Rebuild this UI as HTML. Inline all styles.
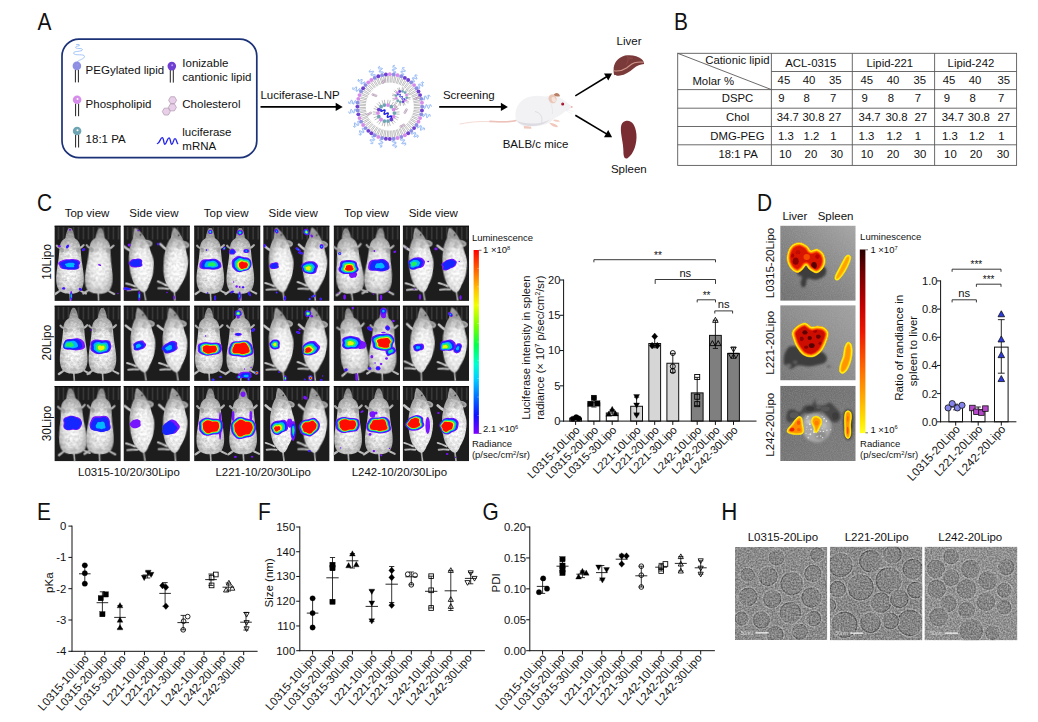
<!DOCTYPE html>
<html><head><meta charset="utf-8"><title>Figure</title>
<style>
html,body{margin:0;padding:0;background:#fff;}
body{width:1038px;height:722px;overflow:hidden;font-family:"Liberation Sans",sans-serif;}
svg{display:block;font-family:"Liberation Sans",sans-serif;}
</style></head><body>
<svg width="1038" height="722" viewBox="0 0 1038 722">
<defs>
<filter id="mblur" x="-10%" y="-10%" width="120%" height="120%"><feGaussianBlur stdDeviation="0.7"/></filter>
<radialGradient id="mg" cx="50%" cy="55%" r="60%"><stop offset="0" stop-color="#f6f6f6"/><stop offset="0.55" stop-color="#dedede"/><stop offset="1" stop-color="#9c9c9c"/></radialGradient><radialGradient id="mg2" cx="55%" cy="55%" r="60%"><stop offset="0" stop-color="#fafafa"/><stop offset="0.6" stop-color="#e6e6e6"/><stop offset="1" stop-color="#a2a2a2"/></radialGradient><filter id="pb" x="-20%" y="-10%" width="140%" height="120%" color-interpolation-filters="sRGB"><feGaussianBlur in="SourceGraphic" stdDeviation="0.55" result="b"/><feTurbulence type="fractalNoise" baseFrequency="0.4" numOctaves="2" seed="5" result="n"/><feColorMatrix in="n" type="matrix" values="1.5 0 0 0 -0.25  1.5 0 0 0 -0.25  1.5 0 0 0 -0.25  0 0 0 0 1" result="g"/><feComposite in="b" in2="g" operator="arithmetic" k1="0.22" k2="0.89" k3="0" k4="0"/></filter><filter id="bb" x="-20%" y="-20%" width="140%" height="140%"><feGaussianBlur stdDeviation="0.32"/></filter><g id="cbg"><rect x="0" y="0" width="66.4" height="75.4" fill="#1d1d1d" stroke="none" stroke-width="1" rx="0" /><rect x="3.2" y="1.5" width="1.7" height="12.5" fill="#3c3c3c" stroke="none" stroke-width="1" rx="0" opacity="0.85"/><rect x="8.2" y="1.5" width="1.7" height="12.5" fill="#3c3c3c" stroke="none" stroke-width="1" rx="0" opacity="0.85"/><rect x="13.2" y="1.5" width="1.7" height="12.5" fill="#3c3c3c" stroke="none" stroke-width="1" rx="0" opacity="0.85"/><rect x="18.2" y="1.5" width="1.7" height="12.5" fill="#3c3c3c" stroke="none" stroke-width="1" rx="0" opacity="0.85"/><rect x="23.2" y="1.5" width="1.7" height="12.5" fill="#3c3c3c" stroke="none" stroke-width="1" rx="0" opacity="0.85"/><rect x="28.2" y="1.5" width="1.7" height="12.5" fill="#3c3c3c" stroke="none" stroke-width="1" rx="0" opacity="0.85"/><rect x="33.2" y="1.5" width="1.7" height="12.5" fill="#3c3c3c" stroke="none" stroke-width="1" rx="0" opacity="0.85"/><rect x="38.2" y="1.5" width="1.7" height="12.5" fill="#3c3c3c" stroke="none" stroke-width="1" rx="0" opacity="0.85"/><rect x="43.2" y="1.5" width="1.7" height="12.5" fill="#3c3c3c" stroke="none" stroke-width="1" rx="0" opacity="0.85"/><rect x="48.2" y="1.5" width="1.7" height="12.5" fill="#3c3c3c" stroke="none" stroke-width="1" rx="0" opacity="0.85"/><rect x="53.2" y="1.5" width="1.7" height="12.5" fill="#3c3c3c" stroke="none" stroke-width="1" rx="0" opacity="0.85"/><rect x="58.2" y="1.5" width="1.7" height="12.5" fill="#3c3c3c" stroke="none" stroke-width="1" rx="0" opacity="0.85"/><rect x="63.2" y="1.5" width="1.7" height="12.5" fill="#3c3c3c" stroke="none" stroke-width="1" rx="0" opacity="0.85"/><rect x="0" y="0" width="66.4" height="1.2" fill="#101010" stroke="none" stroke-width="1" rx="0" /></g><g id="mtop" filter="url(#pb)"><path d="M0 66 L0.6 75.4" fill="none" stroke="#a9a9a9" stroke-width="1.6" /><path d="M-8 64 Q -11 66.5 -14 68.5" fill="none" stroke="#bdbdbd" stroke-width="2.2" stroke-linecap="round"/><path d="M8 64 Q 11 66 15 68" fill="none" stroke="#bdbdbd" stroke-width="2" stroke-linecap="round"/><path d="M-8.5 23 Q -11 22.5 -12.4 20.2" fill="none" stroke="#a8a8a8" stroke-width="2.2" stroke-linecap="round"/><path d="M8.5 23 Q 11 22 12.8 19.6" fill="none" stroke="#a8a8a8" stroke-width="2.2" stroke-linecap="round"/><path d="M-4.6 13.5 Q -3.6 6 -1.2 2.6 L 1.2 2.6 Q 3.6 6 4.6 13.5 Z" fill="#8a8a8a" stroke="none" stroke-width="1" /><path d="M-3 9 Q 0 5 3 9 L 3.8 13.5 L -3.8 13.5 Z" fill="#a2a2a2" stroke="none" stroke-width="1" /><path d="M-4 12.4 C -6.8 13.8, -8.8 16, -9.4 19.5 C -10 23, -10.1 26, -10.5 30 C -11 36, -12.2 42, -12.8 48 C -13.4 54, -13.2 60, -10.8 64 C -8.2 67.6, -3.5 68.4, 0 68.4 C 3.5 68.4, 8.2 67.6, 10.8 64 C 13.2 60, 13.4 54, 12.8 48 C 12.2 42, 11 36, 10.5 30 C 10.1 26, 10 23, 9.4 19.5 C 8.8 16, 6.8 13.8, 4 12.4 Z" fill="url(#mg)" stroke="none" stroke-width="1" /><ellipse cx="-7.5" cy="24.5" rx="2" ry="2.6" fill="#8c8c8c" stroke="none" stroke-width="1" opacity="0.55"/><ellipse cx="7.5" cy="24.5" rx="2" ry="2.6" fill="#8c8c8c" stroke="none" stroke-width="1" opacity="0.55"/><ellipse cx="-3" cy="24" rx="2.2" ry="1.4" fill="#b4b4b4" stroke="none" stroke-width="1" opacity="0.7"/><ellipse cx="3.5" cy="23.5" rx="2" ry="1.3" fill="#b9b9b9" stroke="none" stroke-width="1" opacity="0.6"/><ellipse cx="0" cy="64" rx="3.5" ry="1.8" fill="#b0b0b0" stroke="none" stroke-width="1" opacity="0.7"/><ellipse cx="-4" cy="55" rx="1.2" ry="0.9" fill="#b8b8b8" stroke="none" stroke-width="1" opacity="0.7"/><ellipse cx="4.5" cy="57" rx="1" ry="0.8" fill="#b8b8b8" stroke="none" stroke-width="1" opacity="0.7"/></g><g id="mside" filter="url(#pb)"><path d="M2.2 66 L3.4 75.4" fill="none" stroke="#a9a9a9" stroke-width="1.7" /><path d="M-6 60.5 Q -10 58.5 -15 57" fill="none" stroke="#c4c4c4" stroke-width="2" stroke-linecap="round"/><path d="M-4 63.8 Q -9 63.2 -14 63.8" fill="none" stroke="#bdbdbd" stroke-width="1.9" stroke-linecap="round"/><path d="M-7.5 25 Q -11.5 23 -15 19.6" fill="none" stroke="#c9c9c9" stroke-width="2.6" stroke-linecap="round"/><ellipse cx="9.8" cy="18.2" rx="4.4" ry="3" fill="#a4a4a4" stroke="none" stroke-width="1" transform="rotate(25 9.8 18.2)" /><ellipse cx="9.4" cy="18.2" rx="2.6" ry="1.7" fill="#8a8a8a" stroke="none" stroke-width="1" transform="rotate(25 9.4 18.2)" /><path d="M-5.2 13.4 Q -4.6 6.5 -3.2 2.4 L -1.6 2.2 Q 3.4 5.6 8 15.2 Z" fill="#9c9c9c" stroke="none" stroke-width="1" /><ellipse cx="2.6" cy="9.4" rx="0.9" ry="0.9" fill="#3a3a3a" stroke="none" stroke-width="1" /><path d="M-4.9 12.4 C -7 15, -9 20, -9.5 24.9 C -10.2 28, -10.8 31, -10.6 34 C -10.6 39, -10.6 43, -10 47.6 C -9 53, -7.5 58, -4.9 61.2 C -2.5 64.5, 0 67.2, 2.4 66.9 C 5 66.5, 6.5 63, 7.6 60.1 C 10 56, 12 52, 12.7 47.6 C 13.6 43, 14.2 39, 13.8 35 C 13.4 31, 12.2 28.5, 11.5 26 C 10.8 22, 9.5 18, 7.4 14.6 Z" fill="url(#mg2)" stroke="none" stroke-width="1" /><ellipse cx="3.4" cy="19.5" rx="2.6" ry="3.4" fill="#b4b4b4" stroke="none" stroke-width="1" transform="rotate(20 3.4 19.5)" opacity="0.75"/></g><linearGradient id="rb" x1="0" y1="0" x2="0" y2="1"><stop offset="0" stop-color="#ff0000"/><stop offset="0.10" stop-color="#ff5a00"/><stop offset="0.22" stop-color="#ffc800"/><stop offset="0.30" stop-color="#f0ff00"/><stop offset="0.42" stop-color="#70ff00"/><stop offset="0.52" stop-color="#00ff50"/><stop offset="0.62" stop-color="#00ffd0"/><stop offset="0.70" stop-color="#00d0ff"/><stop offset="0.80" stop-color="#0070ff"/><stop offset="0.90" stop-color="#1010ff"/><stop offset="1" stop-color="#8000ff"/></linearGradient><linearGradient id="hot" x1="0" y1="0" x2="0" y2="1"><stop offset="0" stop-color="#2a0000"/><stop offset="0.12" stop-color="#700000"/><stop offset="0.3" stop-color="#c00000"/><stop offset="0.45" stop-color="#ee1800"/><stop offset="0.65" stop-color="#ff6a00"/><stop offset="0.82" stop-color="#ffb000"/><stop offset="0.94" stop-color="#ffe800"/><stop offset="1" stop-color="#ffff20"/></linearGradient><linearGradient id="dbg1" x1="0" y1="1" x2="1" y2="0"><stop offset="0" stop-color="#6e6e6e"/><stop offset="0.5" stop-color="#868686"/><stop offset="1" stop-color="#a6a6a6"/></linearGradient><linearGradient id="dbg2" x1="0" y1="1" x2="1" y2="0"><stop offset="0" stop-color="#747474"/><stop offset="0.5" stop-color="#8c8c8c"/><stop offset="1" stop-color="#a2a2a2"/></linearGradient><linearGradient id="dbg3" x1="0" y1="0" x2="1" y2="1"><stop offset="0" stop-color="#6a6a6a"/><stop offset="1" stop-color="#7c7c7c"/></linearGradient><filter id="db" x="-20%" y="-20%" width="140%" height="140%"><feGaussianBlur stdDeviation="0.8"/></filter><filter id="db2" x="-20%" y="-20%" width="140%" height="140%"><feGaussianBlur stdDeviation="0.45"/></filter><filter id="dn" x="0" y="0" width="100%" height="100%"><feTurbulence type="fractalNoise" baseFrequency="0.9" numOctaves="2" seed="4"/><feColorMatrix type="matrix" values="0 0 0 0 0.5  0 0 0 0 0.5  0 0 0 0 0.5  0.9 0 0 0 -0.28"/></filter><filter id="tn0" x="0" y="0" width="100%" height="100%" color-interpolation-filters="sRGB"><feTurbulence type="fractalNoise" baseFrequency="0.62" numOctaves="2" seed="11" result="n"/><feColorMatrix in="n" type="matrix" values="1.6 0 0 0 -0.3  1.6 0 0 0 -0.3  1.6 0 0 0 -0.3  0 0 0 0 1" result="g"/><feGaussianBlur in="SourceGraphic" stdDeviation="0.45" result="b"/><feComposite in="b" in2="g" operator="arithmetic" k1="0" k2="1" k3="0.28" k4="-0.14"/></filter><filter id="tn1" x="0" y="0" width="100%" height="100%" color-interpolation-filters="sRGB"><feTurbulence type="fractalNoise" baseFrequency="0.62" numOctaves="2" seed="23" result="n"/><feColorMatrix in="n" type="matrix" values="1.6 0 0 0 -0.3  1.6 0 0 0 -0.3  1.6 0 0 0 -0.3  0 0 0 0 1" result="g"/><feGaussianBlur in="SourceGraphic" stdDeviation="0.45" result="b"/><feComposite in="b" in2="g" operator="arithmetic" k1="0" k2="1" k3="0.28" k4="-0.14"/></filter><filter id="tn2" x="0" y="0" width="100%" height="100%" color-interpolation-filters="sRGB"><feTurbulence type="fractalNoise" baseFrequency="0.62" numOctaves="2" seed="37" result="n"/><feColorMatrix in="n" type="matrix" values="1.6 0 0 0 -0.3  1.6 0 0 0 -0.3  1.6 0 0 0 -0.3  0 0 0 0 1" result="g"/><feGaussianBlur in="SourceGraphic" stdDeviation="0.45" result="b"/><feComposite in="b" in2="g" operator="arithmetic" k1="0" k2="1" k3="0.28" k4="-0.14"/></filter>
</defs>
<rect width="1038" height="722" fill="#fff"/>
<g id="panel_a"><text x="0" y="0" font-size="24" text-anchor="start" fill="#111" transform="translate(37.6 29.7) scale(0.87 1)" >A</text><rect x="62" y="39.1" width="194.8" height="118.6" fill="none" stroke="#1b3278" stroke-width="1.7" rx="17" /><path d="M77.0 62.0 C 79.5 59.5, 84.5 59.0, 84.5 56.4 C 84.5 53.4, 74.0 56.2, 73.6 53.2 C 73.3 50.6, 82.6 52.0, 82.4 49.6 C 82.2 47.6, 75.4 49.4, 75.6 47.2 C 75.8 45.6, 80.0 46.4, 79.6 45.0 C 79.2 44.0, 77.0 44.6, 76.0 44.6" fill="none" stroke="#8fb8f6" stroke-width="0.8" /><line x1="75.4" y1="69.7" x2="75.4" y2="82.4" stroke="#222" stroke-width="1" /><line x1="78.4" y1="69.7" x2="78.4" y2="82.4" stroke="#222" stroke-width="1" /><circle cx="76.9" cy="65.9" r="4.3" fill="#8d90e2" stroke="none" stroke-width="1" /><circle cx="77.3" cy="65.1" r="1" fill="#9f8ff0" stroke="none" stroke-width="1" /><text x="85.6" y="74.1" font-size="11.5" text-anchor="start" fill="#111" >PEGylated lipid</text><line x1="170.3" y1="69.9" x2="170.3" y2="82.6" stroke="#222" stroke-width="1" /><line x1="173.3" y1="69.9" x2="173.3" y2="82.6" stroke="#222" stroke-width="1" /><circle cx="171.8" cy="66.1" r="4.3" fill="#6f3fd2" stroke="none" stroke-width="1" /><circle cx="172.2" cy="65.3" r="1" fill="#b79cf0" stroke="none" stroke-width="1" /><text x="182.3" y="67.1" font-size="11.5" text-anchor="start" fill="#111" >Ionizable</text><text x="182.3" y="80.7" font-size="11.5" text-anchor="start" fill="#111" >cantionic lipid</text><line x1="75.6" y1="103.5" x2="75.6" y2="116.2" stroke="#222" stroke-width="1" /><line x1="78.6" y1="103.5" x2="78.6" y2="116.2" stroke="#222" stroke-width="1" /><circle cx="77.1" cy="99.7" r="4.3" fill="#d58cea" stroke="none" stroke-width="1" /><circle cx="77.5" cy="98.9" r="1" fill="#ffffff" stroke="none" stroke-width="1" /><text x="85.6" y="108.2" font-size="11.5" text-anchor="start" fill="#111" >Phospholipid</text><polygon points="176.6,100.2 174.6,103.66 170.6,103.66 168.6,100.2 170.6,96.74 174.6,96.74" fill="#e8d0e8" stroke="#b095b0" stroke-width="0.7" /><polygon points="176.4,107.4 174.4,110.86 170.4,110.86 168.4,107.4 170.4,103.94 174.4,103.94" fill="#e8d0e8" stroke="#b095b0" stroke-width="0.7" /><polygon points="170.3,111.6 168.3,115.06 164.3,115.06 162.3,111.6 164.3,108.14 168.3,108.14" fill="#e8d0e8" stroke="#b095b0" stroke-width="0.7" /><text x="182.3" y="108.2" font-size="11.5" text-anchor="start" fill="#111" >Cholesterol</text><line x1="75.6" y1="134.8" x2="75.6" y2="147.5" stroke="#222" stroke-width="1" /><line x1="78.6" y1="134.8" x2="78.6" y2="147.5" stroke="#222" stroke-width="1" /><circle cx="77.1" cy="131" r="4.3" fill="#6fa5b3" stroke="none" stroke-width="1" /><circle cx="77.5" cy="130.2" r="1" fill="#ffffff" stroke="none" stroke-width="1" /><text x="85.6" y="143.3" font-size="11.5" text-anchor="start" fill="#111" >18:1 PA</text><path d="M157.4 143.6 C 159.6 143.6, 160.4 137.6, 162.2 137.6 C 164 137.6, 163.4 144.2, 164.9 144.2 C 166.6 144.2, 167.2 137.8, 169.0 137.8 C 170.8 137.8, 170.2 144.2, 171.8 144.2 C 173.4 144.2, 173.4 138.6, 175.0 138.6 C 176.6 138.6, 176.6 143.0, 177.7 143.6" fill="none" stroke="#2222ea" stroke-width="1.35" stroke-linecap="round" stroke-linejoin="round"/><text x="182.3" y="135.8" font-size="11.5" text-anchor="start" fill="#111" >luciferase</text><text x="182.3" y="149.6" font-size="11.5" text-anchor="start" fill="#111" >mRNA</text><text x="260.4" y="99.4" font-size="11.5" text-anchor="start" fill="#111" >Luciferase-LNP</text><line x1="260.5" y1="106.9" x2="336.7" y2="106.9" stroke="#000" stroke-width="1.6" /><polygon points="342.7,106.9 335.7,111 335.7,102.8" fill="#000" stroke="none" stroke-width="1" /><line x1="420.68" y1="105.52" x2="413.79" y2="105.76" stroke="#a2a2a2" stroke-width="0.7" /><line x1="420.68" y1="107.68" x2="413.79" y2="107.44" stroke="#a2a2a2" stroke-width="0.7" /><line x1="420.59" y1="109.25" x2="413.71" y2="108.66" stroke="#a2a2a2" stroke-width="0.7" /><line x1="420.33" y1="111.4" x2="413.51" y2="110.32" stroke="#a2a2a2" stroke-width="0.7" /><line x1="420.04" y1="112.94" x2="413.29" y2="111.52" stroke="#a2a2a2" stroke-width="0.7" /><line x1="419.52" y1="115.04" x2="412.89" y2="113.16" stroke="#a2a2a2" stroke-width="0.7" /><line x1="419.06" y1="116.54" x2="412.52" y2="114.32" stroke="#a2a2a2" stroke-width="0.7" /><line x1="418.29" y1="118.56" x2="411.93" y2="115.89" stroke="#a2a2a2" stroke-width="0.7" /><line x1="417.65" y1="119.99" x2="411.43" y2="117" stroke="#a2a2a2" stroke-width="0.7" /><line x1="416.64" y1="121.91" x2="410.65" y2="118.49" stroke="#a2a2a2" stroke-width="0.7" /><line x1="415.83" y1="123.25" x2="410.02" y2="119.53" stroke="#a2a2a2" stroke-width="0.7" /><line x1="414.6" y1="125.03" x2="409.06" y2="120.92" stroke="#a2a2a2" stroke-width="0.7" /><line x1="413.63" y1="126.27" x2="408.31" y2="121.88" stroke="#a2a2a2" stroke-width="0.7" /><line x1="412.2" y1="127.89" x2="407.2" y2="123.13" stroke="#a2a2a2" stroke-width="0.7" /><line x1="411.09" y1="129" x2="406.33" y2="124" stroke="#a2a2a2" stroke-width="0.7" /><line x1="409.47" y1="130.43" x2="405.08" y2="125.11" stroke="#a2a2a2" stroke-width="0.7" /><line x1="408.23" y1="131.4" x2="404.12" y2="125.86" stroke="#a2a2a2" stroke-width="0.7" /><line x1="406.45" y1="132.63" x2="402.73" y2="126.82" stroke="#a2a2a2" stroke-width="0.7" /><line x1="405.11" y1="133.44" x2="401.69" y2="127.45" stroke="#a2a2a2" stroke-width="0.7" /><line x1="403.19" y1="134.45" x2="400.2" y2="128.23" stroke="#a2a2a2" stroke-width="0.7" /><line x1="401.76" y1="135.09" x2="399.09" y2="128.73" stroke="#a2a2a2" stroke-width="0.7" /><line x1="399.74" y1="135.86" x2="397.52" y2="129.32" stroke="#a2a2a2" stroke-width="0.7" /><line x1="398.24" y1="136.32" x2="396.36" y2="129.69" stroke="#a2a2a2" stroke-width="0.7" /><line x1="396.14" y1="136.84" x2="394.72" y2="130.09" stroke="#a2a2a2" stroke-width="0.7" /><line x1="394.6" y1="137.13" x2="393.52" y2="130.31" stroke="#a2a2a2" stroke-width="0.7" /><line x1="392.45" y1="137.39" x2="391.86" y2="130.51" stroke="#a2a2a2" stroke-width="0.7" /><line x1="390.88" y1="137.48" x2="390.64" y2="130.59" stroke="#a2a2a2" stroke-width="0.7" /><line x1="388.72" y1="137.48" x2="388.96" y2="130.59" stroke="#a2a2a2" stroke-width="0.7" /><line x1="387.15" y1="137.39" x2="387.74" y2="130.51" stroke="#a2a2a2" stroke-width="0.7" /><line x1="385" y1="137.13" x2="386.08" y2="130.31" stroke="#a2a2a2" stroke-width="0.7" /><line x1="383.46" y1="136.84" x2="384.88" y2="130.09" stroke="#a2a2a2" stroke-width="0.7" /><line x1="381.36" y1="136.32" x2="383.24" y2="129.69" stroke="#a2a2a2" stroke-width="0.7" /><line x1="379.86" y1="135.86" x2="382.08" y2="129.32" stroke="#a2a2a2" stroke-width="0.7" /><line x1="377.84" y1="135.09" x2="380.51" y2="128.73" stroke="#a2a2a2" stroke-width="0.7" /><line x1="376.41" y1="134.45" x2="379.4" y2="128.23" stroke="#a2a2a2" stroke-width="0.7" /><line x1="374.49" y1="133.44" x2="377.91" y2="127.45" stroke="#a2a2a2" stroke-width="0.7" /><line x1="373.15" y1="132.63" x2="376.87" y2="126.82" stroke="#a2a2a2" stroke-width="0.7" /><line x1="371.37" y1="131.4" x2="375.48" y2="125.86" stroke="#a2a2a2" stroke-width="0.7" /><line x1="370.13" y1="130.43" x2="374.52" y2="125.11" stroke="#a2a2a2" stroke-width="0.7" /><line x1="368.51" y1="129" x2="373.27" y2="124" stroke="#a2a2a2" stroke-width="0.7" /><line x1="367.4" y1="127.89" x2="372.4" y2="123.13" stroke="#a2a2a2" stroke-width="0.7" /><line x1="365.97" y1="126.27" x2="371.29" y2="121.88" stroke="#a2a2a2" stroke-width="0.7" /><line x1="365" y1="125.03" x2="370.54" y2="120.92" stroke="#a2a2a2" stroke-width="0.7" /><line x1="363.77" y1="123.25" x2="369.58" y2="119.53" stroke="#a2a2a2" stroke-width="0.7" /><line x1="362.96" y1="121.91" x2="368.95" y2="118.49" stroke="#a2a2a2" stroke-width="0.7" /><line x1="361.95" y1="119.99" x2="368.17" y2="117" stroke="#a2a2a2" stroke-width="0.7" /><line x1="361.31" y1="118.56" x2="367.67" y2="115.89" stroke="#a2a2a2" stroke-width="0.7" /><line x1="360.54" y1="116.54" x2="367.08" y2="114.32" stroke="#a2a2a2" stroke-width="0.7" /><line x1="360.08" y1="115.04" x2="366.71" y2="113.16" stroke="#a2a2a2" stroke-width="0.7" /><line x1="359.56" y1="112.94" x2="366.31" y2="111.52" stroke="#a2a2a2" stroke-width="0.7" /><line x1="359.27" y1="111.4" x2="366.09" y2="110.32" stroke="#a2a2a2" stroke-width="0.7" /><line x1="359.01" y1="109.25" x2="365.89" y2="108.66" stroke="#a2a2a2" stroke-width="0.7" /><line x1="358.92" y1="107.68" x2="365.81" y2="107.44" stroke="#a2a2a2" stroke-width="0.7" /><line x1="358.92" y1="105.52" x2="365.81" y2="105.76" stroke="#a2a2a2" stroke-width="0.7" /><line x1="359.01" y1="103.95" x2="365.89" y2="104.54" stroke="#a2a2a2" stroke-width="0.7" /><line x1="359.27" y1="101.8" x2="366.09" y2="102.88" stroke="#a2a2a2" stroke-width="0.7" /><line x1="359.56" y1="100.26" x2="366.31" y2="101.68" stroke="#a2a2a2" stroke-width="0.7" /><line x1="360.08" y1="98.16" x2="366.71" y2="100.04" stroke="#a2a2a2" stroke-width="0.7" /><line x1="360.54" y1="96.66" x2="367.08" y2="98.88" stroke="#a2a2a2" stroke-width="0.7" /><line x1="361.31" y1="94.64" x2="367.67" y2="97.31" stroke="#a2a2a2" stroke-width="0.7" /><line x1="361.95" y1="93.21" x2="368.17" y2="96.2" stroke="#a2a2a2" stroke-width="0.7" /><line x1="362.96" y1="91.29" x2="368.95" y2="94.71" stroke="#a2a2a2" stroke-width="0.7" /><line x1="363.77" y1="89.95" x2="369.58" y2="93.67" stroke="#a2a2a2" stroke-width="0.7" /><line x1="365" y1="88.17" x2="370.54" y2="92.28" stroke="#a2a2a2" stroke-width="0.7" /><line x1="365.97" y1="86.93" x2="371.29" y2="91.32" stroke="#a2a2a2" stroke-width="0.7" /><line x1="367.4" y1="85.31" x2="372.4" y2="90.07" stroke="#a2a2a2" stroke-width="0.7" /><line x1="368.51" y1="84.2" x2="373.27" y2="89.2" stroke="#a2a2a2" stroke-width="0.7" /><line x1="370.13" y1="82.77" x2="374.52" y2="88.09" stroke="#a2a2a2" stroke-width="0.7" /><line x1="371.37" y1="81.8" x2="375.48" y2="87.34" stroke="#a2a2a2" stroke-width="0.7" /><line x1="373.15" y1="80.57" x2="376.87" y2="86.38" stroke="#a2a2a2" stroke-width="0.7" /><line x1="374.49" y1="79.76" x2="377.91" y2="85.75" stroke="#a2a2a2" stroke-width="0.7" /><line x1="376.41" y1="78.75" x2="379.4" y2="84.97" stroke="#a2a2a2" stroke-width="0.7" /><line x1="377.84" y1="78.11" x2="380.51" y2="84.47" stroke="#a2a2a2" stroke-width="0.7" /><line x1="379.86" y1="77.34" x2="382.08" y2="83.88" stroke="#a2a2a2" stroke-width="0.7" /><line x1="381.36" y1="76.88" x2="383.24" y2="83.51" stroke="#a2a2a2" stroke-width="0.7" /><line x1="383.46" y1="76.36" x2="384.88" y2="83.11" stroke="#a2a2a2" stroke-width="0.7" /><line x1="385" y1="76.07" x2="386.08" y2="82.89" stroke="#a2a2a2" stroke-width="0.7" /><line x1="387.15" y1="75.81" x2="387.74" y2="82.69" stroke="#a2a2a2" stroke-width="0.7" /><line x1="388.72" y1="75.72" x2="388.96" y2="82.61" stroke="#a2a2a2" stroke-width="0.7" /><line x1="390.88" y1="75.72" x2="390.64" y2="82.61" stroke="#a2a2a2" stroke-width="0.7" /><line x1="392.45" y1="75.81" x2="391.86" y2="82.69" stroke="#a2a2a2" stroke-width="0.7" /><line x1="394.6" y1="76.07" x2="393.52" y2="82.89" stroke="#a2a2a2" stroke-width="0.7" /><line x1="396.14" y1="76.36" x2="394.72" y2="83.11" stroke="#a2a2a2" stroke-width="0.7" /><line x1="398.24" y1="76.88" x2="396.36" y2="83.51" stroke="#a2a2a2" stroke-width="0.7" /><line x1="399.74" y1="77.34" x2="397.52" y2="83.88" stroke="#a2a2a2" stroke-width="0.7" /><line x1="401.76" y1="78.11" x2="399.09" y2="84.47" stroke="#a2a2a2" stroke-width="0.7" /><line x1="403.19" y1="78.75" x2="400.2" y2="84.97" stroke="#a2a2a2" stroke-width="0.7" /><line x1="405.11" y1="79.76" x2="401.69" y2="85.75" stroke="#a2a2a2" stroke-width="0.7" /><line x1="406.45" y1="80.57" x2="402.73" y2="86.38" stroke="#a2a2a2" stroke-width="0.7" /><line x1="408.23" y1="81.8" x2="404.12" y2="87.34" stroke="#a2a2a2" stroke-width="0.7" /><line x1="409.47" y1="82.77" x2="405.08" y2="88.09" stroke="#a2a2a2" stroke-width="0.7" /><line x1="411.09" y1="84.2" x2="406.33" y2="89.2" stroke="#a2a2a2" stroke-width="0.7" /><line x1="412.2" y1="85.31" x2="407.2" y2="90.07" stroke="#a2a2a2" stroke-width="0.7" /><line x1="413.63" y1="86.93" x2="408.31" y2="91.32" stroke="#a2a2a2" stroke-width="0.7" /><line x1="414.6" y1="88.17" x2="409.06" y2="92.28" stroke="#a2a2a2" stroke-width="0.7" /><line x1="415.83" y1="89.95" x2="410.02" y2="93.67" stroke="#a2a2a2" stroke-width="0.7" /><line x1="416.64" y1="91.29" x2="410.65" y2="94.71" stroke="#a2a2a2" stroke-width="0.7" /><line x1="417.65" y1="93.21" x2="411.43" y2="96.2" stroke="#a2a2a2" stroke-width="0.7" /><line x1="418.29" y1="94.64" x2="411.93" y2="97.31" stroke="#a2a2a2" stroke-width="0.7" /><line x1="419.06" y1="96.66" x2="412.52" y2="98.88" stroke="#a2a2a2" stroke-width="0.7" /><line x1="419.52" y1="98.16" x2="412.89" y2="100.04" stroke="#a2a2a2" stroke-width="0.7" /><line x1="420.04" y1="100.26" x2="413.29" y2="101.68" stroke="#a2a2a2" stroke-width="0.7" /><line x1="420.33" y1="101.8" x2="413.51" y2="102.88" stroke="#a2a2a2" stroke-width="0.7" /><line x1="420.59" y1="103.95" x2="413.71" y2="104.54" stroke="#a2a2a2" stroke-width="0.7" /><path d="M423.7 106.6 L424.02 107.6 L424.34 108.33 L424.66 108.6 L424.98 108.33 L425.3 107.6 L425.62 106.6 L425.95 105.6 L426.27 104.87 L426.59 104.6 L426.91 104.87 L427.23 105.6 L427.55 106.6 L427.87 107.6 L428.19 108.33 L428.51 108.6 L428.83 108.33 L429.15 107.6 L429.47 106.6 L429.8 105.6 L430.12 104.87 L430.44 104.6 L430.76 104.87 L431.08 105.6 L431.4 106.6" fill="none" stroke="#86aef2" stroke-width="0.95" /><path d="M423.7 105.7 L423.96 106.3 L424.22 106.74 L424.47 106.9 L424.73 106.74 L424.99 106.3 L425.25 105.7 L425.51 105.1 L425.77 104.66 L426.02 104.5 L426.28 104.66 L426.54 105.1 L426.8 105.7 L427.06 106.3 L427.32 106.74 L427.57 106.9 L427.83 106.74 L428.09 106.3 L428.35 105.7 L428.61 105.1 L428.87 104.66 L429.12 104.5 L429.38 104.66 L429.64 105.1 L429.9 105.7" fill="none" stroke="#a9c8f7" stroke-width="0.6" /><circle cx="422.2" cy="106.6" r="1.95" fill="#8d90e2" stroke="none" stroke-width="1" /><circle cx="421.96" cy="110.51" r="1.95" fill="#6f3fd2" stroke="none" stroke-width="1" /><path d="M422.71 114.71 L422.79 115.76 L422.92 116.55 L423.17 116.89 L423.55 116.7 L424.03 116.07 L424.58 115.17 L425.13 114.28 L425.62 113.65 L426 113.46 L426.24 113.8 L426.38 114.59 L426.45 115.63 L426.53 116.68 L426.66 117.47 L426.91 117.81 L427.28 117.62 L427.77 116.99 L428.32 116.09 L428.87 115.2 L429.36 114.57 L429.74 114.38 L429.98 114.72 L430.12 115.51 L430.19 116.56" fill="none" stroke="#86aef2" stroke-width="0.95" /><path d="M422.93 113.84 L423.04 114.48 L423.18 114.97 L423.4 115.19 L423.68 115.1 L424.04 114.73 L424.44 114.21 L424.83 113.69 L425.19 113.32 L425.47 113.23 L425.69 113.45 L425.83 113.94 L425.94 114.58 L426.05 115.23 L426.19 115.71 L426.41 115.93 L426.69 115.84 L427.05 115.47 L427.45 114.95 L427.84 114.43 L428.2 114.07 L428.48 113.97 L428.7 114.19 L428.84 114.68 L428.95 115.32" fill="none" stroke="#a9c8f7" stroke-width="0.6" /><circle cx="421.26" cy="114.35" r="1.95" fill="#8d90e2" stroke="none" stroke-width="1" /><circle cx="420.09" cy="118.09" r="1.95" fill="#d58cea" stroke="none" stroke-width="1" /><circle cx="418.49" cy="121.66" r="1.95" fill="#d58cea" stroke="none" stroke-width="1" /><path d="M417.7 125.86 L417.4 126.86 L417.24 127.65 L417.36 128.05 L417.77 128.01 L418.45 127.59 L419.28 126.95 L420.12 126.31 L420.8 125.89 L421.21 125.85 L421.32 126.25 L421.17 127.04 L420.87 128.04 L420.56 129.05 L420.41 129.83 L420.52 130.24 L420.94 130.2 L421.62 129.78 L422.45 129.14 L423.28 128.5 L423.96 128.08 L424.38 128.04 L424.49 128.44 L424.34 129.23 L424.04 130.23" fill="none" stroke="#86aef2" stroke-width="0.95" /><path d="M418.21 125.12 L418.08 125.76 L418.05 126.27 L418.17 126.54 L418.47 126.56 L418.93 126.34 L419.49 126 L420.04 125.65 L420.5 125.44 L420.81 125.45 L420.93 125.73 L420.89 126.24 L420.76 126.88 L420.63 127.52 L420.6 128.03 L420.72 128.31 L421.02 128.32 L421.48 128.11 L422.04 127.76 L422.59 127.41 L423.05 127.2 L423.36 127.21 L423.48 127.49 L423.44 128 L423.31 128.64" fill="none" stroke="#a9c8f7" stroke-width="0.6" /><circle cx="416.46" cy="125.01" r="1.95" fill="#8d90e2" stroke="none" stroke-width="1" /><circle cx="414.05" cy="128.09" r="1.95" fill="#6f3fd2" stroke="none" stroke-width="1" /><path d="M412.28 131.97 L411.74 132.88 L411.41 133.6 L411.42 134.02 L411.83 134.08 L412.6 133.84 L413.56 133.42 L414.52 132.99 L415.28 132.75 L415.69 132.81 L415.7 133.23 L415.37 133.95 L414.83 134.86 L414.3 135.76 L413.96 136.49 L413.97 136.9 L414.39 136.97 L415.15 136.72 L416.11 136.3 L417.07 135.87 L417.83 135.63 L418.24 135.69 L418.26 136.11 L417.92 136.83 L417.39 137.74" fill="none" stroke="#86aef2" stroke-width="0.95" /><path d="M412.95 131.38 L412.68 131.97 L412.52 132.45 L412.57 132.75 L412.86 132.84 L413.36 132.74 L413.98 132.54 L414.6 132.33 L415.1 132.24 L415.39 132.32 L415.44 132.62 L415.29 133.11 L415.01 133.7 L414.73 134.29 L414.57 134.77 L414.62 135.07 L414.92 135.16 L415.42 135.06 L416.04 134.86 L416.66 134.65 L417.16 134.56 L417.45 134.64 L417.5 134.94 L417.34 135.43 L417.06 136.02" fill="none" stroke="#a9c8f7" stroke-width="0.6" /><circle cx="411.29" cy="130.85" r="1.95" fill="#8d90e2" stroke="none" stroke-width="1" /><circle cx="408.21" cy="133.26" r="1.95" fill="#6f3fd2" stroke="none" stroke-width="1" /><circle cx="404.86" cy="135.29" r="1.95" fill="#d58cea" stroke="none" stroke-width="1" /><path d="M401.82 138.3 L401 138.95 L400.43 139.51 L400.29 139.91 L400.66 140.11 L401.45 140.15 L402.5 140.1 L403.55 140.04 L404.35 140.08 L404.72 140.29 L404.58 140.68 L404.01 141.24 L403.19 141.9 L402.37 142.55 L401.79 143.11 L401.66 143.51 L402.02 143.71 L402.82 143.75 L403.87 143.7 L404.92 143.64 L405.72 143.68 L406.08 143.89 L405.94 144.28 L405.37 144.84 L404.55 145.5" fill="none" stroke="#86aef2" stroke-width="0.95" /><path d="M402.66 137.98 L402.19 138.43 L401.87 138.83 L401.82 139.13 L402.06 139.31 L402.56 139.4 L403.21 139.43 L403.86 139.46 L404.37 139.54 L404.61 139.73 L404.55 140.02 L404.23 140.42 L403.76 140.88 L403.29 141.33 L402.97 141.73 L402.91 142.03 L403.16 142.21 L403.66 142.3 L404.31 142.33 L404.96 142.35 L405.47 142.44 L405.71 142.62 L405.65 142.92 L405.33 143.32 L404.86 143.78" fill="none" stroke="#a9c8f7" stroke-width="0.6" /><circle cx="401.29" cy="136.89" r="1.95" fill="#8d90e2" stroke="none" stroke-width="1" /><circle cx="397.55" cy="138.06" r="1.95" fill="#d58cea" stroke="none" stroke-width="1" /><path d="M393.89 140.25 L392.93 140.69 L392.24 141.1 L392.02 141.45 L392.32 141.74 L393.09 141.97 L394.12 142.16 L395.15 142.36 L395.91 142.59 L396.22 142.88 L395.99 143.23 L395.3 143.64 L394.35 144.07 L393.4 144.51 L392.71 144.92 L392.48 145.27 L392.79 145.56 L393.55 145.79 L394.58 145.99 L395.61 146.18 L396.38 146.41 L396.68 146.7 L396.46 147.05 L395.77 147.46 L394.81 147.9" fill="none" stroke="#86aef2" stroke-width="0.95" /><path d="M394.78 140.14 L394.22 140.47 L393.81 140.78 L393.68 141.06 L393.87 141.3 L394.34 141.5 L394.97 141.68 L395.59 141.87 L396.06 142.07 L396.25 142.31 L396.12 142.58 L395.72 142.89 L395.15 143.22 L394.59 143.55 L394.18 143.86 L394.06 144.14 L394.25 144.37 L394.71 144.58 L395.34 144.76 L395.97 144.94 L396.43 145.15 L396.62 145.39 L396.5 145.66 L396.09 145.97 L395.53 146.3" fill="none" stroke="#a9c8f7" stroke-width="0.6" /><circle cx="393.71" cy="138.76" r="1.95" fill="#8d90e2" stroke="none" stroke-width="1" /><circle cx="389.8" cy="139" r="1.95" fill="#6f3fd2" stroke="none" stroke-width="1" /><circle cx="385.89" cy="138.76" r="1.95" fill="#6f3fd2" stroke="none" stroke-width="1" /><path d="M381.69 139.51 L380.64 139.59 L379.85 139.72 L379.51 139.97 L379.7 140.35 L380.33 140.83 L381.23 141.38 L382.12 141.93 L382.75 142.42 L382.94 142.8 L382.6 143.04 L381.81 143.18 L380.77 143.25 L379.72 143.33 L378.93 143.46 L378.59 143.71 L378.78 144.08 L379.41 144.57 L380.31 145.12 L381.2 145.67 L381.83 146.16 L382.02 146.54 L381.68 146.78 L380.89 146.92 L379.84 146.99" fill="none" stroke="#86aef2" stroke-width="0.95" /><path d="M382.56 139.73 L381.92 139.84 L381.43 139.98 L381.21 140.2 L381.3 140.48 L381.67 140.84 L382.19 141.24 L382.71 141.63 L383.08 141.99 L383.17 142.27 L382.95 142.49 L382.46 142.63 L381.82 142.74 L381.17 142.85 L380.69 142.99 L380.47 143.21 L380.56 143.49 L380.93 143.85 L381.45 144.25 L381.97 144.64 L382.33 145 L382.43 145.28 L382.21 145.5 L381.72 145.64 L381.08 145.75" fill="none" stroke="#a9c8f7" stroke-width="0.6" /><circle cx="382.05" cy="138.06" r="1.95" fill="#8d90e2" stroke="none" stroke-width="1" /><circle cx="378.31" cy="136.89" r="1.95" fill="#d58cea" stroke="none" stroke-width="1" /><path d="M374.05 136.62 L373.01 136.44 L372.21 136.38 L371.83 136.54 L371.92 136.95 L372.41 137.57 L373.15 138.32 L373.89 139.07 L374.39 139.69 L374.47 140.1 L374.09 140.26 L373.29 140.21 L372.26 140.03 L371.22 139.85 L370.42 139.79 L370.04 139.95 L370.13 140.36 L370.63 140.98 L371.36 141.73 L372.1 142.48 L372.6 143.1 L372.69 143.51 L372.3 143.67 L371.5 143.62 L370.47 143.43" fill="none" stroke="#86aef2" stroke-width="0.95" /><path d="M374.84 137.04 L374.19 136.99 L373.68 137.01 L373.42 137.16 L373.44 137.47 L373.71 137.9 L374.12 138.41 L374.53 138.92 L374.8 139.35 L374.82 139.65 L374.56 139.81 L374.05 139.83 L373.4 139.78 L372.75 139.73 L372.24 139.75 L371.98 139.91 L372 140.21 L372.27 140.65 L372.68 141.15 L373.09 141.66 L373.36 142.09 L373.38 142.4 L373.12 142.55 L372.61 142.58 L371.96 142.53" fill="none" stroke="#a9c8f7" stroke-width="0.6" /><circle cx="374.74" cy="135.29" r="1.95" fill="#8d90e2" stroke="none" stroke-width="1" /><circle cx="371.39" cy="133.26" r="1.95" fill="#6f3fd2" stroke="none" stroke-width="1" /><circle cx="368.31" cy="130.85" r="1.95" fill="#6f3fd2" stroke="none" stroke-width="1" /><path d="M364.43 129.08 L363.52 128.54 L362.8 128.21 L362.38 128.22 L362.32 128.63 L362.56 129.4 L362.98 130.36 L363.41 131.32 L363.65 132.08 L363.59 132.49 L363.17 132.5 L362.45 132.17 L361.54 131.63 L360.64 131.1 L359.91 130.76 L359.5 130.77 L359.43 131.19 L359.68 131.95 L360.1 132.91 L360.53 133.87 L360.77 134.63 L360.71 135.04 L360.29 135.06 L359.57 134.72 L358.66 134.19" fill="none" stroke="#86aef2" stroke-width="0.95" /><path d="M365.02 129.75 L364.43 129.48 L363.95 129.32 L363.65 129.37 L363.56 129.66 L363.66 130.16 L363.86 130.78 L364.07 131.4 L364.16 131.9 L364.08 132.19 L363.78 132.24 L363.29 132.09 L362.7 131.81 L362.11 131.53 L361.63 131.37 L361.33 131.42 L361.24 131.72 L361.34 132.22 L361.54 132.84 L361.75 133.46 L361.84 133.96 L361.76 134.25 L361.46 134.3 L360.97 134.14 L360.38 133.86" fill="none" stroke="#a9c8f7" stroke-width="0.6" /><circle cx="365.55" cy="128.09" r="1.95" fill="#8d90e2" stroke="none" stroke-width="1" /><circle cx="363.14" cy="125.01" r="1.95" fill="#d58cea" stroke="none" stroke-width="1" /><path d="M359.78 122.35 L359.03 121.62 L358.41 121.12 L358 121.03 L357.84 121.42 L357.9 122.21 L358.08 123.25 L358.26 124.28 L358.32 125.08 L358.16 125.47 L357.75 125.38 L357.12 124.88 L356.37 124.14 L355.63 123.41 L355 122.91 L354.59 122.82 L354.43 123.21 L354.49 124 L354.67 125.04 L354.85 126.07 L354.91 126.87 L354.75 127.26 L354.34 127.17 L353.71 126.67 L352.97 125.93" fill="none" stroke="#86aef2" stroke-width="0.95" /><path d="M360.2 123.15 L359.69 122.74 L359.26 122.47 L358.96 122.45 L358.8 122.71 L358.78 123.22 L358.83 123.87 L358.88 124.52 L358.85 125.03 L358.7 125.29 L358.4 125.27 L357.96 125 L357.46 124.59 L356.95 124.18 L356.52 123.91 L356.21 123.89 L356.06 124.15 L356.03 124.66 L356.08 125.31 L356.13 125.96 L356.11 126.47 L355.96 126.73 L355.65 126.71 L355.22 126.44 L354.71 126.03" fill="none" stroke="#a9c8f7" stroke-width="0.6" /><circle cx="361.11" cy="121.66" r="1.95" fill="#8d90e2" stroke="none" stroke-width="1" /><circle cx="359.51" cy="118.09" r="1.95" fill="#d58cea" stroke="none" stroke-width="1" /><circle cx="358.34" cy="114.35" r="1.95" fill="#6f3fd2" stroke="none" stroke-width="1" /><path d="M356.15 110.69 L355.71 109.73 L355.3 109.04 L354.95 108.82 L354.66 109.12 L354.43 109.89 L354.24 110.92 L354.04 111.95 L353.81 112.71 L353.52 113.02 L353.17 112.79 L352.76 112.1 L352.33 111.15 L351.89 110.2 L351.48 109.51 L351.13 109.28 L350.84 109.59 L350.61 110.35 L350.41 111.38 L350.22 112.41 L349.99 113.18 L349.7 113.48 L349.35 113.26 L348.94 112.57 L348.5 111.61" fill="none" stroke="#86aef2" stroke-width="0.95" /><path d="M356.26 111.58 L355.93 111.02 L355.62 110.61 L355.34 110.48 L355.1 110.67 L354.9 111.14 L354.72 111.77 L354.53 112.39 L354.33 112.86 L354.09 113.05 L353.82 112.92 L353.51 112.52 L353.18 111.95 L352.85 111.39 L352.54 110.98 L352.26 110.86 L352.03 111.05 L351.82 111.51 L351.64 112.14 L351.46 112.77 L351.25 113.23 L351.01 113.42 L350.74 113.3 L350.43 112.89 L350.1 112.33" fill="none" stroke="#a9c8f7" stroke-width="0.6" /><circle cx="357.64" cy="110.51" r="1.95" fill="#8d90e2" stroke="none" stroke-width="1" /><circle cx="357.4" cy="106.6" r="1.95" fill="#6f3fd2" stroke="none" stroke-width="1" /><path d="M356.15 102.51 L355.95 101.48 L355.72 100.72 L355.43 100.41 L355.08 100.64 L354.68 101.33 L354.24 102.28 L353.8 103.24 L353.39 103.92 L353.04 104.15 L352.75 103.85 L352.52 103.08 L352.33 102.05 L352.13 101.02 L351.9 100.25 L351.61 99.95 L351.26 100.18 L350.85 100.86 L350.41 101.82 L349.98 102.77 L349.57 103.46 L349.22 103.69 L348.93 103.38 L348.7 102.62 L348.5 101.59" fill="none" stroke="#86aef2" stroke-width="0.95" /><path d="M356.04 103.41 L355.85 102.78 L355.65 102.31 L355.41 102.12 L355.14 102.25 L354.83 102.66 L354.5 103.22 L354.17 103.78 L353.86 104.19 L353.59 104.32 L353.35 104.13 L353.15 103.66 L352.96 103.03 L352.78 102.41 L352.57 101.94 L352.34 101.75 L352.06 101.88 L351.75 102.28 L351.42 102.85 L351.09 103.41 L350.78 103.82 L350.51 103.94 L350.27 103.75 L350.07 103.29 L349.88 102.66" fill="none" stroke="#a9c8f7" stroke-width="0.6" /><circle cx="357.64" cy="102.69" r="1.95" fill="#8d90e2" stroke="none" stroke-width="1" /><circle cx="358.34" cy="98.85" r="1.95" fill="#d58cea" stroke="none" stroke-width="1" /><circle cx="359.51" cy="95.11" r="1.95" fill="#d58cea" stroke="none" stroke-width="1" /><path d="M359.78 90.85 L359.96 89.81 L360.02 89.01 L359.86 88.63 L359.45 88.72 L358.83 89.21 L358.08 89.95 L357.33 90.69 L356.71 91.19 L356.3 91.27 L356.14 90.89 L356.19 90.09 L356.37 89.06 L356.55 88.02 L356.61 87.22 L356.45 86.84 L356.04 86.93 L355.42 87.43 L354.67 88.16 L353.92 88.9 L353.3 89.4 L352.89 89.49 L352.73 89.1 L352.78 88.3 L352.97 87.27" fill="none" stroke="#86aef2" stroke-width="0.95" /><path d="M359.36 91.64 L359.41 90.99 L359.39 90.48 L359.24 90.22 L358.93 90.24 L358.5 90.51 L357.99 90.92 L357.48 91.33 L357.05 91.6 L356.75 91.62 L356.59 91.36 L356.57 90.85 L356.62 90.2 L356.67 89.55 L356.65 89.04 L356.49 88.78 L356.19 88.8 L355.75 89.07 L355.25 89.48 L354.74 89.89 L354.31 90.16 L354 90.18 L353.85 89.92 L353.82 89.41 L353.87 88.76" fill="none" stroke="#a9c8f7" stroke-width="0.6" /><circle cx="361.11" cy="91.54" r="1.95" fill="#8d90e2" stroke="none" stroke-width="1" /><circle cx="363.14" cy="88.19" r="1.95" fill="#6f3fd2" stroke="none" stroke-width="1" /><path d="M364.43 84.12 L364.85 83.16 L365.09 82.4 L365.03 81.98 L364.61 81.97 L363.89 82.31 L362.98 82.84 L362.08 83.38 L361.36 83.71 L360.94 83.7 L360.88 83.29 L361.12 82.53 L361.54 81.57 L361.97 80.61 L362.21 79.85 L362.15 79.43 L361.73 79.42 L361.01 79.75 L360.1 80.29 L359.2 80.83 L358.47 81.16 L358.06 81.15 L357.99 80.74 L358.24 79.98 L358.66 79.01" fill="none" stroke="#86aef2" stroke-width="0.95" /><path d="M363.83 84.79 L364.03 84.17 L364.13 83.67 L364.04 83.38 L363.74 83.33 L363.26 83.49 L362.67 83.77 L362.08 84.04 L361.59 84.2 L361.29 84.15 L361.21 83.86 L361.3 83.36 L361.51 82.74 L361.71 82.12 L361.81 81.62 L361.72 81.33 L361.42 81.28 L360.94 81.43 L360.35 81.71 L359.76 81.99 L359.27 82.15 L358.97 82.09 L358.89 81.8 L358.98 81.3 L359.19 80.68" fill="none" stroke="#a9c8f7" stroke-width="0.6" /><circle cx="365.55" cy="85.11" r="1.95" fill="#8d90e2" stroke="none" stroke-width="1" /><circle cx="368.31" cy="82.35" r="1.95" fill="#d58cea" stroke="none" stroke-width="1" /><circle cx="371.39" cy="79.94" r="1.95" fill="#d58cea" stroke="none" stroke-width="1" /><path d="M374.05 76.58 L374.78 75.83 L375.28 75.21 L375.37 74.8 L374.98 74.64 L374.19 74.7 L373.15 74.88 L372.12 75.06 L371.32 75.12 L370.93 74.96 L371.02 74.55 L371.52 73.92 L372.26 73.17 L372.99 72.43 L373.49 71.8 L373.58 71.39 L373.19 71.23 L372.4 71.29 L371.36 71.47 L370.33 71.65 L369.53 71.71 L369.14 71.55 L369.23 71.14 L369.73 70.51 L370.47 69.77" fill="none" stroke="#86aef2" stroke-width="0.95" /><path d="M373.25 77 L373.66 76.49 L373.93 76.06 L373.95 75.76 L373.69 75.6 L373.18 75.58 L372.53 75.63 L371.88 75.68 L371.37 75.65 L371.11 75.5 L371.13 75.2 L371.4 74.76 L371.81 74.26 L372.22 73.75 L372.49 73.32 L372.51 73.01 L372.25 72.86 L371.74 72.83 L371.09 72.88 L370.44 72.93 L369.93 72.91 L369.67 72.76 L369.69 72.45 L369.96 72.02 L370.37 71.51" fill="none" stroke="#a9c8f7" stroke-width="0.6" /><circle cx="374.74" cy="77.91" r="1.95" fill="#8d90e2" stroke="none" stroke-width="1" /><circle cx="378.31" cy="76.31" r="1.95" fill="#6f3fd2" stroke="none" stroke-width="1" /><path d="M381.69 73.69 L382.58 73.13 L383.22 72.65 L383.4 72.27 L383.06 72.02 L382.27 71.89 L381.23 71.82 L380.18 71.74 L379.39 71.61 L379.05 71.36 L379.24 70.98 L379.87 70.5 L380.77 69.95 L381.66 69.4 L382.29 68.91 L382.48 68.53 L382.14 68.29 L381.35 68.15 L380.31 68.08 L379.26 68.01 L378.47 67.87 L378.13 67.62 L378.32 67.25 L378.95 66.76 L379.84 66.21" fill="none" stroke="#86aef2" stroke-width="0.95" /><path d="M380.81 73.9 L381.33 73.51 L381.7 73.15 L381.79 72.86 L381.58 72.65 L381.09 72.5 L380.44 72.4 L379.8 72.29 L379.31 72.14 L379.09 71.93 L379.19 71.64 L379.55 71.28 L380.07 70.89 L380.59 70.5 L380.96 70.14 L381.05 69.85 L380.83 69.64 L380.34 69.49 L379.7 69.39 L379.06 69.28 L378.57 69.13 L378.35 68.92 L378.44 68.63 L378.81 68.28 L379.33 67.88" fill="none" stroke="#a9c8f7" stroke-width="0.6" /><circle cx="382.05" cy="75.14" r="1.95" fill="#8d90e2" stroke="none" stroke-width="1" /><circle cx="385.89" cy="74.44" r="1.95" fill="#6f3fd2" stroke="none" stroke-width="1" /><circle cx="389.8" cy="74.2" r="1.95" fill="#d58cea" stroke="none" stroke-width="1" /><path d="M393.89 72.95 L394.92 72.75 L395.68 72.52 L395.99 72.23 L395.76 71.88 L395.07 71.48 L394.12 71.04 L393.16 70.6 L392.48 70.19 L392.25 69.84 L392.55 69.55 L393.32 69.32 L394.35 69.13 L395.38 68.93 L396.15 68.7 L396.45 68.41 L396.22 68.06 L395.54 67.65 L394.58 67.21 L393.63 66.78 L392.94 66.37 L392.71 66.02 L393.02 65.73 L393.78 65.5 L394.81 65.3" fill="none" stroke="#86aef2" stroke-width="0.95" /><path d="M392.99 72.84 L393.62 72.65 L394.09 72.45 L394.28 72.21 L394.15 71.94 L393.74 71.63 L393.18 71.3 L392.62 70.97 L392.21 70.66 L392.08 70.39 L392.27 70.15 L392.74 69.95 L393.37 69.76 L393.99 69.58 L394.46 69.37 L394.65 69.14 L394.52 68.86 L394.12 68.55 L393.55 68.22 L392.99 67.89 L392.58 67.58 L392.46 67.31 L392.65 67.07 L393.11 66.87 L393.74 66.68" fill="none" stroke="#a9c8f7" stroke-width="0.6" /><circle cx="393.71" cy="74.44" r="1.95" fill="#8d90e2" stroke="none" stroke-width="1" /><circle cx="397.55" cy="75.14" r="1.95" fill="#d58cea" stroke="none" stroke-width="1" /><path d="M401.82 74.9 L402.87 74.96 L403.67 74.92 L404.03 74.71 L403.9 74.32 L403.32 73.76 L402.5 73.1 L401.68 72.45 L401.11 71.89 L400.97 71.49 L401.34 71.29 L402.14 71.25 L403.19 71.3 L404.24 71.36 L405.03 71.32 L405.4 71.11 L405.26 70.72 L404.69 70.16 L403.87 69.5 L403.05 68.85 L402.48 68.29 L402.34 67.89 L402.7 67.69 L403.5 67.65 L404.55 67.7" fill="none" stroke="#86aef2" stroke-width="0.95" /><path d="M400.98 74.58 L401.63 74.56 L402.13 74.47 L402.38 74.28 L402.32 73.99 L402 73.59 L401.53 73.13 L401.06 72.68 L400.74 72.28 L400.68 71.98 L400.92 71.8 L401.43 71.71 L402.08 71.69 L402.73 71.66 L403.23 71.57 L403.48 71.39 L403.42 71.09 L403.1 70.69 L402.63 70.24 L402.16 69.78 L401.84 69.38 L401.78 69.09 L402.02 68.9 L402.53 68.82 L403.18 68.79" fill="none" stroke="#a9c8f7" stroke-width="0.6" /><circle cx="401.29" cy="76.31" r="1.95" fill="#8d90e2" stroke="none" stroke-width="1" /><circle cx="404.86" cy="77.91" r="1.95" fill="#6f3fd2" stroke="none" stroke-width="1" /><circle cx="408.21" cy="79.94" r="1.95" fill="#6f3fd2" stroke="none" stroke-width="1" /><path d="M412.28 81.23 L413.24 81.65 L414 81.89 L414.42 81.83 L414.43 81.41 L414.09 80.69 L413.56 79.78 L413.02 78.88 L412.69 78.16 L412.7 77.74 L413.11 77.68 L413.87 77.92 L414.83 78.34 L415.79 78.77 L416.55 79.01 L416.97 78.95 L416.98 78.53 L416.65 77.81 L416.11 76.9 L415.57 76 L415.24 75.27 L415.25 74.86 L415.66 74.79 L416.42 75.04 L417.39 75.46" fill="none" stroke="#86aef2" stroke-width="0.95" /><path d="M411.61 80.63 L412.23 80.83 L412.73 80.93 L413.02 80.84 L413.07 80.54 L412.91 80.06 L412.63 79.47 L412.36 78.88 L412.2 78.39 L412.25 78.09 L412.54 78.01 L413.04 78.1 L413.66 78.31 L414.28 78.51 L414.78 78.61 L415.07 78.52 L415.12 78.22 L414.97 77.74 L414.69 77.15 L414.41 76.56 L414.25 76.07 L414.31 75.77 L414.6 75.69 L415.1 75.78 L415.72 75.99" fill="none" stroke="#a9c8f7" stroke-width="0.6" /><circle cx="411.29" cy="82.35" r="1.95" fill="#8d90e2" stroke="none" stroke-width="1" /><circle cx="414.05" cy="85.11" r="1.95" fill="#d58cea" stroke="none" stroke-width="1" /><path d="M417.7 87.34 L418.53 87.98 L419.21 88.4 L419.63 88.44 L419.74 88.04 L419.59 87.25 L419.28 86.25 L418.98 85.24 L418.83 84.46 L418.94 84.06 L419.36 84.09 L420.04 84.51 L420.87 85.16 L421.7 85.8 L422.38 86.22 L422.8 86.25 L422.91 85.85 L422.76 85.07 L422.45 84.06 L422.15 83.06 L422 82.27 L422.11 81.87 L422.52 81.91 L423.2 82.33 L424.04 82.97" fill="none" stroke="#86aef2" stroke-width="0.95" /><path d="M417.19 86.6 L417.74 86.95 L418.2 87.16 L418.51 87.15 L418.63 86.87 L418.59 86.36 L418.46 85.72 L418.34 85.08 L418.3 84.57 L418.42 84.29 L418.72 84.28 L419.19 84.49 L419.74 84.84 L420.29 85.19 L420.75 85.4 L421.06 85.39 L421.18 85.11 L421.14 84.6 L421.01 83.96 L420.89 83.32 L420.85 82.81 L420.97 82.53 L421.27 82.52 L421.74 82.73 L422.29 83.08" fill="none" stroke="#a9c8f7" stroke-width="0.6" /><circle cx="416.46" cy="88.19" r="1.95" fill="#8d90e2" stroke="none" stroke-width="1" /><circle cx="418.49" cy="91.54" r="1.95" fill="#6f3fd2" stroke="none" stroke-width="1" /><circle cx="420.09" cy="95.11" r="1.95" fill="#6f3fd2" stroke="none" stroke-width="1" /><path d="M422.71 98.49 L423.27 99.38 L423.75 100.02 L424.13 100.2 L424.38 99.86 L424.51 99.07 L424.58 98.03 L424.66 96.98 L424.79 96.19 L425.04 95.85 L425.42 96.04 L425.9 96.67 L426.45 97.57 L427 98.46 L427.49 99.09 L427.87 99.28 L428.11 98.94 L428.25 98.15 L428.32 97.11 L428.39 96.06 L428.53 95.27 L428.78 94.93 L429.15 95.12 L429.64 95.75 L430.19 96.64" fill="none" stroke="#86aef2" stroke-width="0.95" /><path d="M422.5 97.61 L422.89 98.13 L423.25 98.5 L423.54 98.59 L423.75 98.38 L423.9 97.89 L424 97.24 L424.11 96.6 L424.26 96.11 L424.47 95.89 L424.76 95.99 L425.12 96.35 L425.51 96.87 L425.9 97.39 L426.26 97.76 L426.55 97.85 L426.76 97.63 L426.91 97.14 L427.01 96.5 L427.12 95.86 L427.27 95.37 L427.48 95.15 L427.77 95.24 L428.12 95.61 L428.52 96.13" fill="none" stroke="#a9c8f7" stroke-width="0.6" /><circle cx="421.26" cy="98.85" r="1.95" fill="#8d90e2" stroke="none" stroke-width="1" /><circle cx="421.96" cy="102.69" r="1.95" fill="#d58cea" stroke="none" stroke-width="1" /><line x1="395.36" y1="112.27" x2="399.55" y2="111.9" stroke="#a0a0a0" stroke-width="0.7" /><line x1="395.36" y1="113.93" x2="399.55" y2="114.3" stroke="#a0a0a0" stroke-width="0.7" /><line x1="394.81" y1="116.33" x2="398.75" y2="117.81" stroke="#a0a0a0" stroke-width="0.7" /><line x1="394.1" y1="117.82" x2="397.7" y2="119.98" stroke="#a0a0a0" stroke-width="0.7" /><line x1="392.56" y1="119.75" x2="395.46" y2="122.78" stroke="#a0a0a0" stroke-width="0.7" /><line x1="391.27" y1="120.78" x2="393.58" y2="124.29" stroke="#a0a0a0" stroke-width="0.7" /><line x1="389.05" y1="121.85" x2="390.34" y2="125.84" stroke="#a0a0a0" stroke-width="0.7" /><line x1="387.43" y1="122.22" x2="388" y2="126.38" stroke="#a0a0a0" stroke-width="0.7" /><line x1="384.97" y1="122.22" x2="384.4" y2="126.38" stroke="#a0a0a0" stroke-width="0.7" /><line x1="383.35" y1="121.85" x2="382.06" y2="125.84" stroke="#a0a0a0" stroke-width="0.7" /><line x1="381.13" y1="120.78" x2="378.82" y2="124.29" stroke="#a0a0a0" stroke-width="0.7" /><line x1="379.84" y1="119.75" x2="376.94" y2="122.78" stroke="#a0a0a0" stroke-width="0.7" /><line x1="378.3" y1="117.82" x2="374.7" y2="119.98" stroke="#a0a0a0" stroke-width="0.7" /><line x1="377.59" y1="116.33" x2="373.65" y2="117.81" stroke="#a0a0a0" stroke-width="0.7" /><line x1="377.04" y1="113.93" x2="372.85" y2="114.3" stroke="#a0a0a0" stroke-width="0.7" /><line x1="377.04" y1="112.27" x2="372.85" y2="111.9" stroke="#a0a0a0" stroke-width="0.7" /><line x1="377.59" y1="109.87" x2="373.65" y2="108.39" stroke="#a0a0a0" stroke-width="0.7" /><line x1="378.3" y1="108.38" x2="374.7" y2="106.22" stroke="#a0a0a0" stroke-width="0.7" /><line x1="379.84" y1="106.45" x2="376.94" y2="103.42" stroke="#a0a0a0" stroke-width="0.7" /><line x1="381.13" y1="105.42" x2="378.82" y2="101.91" stroke="#a0a0a0" stroke-width="0.7" /><line x1="383.35" y1="104.35" x2="382.06" y2="100.36" stroke="#a0a0a0" stroke-width="0.7" /><line x1="384.97" y1="103.98" x2="384.4" y2="99.82" stroke="#a0a0a0" stroke-width="0.7" /><line x1="387.43" y1="103.98" x2="388" y2="99.82" stroke="#a0a0a0" stroke-width="0.7" /><line x1="389.05" y1="104.35" x2="390.34" y2="100.36" stroke="#a0a0a0" stroke-width="0.7" /><line x1="391.27" y1="105.42" x2="393.58" y2="101.91" stroke="#a0a0a0" stroke-width="0.7" /><line x1="392.56" y1="106.45" x2="395.46" y2="103.42" stroke="#a0a0a0" stroke-width="0.7" /><line x1="394.1" y1="108.38" x2="397.7" y2="106.22" stroke="#a0a0a0" stroke-width="0.7" /><line x1="394.81" y1="109.87" x2="398.75" y2="108.39" stroke="#a0a0a0" stroke-width="0.7" /><circle cx="394.4" cy="113.1" r="1.9" fill="#6fa5b3" stroke="none" stroke-width="1" /><circle cx="393.59" cy="116.66" r="1.9" fill="#d58cea" stroke="none" stroke-width="1" /><circle cx="391.31" cy="119.51" r="1.9" fill="#6f3fd2" stroke="none" stroke-width="1" /><circle cx="388.02" cy="121.09" r="1.9" fill="#6fa5b3" stroke="none" stroke-width="1" /><circle cx="384.38" cy="121.09" r="1.9" fill="#6fa5b3" stroke="none" stroke-width="1" /><circle cx="381.09" cy="119.51" r="1.9" fill="#d58cea" stroke="none" stroke-width="1" /><circle cx="378.81" cy="116.66" r="1.9" fill="#6fa5b3" stroke="none" stroke-width="1" /><circle cx="378" cy="113.1" r="1.9" fill="#d58cea" stroke="none" stroke-width="1" /><circle cx="378.81" cy="109.54" r="1.9" fill="#6f3fd2" stroke="none" stroke-width="1" /><circle cx="381.09" cy="106.69" r="1.9" fill="#6fa5b3" stroke="none" stroke-width="1" /><circle cx="384.38" cy="105.11" r="1.9" fill="#6fa5b3" stroke="none" stroke-width="1" /><circle cx="388.02" cy="105.11" r="1.9" fill="#d58cea" stroke="none" stroke-width="1" /><circle cx="391.31" cy="106.69" r="1.9" fill="#6fa5b3" stroke="none" stroke-width="1" /><circle cx="393.59" cy="109.54" r="1.9" fill="#d58cea" stroke="none" stroke-width="1" /><path d="M381.3 109.1 L380.99 109.97 L380.84 110.68 L380.95 111.1 L381.38 111.18 L382.07 110.97 L382.92 110.6 L383.76 110.23 L384.46 110.02 L384.88 110.1 L385 110.52 L384.84 111.23 L384.53 112.1 L384.22 112.97 L384.07 113.68 L384.19 114.1 L384.61 114.18 L385.3 113.97 L386.15 113.6 L387 113.23 L387.69 113.02 L388.11 113.1 L388.23 113.52 L388.08 114.23 L387.77 115.1 L387.46 115.97 L387.3 116.68 L387.42 117.1 L387.84 117.18 L388.54 116.97 L389.38 116.6 L390.23 116.23 L390.92 116.02 L391.35 116.1 L391.46 116.52 L391.31 117.23 L391 118.1" fill="none" stroke="#2020e0" stroke-width="1.4" /><line x1="407.76" y1="97.3" x2="410.74" y2="97.63" stroke="#a0a0a0" stroke-width="0.7" /><line x1="407.53" y1="98.43" x2="410.41" y2="99.29" stroke="#a0a0a0" stroke-width="0.7" /><line x1="406.56" y1="100.39" x2="408.98" y2="102.17" stroke="#a0a0a0" stroke-width="0.7" /><line x1="405.8" y1="101.25" x2="407.86" y2="103.43" stroke="#a0a0a0" stroke-width="0.7" /><line x1="403.97" y1="102.46" x2="405.18" y2="105.21" stroke="#a0a0a0" stroke-width="0.7" /><line x1="402.88" y1="102.83" x2="403.58" y2="105.74" stroke="#a0a0a0" stroke-width="0.7" /><line x1="400.7" y1="102.96" x2="400.37" y2="105.94" stroke="#a0a0a0" stroke-width="0.7" /><line x1="399.57" y1="102.73" x2="398.71" y2="105.61" stroke="#a0a0a0" stroke-width="0.7" /><line x1="397.61" y1="101.76" x2="395.83" y2="104.18" stroke="#a0a0a0" stroke-width="0.7" /><line x1="396.75" y1="101" x2="394.57" y2="103.06" stroke="#a0a0a0" stroke-width="0.7" /><line x1="395.54" y1="99.17" x2="392.79" y2="100.38" stroke="#a0a0a0" stroke-width="0.7" /><line x1="395.17" y1="98.08" x2="392.26" y2="98.78" stroke="#a0a0a0" stroke-width="0.7" /><line x1="395.04" y1="95.9" x2="392.06" y2="95.57" stroke="#a0a0a0" stroke-width="0.7" /><line x1="395.27" y1="94.77" x2="392.39" y2="93.91" stroke="#a0a0a0" stroke-width="0.7" /><line x1="396.24" y1="92.81" x2="393.82" y2="91.03" stroke="#a0a0a0" stroke-width="0.7" /><line x1="397" y1="91.95" x2="394.94" y2="89.77" stroke="#a0a0a0" stroke-width="0.7" /><line x1="398.83" y1="90.74" x2="397.62" y2="87.99" stroke="#a0a0a0" stroke-width="0.7" /><line x1="399.92" y1="90.37" x2="399.22" y2="87.46" stroke="#a0a0a0" stroke-width="0.7" /><line x1="402.1" y1="90.24" x2="402.43" y2="87.26" stroke="#a0a0a0" stroke-width="0.7" /><line x1="403.23" y1="90.47" x2="404.09" y2="87.59" stroke="#a0a0a0" stroke-width="0.7" /><line x1="405.19" y1="91.44" x2="406.97" y2="89.02" stroke="#a0a0a0" stroke-width="0.7" /><line x1="406.05" y1="92.2" x2="408.23" y2="90.14" stroke="#a0a0a0" stroke-width="0.7" /><line x1="407.26" y1="94.03" x2="410.01" y2="92.82" stroke="#a0a0a0" stroke-width="0.7" /><line x1="407.63" y1="95.12" x2="410.54" y2="94.42" stroke="#a0a0a0" stroke-width="0.7" /><circle cx="406.69" cy="97.67" r="1.4" fill="#6fa5b3" stroke="none" stroke-width="1" /><circle cx="405.45" cy="100.18" r="1.4" fill="#d58cea" stroke="none" stroke-width="1" /><circle cx="403.12" cy="101.72" r="1.4" fill="#6f3fd2" stroke="none" stroke-width="1" /><circle cx="400.33" cy="101.89" r="1.4" fill="#6fa5b3" stroke="none" stroke-width="1" /><circle cx="397.82" cy="100.65" r="1.4" fill="#6fa5b3" stroke="none" stroke-width="1" /><circle cx="396.28" cy="98.32" r="1.4" fill="#d58cea" stroke="none" stroke-width="1" /><circle cx="396.11" cy="95.53" r="1.4" fill="#6fa5b3" stroke="none" stroke-width="1" /><circle cx="397.35" cy="93.02" r="1.4" fill="#d58cea" stroke="none" stroke-width="1" /><circle cx="399.68" cy="91.48" r="1.4" fill="#6f3fd2" stroke="none" stroke-width="1" /><circle cx="402.47" cy="91.31" r="1.4" fill="#6fa5b3" stroke="none" stroke-width="1" /><circle cx="404.98" cy="92.55" r="1.4" fill="#6fa5b3" stroke="none" stroke-width="1" /><circle cx="406.52" cy="94.88" r="1.4" fill="#d58cea" stroke="none" stroke-width="1" /><path d="M398 93.4 L397.74 94 L397.59 94.48 L397.65 94.78 L397.94 94.86 L398.44 94.74 L399.05 94.52 L399.66 94.29 L400.16 94.18 L400.45 94.25 L400.51 94.55 L400.36 95.04 L400.1 95.63 L399.84 96.23 L399.69 96.72 L399.75 97.01 L400.04 97.09 L400.54 96.97 L401.15 96.75 L401.76 96.53 L402.26 96.41 L402.55 96.49 L402.61 96.78 L402.46 97.27 L402.2 97.87 L401.94 98.46 L401.79 98.95 L401.85 99.25 L402.14 99.32 L402.64 99.21 L403.25 98.98 L403.86 98.76 L404.36 98.64 L404.65 98.72 L404.71 99.02 L404.56 99.5 L404.3 100.1" fill="none" stroke="#2020e0" stroke-width="1" /><circle cx="382.8" cy="82.6" r="1" fill="#eedcee" stroke="#9a7f9a" stroke-width="0.45" /><circle cx="383.89" cy="81.3" r="1" fill="#eedcee" stroke="#9a7f9a" stroke-width="0.45" /><circle cx="384.99" cy="80" r="1" fill="#eedcee" stroke="#9a7f9a" stroke-width="0.45" /><circle cx="372.8" cy="94.6" r="1" fill="#eedcee" stroke="#9a7f9a" stroke-width="0.45" /><circle cx="374.4" cy="95.18" r="1" fill="#eedcee" stroke="#9a7f9a" stroke-width="0.45" /><circle cx="375.99" cy="95.76" r="1" fill="#eedcee" stroke="#9a7f9a" stroke-width="0.45" /><circle cx="367.8" cy="114.6" r="1" fill="#eedcee" stroke="#9a7f9a" stroke-width="0.45" /><circle cx="369.27" cy="113.75" r="1" fill="#eedcee" stroke="#9a7f9a" stroke-width="0.45" /><circle cx="370.74" cy="112.9" r="1" fill="#eedcee" stroke="#9a7f9a" stroke-width="0.45" /><circle cx="415.8" cy="98.6" r="1" fill="#eedcee" stroke="#9a7f9a" stroke-width="0.45" /><circle cx="417.4" cy="98.02" r="1" fill="#eedcee" stroke="#9a7f9a" stroke-width="0.45" /><circle cx="418.99" cy="97.44" r="1" fill="#eedcee" stroke="#9a7f9a" stroke-width="0.45" /><circle cx="404.8" cy="112.6" r="1" fill="#eedcee" stroke="#9a7f9a" stroke-width="0.45" /><circle cx="405.65" cy="111.13" r="1" fill="#eedcee" stroke="#9a7f9a" stroke-width="0.45" /><circle cx="406.5" cy="109.66" r="1" fill="#eedcee" stroke="#9a7f9a" stroke-width="0.45" /><circle cx="400.8" cy="126.6" r="1" fill="#eedcee" stroke="#9a7f9a" stroke-width="0.45" /><circle cx="402.27" cy="125.75" r="1" fill="#eedcee" stroke="#9a7f9a" stroke-width="0.45" /><circle cx="403.74" cy="124.9" r="1" fill="#eedcee" stroke="#9a7f9a" stroke-width="0.45" /><circle cx="394.8" cy="105.6" r="1" fill="#eedcee" stroke="#9a7f9a" stroke-width="0.45" /><circle cx="395.65" cy="107.07" r="1" fill="#eedcee" stroke="#9a7f9a" stroke-width="0.45" /><circle cx="396.5" cy="108.54" r="1" fill="#eedcee" stroke="#9a7f9a" stroke-width="0.45" /><text x="442.9" y="99.4" font-size="11.5" text-anchor="start" fill="#111" >Screening</text><line x1="439.2" y1="106.9" x2="501.9" y2="106.9" stroke="#000" stroke-width="1.6" /><polygon points="507.9,106.9 500.9,111 500.9,102.8" fill="#000" stroke="none" stroke-width="1" /><path d="M516 120.6 C 506 123.2, 494 121.2, 480 121.6 C 472 121.9, 466 122.8, 460 124" fill="none" stroke="#f3d6d0" stroke-width="0.9" stroke-linecap="round"/><path d="M516 120.4 C 509 122.6, 500 121.8, 490 121.4" fill="none" stroke="#ecc2ba" stroke-width="1.6" stroke-linecap="round"/><path d="M523.5 125.5 L 524.2 128.6 L 531.5 128.8 L 531 126.6 Z" fill="#f1c8bc" stroke="none" stroke-width="1" /><path d="M549 122.5 C 551 125, 553 127.4, 557.5 127.2 C 558.5 126.2, 556 124.6, 553.5 123.6 Z" fill="#f1c8bc" stroke="none" stroke-width="1" /><path d="M553 120.5 C 555 121.6, 558.5 122.4, 560 121.4 C 559.5 120, 556.5 119.6, 554.5 119.4 Z" fill="#f3cdc2" stroke="none" stroke-width="1" /><g filter="url(#mblur)"><path d="M515.6 117.5 C 514.6 110, 518 102, 525 98.4 C 530 95.8, 538 95.0, 545 96.6 C 550 95.6, 556 95.8, 560 97.8 C 565 100.6, 569.5 104.4, 572.2 106.8 C 571.4 108.6, 568 110.4, 565 111.4 C 562 114, 558 116.4, 555.2 117.8 C 552 121.4, 547.6 124.4, 542 125.2 C 536 126.6, 529 126.8, 524 126.0 C 519.6 125.0, 516.4 122, 515.6 117.5 Z" fill="#f2f2f4" stroke="none" stroke-width="1" /><path d="M517 121 C 520 125, 528 126.6, 536 125.8 C 542 125, 547 122.6, 550 119.4 C 546 121.6, 540 123.4, 534 123.4 C 527 123.6, 520.6 122.8, 517 121 Z" fill="#dcdce2" stroke="none" stroke-width="1" /><path d="M535 111.5 C 540 112.5, 543 116.5, 541.6 122.5" fill="none" stroke="#dedee4" stroke-width="1" /><path d="M548 98 C 551 103, 553 108, 552.4 114" fill="none" stroke="#e6e6ea" stroke-width="0.9" /></g><path d="M553.2 95.6 C 554.6 92.0, 559.0 92.0, 560.0 96.2 C 558 96.6, 555.6 96.8, 553.2 95.6 Z" fill="#b98068" stroke="none" stroke-width="1" /><ellipse cx="552.6" cy="98.8" rx="3.9" ry="4.6" fill="#e9c6b6" stroke="none" stroke-width="1" transform="rotate(-25 552.6 98.8)" /><ellipse cx="553.8" cy="99.6" rx="2" ry="2.8" fill="#f6e4dc" stroke="none" stroke-width="1" transform="rotate(-25 553.8 99.6)" /><circle cx="562.7" cy="103.9" r="1.5" fill="#a01428" stroke="none" stroke-width="1" /><circle cx="562.3" cy="103.5" r="0.45" fill="#d04a5a" stroke="none" stroke-width="1" /><ellipse cx="571.7" cy="106.9" rx="1" ry="0.9" fill="#eeb0aa" stroke="none" stroke-width="1" /><line x1="566.5" y1="109.5" x2="573.5" y2="111.5" stroke="#e4e4e4" stroke-width="0.4" /><line x1="566" y1="110.5" x2="572" y2="114" stroke="#e4e4e4" stroke-width="0.4" /><text x="502.7" y="147.9" font-size="11.5" text-anchor="start" fill="#111" >BALB/c mice</text><line x1="575.3" y1="95.9" x2="606.98" y2="76.53" stroke="#000" stroke-width="1.6" /><polygon points="612.1,73.4 608.27,80.55 603.99,73.55" fill="#000" stroke="none" stroke-width="1" /><line x1="575.3" y1="115.2" x2="606.95" y2="134.12" stroke="#000" stroke-width="1.6" /><polygon points="612.1,137.2 603.99,137.13 608.2,130.09" fill="#000" stroke="none" stroke-width="1" /><text x="616.6" y="45.1" font-size="11.5" text-anchor="start" fill="#111" >Liver</text><path d="M613.6 70 C 613.4 63.5, 617.5 57.5, 625 55.6 C 631 54.4, 638 55.8, 641.5 59 C 643.4 60.8, 644.4 62.6, 644 64 C 640.5 64.4, 637 65.6, 633.5 68.4 C 629.5 71.8, 625 74.8, 620 75.6 C 617 76, 614.6 75.8, 614 74.6 C 613.6 73.2, 613.6 71.5, 613.6 70 Z" fill="#7b3a3a" stroke="none" stroke-width="1" /><path d="M613.8 70.8 C 618 71.4, 623 70.4, 626.5 68 C 629.5 65.8, 631 63.8, 634.5 62.8 C 637.5 62.0, 641 61.8, 643.6 62.2" fill="none" stroke="#cf978a" stroke-width="1.15" /><path d="M627.5 56.2 C 628.6 59, 628 62, 626.2 64.6" fill="none" stroke="#8f4c48" stroke-width="0.8" /><ellipse cx="630.5" cy="58.2" rx="2.6" ry="1.2" fill="#8a4643" stroke="none" stroke-width="1" opacity="0.8"/><path d="M625.5 121.0 C 631.5 119.6, 635.5 125, 636.4 134 C 637.2 143, 634 154, 627.5 158.2 C 624.2 159.6, 623.4 156, 623.4 151 C 623.4 143, 620.4 134, 620.9 127.5 C 621.1 123.8, 623 121.6, 625.5 121.0 Z" fill="#7a2c33" stroke="none" stroke-width="1" /><text x="610.9" y="172.8" font-size="11.5" text-anchor="start" fill="#111" >Spleen</text></g>
<g id="panel_b"><text x="0" y="0" font-size="24" text-anchor="start" fill="#111" transform="translate(674.1 29.6) scale(0.87 1)" >B</text><rect x="677.7" y="53.3" width="338.9" height="112.1" fill="none" stroke="#5a5a5a" stroke-width="0.9" rx="0" /><line x1="771.4" y1="53.3" x2="771.4" y2="165.4" stroke="#5a5a5a" stroke-width="0.9" /><line x1="852.3" y1="53.3" x2="852.3" y2="165.4" stroke="#5a5a5a" stroke-width="0.9" /><line x1="934.6" y1="53.3" x2="934.6" y2="165.4" stroke="#5a5a5a" stroke-width="0.9" /><line x1="771.4" y1="71.5" x2="1016.6" y2="71.5" stroke="#5a5a5a" stroke-width="0.9" /><line x1="677.7" y1="89.6" x2="1016.6" y2="89.6" stroke="#5a5a5a" stroke-width="0.9" /><line x1="677.7" y1="108.2" x2="1016.6" y2="108.2" stroke="#5a5a5a" stroke-width="0.9" /><line x1="677.7" y1="126.5" x2="1016.6" y2="126.5" stroke="#5a5a5a" stroke-width="0.9" /><line x1="677.7" y1="144.8" x2="1016.6" y2="144.8" stroke="#5a5a5a" stroke-width="0.9" /><line x1="677.7" y1="53.3" x2="771.4" y2="89.6" stroke="#5a5a5a" stroke-width="0.9" /><text x="705.2" y="64.2" font-size="11.35" text-anchor="start" fill="#111" >Cationic lipid</text><text x="692.4" y="85.3" font-size="11.35" text-anchor="start" fill="#111" >Molar %</text><text x="721.8" y="101.8" font-size="11.35" text-anchor="start" fill="#111" >DSPC</text><text x="726" y="121" font-size="11.35" text-anchor="start" fill="#111" >Chol</text><text x="710.3" y="140.2" font-size="11.35" text-anchor="start" fill="#111" >DMG-PEG</text><text x="718.4" y="157.7" font-size="11.35" text-anchor="start" fill="#111" >18:1 PA</text><text x="785.3" y="67" font-size="11.35" text-anchor="start" fill="#111" >ACL-0315</text><text x="866.5" y="67" font-size="11.35" text-anchor="start" fill="#111" >Lipid-221</text><text x="947.6" y="67" font-size="11.35" text-anchor="start" fill="#111" >Lipid-242</text><text x="777.6" y="83.5" font-size="11.35" text-anchor="start" fill="#111" >45</text><text x="802.8" y="83.5" font-size="11.35" text-anchor="start" fill="#111" >40</text><text x="829" y="83.5" font-size="11.35" text-anchor="start" fill="#111" >35</text><text x="778.2" y="102.1" font-size="11.35" text-anchor="start" fill="#111" >9</text><text x="803.4" y="102.1" font-size="11.35" text-anchor="start" fill="#111" >8</text><text x="830" y="102.1" font-size="11.35" text-anchor="start" fill="#111" >7</text><text x="776.8" y="121" font-size="11.35" text-anchor="start" fill="#111" >34.7</text><text x="802.4" y="121" font-size="11.35" text-anchor="start" fill="#111" >30.8</text><text x="828.6" y="121" font-size="11.35" text-anchor="start" fill="#111" >27</text><text x="778" y="140.2" font-size="11.35" text-anchor="start" fill="#111" >1.3</text><text x="803.6" y="140.2" font-size="11.35" text-anchor="start" fill="#111" >1.2</text><text x="830.2" y="140.2" font-size="11.35" text-anchor="start" fill="#111" >1</text><text x="778.9" y="157.7" font-size="11.35" text-anchor="start" fill="#111" >10</text><text x="804.6" y="157.7" font-size="11.35" text-anchor="start" fill="#111" >20</text><text x="830.4" y="157.7" font-size="11.35" text-anchor="start" fill="#111" >30</text><text x="860.4" y="83.5" font-size="11.35" text-anchor="start" fill="#111" >45</text><text x="886.8" y="83.5" font-size="11.35" text-anchor="start" fill="#111" >40</text><text x="913.5" y="83.5" font-size="11.35" text-anchor="start" fill="#111" >35</text><text x="861.4" y="102.1" font-size="11.35" text-anchor="start" fill="#111" >9</text><text x="887.8" y="102.1" font-size="11.35" text-anchor="start" fill="#111" >8</text><text x="914.8" y="102.1" font-size="11.35" text-anchor="start" fill="#111" >7</text><text x="858.6" y="121" font-size="11.35" text-anchor="start" fill="#111" >34.7</text><text x="885.5" y="121" font-size="11.35" text-anchor="start" fill="#111" >30.8</text><text x="914.4" y="121" font-size="11.35" text-anchor="start" fill="#111" >27</text><text x="858.6" y="140.2" font-size="11.35" text-anchor="start" fill="#111" >1.3</text><text x="886.4" y="140.2" font-size="11.35" text-anchor="start" fill="#111" >1.2</text><text x="914.8" y="140.2" font-size="11.35" text-anchor="start" fill="#111" >1</text><text x="860.8" y="157.7" font-size="11.35" text-anchor="start" fill="#111" >10</text><text x="886.8" y="157.7" font-size="11.35" text-anchor="start" fill="#111" >20</text><text x="913.8" y="157.7" font-size="11.35" text-anchor="start" fill="#111" >30</text><text x="942.8" y="83.5" font-size="11.35" text-anchor="start" fill="#111" >45</text><text x="968.8" y="83.5" font-size="11.35" text-anchor="start" fill="#111" >40</text><text x="997.5" y="83.5" font-size="11.35" text-anchor="start" fill="#111" >35</text><text x="943.8" y="102.1" font-size="11.35" text-anchor="start" fill="#111" >9</text><text x="969.4" y="102.1" font-size="11.35" text-anchor="start" fill="#111" >8</text><text x="998.1" y="102.1" font-size="11.35" text-anchor="start" fill="#111" >7</text><text x="941.7" y="121" font-size="11.35" text-anchor="start" fill="#111" >34.7</text><text x="967.8" y="121" font-size="11.35" text-anchor="start" fill="#111" >30.8</text><text x="997.5" y="121" font-size="11.35" text-anchor="start" fill="#111" >27</text><text x="942" y="140.2" font-size="11.35" text-anchor="start" fill="#111" >1.3</text><text x="968.9" y="140.2" font-size="11.35" text-anchor="start" fill="#111" >1.2</text><text x="998.3" y="140.2" font-size="11.35" text-anchor="start" fill="#111" >1</text><text x="944.1" y="157.7" font-size="11.35" text-anchor="start" fill="#111" >10</text><text x="969.7" y="157.7" font-size="11.35" text-anchor="start" fill="#111" >20</text><text x="996.8" y="157.7" font-size="11.35" text-anchor="start" fill="#111" >30</text></g>
<g id="panel_c"><text x="0" y="0" font-size="24" text-anchor="start" fill="#111" transform="translate(37.1 211.2) scale(0.87 1)" >C</text><g transform="translate(54.4 225.5)"><svg x="0" y="0" width="66.4" height="75.4" overflow="hidden"><use href="#cbg"/><use href="#mtop" transform="translate(15.6 0) scale(1.06 1)"/><use href="#mtop" transform="translate(44.8 0) rotate(2 0 40) scale(1.06 1)"/><g filter="url(#bb)"><path d="M25.17 38.9 L24.78 39.67 L24.77 40.47 L25 41.42 L24.91 42.46 L24.03 43.36 L22.4 43.9 L20.47 44.13 L18.62 44.21 L16.88 44.26 L15.2 44.27 L13.54 44.2 L11.89 44.04 L10.22 43.83 L8.53 43.53 L7.02 43.03 L5.97 42.28 L5.44 41.41 L5.12 40.55 L4.7 39.74 L4.17 38.9 L3.81 37.99 L4.01 37.06 L4.85 36.24 L6.06 35.55 L7.37 34.95 L8.71 34.39 L10.21 33.96 L11.87 33.72 L13.56 33.67 L15.2 33.67 L16.86 33.61 L18.64 33.56 L20.49 33.66 L22.23 34.02 L23.69 34.62 L24.82 35.37 L25.59 36.23 L25.89 37.15 L25.68 38.06Z" fill="#7812ff" stroke="none" stroke-width="1" /><path d="M23.82 39.2 L23.36 39.83 L23.39 40.5 L23.76 41.34 L23.89 42.29 L23.21 43.11 L21.76 43.58 L20.03 43.73 L18.4 43.78 L16.9 43.82 L15.45 43.83 L14.02 43.75 L12.63 43.58 L11.23 43.38 L9.79 43.13 L8.48 42.72 L7.59 42.08 L7.18 41.33 L6.9 40.6 L6.44 39.92 L5.79 39.2 L5.36 38.39 L5.56 37.58 L6.47 36.89 L7.71 36.36 L8.9 35.89 L10 35.41 L11.21 35 L12.6 34.78 L14.05 34.73 L15.45 34.73 L16.87 34.66 L18.42 34.58 L20.04 34.65 L21.55 34.97 L22.79 35.49 L23.77 36.15 L24.47 36.88 L24.73 37.68 L24.44 38.48Z" fill="#1626ff" stroke="none" stroke-width="1" /><path d="M19.79 39.5 L19.5 39.8 L19.53 40.13 L19.81 40.56 L19.97 41.06 L19.66 41.5 L18.91 41.73 L18.01 41.79 L17.18 41.8 L16.43 41.82 L15.7 41.83 L14.99 41.78 L14.3 41.67 L13.62 41.57 L12.9 41.44 L12.24 41.25 L11.81 40.93 L11.62 40.55 L11.48 40.19 L11.19 39.86 L10.78 39.5 L10.5 39.08 L10.62 38.67 L11.16 38.33 L11.88 38.1 L12.51 37.89 L13.04 37.65 L13.61 37.43 L14.28 37.3 L15 37.28 L15.7 37.28 L16.41 37.23 L17.2 37.18 L18.02 37.2 L18.78 37.36 L19.4 37.63 L19.9 37.96 L20.27 38.33 L20.39 38.73 L20.19 39.14Z" fill="#00b8ff" stroke="none" stroke-width="1" /><ellipse cx="15.6" cy="4.3" rx="1" ry="1" fill="#7812ff" stroke="none" stroke-width="1" /><ellipse cx="13.1" cy="21" rx="1.3" ry="2.2" fill="#7812ff" stroke="none" stroke-width="1" transform="rotate(35 13.1 21)" /><ellipse cx="13.1" cy="21" rx="0.91" ry="1.54" fill="#1626ff" stroke="none" stroke-width="1" transform="rotate(35 13.1 21)" /><ellipse cx="5.1" cy="20.8" rx="1.2" ry="1.2" fill="#7812ff" stroke="none" stroke-width="1" /><ellipse cx="29.1" cy="24.1" rx="1.8" ry="1.4" fill="#7812ff" stroke="none" stroke-width="1" transform="rotate(-30 29.1 24.1)" /><ellipse cx="29.1" cy="24.1" rx="1.26" ry="0.98" fill="#1626ff" stroke="none" stroke-width="1" transform="rotate(-30 29.1 24.1)" /><ellipse cx="9.3" cy="62.9" rx="1.6" ry="1.2" fill="#7812ff" stroke="none" stroke-width="1" /><ellipse cx="9.3" cy="62.9" rx="1.12" ry="0.84" fill="#1626ff" stroke="none" stroke-width="1" /><ellipse cx="26" cy="63.9" rx="1.9" ry="1.3" fill="#7812ff" stroke="none" stroke-width="1" transform="rotate(30 26 63.9)" /><ellipse cx="26" cy="63.9" rx="1.33" ry="0.91" fill="#1626ff" stroke="none" stroke-width="1" transform="rotate(30 26 63.9)" /><ellipse cx="16.8" cy="70.5" rx="1.1" ry="5" fill="#7812ff" stroke="none" stroke-width="1" /><ellipse cx="16.8" cy="70.5" rx="0.77" ry="3.5" fill="#1626ff" stroke="none" stroke-width="1" /><ellipse cx="16.8" cy="70.5" rx="0.55" ry="2.48" fill="#00b8ff" stroke="none" stroke-width="1" /><ellipse cx="16.8" cy="70.5" rx="0.32" ry="1.47" fill="#22f05a" stroke="none" stroke-width="1" /><ellipse cx="45.2" cy="39.5" rx="1.6" ry="0.9" fill="#7812ff" stroke="none" stroke-width="1" transform="rotate(15 45.2 39.5)" /><ellipse cx="63.5" cy="68" rx="0.8" ry="0.8" fill="#7812ff" stroke="none" stroke-width="1" /></g></svg></g><g transform="translate(123.5 225.5)"><svg x="0" y="0" width="66.4" height="75.4" overflow="hidden"><use href="#cbg"/><use href="#mside" transform="translate(16.5 0) rotate(-4 0 40)"/><use href="#mside" transform="translate(50.5 0) rotate(4 0 40)"/><g filter="url(#bb)"><path d="M18.5 37.07 L18.48 37.69 L18.71 38.37 L18.97 39.16 L18.91 40.01 L18.28 40.74 L17.19 41.2 L16 41.45 L14.88 41.64 L13.83 41.82 L12.78 41.95 L11.73 41.99 L10.69 41.93 L9.65 41.83 L8.6 41.66 L7.62 41.35 L6.87 40.83 L6.39 40.2 L6.03 39.54 L5.67 38.89 L5.35 38.22 L5.23 37.49 L5.46 36.75 L5.99 36.08 L6.62 35.46 L7.24 34.85 L7.95 34.26 L8.85 33.79 L9.91 33.54 L11 33.45 L12.03 33.38 L13.06 33.25 L14.18 33.09 L15.36 33.04 L16.5 33.22 L17.46 33.63 L18.18 34.22 L18.64 34.91 L18.79 35.65 L18.68 36.39Z" fill="#7812ff" stroke="none" stroke-width="1" /><path d="M17.12 37.19 L17.07 37.67 L17.4 38.21 L17.88 38.9 L18.02 39.68 L17.49 40.32 L16.47 40.65 L15.38 40.79 L14.44 40.93 L13.59 41.11 L12.72 41.24 L11.85 41.23 L11.01 41.12 L10.2 40.98 L9.36 40.85 L8.55 40.62 L7.92 40.22 L7.51 39.71 L7.14 39.2 L6.7 38.7 L6.27 38.14 L6.13 37.5 L6.47 36.88 L7.16 36.36 L7.87 35.92 L8.38 35.46 L8.84 34.93 L9.48 34.47 L10.34 34.24 L11.25 34.2 L12.1 34.16 L12.95 34.02 L13.89 33.82 L14.92 33.73 L15.88 33.88 L16.67 34.25 L17.26 34.76 L17.62 35.34 L17.68 35.99 L17.44 36.63Z" fill="#1626ff" stroke="none" stroke-width="1" /><ellipse cx="14.7" cy="4.9" rx="0.9" ry="0.9" fill="#7812ff" stroke="none" stroke-width="1" /><ellipse cx="5.6" cy="19.6" rx="1.5" ry="1.5" fill="#7812ff" stroke="none" stroke-width="1" /><ellipse cx="34.5" cy="18.5" rx="1" ry="1.6" fill="#7812ff" stroke="none" stroke-width="1" /><ellipse cx="34.5" cy="18.5" rx="0.7" ry="1.12" fill="#1626ff" stroke="none" stroke-width="1" /><ellipse cx="3.5" cy="63.3" rx="4.5" ry="1.4" fill="#7812ff" stroke="none" stroke-width="1" transform="rotate(5 3.5 63.3)" /><ellipse cx="3.5" cy="63.3" rx="3.15" ry="0.98" fill="#1626ff" stroke="none" stroke-width="1" transform="rotate(5 3.5 63.3)" /><ellipse cx="15.8" cy="70.5" rx="1.2" ry="5" fill="#7812ff" stroke="none" stroke-width="1" /><ellipse cx="15.8" cy="70.5" rx="0.84" ry="3.5" fill="#1626ff" stroke="none" stroke-width="1" /><ellipse cx="15.8" cy="70.5" rx="0.6" ry="2.48" fill="#00b8ff" stroke="none" stroke-width="1" /><ellipse cx="15.8" cy="70.5" rx="0.35" ry="1.47" fill="#22f05a" stroke="none" stroke-width="1" /><ellipse cx="50.5" cy="72" rx="0.9" ry="2" fill="#7812ff" stroke="none" stroke-width="1" /><ellipse cx="43.5" cy="67" rx="0.8" ry="0.8" fill="#7812ff" stroke="none" stroke-width="1" /></g></svg></g><g transform="translate(194.1 225.5)"><svg x="0" y="0" width="66.4" height="75.4" overflow="hidden"><use href="#cbg"/><use href="#mtop" transform="translate(16.2 0) scale(1.06 1)"/><use href="#mtop" transform="translate(46.2 0) scale(1.06 1)"/><g filter="url(#bb)"><path d="M26.98 38.9 L27.16 39.75 L27.27 40.67 L27.02 41.61 L26.18 42.46 L24.82 43.13 L23.2 43.63 L21.51 44.01 L19.74 44.25 L17.93 44.27 L16.2 44.08 L14.61 43.84 L13.01 43.72 L11.17 43.74 L9.09 43.7 L7.15 43.34 L5.87 42.58 L5.33 41.62 L5.23 40.65 L5.27 39.75 L5.38 38.9 L5.59 38.08 L5.92 37.26 L6.3 36.42 L6.8 35.55 L7.68 34.72 L9.12 34.12 L10.95 33.84 L12.8 33.77 L14.52 33.68 L16.2 33.48 L18.02 33.25 L19.95 33.24 L21.73 33.57 L23.17 34.19 L24.3 34.93 L25.25 35.67 L26.05 36.44 L26.58 37.24 L26.84 38.07Z" fill="#7812ff" stroke="none" stroke-width="1" /><path d="M25.95 38.9 L26.15 39.63 L26.3 40.43 L26.1 41.25 L25.34 41.98 L24.11 42.54 L22.7 42.95 L21.26 43.29 L19.76 43.52 L18.19 43.52 L16.7 43.32 L15.36 43.06 L14.02 42.94 L12.44 43 L10.58 43.03 L8.83 42.76 L7.68 42.12 L7.25 41.26 L7.21 40.41 L7.28 39.63 L7.4 38.9 L7.63 38.2 L7.96 37.51 L8.31 36.8 L8.7 36.05 L9.39 35.32 L10.61 34.79 L12.2 34.56 L13.8 34.52 L15.26 34.44 L16.7 34.22 L18.29 33.97 L19.98 33.94 L21.51 34.27 L22.67 34.87 L23.54 35.54 L24.32 36.18 L25.04 36.81 L25.55 37.49 L25.8 38.19Z" fill="#1626ff" stroke="none" stroke-width="1" /><path d="M23.76 38.9 L23.94 39.42 L24.08 40 L23.95 40.59 L23.38 41.1 L22.47 41.49 L21.46 41.77 L20.44 42.02 L19.38 42.2 L18.26 42.19 L17.2 42.01 L16.27 41.8 L15.35 41.7 L14.22 41.77 L12.84 41.84 L11.53 41.68 L10.69 41.22 L10.41 40.6 L10.42 39.98 L10.49 39.42 L10.6 38.9 L10.79 38.4 L11.06 37.92 L11.32 37.43 L11.56 36.89 L12.02 36.36 L12.87 35.98 L14.01 35.83 L15.15 35.81 L16.18 35.74 L17.2 35.55 L18.35 35.34 L19.58 35.31 L20.65 35.57 L21.43 36.04 L21.98 36.55 L22.51 37.01 L23.04 37.44 L23.43 37.91 L23.64 38.4Z" fill="#00b8ff" stroke="none" stroke-width="1" /><path d="M21.58 38.9 L21.7 39.21 L21.81 39.55 L21.74 39.91 L21.38 40.21 L20.82 40.43 L20.21 40.6 L19.62 40.75 L19 40.86 L18.33 40.86 L17.7 40.73 L17.16 40.58 L16.63 40.52 L15.96 40.58 L15.12 40.64 L14.3 40.57 L13.79 40.29 L13.63 39.92 L13.66 39.54 L13.72 39.21 L13.79 38.9 L13.92 38.61 L14.11 38.33 L14.26 38.04 L14.39 37.72 L14.64 37.4 L15.14 37.17 L15.81 37.08 L16.5 37.08 L17.1 37.04 L17.7 36.91 L18.39 36.76 L19.13 36.74 L19.77 36.91 L20.19 37.21 L20.48 37.53 L20.78 37.8 L21.1 38.05 L21.36 38.32 L21.49 38.61Z" fill="#22f05a" stroke="none" stroke-width="1" /><ellipse cx="16.2" cy="6.4" rx="2.2" ry="2.2" fill="#7812ff" stroke="none" stroke-width="1" /><ellipse cx="16.2" cy="6.4" rx="1.54" ry="1.54" fill="#1626ff" stroke="none" stroke-width="1" /><ellipse cx="16.2" cy="6.4" rx="1.09" ry="1.09" fill="#00b8ff" stroke="none" stroke-width="1" /><ellipse cx="16.2" cy="6.4" rx="0.65" ry="0.65" fill="#22f05a" stroke="none" stroke-width="1" /><ellipse cx="30.1" cy="22.9" rx="1.3" ry="2" fill="#7812ff" stroke="none" stroke-width="1" transform="rotate(30 30.1 22.9)" /><ellipse cx="30.1" cy="22.9" rx="0.91" ry="1.4" fill="#1626ff" stroke="none" stroke-width="1" transform="rotate(30 30.1 22.9)" /><ellipse cx="30.1" cy="22.9" rx="0.65" ry="0.99" fill="#00b8ff" stroke="none" stroke-width="1" transform="rotate(30 30.1 22.9)" /><ellipse cx="30.1" cy="22.9" rx="0.38" ry="0.59" fill="#22f05a" stroke="none" stroke-width="1" transform="rotate(30 30.1 22.9)" /><ellipse cx="12.4" cy="24.5" rx="0.8" ry="0.8" fill="#7812ff" stroke="none" stroke-width="1" /><ellipse cx="12.4" cy="24.5" rx="0.56" ry="0.56" fill="#1626ff" stroke="none" stroke-width="1" /><ellipse cx="21" cy="72.5" rx="1.1" ry="2.8" fill="#7812ff" stroke="none" stroke-width="1" /><ellipse cx="21" cy="72.5" rx="0.77" ry="1.96" fill="#1626ff" stroke="none" stroke-width="1" /><ellipse cx="13.5" cy="67.5" rx="0.8" ry="0.8" fill="#7812ff" stroke="none" stroke-width="1" /><ellipse cx="13.5" cy="67.5" rx="0.56" ry="0.56" fill="#1626ff" stroke="none" stroke-width="1" /><path d="M49.01 7.1 L48.94 7.52 L48.77 7.91 L48.56 8.27 L48.32 8.62 L48.03 8.94 L47.67 9.21 L47.26 9.42 L46.84 9.6 L46.39 9.78 L45.9 9.89 L45.39 9.89 L44.91 9.73 L44.51 9.46 L44.15 9.19 L43.78 8.94 L43.41 8.67 L43.14 8.32 L43.01 7.91 L43.01 7.5 L43.01 7.1 L42.98 6.7 L42.96 6.27 L43.04 5.84 L43.26 5.44 L43.59 5.1 L43.99 4.82 L44.45 4.64 L44.95 4.57 L45.44 4.61 L45.9 4.69 L46.33 4.72 L46.8 4.69 L47.32 4.68 L47.82 4.8 L48.22 5.09 L48.47 5.48 L48.66 5.88 L48.83 6.28 L48.97 6.68Z" fill="#7812ff" stroke="none" stroke-width="1" /><path d="M48.14 7.1 L48.07 7.4 L47.93 7.67 L47.77 7.93 L47.6 8.17 L47.4 8.4 L47.15 8.59 L46.86 8.74 L46.57 8.88 L46.25 9.02 L45.9 9.13 L45.53 9.13 L45.19 8.99 L44.91 8.78 L44.67 8.57 L44.41 8.39 L44.14 8.21 L43.93 7.97 L43.85 7.68 L43.86 7.38 L43.87 7.1 L43.83 6.82 L43.8 6.51 L43.84 6.19 L44 5.9 L44.24 5.66 L44.53 5.46 L44.86 5.33 L45.22 5.29 L45.58 5.35 L45.9 5.43 L46.2 5.45 L46.54 5.41 L46.92 5.37 L47.29 5.45 L47.57 5.66 L47.74 5.94 L47.86 6.23 L47.99 6.51 L48.1 6.8Z" fill="#1626ff" stroke="none" stroke-width="1" /><path d="M47.5 7.1 L47.45 7.31 L47.34 7.51 L47.21 7.68 L47.09 7.85 L46.95 8.01 L46.77 8.14 L46.58 8.25 L46.37 8.36 L46.15 8.48 L45.9 8.56 L45.63 8.57 L45.39 8.46 L45.2 8.29 L45.04 8.13 L44.85 8.01 L44.65 7.88 L44.5 7.72 L44.45 7.51 L44.46 7.3 L44.47 7.1 L44.44 6.9 L44.4 6.68 L44.43 6.45 L44.54 6.24 L44.71 6.07 L44.92 5.93 L45.16 5.84 L45.42 5.82 L45.67 5.87 L45.9 5.94 L46.11 5.96 L46.35 5.91 L46.62 5.87 L46.9 5.91 L47.1 6.06 L47.21 6.28 L47.29 6.49 L47.39 6.68 L47.47 6.88Z" fill="#00b8ff" stroke="none" stroke-width="1" /><path d="M46.86 7.1 L46.82 7.23 L46.75 7.34 L46.67 7.44 L46.6 7.54 L46.51 7.63 L46.41 7.71 L46.3 7.78 L46.18 7.84 L46.05 7.92 L45.9 7.98 L45.74 7.98 L45.6 7.91 L45.49 7.8 L45.4 7.7 L45.29 7.63 L45.17 7.56 L45.07 7.46 L45.04 7.34 L45.06 7.22 L45.06 7.1 L45.04 6.98 L45.01 6.85 L45.02 6.71 L45.08 6.59 L45.19 6.48 L45.31 6.4 L45.46 6.35 L45.61 6.34 L45.77 6.38 L45.9 6.43 L46.02 6.44 L46.16 6.41 L46.33 6.37 L46.5 6.39 L46.61 6.48 L46.68 6.61 L46.72 6.74 L46.78 6.85 L46.84 6.97Z" fill="#22f05a" stroke="none" stroke-width="1" /><path d="M57.5 38.5 L57.3 39.73 L56.85 40.91 L56.27 42.06 L55.56 43.17 L54.58 44.16 L53.25 44.87 L51.72 45.25 L50.22 45.49 L48.79 45.83 L47.3 46.3 L45.63 46.68 L43.91 46.62 L42.38 46.02 L41.15 45.08 L40.13 44.07 L39.2 43.08 L38.42 42.02 L37.94 40.87 L37.76 39.68 L37.7 38.5 L37.63 37.31 L37.67 36.07 L38.06 34.84 L38.86 33.73 L39.93 32.77 L41.12 31.88 L42.44 31.09 L43.99 30.57 L45.68 30.53 L47.3 30.9 L48.75 31.37 L50.14 31.7 L51.66 31.85 L53.28 32.09 L54.78 32.68 L55.9 33.64 L56.63 34.8 L57.12 36.02 L57.43 37.25Z" fill="#7812ff" stroke="none" stroke-width="1" /><path d="M56.91 38.74 L56.71 39.86 L56.28 40.92 L55.74 41.94 L55.1 42.95 L54.22 43.84 L53.01 44.47 L51.62 44.79 L50.27 44.98 L49 45.31 L47.66 45.8 L46.14 46.2 L44.56 46.16 L43.17 45.59 L42.1 44.69 L41.21 43.75 L40.39 42.85 L39.68 41.9 L39.24 40.87 L39.09 39.8 L39.04 38.74 L38.95 37.67 L38.96 36.54 L39.3 35.43 L40.03 34.43 L41 33.56 L42.06 32.75 L43.25 32 L44.64 31.52 L46.19 31.5 L47.66 31.9 L48.95 32.38 L50.19 32.69 L51.55 32.8 L53.05 32.97 L54.44 33.47 L55.46 34.33 L56.12 35.39 L56.56 36.49 L56.85 37.61Z" fill="#1626ff" stroke="none" stroke-width="1" /><path d="M56.15 38.98 L55.96 39.96 L55.56 40.88 L55.07 41.77 L54.52 42.65 L53.76 43.44 L52.69 43.98 L51.46 44.23 L50.28 44.38 L49.18 44.69 L48.02 45.17 L46.68 45.57 L45.27 45.56 L44.06 45.03 L43.14 44.2 L42.4 43.35 L41.69 42.56 L41.07 41.74 L40.68 40.83 L40.56 39.9 L40.52 38.98 L40.42 38.04 L40.41 37.06 L40.69 36.07 L41.33 35.2 L42.19 34.44 L43.11 33.72 L44.13 33.04 L45.35 32.6 L46.72 32.6 L48.02 33 L49.14 33.49 L50.2 33.77 L51.39 33.84 L52.73 33.94 L53.97 34.35 L54.88 35.1 L55.45 36.04 L55.84 37 L56.1 37.98Z" fill="#00b8ff" stroke="none" stroke-width="1" /><path d="M55.39 39.22 L55.2 40.06 L54.84 40.85 L54.41 41.61 L53.94 42.36 L53.29 43.04 L52.37 43.49 L51.3 43.68 L50.29 43.8 L49.37 44.08 L48.38 44.53 L47.22 44.93 L46 44.93 L44.95 44.45 L44.19 43.7 L43.58 42.95 L42.98 42.27 L42.44 41.57 L42.12 40.8 L42.02 40 L41.98 39.22 L41.88 38.42 L41.85 37.57 L42.08 36.72 L42.64 35.98 L43.38 35.33 L44.16 34.7 L45.02 34.1 L46.07 33.7 L47.26 33.72 L48.38 34.11 L49.33 34.57 L50.22 34.83 L51.24 34.86 L52.4 34.91 L53.5 35.24 L54.29 35.88 L54.77 36.69 L55.1 37.52 L55.34 38.36Z" fill="#22f05a" stroke="none" stroke-width="1" /><path d="M54.61 39.46 L54.44 40.16 L54.12 40.82 L53.75 41.45 L53.37 42.08 L52.83 42.64 L52.06 43.01 L51.16 43.15 L50.32 43.24 L49.56 43.48 L48.74 43.9 L47.76 44.26 L46.73 44.28 L45.86 43.86 L45.24 43.2 L44.75 42.56 L44.26 41.99 L43.81 41.41 L43.54 40.77 L43.46 40.11 L43.44 39.46 L43.34 38.8 L43.29 38.08 L43.48 37.38 L43.95 36.75 L44.57 36.21 L45.21 35.68 L45.92 35.16 L46.8 34.82 L47.8 34.85 L48.74 35.21 L49.52 35.63 L50.24 35.86 L51.09 35.87 L52.09 35.88 L53.02 36.13 L53.68 36.67 L54.09 37.34 L54.36 38.04 L54.56 38.74Z" fill="#f2f200" stroke="none" stroke-width="1" /><path d="M53.81 39.7 L53.67 40.26 L53.4 40.79 L53.1 41.29 L52.8 41.79 L52.37 42.24 L51.74 42.53 L51.02 42.63 L50.35 42.69 L49.75 42.89 L49.1 43.26 L48.31 43.58 L47.47 43.6 L46.78 43.25 L46.3 42.7 L45.92 42.17 L45.54 41.71 L45.18 41.26 L44.96 40.75 L44.9 40.22 L44.88 39.7 L44.79 39.17 L44.74 38.6 L44.88 38.03 L45.26 37.53 L45.76 37.1 L46.27 36.67 L46.83 36.24 L47.53 35.95 L48.34 35.99 L49.1 36.31 L49.72 36.67 L50.28 36.87 L50.96 36.86 L51.77 36.84 L52.53 37.03 L53.07 37.45 L53.39 38 L53.62 38.56 L53.78 39.12Z" fill="#ff0c00" stroke="none" stroke-width="1" /><path d="M41.71 26.3 L41.74 26.78 L41.56 27.23 L41.25 27.62 L40.91 27.97 L40.59 28.33 L40.22 28.66 L39.76 28.9 L39.23 28.99 L38.7 28.98 L38.2 28.96 L37.7 28.98 L37.17 29 L36.62 28.92 L36.11 28.74 L35.66 28.46 L35.27 28.11 L35 27.68 L34.9 27.21 L34.98 26.73 L35.11 26.3 L35.18 25.89 L35.16 25.46 L35.18 24.99 L35.34 24.54 L35.71 24.18 L36.18 23.94 L36.67 23.75 L37.15 23.56 L37.66 23.41 L38.2 23.36 L38.74 23.42 L39.25 23.57 L39.72 23.77 L40.16 24.01 L40.54 24.32 L40.84 24.67 L41.07 25.06 L41.3 25.45 L41.54 25.85Z" fill="#7812ff" stroke="none" stroke-width="1" /><path d="M40.9 26.3 L40.94 26.67 L40.75 27 L40.44 27.27 L40.14 27.5 L39.92 27.76 L39.68 28.03 L39.35 28.21 L38.95 28.25 L38.55 28.2 L38.2 28.16 L37.84 28.2 L37.45 28.26 L37.03 28.25 L36.63 28.13 L36.28 27.93 L35.97 27.67 L35.76 27.35 L35.73 26.98 L35.87 26.61 L36.06 26.3 L36.14 26.02 L36.07 25.71 L35.99 25.35 L36.07 24.98 L36.34 24.72 L36.72 24.57 L37.09 24.44 L37.43 24.28 L37.79 24.12 L38.2 24.06 L38.61 24.13 L38.97 24.29 L39.29 24.48 L39.59 24.67 L39.85 24.9 L40.05 25.16 L40.21 25.43 L40.41 25.69 L40.67 25.97Z" fill="#1626ff" stroke="none" stroke-width="1" /><ellipse cx="52.2" cy="25.5" rx="3" ry="2" fill="#7812ff" stroke="none" stroke-width="1" /><ellipse cx="52.2" cy="25.5" rx="2.1" ry="1.4" fill="#1626ff" stroke="none" stroke-width="1" /><ellipse cx="52.2" cy="25.5" rx="1.05" ry="0.7" fill="#00b8ff" stroke="none" stroke-width="1" /><ellipse cx="42.5" cy="61" rx="1.2" ry="1.2" fill="#7812ff" stroke="none" stroke-width="1" /><ellipse cx="45.5" cy="61.5" rx="1" ry="1" fill="#7812ff" stroke="none" stroke-width="1" /><ellipse cx="49" cy="61.8" rx="1.4" ry="1.1" fill="#7812ff" stroke="none" stroke-width="1" /><ellipse cx="49" cy="61.8" rx="0.98" ry="0.77" fill="#1626ff" stroke="none" stroke-width="1" /><ellipse cx="38" cy="66.5" rx="2" ry="1.2" fill="#7812ff" stroke="none" stroke-width="1" transform="rotate(-30 38 66.5)" /><ellipse cx="38" cy="66.5" rx="1.4" ry="0.84" fill="#1626ff" stroke="none" stroke-width="1" transform="rotate(-30 38 66.5)" /><ellipse cx="45.5" cy="70.5" rx="1.3" ry="4.5" fill="#7812ff" stroke="none" stroke-width="1" /><ellipse cx="45.5" cy="70.5" rx="0.91" ry="3.15" fill="#1626ff" stroke="none" stroke-width="1" /><ellipse cx="45.5" cy="70.5" rx="0.45" ry="1.57" fill="#00b8ff" stroke="none" stroke-width="1" /><ellipse cx="55.3" cy="68.5" rx="1.2" ry="2.6" fill="#7812ff" stroke="none" stroke-width="1" transform="rotate(-30 55.3 68.5)" /><ellipse cx="55.3" cy="68.5" rx="0.84" ry="1.82" fill="#1626ff" stroke="none" stroke-width="1" transform="rotate(-30 55.3 68.5)" /><ellipse cx="39.5" cy="56.5" rx="0.7" ry="0.7" fill="#7812ff" stroke="none" stroke-width="1" /></g></svg></g><g transform="translate(263.2 225.5)"><svg x="0" y="0" width="66.4" height="75.4" overflow="hidden"><use href="#cbg"/><use href="#mside" transform="translate(16.5 0) rotate(-2 0 40)"/><use href="#mside" transform="translate(50 0) rotate(2 0 40)"/><g filter="url(#bb)"><ellipse cx="13.4" cy="5.7" rx="1.8" ry="2.4" fill="#7812ff" stroke="none" stroke-width="1" transform="rotate(-30 13.4 5.7)" /><ellipse cx="13.4" cy="5.7" rx="1.26" ry="1.68" fill="#1626ff" stroke="none" stroke-width="1" transform="rotate(-30 13.4 5.7)" /><ellipse cx="13.4" cy="5.7" rx="0.63" ry="0.84" fill="#00b8ff" stroke="none" stroke-width="1" transform="rotate(-30 13.4 5.7)" /><path d="M15.2 39.56 L15.25 40.02 L15.46 40.51 L15.7 41.09 L15.7 41.72 L15.3 42.29 L14.57 42.69 L13.76 42.94 L13 43.15 L12.28 43.35 L11.56 43.5 L10.84 43.59 L10.11 43.6 L9.39 43.58 L8.64 43.52 L7.94 43.34 L7.38 43.01 L6.99 42.57 L6.69 42.11 L6.39 41.65 L6.14 41.16 L6.02 40.62 L6.15 40.07 L6.47 39.54 L6.85 39.05 L7.22 38.55 L7.66 38.07 L8.26 37.67 L8.99 37.43 L9.74 37.31 L10.45 37.2 L11.16 37.04 L11.93 36.85 L12.75 36.75 L13.55 36.82 L14.25 37.07 L14.78 37.47 L15.14 37.96 L15.29 38.5 L15.27 39.05Z" fill="#7812ff" stroke="none" stroke-width="1" /><path d="M14.01 39.77 L14.03 40.1 L14.3 40.46 L14.65 40.91 L14.77 41.44 L14.45 41.9 L13.8 42.17 L13.12 42.33 L12.53 42.48 L11.99 42.65 L11.44 42.79 L10.88 42.82 L10.33 42.78 L9.8 42.73 L9.25 42.68 L8.71 42.57 L8.27 42.34 L7.96 42.02 L7.69 41.69 L7.37 41.36 L7.07 40.99 L6.97 40.56 L7.16 40.12 L7.58 39.73 L7.99 39.39 L8.27 39.04 L8.52 38.64 L8.91 38.29 L9.46 38.1 L10.04 38.02 L10.59 37.96 L11.12 37.81 L11.72 37.62 L12.38 37.5 L13.01 37.55 L13.54 37.77 L13.94 38.1 L14.2 38.49 L14.27 38.93 L14.16 39.38Z" fill="#1626ff" stroke="none" stroke-width="1" /><ellipse cx="1.2" cy="20.3" rx="1.3" ry="2" fill="#7812ff" stroke="none" stroke-width="1" /><ellipse cx="1.2" cy="20.3" rx="0.91" ry="1.4" fill="#1626ff" stroke="none" stroke-width="1" /><ellipse cx="13.4" cy="67.1" rx="1" ry="1" fill="#7812ff" stroke="none" stroke-width="1" /><ellipse cx="13.4" cy="67.1" rx="0.7" ry="0.7" fill="#1626ff" stroke="none" stroke-width="1" /><ellipse cx="13.4" cy="67.1" rx="0.35" ry="0.35" fill="#00b8ff" stroke="none" stroke-width="1" /><ellipse cx="21.8" cy="72.7" rx="1.2" ry="2.6" fill="#7812ff" stroke="none" stroke-width="1" /><ellipse cx="21.8" cy="72.7" rx="0.84" ry="1.82" fill="#1626ff" stroke="none" stroke-width="1" /><path d="M45.45 5.03 L45.6 5.53 L45.79 5.98 L46.05 6.44 L46.32 6.95 L46.46 7.51 L46.4 8.03 L46.18 8.48 L45.89 8.86 L45.56 9.18 L45.19 9.44 L44.78 9.62 L44.34 9.73 L43.9 9.81 L43.43 9.85 L42.95 9.82 L42.47 9.63 L42.04 9.31 L41.66 8.93 L41.28 8.58 L40.86 8.24 L40.43 7.84 L40.11 7.34 L40 6.78 L40.06 6.25 L40.18 5.76 L40.3 5.3 L40.45 4.86 L40.67 4.47 L40.96 4.15 L41.29 3.87 L41.62 3.58 L42.01 3.33 L42.46 3.18 L42.95 3.19 L43.46 3.32 L43.95 3.51 L44.43 3.74 L44.88 4.06 L45.23 4.51Z" fill="#7812ff" stroke="none" stroke-width="1" /><path d="M44.84 5.45 L44.93 5.83 L45.06 6.16 L45.26 6.48 L45.48 6.86 L45.61 7.27 L45.57 7.66 L45.4 7.99 L45.18 8.26 L44.93 8.5 L44.66 8.69 L44.36 8.81 L44.03 8.89 L43.71 8.93 L43.37 8.97 L43.02 8.95 L42.66 8.82 L42.35 8.57 L42.08 8.29 L41.8 8.04 L41.48 7.8 L41.14 7.52 L40.9 7.15 L40.83 6.73 L40.9 6.34 L41.01 5.99 L41.1 5.66 L41.2 5.34 L41.36 5.05 L41.57 4.82 L41.81 4.61 L42.05 4.39 L42.32 4.19 L42.65 4.08 L43.02 4.09 L43.39 4.19 L43.75 4.33 L44.1 4.5 L44.44 4.73 L44.69 5.06Z" fill="#1626ff" stroke="none" stroke-width="1" /><path d="M44.48 5.7 L44.54 6 L44.63 6.26 L44.8 6.51 L44.99 6.8 L45.11 7.13 L45.08 7.44 L44.95 7.7 L44.77 7.92 L44.57 8.1 L44.35 8.25 L44.11 8.34 L43.85 8.39 L43.6 8.42 L43.33 8.46 L43.06 8.45 L42.78 8.34 L42.54 8.14 L42.33 7.92 L42.11 7.73 L41.84 7.55 L41.56 7.33 L41.36 7.04 L41.32 6.71 L41.39 6.4 L41.49 6.12 L41.57 5.87 L41.64 5.62 L41.76 5.39 L41.92 5.2 L42.11 5.04 L42.29 4.86 L42.51 4.7 L42.77 4.6 L43.06 4.62 L43.35 4.7 L43.63 4.81 L43.92 4.94 L44.18 5.12 L44.38 5.38Z" fill="#00b8ff" stroke="none" stroke-width="1" /><path d="M44.13 5.95 L44.16 6.17 L44.22 6.36 L44.35 6.53 L44.51 6.75 L44.6 6.99 L44.58 7.22 L44.48 7.41 L44.35 7.56 L44.2 7.7 L44.04 7.8 L43.86 7.87 L43.67 7.9 L43.49 7.92 L43.3 7.95 L43.09 7.94 L42.89 7.87 L42.72 7.72 L42.57 7.55 L42.41 7.42 L42.21 7.3 L41.99 7.14 L41.84 6.93 L41.81 6.68 L41.88 6.45 L41.96 6.26 L42.02 6.07 L42.07 5.89 L42.16 5.72 L42.27 5.59 L42.41 5.47 L42.54 5.33 L42.69 5.21 L42.88 5.14 L43.1 5.15 L43.31 5.22 L43.52 5.3 L43.72 5.38 L43.92 5.51 L44.06 5.71Z" fill="#22f05a" stroke="none" stroke-width="1" /><path d="M43.78 6.19 L43.79 6.33 L43.83 6.45 L43.91 6.56 L44.02 6.69 L44.09 6.85 L44.08 6.99 L44.01 7.11 L43.93 7.21 L43.83 7.29 L43.73 7.36 L43.62 7.4 L43.5 7.41 L43.38 7.42 L43.26 7.44 L43.13 7.44 L43.01 7.39 L42.9 7.3 L42.81 7.19 L42.71 7.11 L42.57 7.04 L42.43 6.94 L42.33 6.81 L42.32 6.65 L42.37 6.51 L42.43 6.39 L42.47 6.27 L42.5 6.16 L42.55 6.05 L42.62 5.97 L42.7 5.89 L42.79 5.81 L42.88 5.72 L43 5.68 L43.13 5.68 L43.27 5.73 L43.4 5.78 L43.53 5.83 L43.66 5.91 L43.75 6.04Z" fill="#f2f200" stroke="none" stroke-width="1" /><ellipse cx="48.5" cy="10.5" rx="1.2" ry="1.6" fill="#7812ff" stroke="none" stroke-width="1" transform="rotate(-30 48.5 10.5)" /><path d="M54.47 42 L54.01 42.94 L53.67 43.84 L53.51 44.82 L53.29 45.89 L52.73 46.9 L51.74 47.66 L50.5 48.13 L49.2 48.4 L47.89 48.54 L46.6 48.53 L45.34 48.37 L44.14 48.07 L42.98 47.69 L41.82 47.27 L40.73 46.69 L39.91 45.89 L39.44 44.92 L39.18 43.93 L38.89 42.98 L38.47 42 L38.1 40.92 L38.16 39.81 L38.79 38.82 L39.8 38.05 L40.89 37.43 L41.94 36.87 L43.01 36.36 L44.16 36 L45.38 35.82 L46.6 35.73 L47.86 35.65 L49.17 35.66 L50.47 35.92 L51.62 36.47 L52.57 37.22 L53.4 38.05 L54.15 38.92 L54.68 39.9 L54.79 40.96Z" fill="#7812ff" stroke="none" stroke-width="1" /><path d="M53.15 42.2 L52.67 43.02 L52.34 43.79 L52.24 44.65 L52.12 45.63 L51.67 46.56 L50.81 47.24 L49.7 47.65 L48.53 47.88 L47.37 48 L46.23 47.99 L45.11 47.83 L44.06 47.53 L43.05 47.19 L42.02 46.83 L41.06 46.34 L40.33 45.63 L39.93 44.76 L39.73 43.89 L39.46 43.06 L39.02 42.2 L38.63 41.24 L38.66 40.23 L39.25 39.36 L40.21 38.7 L41.22 38.2 L42.15 37.71 L43.08 37.26 L44.09 36.93 L45.15 36.77 L46.23 36.69 L47.33 36.6 L48.51 36.58 L49.67 36.8 L50.68 37.3 L51.51 37.98 L52.24 38.71 L52.93 39.47 L53.42 40.33 L53.5 41.28Z" fill="#1626ff" stroke="none" stroke-width="1" /><path d="M51.28 42.4 L50.84 43.03 L50.57 43.63 L50.52 44.3 L50.48 45.09 L50.16 45.85 L49.49 46.41 L48.6 46.72 L47.68 46.9 L46.76 46.99 L45.85 46.97 L44.97 46.83 L44.15 46.57 L43.37 46.3 L42.56 46.02 L41.79 45.65 L41.22 45.09 L40.93 44.41 L40.79 43.72 L40.56 43.07 L40.17 42.4 L39.8 41.63 L39.8 40.83 L40.3 40.14 L41.11 39.65 L41.94 39.27 L42.68 38.91 L43.4 38.55 L44.18 38.29 L45.01 38.16 L45.85 38.08 L46.72 37.99 L47.65 37.96 L48.57 38.12 L49.37 38.52 L50.01 39.07 L50.59 39.65 L51.15 40.24 L51.56 40.92 L51.6 41.67Z" fill="#00b8ff" stroke="none" stroke-width="1" /><path d="M49.42 42.6 L49.06 43.05 L48.84 43.48 L48.84 43.97 L48.85 44.56 L48.64 45.13 L48.15 45.55 L47.5 45.78 L46.81 45.9 L46.14 45.96 L45.48 45.95 L44.84 45.83 L44.24 45.63 L43.68 45.42 L43.09 45.23 L42.52 44.96 L42.1 44.56 L41.91 44.05 L41.82 43.55 L41.65 43.09 L41.32 42.6 L41.01 42.03 L41 41.44 L41.39 40.93 L42.02 40.59 L42.65 40.34 L43.19 40.08 L43.7 39.82 L44.27 39.62 L44.87 39.52 L45.48 39.47 L46.11 39.39 L46.79 39.35 L47.47 39.46 L48.05 39.76 L48.51 40.17 L48.93 40.59 L49.36 41.02 L49.67 41.51 L49.69 42.07Z" fill="#22f05a" stroke="none" stroke-width="1" /><path d="M47.57 42.8 L47.31 43.08 L47.17 43.34 L47.18 43.65 L47.21 44.03 L47.1 44.4 L46.79 44.67 L46.38 44.81 L45.95 44.88 L45.52 44.92 L45.1 44.91 L44.7 44.83 L44.33 44.69 L43.98 44.56 L43.61 44.44 L43.25 44.28 L42.99 44.03 L42.87 43.71 L42.83 43.39 L42.71 43.1 L42.48 42.8 L42.26 42.44 L42.25 42.06 L42.5 41.74 L42.92 41.54 L43.34 41.39 L43.68 41.24 L44 41.07 L44.35 40.94 L44.72 40.88 L45.1 40.84 L45.5 40.79 L45.93 40.75 L46.36 40.82 L46.73 41.01 L47.01 41.27 L47.27 41.54 L47.55 41.8 L47.75 42.11 L47.76 42.46Z" fill="#f2f200" stroke="none" stroke-width="1" /><ellipse cx="58.4" cy="21" rx="2" ry="2.4" fill="#7812ff" stroke="none" stroke-width="1" /><ellipse cx="58.4" cy="21" rx="1.4" ry="1.68" fill="#1626ff" stroke="none" stroke-width="1" /><ellipse cx="58.4" cy="21" rx="0.7" ry="0.84" fill="#00b8ff" stroke="none" stroke-width="1" /><ellipse cx="35" cy="24" rx="3.2" ry="1.3" fill="#7812ff" stroke="none" stroke-width="1" transform="rotate(35 35 24)" /><ellipse cx="35" cy="24" rx="2.24" ry="0.91" fill="#1626ff" stroke="none" stroke-width="1" transform="rotate(35 35 24)" /><ellipse cx="35" cy="24" rx="1.12" ry="0.45" fill="#00b8ff" stroke="none" stroke-width="1" transform="rotate(35 35 24)" /><ellipse cx="37.5" cy="27.5" rx="2.8" ry="1.2" fill="#7812ff" stroke="none" stroke-width="1" transform="rotate(15 37.5 27.5)" /><ellipse cx="37.5" cy="27.5" rx="1.96" ry="0.84" fill="#1626ff" stroke="none" stroke-width="1" transform="rotate(15 37.5 27.5)" /><ellipse cx="50.4" cy="70.6" rx="2.6" ry="1.1" fill="#7812ff" stroke="none" stroke-width="1" transform="rotate(-20 50.4 70.6)" /><ellipse cx="50.4" cy="70.6" rx="1.82" ry="0.77" fill="#1626ff" stroke="none" stroke-width="1" transform="rotate(-20 50.4 70.6)" /><ellipse cx="50.4" cy="70.6" rx="0.91" ry="0.39" fill="#00b8ff" stroke="none" stroke-width="1" transform="rotate(-20 50.4 70.6)" /><ellipse cx="57.5" cy="73.5" rx="1.2" ry="1.5" fill="#7812ff" stroke="none" stroke-width="1" /><ellipse cx="57.5" cy="73.5" rx="0.84" ry="1.05" fill="#1626ff" stroke="none" stroke-width="1" /><ellipse cx="46.5" cy="73.5" rx="1.2" ry="1.2" fill="#7812ff" stroke="none" stroke-width="1" /><ellipse cx="46.5" cy="73.5" rx="0.84" ry="0.84" fill="#1626ff" stroke="none" stroke-width="1" /><ellipse cx="46.5" cy="73.5" rx="0.6" ry="0.6" fill="#00b8ff" stroke="none" stroke-width="1" /><ellipse cx="46.5" cy="73.5" rx="0.35" ry="0.35" fill="#22f05a" stroke="none" stroke-width="1" /></g></svg></g><g transform="translate(333.6 225.5)"><svg x="0" y="0" width="66.4" height="75.4" overflow="hidden"><use href="#cbg"/><use href="#mtop" transform="translate(15.4 0) rotate(-5 0 40) scale(1.06 1)"/><use href="#mtop" transform="translate(45.2 0) rotate(3 0 40) scale(1.06 1)"/><g filter="url(#bb)"><path d="M23.5 49 L23.39 49.55 L23.16 50.07 L22.9 50.56 L22.62 51.05 L22.27 51.52 L21.77 51.89 L21.14 52.07 L20.49 52.11 L19.89 52.15 L19.3 52.28 L18.66 52.45 L17.96 52.51 L17.29 52.36 L16.72 52.01 L16.28 51.57 L15.93 51.08 L15.68 50.57 L15.54 50.04 L15.51 49.51 L15.5 49 L15.44 48.48 L15.41 47.93 L15.54 47.37 L15.87 46.88 L16.35 46.49 L16.87 46.15 L17.39 45.81 L17.97 45.52 L18.63 45.39 L19.3 45.48 L19.92 45.69 L20.48 45.92 L21.04 46.11 L21.63 46.28 L22.2 46.54 L22.68 46.91 L23.03 47.38 L23.29 47.9 L23.46 48.44Z" fill="#7812ff" stroke="none" stroke-width="1" /><path d="M24.47 41.7 L24.98 42.88 L25.04 44.13 L24.51 45.31 L23.55 46.33 L22.37 47.21 L21.03 47.92 L19.52 48.38 L17.92 48.54 L16.36 48.51 L14.9 48.45 L13.44 48.49 L11.89 48.53 L10.28 48.38 L8.75 47.94 L7.37 47.25 L6.16 46.38 L5.23 45.33 L4.78 44.12 L4.92 42.86 L5.47 41.7 L6.01 40.66 L6.25 39.63 L6.28 38.46 L6.5 37.2 L7.29 36.1 L8.64 35.36 L10.23 34.95 L11.81 34.7 L13.36 34.52 L14.9 34.45 L16.44 34.51 L17.99 34.69 L19.57 34.94 L21.14 35.38 L22.45 36.14 L23.21 37.25 L23.46 38.49 L23.56 39.63 L23.89 40.65Z" fill="#7812ff" stroke="none" stroke-width="1" /><path d="M23.61 41.86 L24.15 42.92 L24.22 44.05 L23.71 45.11 L22.8 46.01 L21.72 46.77 L20.53 47.4 L19.18 47.82 L17.75 47.96 L16.36 47.91 L15.06 47.86 L13.76 47.9 L12.38 47.94 L10.94 47.82 L9.57 47.43 L8.33 46.82 L7.23 46.05 L6.35 45.13 L5.92 44.05 L6.08 42.91 L6.65 41.86 L7.21 40.94 L7.45 40.04 L7.44 39 L7.58 37.86 L8.26 36.85 L9.47 36.19 L10.89 35.83 L12.3 35.6 L13.68 35.43 L15.06 35.36 L16.45 35.42 L17.83 35.58 L19.23 35.82 L20.63 36.21 L21.8 36.89 L22.45 37.9 L22.62 39.02 L22.69 40.03 L23.02 40.93Z" fill="#1626ff" stroke="none" stroke-width="1" /><path d="M22.61 42.02 L23.13 42.94 L23.21 43.93 L22.74 44.84 L21.92 45.6 L20.96 46.25 L19.93 46.79 L18.77 47.16 L17.54 47.27 L16.34 47.22 L15.22 47.16 L14.11 47.2 L12.91 47.26 L11.67 47.15 L10.49 46.81 L9.42 46.29 L8.44 45.65 L7.64 44.87 L7.24 43.93 L7.41 42.93 L7.97 42.02 L8.52 41.24 L8.75 40.47 L8.71 39.57 L8.78 38.57 L9.35 37.69 L10.39 37.12 L11.62 36.81 L12.83 36.61 L14.02 36.45 L15.22 36.38 L16.42 36.44 L17.61 36.6 L18.82 36.81 L20.03 37.14 L21.03 37.74 L21.57 38.62 L21.67 39.6 L21.71 40.47 L22.02 41.23Z" fill="#00b8ff" stroke="none" stroke-width="1" /><path d="M21.6 42.18 L22.09 42.96 L22.18 43.81 L21.76 44.57 L21.02 45.2 L20.2 45.73 L19.33 46.19 L18.36 46.49 L17.32 46.59 L16.31 46.53 L15.38 46.48 L14.45 46.52 L13.44 46.57 L12.4 46.49 L11.41 46.21 L10.51 45.77 L9.66 45.24 L8.95 44.59 L8.6 43.8 L8.77 42.95 L9.3 42.18 L9.81 41.53 L10.02 40.9 L9.96 40.14 L9.98 39.29 L10.44 38.54 L11.31 38.05 L12.35 37.8 L13.37 37.63 L14.37 37.48 L15.38 37.41 L16.39 37.47 L17.39 37.61 L18.41 37.8 L19.43 38.07 L20.27 38.58 L20.7 39.33 L20.75 40.16 L20.76 40.89 L21.05 41.52Z" fill="#22f05a" stroke="none" stroke-width="1" /><path d="M20.58 42.34 L21.03 42.98 L21.11 43.67 L20.75 44.3 L20.12 44.79 L19.44 45.21 L18.74 45.58 L17.96 45.83 L17.11 45.9 L16.29 45.85 L15.54 45.8 L14.79 45.84 L13.97 45.89 L13.13 45.83 L12.33 45.6 L11.59 45.25 L10.89 44.83 L10.28 44.31 L9.98 43.67 L10.14 42.97 L10.62 42.34 L11.08 41.82 L11.26 41.31 L11.19 40.71 L11.18 40 L11.53 39.38 L12.24 38.99 L13.08 38.79 L13.91 38.64 L14.72 38.51 L15.54 38.46 L16.36 38.5 L17.18 38.63 L18 38.78 L18.83 39.01 L19.5 39.42 L19.83 40.04 L19.84 40.72 L19.84 41.31 L20.09 41.81Z" fill="#f2f200" stroke="none" stroke-width="1" /><path d="M19.57 42.5 L19.94 43 L20.01 43.53 L19.72 44.01 L19.22 44.38 L18.68 44.7 L18.14 44.98 L17.55 45.17 L16.9 45.22 L16.27 45.17 L15.7 45.13 L15.13 45.17 L14.5 45.21 L13.85 45.17 L13.24 44.99 L12.68 44.73 L12.12 44.42 L11.64 44.03 L11.4 43.53 L11.53 42.99 L11.93 42.5 L12.32 42.11 L12.47 41.73 L12.4 41.26 L12.37 40.72 L12.62 40.23 L13.17 39.93 L13.82 39.78 L14.45 39.66 L15.07 39.56 L15.7 39.51 L16.33 39.55 L16.96 39.65 L17.59 39.77 L18.22 39.95 L18.73 40.26 L18.97 40.75 L18.96 41.28 L18.95 41.72 L19.16 42.1Z" fill="#ff0c00" stroke="none" stroke-width="1" /><ellipse cx="6.1" cy="28" rx="1.6" ry="1.6" fill="#7812ff" stroke="none" stroke-width="1" /><ellipse cx="6.1" cy="28" rx="1.12" ry="1.12" fill="#1626ff" stroke="none" stroke-width="1" /><ellipse cx="6.1" cy="28" rx="0.8" ry="0.8" fill="#00b8ff" stroke="none" stroke-width="1" /><ellipse cx="6.1" cy="28" rx="0.47" ry="0.47" fill="#22f05a" stroke="none" stroke-width="1" /><ellipse cx="11" cy="71.5" rx="1.4" ry="2.8" fill="#7812ff" stroke="none" stroke-width="1" /><ellipse cx="4.5" cy="67.5" rx="0.7" ry="0.7" fill="#7812ff" stroke="none" stroke-width="1" /><path d="M55.66 39.9 L55.85 40.86 L55.97 41.9 L55.74 42.97 L54.92 43.93 L53.58 44.69 L52 45.25 L50.35 45.68 L48.64 45.96 L46.89 45.99 L45.2 45.78 L43.65 45.51 L42.1 45.36 L40.33 45.36 L38.32 45.31 L36.44 44.91 L35.16 44.07 L34.61 42.98 L34.5 41.89 L34.54 40.86 L34.66 39.9 L34.88 38.97 L35.21 38.04 L35.59 37.1 L36.07 36.11 L36.92 35.17 L38.31 34.48 L40.09 34.17 L41.9 34.09 L43.57 34 L45.2 33.78 L46.97 33.52 L48.85 33.49 L50.6 33.85 L52.01 34.54 L53.1 35.38 L54.01 36.24 L54.76 37.12 L55.27 38.03 L55.51 38.97Z" fill="#7812ff" stroke="none" stroke-width="1" /><path d="M54.83 40.1 L55.07 40.95 L55.26 41.88 L55.08 42.83 L54.31 43.67 L53.05 44.3 L51.64 44.77 L50.22 45.17 L48.74 45.44 L47.19 45.46 L45.7 45.2 L44.38 44.87 L43.08 44.71 L41.53 44.78 L39.67 44.85 L37.88 44.57 L36.7 43.83 L36.26 42.85 L36.23 41.86 L36.31 40.95 L36.46 40.1 L36.72 39.29 L37.09 38.5 L37.45 37.7 L37.82 36.83 L38.47 35.97 L39.66 35.35 L41.23 35.09 L42.84 35.06 L44.28 34.98 L45.7 34.7 L47.28 34.38 L48.98 34.32 L50.51 34.7 L51.65 35.42 L52.46 36.23 L53.2 36.99 L53.89 37.72 L54.4 38.48 L54.66 39.29Z" fill="#1626ff" stroke="none" stroke-width="1" /><path d="M50.76 40.3 L50.91 40.73 L51.05 41.2 L50.97 41.69 L50.56 42.11 L49.89 42.41 L49.16 42.63 L48.46 42.84 L47.73 42.99 L46.95 43 L46.2 42.83 L45.56 42.62 L44.94 42.52 L44.16 42.59 L43.18 42.68 L42.21 42.58 L41.6 42.21 L41.39 41.7 L41.41 41.19 L41.48 40.73 L41.57 40.3 L41.74 39.9 L41.96 39.51 L42.16 39.12 L42.31 38.68 L42.59 38.24 L43.17 37.92 L43.97 37.8 L44.78 37.8 L45.49 37.75 L46.2 37.58 L47.01 37.37 L47.89 37.33 L48.65 37.55 L49.17 37.97 L49.51 38.41 L49.84 38.79 L50.2 39.13 L50.49 39.5 L50.65 39.9Z" fill="#00b8ff" stroke="none" stroke-width="1" /><ellipse cx="40.7" cy="25.5" rx="0.9" ry="0.9" fill="#7812ff" stroke="none" stroke-width="1" /><ellipse cx="61.2" cy="26.3" rx="1.5" ry="1.1" fill="#7812ff" stroke="none" stroke-width="1" transform="rotate(-30 61.2 26.3)" /><ellipse cx="47.5" cy="72" rx="1.2" ry="3" fill="#7812ff" stroke="none" stroke-width="1" /><ellipse cx="40" cy="68.5" rx="0.8" ry="0.8" fill="#7812ff" stroke="none" stroke-width="1" /><ellipse cx="54.5" cy="66" rx="0.8" ry="0.8" fill="#7812ff" stroke="none" stroke-width="1" /></g></svg></g><g transform="translate(402.7 225.5)"><svg x="0" y="0" width="66.4" height="75.4" overflow="hidden"><use href="#cbg"/><use href="#mside" transform="translate(17 0) rotate(-3 0 40)"/><use href="#mside" transform="translate(50.5 0) rotate(-2 0 40)"/><g filter="url(#bb)"><path d="M22.07 35.58 L22.27 36.51 L22.14 37.48 L21.81 38.45 L21.44 39.42 L20.98 40.41 L20.2 41.34 L19.01 42.01 L17.64 42.39 L16.33 42.61 L15.17 42.9 L14.02 43.36 L12.74 43.88 L11.32 44.25 L9.88 44.31 L8.58 44.02 L7.54 43.42 L6.87 42.58 L6.6 41.6 L6.6 40.61 L6.61 39.73 L6.38 38.93 L5.93 38.1 L5.56 37.13 L5.68 36.08 L6.42 35.11 L7.52 34.33 L8.67 33.66 L9.8 33.02 L10.99 32.46 L12.27 32.08 L13.57 31.9 L14.84 31.85 L16.09 31.85 L17.35 31.9 L18.54 32.15 L19.52 32.65 L20.28 33.32 L20.95 34.03 L21.58 34.76Z" fill="#7812ff" stroke="none" stroke-width="1" /><path d="M20.22 36.05 L20.39 36.86 L20.21 37.72 L19.84 38.56 L19.5 39.39 L19.13 40.25 L18.49 41.07 L17.46 41.66 L16.24 41.95 L15.09 42.11 L14.1 42.35 L13.12 42.78 L12.01 43.28 L10.76 43.65 L9.49 43.71 L8.35 43.46 L7.45 42.93 L6.88 42.18 L6.69 41.29 L6.77 40.41 L6.83 39.63 L6.63 38.96 L6.17 38.26 L5.77 37.42 L5.85 36.5 L6.51 35.66 L7.5 35 L8.5 34.42 L9.45 33.84 L10.47 33.32 L11.59 32.98 L12.73 32.85 L13.83 32.87 L14.9 32.9 L15.97 32.96 L16.99 33.17 L17.83 33.6 L18.5 34.16 L19.12 34.74 L19.74 35.34Z" fill="#1626ff" stroke="none" stroke-width="1" /><path d="M17.33 36.79 L17.45 37.38 L17.27 38 L16.95 38.6 L16.69 39.18 L16.45 39.79 L16.02 40.38 L15.28 40.8 L14.4 40.99 L13.58 41.07 L12.88 41.23 L12.2 41.56 L11.41 41.96 L10.51 42.25 L9.59 42.3 L8.78 42.12 L8.13 41.74 L7.74 41.19 L7.63 40.54 L7.74 39.89 L7.82 39.34 L7.68 38.87 L7.3 38.38 L6.96 37.79 L7 37.13 L7.49 36.54 L8.22 36.07 L8.93 35.66 L9.58 35.23 L10.29 34.83 L11.1 34.58 L11.92 34.52 L12.7 34.57 L13.44 34.62 L14.19 34.67 L14.9 34.82 L15.5 35.11 L15.98 35.5 L16.45 35.89 L16.94 36.3Z" fill="#00b8ff" stroke="none" stroke-width="1" /><path d="M14.36 37.55 L14.44 37.91 L14.3 38.28 L14.08 38.63 L13.91 38.97 L13.78 39.34 L13.54 39.7 L13.11 39.94 L12.57 40.04 L12.08 40.07 L11.67 40.17 L11.28 40.37 L10.81 40.63 L10.27 40.82 L9.72 40.86 L9.23 40.75 L8.85 40.52 L8.62 40.18 L8.57 39.79 L8.67 39.39 L8.74 39.06 L8.65 38.79 L8.4 38.51 L8.17 38.15 L8.18 37.76 L8.48 37.41 L8.93 37.15 L9.35 36.9 L9.72 36.63 L10.14 36.38 L10.62 36.23 L11.11 36.21 L11.57 36.26 L12.01 36.31 L12.44 36.34 L12.86 36.43 L13.2 36.6 L13.49 36.82 L13.79 37.03 L14.11 37.26Z" fill="#22f05a" stroke="none" stroke-width="1" /><ellipse cx="25.5" cy="36" rx="1" ry="0.8" fill="#7812ff" stroke="none" stroke-width="1" /><ellipse cx="17.3" cy="71.5" rx="1.2" ry="3" fill="#7812ff" stroke="none" stroke-width="1" /><ellipse cx="3.5" cy="22.5" rx="0.6" ry="0.6" fill="#7812ff" stroke="none" stroke-width="1" /><ellipse cx="11.5" cy="63.5" rx="0.8" ry="0.8" fill="#7812ff" stroke="none" stroke-width="1" /><path d="M53.63 35.48 L54.06 36.15 L54.12 36.97 L53.89 37.85 L53.56 38.74 L53.16 39.64 L52.53 40.55 L51.58 41.35 L50.4 41.96 L49.22 42.42 L48.14 42.86 L47.12 43.4 L46.01 44.02 L44.77 44.57 L43.47 44.92 L42.21 45 L41.13 44.79 L40.33 44.3 L39.92 43.56 L39.83 42.7 L39.85 41.91 L39.68 41.25 L39.25 40.64 L38.77 39.94 L38.66 39.07 L39.14 38.12 L40.06 37.25 L41.11 36.49 L42.13 35.78 L43.15 35.1 L44.26 34.52 L45.42 34.06 L46.59 33.71 L47.78 33.43 L48.96 33.25 L50.06 33.28 L50.96 33.59 L51.65 34.06 L52.29 34.53 L52.98 34.97Z" fill="#7812ff" stroke="none" stroke-width="1" /><path d="M52.73 35.9 L53.17 36.46 L53.1 37.22 L52.68 38.02 L52.24 38.77 L51.94 39.51 L51.52 40.28 L50.75 40.96 L49.7 41.44 L48.66 41.75 L47.78 42.07 L46.97 42.55 L46.06 43.16 L45 43.71 L43.87 44.06 L42.77 44.17 L41.8 44.03 L41.1 43.61 L40.83 42.9 L40.96 42.04 L41.2 41.28 L41.14 40.73 L40.65 40.29 L40.02 39.77 L39.78 39.04 L40.2 38.24 L41.08 37.52 L41.99 36.9 L42.78 36.27 L43.59 35.63 L44.52 35.09 L45.54 34.73 L46.55 34.53 L47.52 34.39 L48.47 34.29 L49.34 34.36 L50.02 34.65 L50.57 35.04 L51.18 35.34 L51.96 35.57Z" fill="#1626ff" stroke="none" stroke-width="1" /><ellipse cx="33.3" cy="23.5" rx="1.6" ry="1.4" fill="#7812ff" stroke="none" stroke-width="1" /><ellipse cx="56.5" cy="36" rx="0.8" ry="0.6" fill="#7812ff" stroke="none" stroke-width="1" /><ellipse cx="57.8" cy="72" rx="1.1" ry="2.6" fill="#7812ff" stroke="none" stroke-width="1" /></g></svg></g><g transform="translate(54.4 305.5)"><svg x="0" y="0" width="66.4" height="75.4" overflow="hidden"><use href="#cbg"/><use href="#mtop" transform="translate(19.3 0) scale(1.06 1)"/><use href="#mtop" transform="translate(48 0) scale(1.06 1)"/><g filter="url(#bb)"><path d="M30.34 39 L30.54 39.93 L30.68 40.93 L30.45 41.97 L29.62 42.9 L28.27 43.63 L26.66 44.17 L25 44.58 L23.28 44.86 L21.51 44.9 L19.8 44.7 L18.23 44.43 L16.67 44.27 L14.9 44.27 L12.88 44.21 L10.98 43.83 L9.68 43.02 L9.11 41.98 L8.98 40.92 L9.02 39.93 L9.14 39 L9.37 38.1 L9.72 37.21 L10.11 36.3 L10.6 35.34 L11.44 34.43 L12.84 33.76 L14.63 33.45 L16.47 33.39 L18.15 33.31 L19.8 33.1 L21.58 32.85 L23.48 32.8 L25.26 33.14 L26.7 33.8 L27.8 34.62 L28.7 35.46 L29.45 36.31 L29.94 37.2 L30.19 38.1Z" fill="#7812ff" stroke="none" stroke-width="1" /><path d="M27.46 39.07 L27.69 39.88 L27.86 40.77 L27.68 41.68 L26.92 42.49 L25.68 43.11 L24.26 43.56 L22.83 43.93 L21.34 44.19 L19.79 44.22 L18.3 44.01 L16.96 43.71 L15.64 43.55 L14.09 43.58 L12.27 43.61 L10.52 43.32 L9.35 42.63 L8.87 41.7 L8.8 40.76 L8.86 39.88 L9 39.07 L9.25 38.28 L9.61 37.52 L9.97 36.74 L10.36 35.91 L11.03 35.09 L12.23 34.49 L13.81 34.24 L15.41 34.21 L16.87 34.14 L18.3 33.91 L19.88 33.62 L21.57 33.56 L23.12 33.89 L24.3 34.54 L25.17 35.31 L25.91 36.04 L26.58 36.76 L27.05 37.51 L27.3 38.29Z" fill="#1626ff" stroke="none" stroke-width="1" /><path d="M23.29 39.13 L23.49 39.71 L23.66 40.35 L23.54 41.01 L22.97 41.59 L22.05 42.01 L21.03 42.32 L20.02 42.59 L18.97 42.79 L17.86 42.81 L16.8 42.62 L15.86 42.37 L14.95 42.24 L13.86 42.29 L12.52 42.36 L11.21 42.19 L10.34 41.7 L10.02 41.02 L10 40.34 L10.07 39.72 L10.19 39.13 L10.4 38.58 L10.7 38.05 L10.97 37.51 L11.21 36.91 L11.65 36.31 L12.48 35.88 L13.61 35.71 L14.76 35.7 L15.79 35.65 L16.8 35.45 L17.94 35.21 L19.17 35.15 L20.27 35.41 L21.06 35.92 L21.61 36.5 L22.1 37.02 L22.59 37.52 L22.96 38.04 L23.16 38.58Z" fill="#00b8ff" stroke="none" stroke-width="1" /><path d="M19.14 39.2 L19.27 39.54 L19.39 39.93 L19.33 40.32 L18.98 40.66 L18.41 40.9 L17.8 41.08 L17.21 41.25 L16.59 41.38 L15.93 41.39 L15.3 41.25 L14.76 41.08 L14.24 40.99 L13.59 41.04 L12.76 41.11 L11.95 41.03 L11.42 40.74 L11.24 40.33 L11.24 39.92 L11.3 39.55 L11.38 39.2 L11.53 38.87 L11.73 38.57 L11.9 38.25 L12.02 37.9 L12.26 37.54 L12.74 37.27 L13.42 37.18 L14.1 37.18 L14.71 37.15 L15.3 37.01 L15.98 36.84 L16.73 36.8 L17.38 36.97 L17.82 37.3 L18.11 37.66 L18.38 37.98 L18.67 38.26 L18.91 38.56 L19.04 38.88Z" fill="#22f05a" stroke="none" stroke-width="1" /><path d="M56.93 41.1 L56.79 42.23 L56.45 43.34 L55.96 44.45 L55.27 45.54 L54.2 46.48 L52.71 47.13 L51.04 47.5 L49.43 47.78 L47.86 48.14 L46.2 48.53 L44.41 48.71 L42.63 48.5 L41.03 47.93 L39.63 47.19 L38.32 46.41 L37.14 45.53 L36.32 44.49 L36.01 43.33 L36.05 42.18 L36.13 41.1 L36.02 40.02 L35.88 38.84 L36.01 37.6 L36.61 36.41 L37.69 35.37 L39.15 34.57 L40.87 34.06 L42.74 33.94 L44.57 34.16 L46.2 34.53 L47.7 34.73 L49.31 34.66 L51.2 34.5 L53.19 34.63 L54.83 35.29 L55.8 36.4 L56.27 37.65 L56.58 38.83 L56.83 39.97Z" fill="#7812ff" stroke="none" stroke-width="1" /><path d="M55.96 41.4 L55.82 42.41 L55.47 43.4 L55 44.38 L54.38 45.34 L53.42 46.18 L52.09 46.74 L50.61 47.05 L49.18 47.32 L47.81 47.7 L46.33 48.11 L44.7 48.31 L43.09 48.1 L41.69 47.52 L40.49 46.8 L39.35 46.09 L38.28 45.33 L37.52 44.42 L37.24 43.39 L37.31 42.36 L37.39 41.4 L37.28 40.44 L37.11 39.38 L37.19 38.27 L37.71 37.19 L38.68 36.26 L39.98 35.52 L41.53 35.06 L43.22 34.96 L44.87 35.22 L46.33 35.61 L47.64 35.82 L49.06 35.74 L50.77 35.53 L52.6 35.58 L54.09 36.17 L54.95 37.18 L55.34 38.31 L55.61 39.37 L55.86 40.38Z" fill="#1626ff" stroke="none" stroke-width="1" /><path d="M54.08 41.7 L53.95 42.5 L53.64 43.27 L53.25 44.03 L52.75 44.78 L52 45.43 L50.95 45.87 L49.78 46.1 L48.68 46.33 L47.62 46.66 L46.45 47.03 L45.15 47.22 L43.87 47.04 L42.79 46.53 L41.89 45.92 L41.02 45.36 L40.16 44.78 L39.54 44.07 L39.32 43.26 L39.39 42.45 L39.47 41.7 L39.36 40.94 L39.19 40.11 L39.23 39.22 L39.64 38.37 L40.4 37.63 L41.42 37.04 L42.64 36.67 L43.99 36.6 L45.31 36.84 L46.45 37.2 L47.46 37.4 L48.57 37.31 L49.93 37.1 L51.42 37.1 L52.61 37.55 L53.27 38.36 L53.55 39.26 L53.76 40.1 L53.98 40.9Z" fill="#00b8ff" stroke="none" stroke-width="1" /><path d="M52.17 42 L52.06 42.59 L51.81 43.15 L51.51 43.69 L51.14 44.23 L50.59 44.7 L49.83 45.01 L48.98 45.18 L48.19 45.35 L47.43 45.62 L46.58 45.93 L45.61 46.09 L44.67 45.94 L43.9 45.53 L43.27 45.06 L42.65 44.64 L42.02 44.23 L41.55 43.72 L41.39 43.13 L41.46 42.55 L41.52 42 L41.43 41.45 L41.28 40.84 L41.29 40.19 L41.58 39.56 L42.14 39.02 L42.88 38.58 L43.77 38.3 L44.77 38.26 L45.74 38.47 L46.58 38.77 L47.3 38.93 L48.09 38.85 L49.11 38.66 L50.22 38.63 L51.1 38.95 L51.57 39.56 L51.76 40.22 L51.91 40.83 L52.09 41.41Z" fill="#22f05a" stroke="none" stroke-width="1" /><path d="M50.23 42.3 L50.16 42.67 L49.99 43.02 L49.78 43.36 L49.55 43.69 L49.21 43.99 L48.72 44.17 L48.19 44.27 L47.71 44.39 L47.24 44.58 L46.7 44.8 L46.09 44.91 L45.49 44.8 L45.02 44.53 L44.64 44.21 L44.26 43.94 L43.86 43.69 L43.55 43.38 L43.45 43.01 L43.5 42.64 L43.55 42.3 L43.48 41.96 L43.37 41.57 L43.37 41.16 L43.55 40.76 L43.9 40.42 L44.36 40.14 L44.93 39.96 L45.56 39.94 L46.18 40.08 L46.7 40.3 L47.14 40.41 L47.64 40.35 L48.28 40.21 L49 40.17 L49.57 40.37 L49.86 40.76 L49.96 41.18 L50.06 41.57 L50.18 41.93Z" fill="#f2f200" stroke="none" stroke-width="1" /><ellipse cx="36.8" cy="24.6" rx="0.8" ry="0.8" fill="#7812ff" stroke="none" stroke-width="1" /></g></svg></g><g transform="translate(123.5 305.5)"><svg x="0" y="0" width="66.4" height="75.4" overflow="hidden"><use href="#cbg"/><use href="#mside" transform="translate(18 0) rotate(-2 0 40)"/><use href="#mside" transform="translate(50 0) rotate(-2 0 40)"/><g filter="url(#bb)"><path d="M21.88 37.82 L22.41 38.43 L22.63 39.17 L22.49 39.99 L22.12 40.79 L21.62 41.57 L20.99 42.3 L20.18 42.92 L19.23 43.38 L18.26 43.69 L17.35 43.98 L16.46 44.32 L15.52 44.7 L14.5 44.98 L13.45 45.1 L12.43 45.02 L11.49 44.77 L10.73 44.32 L10.25 43.67 L10.13 42.87 L10.23 42.06 L10.29 41.36 L10.14 40.71 L9.84 40.01 L9.7 39.21 L9.98 38.37 L10.69 37.65 L11.6 37.06 L12.51 36.56 L13.41 36.11 L14.34 35.71 L15.3 35.4 L16.29 35.16 L17.31 34.98 L18.35 34.91 L19.29 35.09 L19.99 35.57 L20.43 36.21 L20.81 36.82 L21.29 37.32Z" fill="#7812ff" stroke="none" stroke-width="1" /><path d="M20.42 38.37 L20.95 38.86 L21.14 39.49 L20.96 40.19 L20.56 40.86 L20.11 41.49 L19.61 42.1 L18.95 42.62 L18.16 42.99 L17.34 43.23 L16.58 43.45 L15.86 43.74 L15.09 44.07 L14.24 44.33 L13.37 44.43 L12.51 44.39 L11.69 44.21 L11 43.88 L10.59 43.32 L10.55 42.61 L10.75 41.89 L10.9 41.29 L10.78 40.77 L10.46 40.21 L10.26 39.54 L10.46 38.84 L11.06 38.24 L11.83 37.76 L12.58 37.34 L13.32 36.94 L14.09 36.59 L14.9 36.33 L15.73 36.16 L16.57 36.03 L17.43 35.98 L18.2 36.15 L18.74 36.58 L19.05 37.15 L19.35 37.64 L19.81 38.01Z" fill="#1626ff" stroke="none" stroke-width="1" /><path d="M17.43 39.48 L17.75 39.71 L17.85 40.04 L17.72 40.39 L17.48 40.73 L17.24 41.04 L16.99 41.35 L16.67 41.61 L16.27 41.79 L15.86 41.9 L15.48 42 L15.13 42.15 L14.75 42.32 L14.32 42.46 L13.88 42.52 L13.45 42.5 L13.02 42.44 L12.65 42.28 L12.43 42 L12.44 41.62 L12.6 41.24 L12.72 40.93 L12.67 40.67 L12.48 40.41 L12.33 40.07 L12.41 39.72 L12.72 39.42 L13.11 39.18 L13.49 38.97 L13.85 38.75 L14.23 38.57 L14.65 38.44 L15.06 38.37 L15.49 38.31 L15.91 38.29 L16.29 38.38 L16.54 38.62 L16.67 38.92 L16.81 39.16 L17.07 39.32Z" fill="#00b8ff" stroke="none" stroke-width="1" /><path d="M53.68 38.5 L53.62 39.39 L53.65 40.2 L53.9 41 L54.17 41.91 L54.08 42.94 L53.44 43.96 L52.4 44.83 L51.22 45.54 L50.04 46.15 L48.86 46.65 L47.68 47.07 L46.5 47.39 L45.3 47.7 L44.04 48 L42.76 48.11 L41.69 47.82 L41 47.16 L40.58 46.37 L40.16 45.67 L39.54 45.09 L38.8 44.48 L38.25 43.69 L38.18 42.72 L38.62 41.68 L39.37 40.7 L40.28 39.8 L41.27 39.01 L42.33 38.34 L43.41 37.77 L44.47 37.23 L45.53 36.61 L46.7 35.95 L48 35.44 L49.31 35.24 L50.5 35.4 L51.52 35.76 L52.42 36.23 L53.15 36.82 L53.59 37.6Z" fill="#7812ff" stroke="none" stroke-width="1" /><path d="M52.06 39.27 L51.87 40.08 L51.81 40.78 L52.05 41.44 L52.41 42.19 L52.45 43.09 L51.94 43.98 L51.04 44.74 L50.01 45.35 L48.99 45.87 L47.96 46.3 L46.93 46.62 L45.92 46.84 L44.91 47.07 L43.83 47.34 L42.73 47.48 L41.8 47.25 L41.25 46.65 L40.94 45.94 L40.59 45.36 L39.97 44.91 L39.19 44.44 L38.64 43.77 L38.6 42.91 L39.1 42 L39.86 41.16 L40.68 40.42 L41.52 39.75 L42.41 39.19 L43.32 38.71 L44.2 38.24 L45.09 37.67 L46.09 37.05 L47.21 36.58 L48.35 36.43 L49.34 36.6 L50.21 36.93 L51.02 37.3 L51.7 37.77 L52.07 38.45Z" fill="#1626ff" stroke="none" stroke-width="1" /><path d="M48.43 40.99 L48.27 41.41 L48.19 41.77 L48.33 42.08 L48.57 42.45 L48.65 42.9 L48.42 43.35 L47.96 43.74 L47.44 44.05 L46.92 44.31 L46.39 44.53 L45.87 44.67 L45.36 44.75 L44.86 44.85 L44.33 44.99 L43.77 45.08 L43.3 44.98 L43.04 44.66 L42.92 44.29 L42.74 44 L42.38 43.81 L41.93 43.59 L41.61 43.26 L41.61 42.81 L41.91 42.35 L42.35 41.93 L42.78 41.57 L43.2 41.25 L43.63 40.97 L44.08 40.73 L44.51 40.49 L44.95 40.19 L45.44 39.86 L46.02 39.6 L46.59 39.53 L47.08 39.64 L47.51 39.81 L47.93 39.98 L48.3 40.2 L48.48 40.54Z" fill="#00b8ff" stroke="none" stroke-width="1" /></g></svg></g><g transform="translate(194.1 305.5)"><svg x="0" y="0" width="66.4" height="75.4" overflow="hidden"><use href="#cbg"/><use href="#mtop" transform="translate(14.8 0) scale(1.06 1)"/><use href="#mtop" transform="translate(46.2 0) scale(1.06 1)"/><g filter="url(#bb)"><path d="M27.86 43.2 L27.72 44.25 L27.34 45.28 L26.79 46.32 L26 47.33 L24.76 48.22 L23.02 48.81 L21.08 49.13 L19.2 49.37 L17.4 49.7 L15.5 50.06 L13.43 50.27 L11.36 50.1 L9.5 49.58 L7.88 48.88 L6.39 48.13 L5.06 47.31 L4.13 46.34 L3.76 45.27 L3.79 44.2 L3.86 43.2 L3.75 42.19 L3.6 41.11 L3.76 39.96 L4.47 38.86 L5.71 37.9 L7.37 37.14 L9.34 36.66 L11.49 36.52 L13.6 36.72 L15.5 37.06 L17.23 37.28 L19.07 37.25 L21.23 37.11 L23.53 37.22 L25.44 37.82 L26.6 38.83 L27.15 39.98 L27.49 41.09 L27.76 42.15Z" fill="#7812ff" stroke="none" stroke-width="1" /><path d="M26.49 43.32 L26.34 44.25 L25.97 45.16 L25.46 46.07 L24.75 46.96 L23.65 47.74 L22.11 48.25 L20.39 48.52 L18.75 48.74 L17.18 49.07 L15.5 49.44 L13.65 49.65 L11.8 49.49 L10.17 48.99 L8.79 48.33 L7.5 47.65 L6.31 46.94 L5.46 46.09 L5.13 45.15 L5.18 44.21 L5.26 43.32 L5.14 42.43 L4.97 41.47 L5.09 40.45 L5.7 39.46 L6.8 38.61 L8.27 37.93 L10.01 37.49 L11.93 37.37 L13.82 37.59 L15.5 37.94 L17.01 38.17 L18.62 38.12 L20.55 37.95 L22.63 38 L24.35 38.52 L25.37 39.44 L25.83 40.47 L26.12 41.45 L26.38 42.39Z" fill="#1626ff" stroke="none" stroke-width="1" /><path d="M25.6 43.44 L25.45 44.29 L25.07 45.12 L24.58 45.95 L23.93 46.76 L22.93 47.46 L21.51 47.92 L19.94 48.16 L18.46 48.37 L17.04 48.7 L15.5 49.09 L13.78 49.31 L12.07 49.15 L10.6 48.64 L9.38 48 L8.24 47.37 L7.14 46.73 L6.33 45.97 L6.03 45.11 L6.09 44.25 L6.18 43.44 L6.05 42.63 L5.86 41.74 L5.94 40.8 L6.5 39.9 L7.51 39.11 L8.85 38.48 L10.44 38.06 L12.22 37.96 L13.97 38.19 L15.5 38.57 L16.86 38.8 L18.32 38.75 L20.1 38.55 L22.05 38.56 L23.65 39.02 L24.57 39.87 L24.97 40.83 L25.24 41.73 L25.49 42.58Z" fill="#00b8ff" stroke="none" stroke-width="1" /><path d="M24.71 43.56 L24.55 44.34 L24.18 45.09 L23.71 45.83 L23.12 46.56 L22.21 47.19 L20.92 47.6 L19.49 47.8 L18.16 48 L16.9 48.33 L15.5 48.73 L13.92 48.95 L12.36 48.8 L11.04 48.3 L9.98 47.68 L8.96 47.1 L7.95 46.53 L7.2 45.85 L6.92 45.07 L7 44.29 L7.08 43.56 L6.96 42.83 L6.76 42.02 L6.8 41.16 L7.3 40.33 L8.22 39.62 L9.43 39.03 L10.88 38.65 L12.5 38.56 L14.11 38.8 L15.5 39.18 L16.71 39.42 L18.02 39.36 L19.66 39.14 L21.47 39.11 L22.95 39.53 L23.77 40.31 L24.11 41.18 L24.35 42 L24.6 42.78Z" fill="#22f05a" stroke="none" stroke-width="1" /><path d="M23.8 43.68 L23.65 44.38 L23.29 45.05 L22.85 45.71 L22.31 46.36 L21.49 46.93 L20.33 47.28 L19.05 47.46 L17.87 47.64 L16.75 47.97 L15.5 48.36 L14.07 48.58 L12.65 48.43 L11.48 47.95 L10.56 47.36 L9.67 46.84 L8.76 46.33 L8.06 45.73 L7.81 45.03 L7.9 44.33 L7.99 43.68 L7.86 43.02 L7.65 42.3 L7.67 41.52 L8.12 40.77 L8.94 40.13 L10.02 39.59 L11.32 39.24 L12.79 39.17 L14.25 39.41 L15.5 39.79 L16.57 40.02 L17.73 39.96 L19.22 39.73 L20.88 39.67 L22.23 40.04 L22.95 40.75 L23.24 41.54 L23.45 42.28 L23.69 42.98Z" fill="#f2f200" stroke="none" stroke-width="1" /><path d="M22.89 43.8 L22.74 44.42 L22.4 45.01 L21.99 45.59 L21.51 46.16 L20.78 46.66 L19.75 46.97 L18.62 47.12 L17.59 47.28 L16.61 47.6 L15.5 47.98 L14.22 48.19 L12.95 48.05 L11.93 47.6 L11.14 47.05 L10.38 46.57 L9.56 46.14 L8.93 45.61 L8.7 45 L8.79 44.38 L8.88 43.8 L8.75 43.22 L8.54 42.58 L8.54 41.88 L8.93 41.22 L9.66 40.64 L10.62 40.16 L11.77 39.83 L13.09 39.78 L14.39 40.02 L15.5 40.39 L16.43 40.61 L17.45 40.55 L18.78 40.31 L20.28 40.24 L21.5 40.55 L22.13 41.19 L22.37 41.9 L22.56 42.56 L22.79 43.18Z" fill="#ff0c00" stroke="none" stroke-width="1" /><ellipse cx="19" cy="74.2" rx="1.6" ry="1.3" fill="#7812ff" stroke="none" stroke-width="1" /><ellipse cx="19" cy="74.2" rx="1.12" ry="0.91" fill="#1626ff" stroke="none" stroke-width="1" /><ellipse cx="19" cy="74.2" rx="0.56" ry="0.45" fill="#00b8ff" stroke="none" stroke-width="1" /><ellipse cx="26.4" cy="71.4" rx="1.2" ry="1.2" fill="#7812ff" stroke="none" stroke-width="1" /><ellipse cx="26.4" cy="71.4" rx="0.84" ry="0.84" fill="#1626ff" stroke="none" stroke-width="1" /><ellipse cx="26.4" cy="71.4" rx="0.42" ry="0.42" fill="#00b8ff" stroke="none" stroke-width="1" /><ellipse cx="11.5" cy="30.5" rx="0.7" ry="0.7" fill="#7812ff" stroke="none" stroke-width="1" /><path d="M47.66 7.9 L47.75 8.44 L47.62 8.98 L47.3 9.44 L46.93 9.83 L46.56 10.21 L46.17 10.58 L45.7 10.85 L45.16 10.98 L44.62 10.99 L44.1 10.96 L43.58 10.97 L43.05 10.95 L42.5 10.85 L41.99 10.64 L41.52 10.33 L41.09 9.96 L40.77 9.5 L40.62 8.96 L40.69 8.41 L40.86 7.9 L41 7.44 L41.03 6.96 L41.05 6.44 L41.19 5.91 L41.53 5.48 L42 5.18 L42.51 4.97 L43.02 4.78 L43.55 4.63 L44.1 4.56 L44.65 4.61 L45.19 4.75 L45.69 4.97 L46.15 5.24 L46.55 5.6 L46.83 6.03 L47.02 6.5 L47.21 6.95 L47.45 7.4Z" fill="#7812ff" stroke="none" stroke-width="1" /><path d="M46.85 7.9 L46.94 8.32 L46.83 8.73 L46.57 9.08 L46.26 9.38 L45.97 9.66 L45.68 9.95 L45.32 10.16 L44.91 10.26 L44.5 10.25 L44.1 10.22 L43.71 10.23 L43.29 10.23 L42.88 10.16 L42.48 10 L42.11 9.77 L41.78 9.49 L41.52 9.14 L41.41 8.72 L41.48 8.29 L41.65 7.9 L41.77 7.55 L41.79 7.19 L41.78 6.79 L41.87 6.37 L42.12 6.04 L42.49 5.81 L42.89 5.66 L43.27 5.51 L43.68 5.38 L44.1 5.32 L44.53 5.36 L44.93 5.48 L45.32 5.66 L45.67 5.87 L45.96 6.15 L46.17 6.49 L46.31 6.84 L46.46 7.18 L46.66 7.52Z" fill="#1626ff" stroke="none" stroke-width="1" /><path d="M46.29 7.9 L46.37 8.24 L46.27 8.56 L46.05 8.83 L45.79 9.06 L45.57 9.28 L45.34 9.51 L45.06 9.68 L44.74 9.75 L44.41 9.74 L44.1 9.71 L43.79 9.72 L43.47 9.73 L43.14 9.68 L42.82 9.56 L42.53 9.38 L42.26 9.16 L42.04 8.89 L41.96 8.55 L42.04 8.21 L42.19 7.9 L42.3 7.63 L42.31 7.35 L42.28 7.03 L42.34 6.7 L42.54 6.43 L42.83 6.26 L43.14 6.14 L43.45 6.02 L43.76 5.91 L44.1 5.86 L44.44 5.89 L44.76 5.99 L45.06 6.14 L45.33 6.31 L45.56 6.53 L45.71 6.8 L45.81 7.08 L45.93 7.34 L46.11 7.6Z" fill="#00b8ff" stroke="none" stroke-width="1" /><path d="M45.71 7.9 L45.78 8.15 L45.7 8.39 L45.53 8.58 L45.33 8.74 L45.16 8.9 L45 9.07 L44.8 9.2 L44.56 9.25 L44.32 9.23 L44.1 9.21 L43.88 9.22 L43.64 9.23 L43.4 9.2 L43.16 9.11 L42.95 8.98 L42.74 8.83 L42.58 8.63 L42.53 8.38 L42.59 8.12 L42.72 7.9 L42.81 7.71 L42.81 7.51 L42.78 7.27 L42.81 7.02 L42.96 6.82 L43.17 6.7 L43.4 6.62 L43.63 6.52 L43.85 6.44 L44.1 6.4 L44.35 6.42 L44.58 6.51 L44.8 6.61 L44.99 6.74 L45.16 6.91 L45.26 7.11 L45.33 7.31 L45.42 7.5 L45.56 7.68Z" fill="#22f05a" stroke="none" stroke-width="1" /><path d="M45.12 7.9 L45.17 8.06 L45.12 8.21 L45 8.33 L44.87 8.43 L44.76 8.53 L44.67 8.63 L44.54 8.72 L44.39 8.74 L44.24 8.73 L44.1 8.71 L43.96 8.72 L43.81 8.73 L43.66 8.72 L43.51 8.66 L43.37 8.58 L43.24 8.49 L43.14 8.36 L43.1 8.21 L43.15 8.04 L43.24 7.9 L43.3 7.78 L43.3 7.66 L43.28 7.5 L43.29 7.35 L43.38 7.22 L43.52 7.15 L43.66 7.09 L43.8 7.04 L43.94 6.98 L44.1 6.95 L44.26 6.97 L44.4 7.02 L44.54 7.09 L44.66 7.17 L44.76 7.28 L44.82 7.41 L44.86 7.54 L44.92 7.65 L45.01 7.76Z" fill="#f2f200" stroke="none" stroke-width="1" /><ellipse cx="44.1" cy="11.5" rx="1.6" ry="1.6" fill="#7812ff" stroke="none" stroke-width="1" /><path d="M58.93 43.5 L59.21 44.78 L59.43 46.17 L59.2 47.61 L58.26 48.91 L56.66 49.9 L54.78 50.61 L52.86 51.17 L50.9 51.57 L48.87 51.67 L46.9 51.44 L45.07 51.06 L43.29 50.78 L41.3 50.71 L39.03 50.6 L36.86 50.08 L35.31 49.02 L34.57 47.62 L34.36 46.17 L34.38 44.8 L34.53 43.5 L34.84 42.25 L35.3 41.03 L35.79 39.79 L36.36 38.48 L37.3 37.2 L38.87 36.25 L40.93 35.82 L43.06 35.75 L45.01 35.69 L46.9 35.44 L48.93 35.08 L51.13 34.96 L53.23 35.36 L54.94 36.24 L56.22 37.39 L57.21 38.59 L57.98 39.8 L58.49 41.03 L58.74 42.27Z" fill="#7812ff" stroke="none" stroke-width="1" /><path d="M57.78 43.42 L58.08 44.58 L58.32 45.85 L58.14 47.17 L57.25 48.35 L55.76 49.23 L54.03 49.86 L52.3 50.37 L50.54 50.76 L48.7 50.85 L46.9 50.61 L45.26 50.21 L43.67 49.93 L41.88 49.88 L39.78 49.84 L37.75 49.42 L36.31 48.47 L35.64 47.18 L35.47 45.86 L35.5 44.6 L35.67 43.42 L35.99 42.29 L36.45 41.19 L36.92 40.09 L37.41 38.9 L38.21 37.72 L39.61 36.84 L41.49 36.46 L43.43 36.42 L45.2 36.37 L46.9 36.11 L48.76 35.73 L50.78 35.59 L52.69 35.97 L54.2 36.83 L55.3 37.91 L56.15 39.01 L56.85 40.09 L57.33 41.2 L57.59 42.31Z" fill="#1626ff" stroke="none" stroke-width="1" /><path d="M57.05 43.34 L57.37 44.43 L57.64 45.63 L57.49 46.88 L56.63 47.98 L55.19 48.78 L53.56 49.35 L51.95 49.84 L50.31 50.22 L48.58 50.32 L46.9 50.05 L45.38 49.63 L43.93 49.34 L42.25 49.32 L40.26 49.33 L38.29 48.98 L36.91 48.1 L36.28 46.89 L36.15 45.63 L36.2 44.45 L36.38 43.34 L36.72 42.28 L37.2 41.27 L37.65 40.25 L38.08 39.14 L38.78 38.02 L40.08 37.18 L41.84 36.83 L43.67 36.82 L45.31 36.78 L46.9 36.49 L48.65 36.09 L50.57 35.94 L52.36 36.31 L53.74 37.17 L54.7 38.22 L55.46 39.26 L56.12 40.26 L56.59 41.28 L56.84 42.31Z" fill="#00b8ff" stroke="none" stroke-width="1" /><path d="M56.32 43.26 L56.65 44.27 L56.95 45.4 L56.83 46.58 L56.01 47.6 L54.63 48.33 L53.09 48.84 L51.6 49.31 L50.08 49.68 L48.47 49.77 L46.9 49.5 L45.5 49.06 L44.17 48.77 L42.62 48.76 L40.73 48.83 L38.85 48.54 L37.52 47.73 L36.94 46.59 L36.83 45.4 L36.9 44.3 L37.09 43.26 L37.44 42.28 L37.93 41.35 L38.37 40.41 L38.74 39.37 L39.36 38.32 L40.54 37.52 L42.19 37.2 L43.9 37.21 L45.43 37.18 L46.9 36.88 L48.54 36.46 L50.35 36.29 L52.03 36.66 L53.28 37.51 L54.12 38.53 L54.79 39.5 L55.4 40.42 L55.86 41.35 L56.11 42.3Z" fill="#22f05a" stroke="none" stroke-width="1" /><path d="M55.6 43.18 L55.94 44.12 L56.25 45.17 L56.16 46.27 L55.38 47.22 L54.06 47.88 L52.61 48.34 L51.25 48.77 L49.85 49.14 L48.36 49.23 L46.9 48.94 L45.62 48.49 L44.41 48.2 L42.98 48.22 L41.2 48.32 L39.41 48.09 L38.15 47.35 L37.61 46.28 L37.53 45.18 L37.61 44.15 L37.8 43.18 L38.16 42.27 L38.65 41.42 L39.08 40.57 L39.4 39.61 L39.93 38.61 L41.01 37.86 L42.54 37.57 L44.13 37.6 L45.55 37.57 L46.9 37.27 L48.43 36.84 L50.13 36.66 L51.69 37.02 L52.81 37.85 L53.53 38.83 L54.12 39.74 L54.69 40.58 L55.13 41.43 L55.38 42.3Z" fill="#f2f200" stroke="none" stroke-width="1" /><path d="M54.88 43.1 L55.22 43.96 L55.55 44.94 L55.47 45.96 L54.74 46.83 L53.49 47.42 L52.15 47.83 L50.89 48.24 L49.62 48.6 L48.25 48.68 L46.9 48.39 L45.73 47.94 L44.65 47.65 L43.34 47.68 L41.67 47.82 L39.97 47.64 L38.79 46.96 L38.3 45.97 L38.23 44.95 L38.32 43.99 L38.52 43.1 L38.88 42.27 L39.37 41.5 L39.77 40.72 L40.05 39.84 L40.5 38.91 L41.48 38.2 L42.9 37.95 L44.37 37.99 L45.66 37.96 L46.9 37.66 L48.32 37.22 L49.9 37.04 L51.34 37.39 L52.34 38.19 L52.96 39.13 L53.47 39.97 L54 40.73 L54.42 41.5 L54.66 42.29Z" fill="#ff0c00" stroke="none" stroke-width="1" /><ellipse cx="44.1" cy="28.8" rx="3.6" ry="1.6" fill="#7812ff" stroke="none" stroke-width="1" /><ellipse cx="44.1" cy="28.8" rx="2.52" ry="1.12" fill="#1626ff" stroke="none" stroke-width="1" /><ellipse cx="59" cy="24.6" rx="2.3" ry="1.5" fill="#7812ff" stroke="none" stroke-width="1" transform="rotate(-40 59 24.6)" /><ellipse cx="59" cy="24.6" rx="1.61" ry="1.05" fill="#1626ff" stroke="none" stroke-width="1" transform="rotate(-40 59 24.6)" /><path d="M57.13 69.5 L57.2 69.98 L57.44 70.51 L57.59 71.13 L57.34 71.73 L56.54 72.18 L55.41 72.42 L54.25 72.54 L53.18 72.65 L52.14 72.74 L51.1 72.77 L50.07 72.7 L49.08 72.56 L48.09 72.41 L47.06 72.24 L46.09 71.97 L45.33 71.56 L44.84 71.07 L44.51 70.55 L44.26 70.03 L44.13 69.5 L44.21 68.96 L44.58 68.46 L45.12 68 L45.67 67.56 L46.22 67.1 L46.93 66.68 L47.89 66.4 L49 66.32 L50.09 66.35 L51.1 66.37 L52.13 66.31 L53.25 66.24 L54.44 66.27 L55.54 66.49 L56.41 66.89 L56.99 67.39 L57.31 67.94 L57.37 68.5 L57.25 69.02Z" fill="#7812ff" stroke="none" stroke-width="1" /><path d="M56.07 70 L56.15 70.35 L56.42 70.77 L56.65 71.27 L56.5 71.75 L55.85 72.09 L54.92 72.25 L54 72.32 L53.19 72.41 L52.4 72.5 L51.6 72.52 L50.81 72.45 L50.07 72.32 L49.34 72.18 L48.57 72.05 L47.81 71.87 L47.2 71.57 L46.8 71.21 L46.51 70.81 L46.26 70.42 L46.12 70 L46.21 69.58 L46.58 69.2 L47.1 68.87 L47.57 68.56 L47.95 68.2 L48.43 67.85 L49.14 67.62 L49.99 67.56 L50.83 67.6 L51.6 67.62 L52.39 67.56 L53.27 67.47 L54.21 67.48 L55.06 67.66 L55.71 67.98 L56.13 68.38 L56.35 68.81 L56.35 69.24 L56.2 69.64Z" fill="#1626ff" stroke="none" stroke-width="1" /><path d="M54.26 70.5 L54.31 70.67 L54.5 70.88 L54.66 71.14 L54.61 71.4 L54.27 71.57 L53.77 71.63 L53.3 71.66 L52.89 71.7 L52.5 71.76 L52.1 71.77 L51.71 71.73 L51.35 71.64 L51 71.57 L50.61 71.51 L50.23 71.42 L49.91 71.28 L49.69 71.1 L49.53 70.91 L49.38 70.71 L49.29 70.5 L49.34 70.29 L49.58 70.1 L49.89 69.95 L50.14 69.8 L50.32 69.62 L50.53 69.43 L50.86 69.31 L51.29 69.28 L51.72 69.31 L52.1 69.32 L52.49 69.28 L52.94 69.22 L53.43 69.22 L53.86 69.31 L54.18 69.48 L54.38 69.69 L54.47 69.91 L54.45 70.12 L54.35 70.32Z" fill="#00b8ff" stroke="none" stroke-width="1" /><ellipse cx="45" cy="71.5" rx="2.5" ry="1.8" fill="#7812ff" stroke="none" stroke-width="1" /><ellipse cx="45" cy="71.5" rx="1.75" ry="1.26" fill="#1626ff" stroke="none" stroke-width="1" /><ellipse cx="45" cy="71.5" rx="1.24" ry="0.89" fill="#00b8ff" stroke="none" stroke-width="1" /><ellipse cx="45" cy="71.5" rx="0.73" ry="0.53" fill="#22f05a" stroke="none" stroke-width="1" /><ellipse cx="62.7" cy="67.2" rx="2" ry="2" fill="#7812ff" stroke="none" stroke-width="1" /><ellipse cx="62.7" cy="67.2" rx="1.4" ry="1.4" fill="#1626ff" stroke="none" stroke-width="1" /><ellipse cx="62.7" cy="67.2" rx="1.27" ry="1.27" fill="#00b8ff" stroke="none" stroke-width="1" /><ellipse cx="62.7" cy="67.2" rx="1.13" ry="1.13" fill="#22f05a" stroke="none" stroke-width="1" /><ellipse cx="62.7" cy="67.2" rx="1" ry="1" fill="#f2f200" stroke="none" stroke-width="1" /><ellipse cx="62.7" cy="67.2" rx="0.87" ry="0.87" fill="#ff0c00" stroke="none" stroke-width="1" /><ellipse cx="54.5" cy="73.5" rx="1.2" ry="2.4" fill="#7812ff" stroke="none" stroke-width="1" /><ellipse cx="54.5" cy="73.5" rx="0.84" ry="1.68" fill="#1626ff" stroke="none" stroke-width="1" /><ellipse cx="54.5" cy="73.5" rx="0.42" ry="0.84" fill="#00b8ff" stroke="none" stroke-width="1" /><ellipse cx="50.5" cy="63.5" rx="0.7" ry="0.7" fill="#7812ff" stroke="none" stroke-width="1" /><ellipse cx="57" cy="62" rx="0.7" ry="0.7" fill="#7812ff" stroke="none" stroke-width="1" /></g></svg></g><g transform="translate(263.2 305.5)"><svg x="0" y="0" width="66.4" height="75.4" overflow="hidden"><use href="#cbg"/><use href="#mside" transform="translate(16.5 0) rotate(-2 0 40)"/><use href="#mside" transform="translate(50 0) rotate(2 0 40)"/><g filter="url(#bb)"><path d="M16.52 39 L16.46 39.73 L16.54 40.51 L16.58 41.39 L16.36 42.26 L15.79 42.94 L14.99 43.35 L14.14 43.61 L13.33 43.83 L12.53 44.02 L11.7 44.09 L10.88 43.99 L10.1 43.74 L9.36 43.41 L8.64 43.05 L7.97 42.59 L7.41 42 L6.98 41.31 L6.64 40.58 L6.33 39.82 L6.12 39 L6.13 38.15 L6.46 37.36 L7.01 36.7 L7.59 36.13 L8.1 35.54 L8.62 34.92 L9.27 34.41 L10.06 34.14 L10.89 34.08 L11.7 34.09 L12.52 34.05 L13.37 34.05 L14.24 34.22 L15.01 34.61 L15.66 35.19 L16.18 35.87 L16.55 36.62 L16.71 37.43 L16.66 38.24Z" fill="#7812ff" stroke="none" stroke-width="1" /><path d="M15.73 39 L15.68 39.61 L15.78 40.27 L15.86 41.04 L15.71 41.8 L15.22 42.39 L14.51 42.72 L13.78 42.92 L13.08 43.1 L12.4 43.27 L11.7 43.34 L11 43.24 L10.35 43.01 L9.73 42.72 L9.12 42.41 L8.55 42.03 L8.07 41.54 L7.7 40.96 L7.39 40.35 L7.1 39.7 L6.89 39 L6.9 38.27 L7.21 37.6 L7.73 37.06 L8.26 36.59 L8.68 36.1 L9.1 35.55 L9.63 35.1 L10.3 34.86 L11.01 34.82 L11.7 34.84 L12.39 34.8 L13.13 34.77 L13.87 34.9 L14.54 35.24 L15.09 35.74 L15.52 36.33 L15.83 36.98 L15.96 37.67 L15.88 38.36Z" fill="#1626ff" stroke="none" stroke-width="1" /><path d="M14.82 39 L14.78 39.47 L14.88 39.99 L14.99 40.61 L14.89 41.23 L14.5 41.69 L13.93 41.95 L13.33 42.08 L12.79 42.22 L12.25 42.37 L11.7 42.42 L11.15 42.34 L10.64 42.14 L10.16 41.9 L9.69 41.66 L9.23 41.37 L8.85 40.99 L8.56 40.54 L8.31 40.06 L8.05 39.56 L7.86 39 L7.87 38.42 L8.14 37.89 L8.59 37.48 L9.03 37.13 L9.36 36.75 L9.67 36.31 L10.07 35.93 L10.6 35.74 L11.16 35.72 L11.7 35.74 L12.24 35.7 L12.83 35.66 L13.42 35.75 L13.95 36.02 L14.38 36.42 L14.72 36.89 L14.96 37.4 L15.05 37.95 L14.96 38.5Z" fill="#00b8ff" stroke="none" stroke-width="1" /><path d="M13.94 39 L13.9 39.34 L14 39.72 L14.11 40.18 L14.05 40.64 L13.77 40.99 L13.33 41.16 L12.89 41.25 L12.49 41.35 L12.1 41.46 L11.7 41.5 L11.3 41.44 L10.93 41.28 L10.59 41.1 L10.25 40.92 L9.91 40.72 L9.63 40.44 L9.42 40.12 L9.22 39.77 L9.02 39.41 L8.87 39 L8.87 38.57 L9.09 38.18 L9.45 37.9 L9.78 37.66 L10.02 37.38 L10.23 37.05 L10.52 36.77 L10.9 36.62 L11.31 36.61 L11.7 36.63 L12.1 36.59 L12.53 36.56 L12.96 36.61 L13.35 36.81 L13.66 37.11 L13.91 37.46 L14.08 37.83 L14.14 38.24 L14.06 38.64Z" fill="#22f05a" stroke="none" stroke-width="1" /><path d="M13.08 39 L13.06 39.21 L13.13 39.45 L13.22 39.74 L13.19 40.04 L13.01 40.26 L12.73 40.37 L12.45 40.41 L12.2 40.47 L11.95 40.55 L11.7 40.58 L11.45 40.53 L11.22 40.42 L11.01 40.31 L10.8 40.2 L10.59 40.07 L10.41 39.9 L10.27 39.7 L10.14 39.49 L10.01 39.26 L9.9 39 L9.9 38.73 L10.05 38.48 L10.29 38.31 L10.51 38.17 L10.66 38 L10.78 37.78 L10.96 37.6 L11.2 37.51 L11.45 37.5 L11.7 37.52 L11.95 37.49 L12.22 37.46 L12.5 37.49 L12.75 37.62 L12.94 37.81 L13.09 38.03 L13.2 38.27 L13.23 38.52 L13.17 38.78Z" fill="#f2f200" stroke="none" stroke-width="1" /><ellipse cx="16" cy="66.6" rx="0.9" ry="0.9" fill="#7812ff" stroke="none" stroke-width="1" /><ellipse cx="16" cy="66.6" rx="0.63" ry="0.63" fill="#1626ff" stroke="none" stroke-width="1" /><ellipse cx="22.1" cy="72.8" rx="1.4" ry="3" fill="#7812ff" stroke="none" stroke-width="1" /><ellipse cx="22.1" cy="72.8" rx="0.98" ry="2.1" fill="#1626ff" stroke="none" stroke-width="1" /><ellipse cx="22.1" cy="72.8" rx="0.77" ry="1.65" fill="#00b8ff" stroke="none" stroke-width="1" /><ellipse cx="22.1" cy="72.8" rx="0.56" ry="1.2" fill="#22f05a" stroke="none" stroke-width="1" /><ellipse cx="22.1" cy="72.8" rx="0.35" ry="0.76" fill="#f2f200" stroke="none" stroke-width="1" /><path d="M48.12 8.1 L48.04 8.63 L47.88 9.13 L47.69 9.62 L47.47 10.1 L47.17 10.54 L46.75 10.87 L46.25 11.03 L45.74 11.09 L45.27 11.19 L44.8 11.36 L44.27 11.54 L43.71 11.56 L43.19 11.35 L42.77 10.98 L42.44 10.53 L42.16 10.08 L41.93 9.61 L41.79 9.11 L41.74 8.6 L41.72 8.1 L41.68 7.59 L41.68 7.06 L41.8 6.53 L42.07 6.06 L42.44 5.66 L42.83 5.3 L43.25 4.96 L43.73 4.7 L44.27 4.63 L44.8 4.76 L45.28 4.98 L45.72 5.17 L46.19 5.28 L46.7 5.41 L47.18 5.65 L47.55 6.04 L47.82 6.52 L47.99 7.03 L48.1 7.56Z" fill="#7812ff" stroke="none" stroke-width="1" /><path d="M47.36 8.1 L47.29 8.51 L47.16 8.89 L47.01 9.26 L46.84 9.63 L46.61 9.97 L46.29 10.21 L45.9 10.32 L45.51 10.36 L45.16 10.44 L44.8 10.59 L44.39 10.76 L43.95 10.79 L43.55 10.63 L43.24 10.32 L42.99 9.96 L42.78 9.61 L42.61 9.25 L42.51 8.87 L42.48 8.48 L42.46 8.1 L42.42 7.71 L42.41 7.3 L42.5 6.89 L42.71 6.53 L42.99 6.23 L43.29 5.95 L43.6 5.68 L43.97 5.47 L44.39 5.42 L44.8 5.54 L45.16 5.74 L45.49 5.89 L45.85 5.98 L46.24 6.05 L46.62 6.22 L46.92 6.51 L47.12 6.88 L47.26 7.28 L47.35 7.68Z" fill="#1626ff" stroke="none" stroke-width="1" /><path d="M46.83 8.1 L46.77 8.42 L46.65 8.72 L46.53 9.01 L46.4 9.3 L46.23 9.57 L45.97 9.76 L45.66 9.84 L45.35 9.85 L45.08 9.92 L44.8 10.06 L44.48 10.21 L44.12 10.25 L43.81 10.11 L43.56 9.85 L43.38 9.56 L43.22 9.28 L43.09 9 L43.01 8.7 L42.99 8.4 L42.97 8.1 L42.94 7.8 L42.92 7.47 L42.98 7.15 L43.15 6.86 L43.38 6.63 L43.61 6.41 L43.85 6.18 L44.14 6 L44.47 5.97 L44.8 6.08 L45.08 6.26 L45.34 6.4 L45.61 6.46 L45.93 6.5 L46.23 6.62 L46.47 6.85 L46.63 7.14 L46.75 7.45 L46.82 7.77Z" fill="#00b8ff" stroke="none" stroke-width="1" /><path d="M46.29 8.1 L46.24 8.34 L46.15 8.55 L46.06 8.76 L45.97 8.97 L45.84 9.17 L45.65 9.31 L45.42 9.36 L45.2 9.36 L45 9.41 L44.8 9.52 L44.56 9.65 L44.3 9.69 L44.07 9.59 L43.89 9.39 L43.77 9.17 L43.65 8.96 L43.56 8.75 L43.5 8.53 L43.49 8.31 L43.48 8.1 L43.45 7.88 L43.43 7.64 L43.47 7.4 L43.6 7.2 L43.76 7.03 L43.93 6.87 L44.1 6.69 L44.31 6.55 L44.56 6.53 L44.8 6.63 L45 6.77 L45.18 6.88 L45.38 6.92 L45.61 6.94 L45.84 7.02 L46.02 7.18 L46.14 7.39 L46.23 7.62 L46.28 7.86Z" fill="#22f05a" stroke="none" stroke-width="1" /><path d="M45.74 8.1 L45.71 8.25 L45.65 8.38 L45.59 8.51 L45.53 8.65 L45.45 8.77 L45.33 8.86 L45.19 8.88 L45.05 8.88 L44.92 8.91 L44.8 8.99 L44.65 9.08 L44.48 9.11 L44.33 9.05 L44.23 8.91 L44.15 8.77 L44.08 8.64 L44.02 8.51 L43.99 8.37 L43.98 8.23 L43.98 8.1 L43.95 7.96 L43.94 7.81 L43.96 7.66 L44.04 7.53 L44.15 7.43 L44.25 7.32 L44.36 7.21 L44.49 7.12 L44.65 7.1 L44.8 7.17 L44.93 7.28 L45.04 7.35 L45.16 7.37 L45.31 7.38 L45.46 7.42 L45.57 7.52 L45.65 7.65 L45.7 7.8 L45.74 7.95Z" fill="#f2f200" stroke="none" stroke-width="1" /><ellipse cx="48.5" cy="10.8" rx="1.3" ry="1.3" fill="#7812ff" stroke="none" stroke-width="1" /><path d="M55.89 39.78 L56.66 40.72 L56.94 41.86 L56.65 43.07 L56 44.22 L55.28 45.3 L54.5 46.33 L53.55 47.26 L52.38 48 L51.1 48.53 L49.84 48.96 L48.59 49.42 L47.28 49.83 L45.92 50.03 L44.57 49.98 L43.26 49.75 L41.97 49.41 L40.76 48.89 L39.87 48.07 L39.49 46.94 L39.54 45.73 L39.68 44.62 L39.63 43.6 L39.43 42.56 L39.36 41.41 L39.74 40.24 L40.55 39.2 L41.6 38.3 L42.72 37.49 L43.91 36.76 L45.19 36.18 L46.55 35.78 L47.92 35.57 L49.3 35.49 L50.66 35.56 L51.91 35.89 L52.91 36.56 L53.62 37.43 L54.24 38.28 L55 39.02Z" fill="#7812ff" stroke="none" stroke-width="1" /><path d="M54.48 40.47 L55.22 41.29 L55.49 42.31 L55.19 43.4 L54.57 44.43 L53.9 45.38 L53.21 46.29 L52.37 47.13 L51.32 47.78 L50.18 48.23 L49.06 48.61 L47.96 49.02 L46.8 49.4 L45.58 49.59 L44.38 49.54 L43.21 49.35 L42.05 49.07 L40.94 48.63 L40.12 47.9 L39.81 46.87 L39.93 45.76 L40.12 44.76 L40.09 43.86 L39.87 42.94 L39.76 41.92 L40.07 40.88 L40.8 39.95 L41.74 39.15 L42.74 38.43 L43.78 37.77 L44.93 37.24 L46.14 36.89 L47.37 36.71 L48.6 36.65 L49.81 36.71 L50.92 37.02 L51.78 37.64 L52.38 38.44 L52.91 39.19 L53.61 39.82Z" fill="#1626ff" stroke="none" stroke-width="1" /><path d="M52.9 41.21 L53.59 41.9 L53.83 42.79 L53.55 43.73 L52.97 44.6 L52.38 45.41 L51.79 46.19 L51.08 46.91 L50.18 47.46 L49.2 47.84 L48.25 48.15 L47.31 48.51 L46.32 48.84 L45.28 49.01 L44.26 48.97 L43.25 48.81 L42.24 48.6 L41.26 48.24 L40.55 47.62 L40.3 46.72 L40.46 45.74 L40.67 44.87 L40.67 44.11 L40.45 43.34 L40.31 42.46 L40.56 41.57 L41.18 40.77 L41.99 40.09 L42.84 39.47 L43.73 38.89 L44.71 38.43 L45.75 38.13 L46.81 38 L47.86 37.95 L48.89 38 L49.84 38.27 L50.56 38.82 L51.04 39.52 L51.48 40.17 L52.1 40.69Z" fill="#00b8ff" stroke="none" stroke-width="1" /><path d="M51.31 41.96 L51.94 42.52 L52.15 43.26 L51.89 44.06 L51.37 44.78 L50.86 45.45 L50.37 46.1 L49.79 46.69 L49.04 47.15 L48.23 47.45 L47.43 47.7 L46.66 48 L45.84 48.29 L44.98 48.44 L44.13 48.41 L43.29 48.28 L42.43 48.12 L41.6 47.84 L40.99 47.32 L40.81 46.55 L40.99 45.72 L41.21 44.99 L41.22 44.37 L41.01 43.73 L40.86 43.01 L41.04 42.26 L41.57 41.59 L42.25 41.03 L42.95 40.51 L43.68 40.02 L44.49 39.63 L45.36 39.39 L46.25 39.28 L47.12 39.25 L47.98 39.29 L48.76 39.52 L49.34 40 L49.72 40.6 L50.07 41.13 L50.61 41.55Z" fill="#22f05a" stroke="none" stroke-width="1" /><path d="M49.73 42.71 L50.26 43.15 L50.44 43.74 L50.21 44.38 L49.77 44.96 L49.35 45.48 L48.96 46 L48.5 46.48 L47.91 46.84 L47.25 47.07 L46.62 47.26 L46.01 47.5 L45.36 47.74 L44.68 47.86 L44 47.84 L43.33 47.74 L42.64 47.63 L41.95 47.42 L41.46 47.01 L41.33 46.38 L41.51 45.7 L41.72 45.11 L41.74 44.62 L41.55 44.12 L41.41 43.54 L41.54 42.95 L41.95 42.42 L42.5 41.97 L43.05 41.56 L43.63 41.16 L44.28 40.84 L44.98 40.65 L45.68 40.57 L46.38 40.55 L47.06 40.59 L47.68 40.78 L48.14 41.17 L48.42 41.66 L48.69 42.08 L49.13 42.4Z" fill="#f2f200" stroke="none" stroke-width="1" /><path d="M48.13 43.46 L48.56 43.78 L48.7 44.23 L48.51 44.71 L48.17 45.13 L47.84 45.52 L47.55 45.91 L47.21 46.26 L46.77 46.53 L46.28 46.69 L45.81 46.83 L45.36 47.01 L44.88 47.19 L44.37 47.29 L43.87 47.27 L43.37 47.2 L42.85 47.13 L42.32 46.99 L41.95 46.68 L41.86 46.2 L42.02 45.68 L42.21 45.24 L42.23 44.88 L42.08 44.51 L41.95 44.08 L42.03 43.64 L42.34 43.24 L42.75 42.91 L43.16 42.6 L43.59 42.3 L44.08 42.06 L44.6 41.92 L45.12 41.87 L45.64 41.86 L46.15 41.88 L46.61 42.03 L46.94 42.33 L47.13 42.7 L47.32 43.02 L47.66 43.24Z" fill="#ff0c00" stroke="none" stroke-width="1" /><ellipse cx="35" cy="27" rx="2.4" ry="1.3" fill="#7812ff" stroke="none" stroke-width="1" transform="rotate(20 35 27)" /><ellipse cx="35" cy="27" rx="1.68" ry="0.91" fill="#1626ff" stroke="none" stroke-width="1" transform="rotate(20 35 27)" /><ellipse cx="36.5" cy="24" rx="1.2" ry="1" fill="#7812ff" stroke="none" stroke-width="1" /><ellipse cx="47.2" cy="72.6" rx="2.4" ry="2.8" fill="#7812ff" stroke="none" stroke-width="1" /><ellipse cx="47.2" cy="72.6" rx="1.68" ry="1.96" fill="#1626ff" stroke="none" stroke-width="1" /><ellipse cx="47.2" cy="72.6" rx="1.52" ry="1.77" fill="#00b8ff" stroke="none" stroke-width="1" /><ellipse cx="47.2" cy="72.6" rx="1.36" ry="1.59" fill="#22f05a" stroke="none" stroke-width="1" /><ellipse cx="47.2" cy="72.6" rx="1.2" ry="1.4" fill="#f2f200" stroke="none" stroke-width="1" /><ellipse cx="47.2" cy="72.6" rx="1.04" ry="1.22" fill="#ff0c00" stroke="none" stroke-width="1" /><ellipse cx="41.5" cy="74" rx="1" ry="1" fill="#7812ff" stroke="none" stroke-width="1" /><ellipse cx="41.5" cy="74" rx="0.7" ry="0.7" fill="#1626ff" stroke="none" stroke-width="1" /><ellipse cx="58" cy="74.5" rx="1.5" ry="1" fill="#7812ff" stroke="none" stroke-width="1" /><ellipse cx="58" cy="74.5" rx="1.05" ry="0.7" fill="#1626ff" stroke="none" stroke-width="1" /><ellipse cx="59.5" cy="70.5" rx="0.7" ry="0.7" fill="#7812ff" stroke="none" stroke-width="1" /></g></svg></g><g transform="translate(333.6 305.5)"><svg x="0" y="0" width="66.4" height="75.4" overflow="hidden"><use href="#cbg"/><use href="#mtop" transform="translate(19.5 0) rotate(-8 0 40) scale(1.06 1)"/><use href="#mtop" transform="translate(49.4 0) rotate(2 0 40) scale(1.06 1)"/><g filter="url(#bb)"><path d="M32.84 39.5 L32.71 40.15 L32.45 40.76 L32.13 41.33 L31.81 41.91 L31.41 42.47 L30.84 42.9 L30.12 43.12 L29.37 43.17 L28.68 43.21 L28 43.34 L27.26 43.54 L26.46 43.62 L25.69 43.45 L25.03 43.05 L24.52 42.53 L24.11 41.96 L23.82 41.35 L23.68 40.72 L23.65 40.1 L23.64 39.5 L23.57 38.89 L23.53 38.24 L23.67 37.58 L24.05 37.01 L24.61 36.55 L25.2 36.15 L25.81 35.76 L26.47 35.42 L27.23 35.26 L28 35.34 L28.71 35.59 L29.36 35.87 L30 36.09 L30.67 36.31 L31.32 36.61 L31.87 37.05 L32.28 37.6 L32.59 38.2 L32.79 38.84Z" fill="#7812ff" stroke="none" stroke-width="1" /><path d="M28.15 37.2 L28.03 38.27 L27.56 39.29 L26.93 40.27 L26.27 41.26 L25.46 42.24 L24.23 43.01 L22.61 43.37 L20.89 43.35 L19.33 43.21 L17.9 43.24 L16.41 43.46 L14.74 43.68 L12.96 43.66 L11.29 43.26 L9.93 42.51 L8.98 41.52 L8.51 40.39 L8.5 39.24 L8.75 38.17 L8.95 37.2 L8.85 36.24 L8.57 35.18 L8.51 34.01 L9.04 32.91 L10.22 32.08 L11.72 31.52 L13.23 31.09 L14.73 30.69 L16.29 30.43 L17.9 30.44 L19.45 30.68 L20.91 31.03 L22.35 31.38 L23.81 31.77 L25.17 32.36 L26.21 33.17 L26.93 34.13 L27.48 35.12 L27.93 36.14Z" fill="#7812ff" stroke="none" stroke-width="1" /><path d="M26.82 37.35 L26.69 38.3 L26.21 39.2 L25.59 40.05 L25 40.91 L24.31 41.79 L23.25 42.49 L21.82 42.8 L20.28 42.74 L18.9 42.59 L17.65 42.61 L16.34 42.85 L14.85 43.1 L13.25 43.11 L11.76 42.76 L10.55 42.08 L9.72 41.19 L9.33 40.18 L9.37 39.14 L9.65 38.19 L9.87 37.35 L9.76 36.52 L9.44 35.57 L9.32 34.52 L9.79 33.54 L10.86 32.82 L12.2 32.35 L13.53 31.96 L14.83 31.57 L16.21 31.31 L17.65 31.31 L19.02 31.57 L20.29 31.93 L21.53 32.27 L22.81 32.62 L24 33.11 L24.93 33.82 L25.59 34.65 L26.13 35.51 L26.58 36.41Z" fill="#1626ff" stroke="none" stroke-width="1" /><path d="M24.7 37.5 L24.59 38.26 L24.15 38.96 L23.62 39.61 L23.15 40.28 L22.63 40.99 L21.82 41.56 L20.68 41.79 L19.46 41.72 L18.37 41.57 L17.4 41.59 L16.38 41.81 L15.18 42.05 L13.9 42.08 L12.72 41.8 L11.77 41.26 L11.12 40.54 L10.83 39.73 L10.9 38.91 L11.17 38.16 L11.37 37.5 L11.27 36.85 L10.97 36.11 L10.82 35.27 L11.18 34.49 L12.05 33.93 L13.13 33.58 L14.16 33.26 L15.17 32.93 L16.26 32.69 L17.4 32.7 L18.49 32.93 L19.47 33.26 L20.42 33.55 L21.41 33.82 L22.35 34.2 L23.09 34.74 L23.62 35.39 L24.08 36.05 L24.49 36.75Z" fill="#00b8ff" stroke="none" stroke-width="1" /><path d="M22.54 37.65 L22.44 38.21 L22.09 38.72 L21.66 39.18 L21.31 39.67 L20.96 40.19 L20.38 40.61 L19.54 40.78 L18.64 40.7 L17.85 40.58 L17.15 40.59 L16.41 40.78 L15.53 40.98 L14.58 41.02 L13.7 40.82 L13.01 40.41 L12.54 39.88 L12.34 39.28 L12.42 38.67 L12.65 38.12 L12.82 37.65 L12.74 37.18 L12.48 36.64 L12.34 36.02 L12.59 35.44 L13.24 35.05 L14.04 34.8 L14.79 34.56 L15.52 34.3 L16.31 34.11 L17.15 34.12 L17.94 34.31 L18.65 34.57 L19.33 34.8 L20.04 35 L20.72 35.27 L21.26 35.66 L21.67 36.12 L22.03 36.59 L22.36 37.1Z" fill="#22f05a" stroke="none" stroke-width="1" /><path d="M20.32 37.8 L20.26 38.15 L20.01 38.47 L19.72 38.76 L19.5 39.06 L19.29 39.39 L18.93 39.66 L18.4 39.77 L17.83 39.71 L17.33 39.62 L16.9 39.63 L16.44 39.76 L15.88 39.9 L15.27 39.93 L14.71 39.81 L14.28 39.55 L13.99 39.21 L13.87 38.83 L13.93 38.44 L14.1 38.1 L14.22 37.8 L14.16 37.51 L13.98 37.17 L13.87 36.77 L14.02 36.41 L14.44 36.16 L14.95 36.01 L15.42 35.86 L15.87 35.68 L16.37 35.55 L16.9 35.56 L17.4 35.69 L17.84 35.88 L18.25 36.03 L18.69 36.16 L19.12 36.32 L19.46 36.56 L19.73 36.84 L19.97 37.14 L20.2 37.45Z" fill="#f2f200" stroke="none" stroke-width="1" /><ellipse cx="12.4" cy="64.4" rx="1.8" ry="1.6" fill="#7812ff" stroke="none" stroke-width="1" transform="rotate(-30 12.4 64.4)" /><ellipse cx="12.4" cy="64.4" rx="1.26" ry="1.12" fill="#1626ff" stroke="none" stroke-width="1" transform="rotate(-30 12.4 64.4)" /><ellipse cx="22.8" cy="71.5" rx="1.2" ry="4" fill="#7812ff" stroke="none" stroke-width="1" /><ellipse cx="19.2" cy="2.5" rx="1.2" ry="1.2" fill="#7812ff" stroke="none" stroke-width="1" /><path d="M52.44 8.5 L52.34 9.1 L52.31 9.72 L52.32 10.43 L52.25 11.17 L52 11.8 L51.6 12.22 L51.14 12.46 L50.69 12.61 L50.25 12.72 L49.8 12.75 L49.36 12.68 L48.93 12.5 L48.53 12.25 L48.13 11.94 L47.77 11.54 L47.49 11.02 L47.3 10.41 L47.16 9.79 L47 9.17 L46.84 8.5 L46.77 7.78 L46.89 7.08 L47.17 6.49 L47.52 6.02 L47.86 5.59 L48.17 5.14 L48.52 4.73 L48.93 4.47 L49.36 4.37 L49.8 4.35 L50.24 4.33 L50.7 4.36 L51.15 4.52 L51.56 4.86 L51.91 5.33 L52.21 5.87 L52.45 6.47 L52.58 7.14 L52.56 7.84Z" fill="#7812ff" stroke="none" stroke-width="1" /><path d="M53.12 5.6 L53.04 6.11 L52.88 6.6 L52.69 7.07 L52.47 7.54 L52.17 7.97 L51.75 8.29 L51.25 8.44 L50.74 8.5 L50.27 8.59 L49.8 8.75 L49.27 8.93 L48.71 8.95 L48.19 8.76 L47.77 8.4 L47.43 7.97 L47.15 7.52 L46.93 7.06 L46.79 6.58 L46.74 6.08 L46.72 5.6 L46.68 5.11 L46.68 4.59 L46.8 4.07 L47.07 3.62 L47.44 3.24 L47.83 2.89 L48.25 2.56 L48.73 2.3 L49.27 2.23 L49.8 2.35 L50.28 2.57 L50.73 2.75 L51.19 2.87 L51.69 3 L52.17 3.23 L52.55 3.6 L52.81 4.06 L52.99 4.56 L53.1 5.08Z" fill="#7812ff" stroke="none" stroke-width="1" /><path d="M52.38 5.6 L52.3 6 L52.16 6.37 L52 6.72 L51.84 7.08 L51.62 7.42 L51.29 7.65 L50.89 7.75 L50.5 7.76 L50.15 7.83 L49.8 8 L49.39 8.19 L48.94 8.24 L48.53 8.08 L48.22 7.77 L47.99 7.41 L47.79 7.06 L47.62 6.71 L47.53 6.34 L47.5 5.96 L47.48 5.6 L47.43 5.23 L47.41 4.82 L47.49 4.42 L47.7 4.08 L47.99 3.79 L48.29 3.52 L48.6 3.24 L48.96 3.02 L49.38 2.96 L49.8 3.1 L50.16 3.32 L50.48 3.5 L50.83 3.58 L51.23 3.64 L51.61 3.79 L51.92 4.06 L52.13 4.41 L52.27 4.8 L52.37 5.19Z" fill="#1626ff" stroke="none" stroke-width="1" /><path d="M51.11 5.6 L51.06 5.8 L50.98 5.98 L50.89 6.16 L50.81 6.34 L50.71 6.51 L50.54 6.62 L50.34 6.66 L50.14 6.65 L49.97 6.69 L49.8 6.79 L49.59 6.92 L49.36 6.96 L49.15 6.87 L49 6.7 L48.89 6.51 L48.8 6.33 L48.72 6.15 L48.68 5.96 L48.67 5.78 L48.66 5.6 L48.63 5.41 L48.6 5.21 L48.64 5.01 L48.75 4.83 L48.9 4.7 L49.04 4.56 L49.19 4.4 L49.37 4.28 L49.59 4.25 L49.8 4.34 L49.98 4.48 L50.13 4.59 L50.3 4.62 L50.5 4.63 L50.71 4.69 L50.87 4.82 L50.98 5 L51.05 5.19 L51.1 5.39Z" fill="#00b8ff" stroke="none" stroke-width="1" /><path d="M61.5 43 L61.88 43.49 L62.25 44.03 L62.48 44.68 L62.43 45.41 L62.11 46.15 L61.62 46.85 L61.05 47.5 L60.39 48.07 L59.64 48.51 L58.85 48.81 L58.1 49.04 L57.4 49.36 L56.64 49.83 L55.75 50.31 L54.81 50.55 L54.01 50.38 L53.44 49.9 L53.06 49.32 L52.76 48.75 L52.49 48.2 L52.28 47.64 L52.12 47.06 L51.98 46.45 L51.87 45.78 L51.95 45.05 L52.34 44.34 L53 43.72 L53.74 43.23 L54.42 42.76 L55.05 42.22 L55.73 41.65 L56.53 41.18 L57.4 40.97 L58.21 41.01 L58.95 41.19 L59.62 41.42 L60.23 41.69 L60.74 42.06 L61.15 42.52Z" fill="#7812ff" stroke="none" stroke-width="1" /><path d="M60.61 43.51 L60.93 43.9 L61.25 44.33 L61.45 44.85 L61.39 45.44 L61.11 46.04 L60.7 46.6 L60.25 47.13 L59.74 47.59 L59.13 47.94 L58.47 48.15 L57.87 48.31 L57.31 48.55 L56.71 48.95 L56 49.39 L55.22 49.63 L54.56 49.5 L54.11 49.09 L53.82 48.61 L53.58 48.14 L53.38 47.69 L53.23 47.23 L53.12 46.76 L53.02 46.27 L52.92 45.74 L52.95 45.16 L53.25 44.58 L53.79 44.1 L54.4 43.71 L54.94 43.33 L55.42 42.87 L55.97 42.37 L56.62 41.99 L57.32 41.84 L57.97 41.93 L58.54 42.12 L59.06 42.31 L59.56 42.51 L59.98 42.78 L60.32 43.13Z" fill="#1626ff" stroke="none" stroke-width="1" /><path d="M59.56 44.12 L59.8 44.39 L60.05 44.69 L60.19 45.06 L60.14 45.49 L59.92 45.92 L59.63 46.31 L59.31 46.68 L58.95 47.02 L58.51 47.27 L58.04 47.4 L57.6 47.49 L57.22 47.65 L56.8 47.95 L56.28 48.3 L55.72 48.5 L55.24 48.41 L54.92 48.11 L54.72 47.75 L54.57 47.41 L54.43 47.08 L54.34 46.75 L54.28 46.41 L54.21 46.07 L54.13 45.7 L54.13 45.29 L54.34 44.88 L54.73 44.53 L55.16 44.26 L55.54 43.99 L55.87 43.65 L56.25 43.27 L56.72 42.98 L57.23 42.9 L57.69 43 L58.07 43.17 L58.43 43.31 L58.79 43.43 L59.1 43.61 L59.35 43.85Z" fill="#00b8ff" stroke="none" stroke-width="1" /><path d="M58.52 44.72 L58.67 44.88 L58.82 45.06 L58.91 45.28 L58.87 45.53 L58.73 45.79 L58.55 46.02 L58.37 46.24 L58.16 46.45 L57.9 46.59 L57.61 46.66 L57.35 46.69 L57.12 46.78 L56.88 46.97 L56.58 47.2 L56.23 47.34 L55.94 47.29 L55.76 47.1 L55.65 46.88 L55.56 46.67 L55.48 46.48 L55.43 46.28 L55.41 46.08 L55.37 45.88 L55.31 45.66 L55.3 45.42 L55.42 45.17 L55.66 44.97 L55.92 44.81 L56.14 44.65 L56.33 44.44 L56.55 44.2 L56.83 44.02 L57.14 43.99 L57.41 44.07 L57.62 44.19 L57.83 44.27 L58.04 44.34 L58.24 44.43 L58.39 44.57Z" fill="#22f05a" stroke="none" stroke-width="1" /><path d="M60.43 36.5 L59.81 37.76 L59.36 38.97 L59.2 40.31 L59 41.83 L58.27 43.28 L56.85 44.33 L55 44.89 L53.07 45.13 L51.21 45.21 L49.4 45.16 L47.65 44.95 L45.94 44.62 L44.22 44.26 L42.43 43.83 L40.74 43.12 L39.54 41.97 L39.04 40.53 L38.99 39.08 L38.87 37.77 L38.43 36.5 L37.84 35.1 L37.61 33.57 L38.09 32.1 L39.26 30.87 L40.81 29.94 L42.51 29.25 L44.25 28.77 L46.01 28.52 L47.73 28.44 L49.4 28.36 L51.13 28.17 L53.01 28.01 L54.98 28.14 L56.78 28.75 L58.2 29.78 L59.28 31.02 L60.15 32.32 L60.74 33.69 L60.84 35.12Z" fill="#7812ff" stroke="none" stroke-width="1" /><path d="M59.65 36.66 L59 37.8 L58.54 38.88 L58.41 40.09 L58.3 41.49 L57.7 42.85 L56.43 43.83 L54.73 44.35 L52.97 44.57 L51.26 44.64 L49.6 44.58 L48 44.37 L46.46 44.03 L44.92 43.68 L43.28 43.3 L41.72 42.68 L40.62 41.64 L40.2 40.32 L40.18 39 L40.08 37.81 L39.61 36.66 L38.99 35.38 L38.73 33.96 L39.19 32.61 L40.32 31.51 L41.8 30.7 L43.36 30.1 L44.94 29.67 L46.53 29.44 L48.09 29.36 L49.6 29.28 L51.17 29.09 L52.9 28.9 L54.71 29 L56.35 29.57 L57.62 30.54 L58.6 31.67 L59.42 32.84 L60 34.08 L60.09 35.39Z" fill="#1626ff" stroke="none" stroke-width="1" /><path d="M58.9 36.82 L58.23 37.84 L57.77 38.8 L57.67 39.88 L57.64 41.17 L57.15 42.43 L56.01 43.35 L54.47 43.83 L52.86 44.02 L51.31 44.09 L49.8 44.02 L48.35 43.8 L46.97 43.47 L45.59 43.13 L44.11 42.8 L42.68 42.26 L41.67 41.33 L41.32 40.12 L41.34 38.92 L41.24 37.86 L40.77 36.82 L40.12 35.65 L39.84 34.35 L40.28 33.11 L41.37 32.14 L42.76 31.44 L44.19 30.92 L45.61 30.54 L47.04 30.33 L48.44 30.26 L49.8 30.18 L51.22 29.98 L52.8 29.78 L54.45 29.85 L55.93 30.37 L57.07 31.27 L57.94 32.3 L58.71 33.35 L59.27 34.47 L59.35 35.66Z" fill="#00b8ff" stroke="none" stroke-width="1" /><path d="M58.15 36.98 L57.48 37.88 L57.03 38.72 L56.96 39.69 L56.98 40.86 L56.6 42.02 L55.59 42.86 L54.21 43.29 L52.76 43.47 L51.36 43.52 L50 43.46 L48.7 43.24 L47.48 42.91 L46.25 42.6 L44.93 42.31 L43.63 41.84 L42.73 41.02 L42.43 39.93 L42.48 38.85 L42.39 37.9 L41.92 36.98 L41.27 35.92 L40.98 34.74 L41.39 33.63 L42.42 32.77 L43.72 32.18 L45.01 31.74 L46.28 31.4 L47.55 31.21 L48.79 31.15 L50 31.07 L51.27 30.86 L52.69 30.65 L54.19 30.7 L55.51 31.19 L56.51 32.01 L57.29 32.93 L58 33.87 L58.53 34.86 L58.6 35.94Z" fill="#22f05a" stroke="none" stroke-width="1" /><path d="M57.39 37.14 L56.74 37.93 L56.31 38.66 L56.26 39.5 L56.34 40.54 L56.04 41.6 L55.17 42.36 L53.94 42.74 L52.65 42.9 L51.41 42.95 L50.2 42.89 L49.05 42.67 L47.98 42.35 L46.91 42.07 L45.75 41.82 L44.59 41.43 L43.78 40.7 L43.54 39.73 L43.61 38.77 L43.53 37.95 L43.07 37.14 L42.44 36.2 L42.14 35.14 L42.52 34.15 L43.48 33.41 L44.67 32.92 L45.83 32.54 L46.94 32.25 L48.05 32.08 L49.14 32.03 L50.2 31.95 L51.32 31.75 L52.58 31.54 L53.92 31.57 L55.09 32 L55.96 32.74 L56.64 33.57 L57.28 34.38 L57.78 35.26 L57.84 36.22Z" fill="#f2f200" stroke="none" stroke-width="1" /><path d="M56.64 37.3 L56.02 37.98 L55.61 38.59 L55.59 39.32 L55.7 40.24 L55.48 41.18 L54.73 41.85 L53.66 42.19 L52.54 42.32 L51.45 42.37 L50.4 42.31 L49.4 42.1 L48.48 41.8 L47.57 41.54 L46.56 41.34 L45.54 41.01 L44.83 40.39 L44.64 39.54 L44.73 38.71 L44.66 37.99 L44.22 37.3 L43.62 36.48 L43.33 35.55 L43.67 34.68 L44.55 34.05 L45.62 33.65 L46.63 33.34 L47.59 33.09 L48.55 32.94 L49.49 32.89 L50.4 32.82 L51.37 32.63 L52.47 32.42 L53.64 32.44 L54.66 32.83 L55.4 33.48 L55.98 34.2 L56.56 34.9 L57.01 35.66 L57.07 36.49Z" fill="#ff0c00" stroke="none" stroke-width="1" /><ellipse cx="36.1" cy="23.2" rx="3" ry="1.8" fill="#7812ff" stroke="none" stroke-width="1" transform="rotate(40 36.1 23.2)" /><ellipse cx="36.1" cy="23.2" rx="2.1" ry="1.26" fill="#1626ff" stroke="none" stroke-width="1" transform="rotate(40 36.1 23.2)" /><ellipse cx="54" cy="22.5" rx="2.6" ry="2.4" fill="#7812ff" stroke="none" stroke-width="1" transform="rotate(40 54 22.5)" /><ellipse cx="54" cy="22.5" rx="1.82" ry="1.68" fill="#1626ff" stroke="none" stroke-width="1" transform="rotate(40 54 22.5)" /><ellipse cx="59.8" cy="15.5" rx="1.4" ry="1.2" fill="#7812ff" stroke="none" stroke-width="1" /><ellipse cx="44.5" cy="62.8" rx="2.4" ry="2.2" fill="#7812ff" stroke="none" stroke-width="1" /><ellipse cx="44.5" cy="62.8" rx="1.68" ry="1.54" fill="#1626ff" stroke="none" stroke-width="1" /><ellipse cx="36.1" cy="63" rx="1.7" ry="1.5" fill="#7812ff" stroke="none" stroke-width="1" /><ellipse cx="36.1" cy="63" rx="1.19" ry="1.05" fill="#1626ff" stroke="none" stroke-width="1" /><ellipse cx="38.2" cy="51.2" rx="1.4" ry="1.6" fill="#7812ff" stroke="none" stroke-width="1" /><ellipse cx="52.9" cy="53" rx="1.4" ry="1.2" fill="#7812ff" stroke="none" stroke-width="1" /><ellipse cx="47.5" cy="58.5" rx="1.3" ry="1.1" fill="#7812ff" stroke="none" stroke-width="1" /><ellipse cx="41.5" cy="57.5" rx="0.8" ry="0.8" fill="#7812ff" stroke="none" stroke-width="1" /><ellipse cx="49.8" cy="27" rx="2.4" ry="0.8" fill="#7812ff" stroke="none" stroke-width="1" /></g></svg></g><g transform="translate(402.7 305.5)"><svg x="0" y="0" width="66.4" height="75.4" overflow="hidden"><use href="#cbg"/><use href="#mside" transform="translate(18 0) rotate(4 0 40)"/><use href="#mside" transform="translate(50.5 0) rotate(2 0 40)"/><g filter="url(#bb)"><path d="M21.41 40.83 L21.41 41.42 L21.33 42.01 L21.22 42.62 L21.03 43.26 L20.62 43.87 L19.89 44.35 L18.98 44.63 L18.08 44.8 L17.28 45.01 L16.52 45.32 L15.67 45.68 L14.72 45.93 L13.76 45.93 L12.91 45.71 L12.2 45.33 L11.63 44.88 L11.22 44.37 L10.99 43.81 L10.88 43.24 L10.77 42.7 L10.59 42.17 L10.41 41.59 L10.4 40.95 L10.67 40.32 L11.18 39.73 L11.84 39.21 L12.58 38.74 L13.42 38.39 L14.35 38.22 L15.27 38.23 L16.11 38.31 L16.9 38.31 L17.76 38.21 L18.72 38.12 L19.65 38.22 L20.36 38.57 L20.82 39.1 L21.1 39.67 L21.3 40.25Z" fill="#7812ff" stroke="none" stroke-width="1" /><path d="M20.02 41.17 L19.99 41.64 L19.89 42.12 L19.78 42.59 L19.64 43.1 L19.33 43.59 L18.75 43.96 L18 44.16 L17.28 44.26 L16.67 44.43 L16.09 44.73 L15.42 45.09 L14.63 45.32 L13.86 45.31 L13.2 45.08 L12.68 44.74 L12.25 44.37 L11.94 43.96 L11.76 43.52 L11.68 43.08 L11.6 42.66 L11.43 42.24 L11.25 41.78 L11.22 41.27 L11.44 40.77 L11.87 40.31 L12.37 39.89 L12.93 39.5 L13.59 39.19 L14.35 39.06 L15.1 39.12 L15.76 39.25 L16.36 39.29 L17.03 39.2 L17.81 39.07 L18.58 39.11 L19.17 39.37 L19.53 39.79 L19.77 40.25 L19.94 40.7Z" fill="#1626ff" stroke="none" stroke-width="1" /><path d="M17.54 41.71 L17.51 41.95 L17.44 42.18 L17.38 42.42 L17.31 42.67 L17.17 42.92 L16.87 43.1 L16.48 43.18 L16.11 43.22 L15.82 43.31 L15.54 43.49 L15.21 43.7 L14.8 43.84 L14.41 43.82 L14.09 43.68 L13.84 43.49 L13.64 43.3 L13.49 43.09 L13.4 42.88 L13.37 42.65 L13.33 42.45 L13.23 42.24 L13.12 42.02 L13.09 41.76 L13.21 41.51 L13.43 41.28 L13.68 41.07 L13.95 40.85 L14.27 40.69 L14.66 40.62 L15.05 40.68 L15.38 40.78 L15.67 40.82 L15.99 40.77 L16.39 40.68 L16.79 40.67 L17.1 40.8 L17.28 41.01 L17.41 41.24 L17.5 41.47Z" fill="#00b8ff" stroke="none" stroke-width="1" /><ellipse cx="47.7" cy="9" rx="3" ry="1.6" fill="#7812ff" stroke="none" stroke-width="1" transform="rotate(45 47.7 9)" /><ellipse cx="47.7" cy="9" rx="2.1" ry="1.12" fill="#1626ff" stroke="none" stroke-width="1" transform="rotate(45 47.7 9)" /><ellipse cx="47.7" cy="9" rx="1.05" ry="0.56" fill="#00b8ff" stroke="none" stroke-width="1" transform="rotate(45 47.7 9)" /><path d="M58.17 44.63 L57.86 45.5 L57.34 46.27 L56.68 46.84 L55.98 47.22 L55.3 47.53 L54.64 47.79 L53.98 47.93 L53.38 47.85 L52.86 47.6 L52.4 47.31 L51.92 47.04 L51.46 46.71 L51.08 46.24 L50.83 45.63 L50.68 44.94 L50.58 44.19 L50.6 43.37 L50.84 42.51 L51.32 41.7 L51.93 41.03 L52.51 40.45 L53 39.84 L53.48 39.14 L54.03 38.45 L54.69 37.95 L55.37 37.7 L56.03 37.64 L56.65 37.65 L57.25 37.74 L57.8 37.96 L58.27 38.31 L58.65 38.78 L58.97 39.32 L59.2 39.95 L59.28 40.68 L59.15 41.49 L58.87 42.3 L58.58 43.05 L58.37 43.81Z" fill="#7812ff" stroke="none" stroke-width="1" /><path d="M57.53 44.26 L57.32 44.99 L56.91 45.63 L56.36 46.06 L55.78 46.31 L55.24 46.52 L54.71 46.73 L54.2 46.85 L53.72 46.78 L53.33 46.56 L52.97 46.32 L52.59 46.11 L52.21 45.87 L51.9 45.52 L51.7 45.04 L51.57 44.5 L51.46 43.91 L51.44 43.26 L51.61 42.56 L52.04 41.92 L52.59 41.41 L53.09 40.99 L53.47 40.54 L53.82 39.96 L54.24 39.37 L54.75 38.94 L55.29 38.74 L55.81 38.7 L56.31 38.71 L56.8 38.75 L57.25 38.91 L57.62 39.2 L57.91 39.6 L58.15 40.04 L58.33 40.54 L58.38 41.13 L58.24 41.78 L57.98 42.41 L57.74 42.99 L57.62 43.58Z" fill="#1626ff" stroke="none" stroke-width="1" /><path d="M56.27 43.53 L56.19 43.92 L55.98 44.25 L55.69 44.46 L55.39 44.56 L55.12 44.65 L54.86 44.76 L54.6 44.82 L54.36 44.78 L54.17 44.66 L54 44.53 L53.81 44.44 L53.61 44.33 L53.45 44.16 L53.35 43.92 L53.28 43.65 L53.21 43.36 L53.18 43.04 L53.26 42.68 L53.5 42.35 L53.8 42.11 L54.07 41.92 L54.26 41.71 L54.42 41.41 L54.62 41.09 L54.87 40.86 L55.15 40.76 L55.41 40.75 L55.66 40.75 L55.91 40.76 L56.14 40.83 L56.32 40.98 L56.46 41.19 L56.58 41.42 L56.67 41.67 L56.69 41.96 L56.6 42.3 L56.45 42.61 L56.33 42.89 L56.28 43.18Z" fill="#00b8ff" stroke="none" stroke-width="1" /><path d="M53.17 39.3 L53.37 40.16 L53.52 41.08 L53.41 42.04 L52.87 42.96 L51.94 43.74 L50.79 44.35 L49.58 44.85 L48.29 45.2 L46.95 45.32 L45.66 45.23 L44.46 45.1 L43.27 45.1 L41.91 45.26 L40.35 45.36 L38.89 45.11 L37.89 44.41 L37.43 43.46 L37.29 42.48 L37.24 41.56 L37.23 40.7 L37.3 39.85 L37.46 39 L37.66 38.12 L37.95 37.2 L38.54 36.3 L39.56 35.61 L40.88 35.21 L42.24 35.01 L43.49 34.79 L44.72 34.47 L46.05 34.14 L47.46 34.02 L48.79 34.26 L49.9 34.8 L50.8 35.46 L51.59 36.14 L52.26 36.86 L52.74 37.64 L53.01 38.47Z" fill="#7812ff" stroke="none" stroke-width="1" /><path d="M51.37 39.7 L51.56 40.44 L51.72 41.23 L51.63 42.08 L51.14 42.87 L50.31 43.52 L49.31 44.05 L48.27 44.48 L47.17 44.79 L46.01 44.89 L44.89 44.78 L43.88 44.63 L42.87 44.62 L41.69 44.79 L40.31 44.93 L39.01 44.75 L38.13 44.15 L37.75 43.3 L37.65 42.44 L37.63 41.65 L37.64 40.9 L37.72 40.17 L37.88 39.44 L38.07 38.7 L38.3 37.9 L38.77 37.12 L39.64 36.51 L40.79 36.18 L41.96 36.02 L43.03 35.83 L44.08 35.51 L45.24 35.18 L46.48 35.07 L47.62 35.31 L48.53 35.84 L49.26 36.44 L49.92 37.03 L50.52 37.62 L50.96 38.28 L51.21 38.98Z" fill="#1626ff" stroke="none" stroke-width="1" /><path d="M49.2 40.13 L49.37 40.71 L49.52 41.34 L49.46 42.01 L49.06 42.63 L48.37 43.14 L47.58 43.54 L46.77 43.89 L45.91 44.15 L44.99 44.22 L44.11 44.1 L43.32 43.95 L42.54 43.94 L41.61 44.1 L40.5 44.26 L39.43 44.14 L38.73 43.66 L38.44 42.98 L38.39 42.29 L38.38 41.66 L38.4 41.07 L38.49 40.5 L38.63 39.93 L38.78 39.35 L38.95 38.73 L39.3 38.1 L39.97 37.62 L40.88 37.36 L41.81 37.25 L42.65 37.09 L43.47 36.82 L44.39 36.52 L45.38 36.43 L46.28 36.65 L46.96 37.1 L47.5 37.61 L48 38.06 L48.49 38.51 L48.86 39.02 L49.07 39.57Z" fill="#00b8ff" stroke="none" stroke-width="1" /><path d="M47.04 40.56 L47.17 40.98 L47.29 41.44 L47.26 41.93 L46.95 42.39 L46.44 42.75 L45.85 43.04 L45.27 43.3 L44.64 43.5 L43.97 43.54 L43.32 43.44 L42.75 43.31 L42.2 43.29 L41.52 43.43 L40.68 43.57 L39.88 43.51 L39.36 43.16 L39.16 42.65 L39.14 42.14 L39.15 41.68 L39.17 41.24 L39.24 40.83 L39.36 40.42 L39.48 40 L39.59 39.54 L39.82 39.08 L40.31 38.73 L40.98 38.54 L41.65 38.47 L42.26 38.35 L42.86 38.13 L43.53 37.89 L44.27 37.82 L44.92 37.99 L45.4 38.36 L45.76 38.75 L46.12 39.08 L46.48 39.39 L46.77 39.75 L46.93 40.15Z" fill="#22f05a" stroke="none" stroke-width="1" /><path d="M44.87 40.98 L44.97 41.25 L45.05 41.54 L45.03 41.85 L44.83 42.14 L44.5 42.36 L44.13 42.55 L43.76 42.71 L43.37 42.84 L42.95 42.86 L42.54 42.78 L42.19 42.69 L41.84 42.67 L41.42 42.77 L40.88 42.88 L40.36 42.86 L40.02 42.64 L39.9 42.31 L39.9 41.98 L39.91 41.69 L39.93 41.42 L39.99 41.15 L40.07 40.9 L40.15 40.64 L40.21 40.35 L40.34 40.06 L40.64 39.83 L41.07 39.72 L41.5 39.68 L41.87 39.6 L42.25 39.45 L42.68 39.29 L43.14 39.24 L43.55 39.36 L43.84 39.61 L44.05 39.87 L44.27 40.07 L44.5 40.26 L44.69 40.48 L44.8 40.73Z" fill="#f2f200" stroke="none" stroke-width="1" /></g></svg></g><g transform="translate(54.4 385.9)"><svg x="0" y="0" width="66.4" height="75.4" overflow="hidden"><use href="#cbg"/><use href="#mtop" transform="translate(17.9 0) rotate(-3 0 40) scale(1.06 1)"/><use href="#mtop" transform="translate(45.9 0) rotate(2 0 40) scale(1.06 1)"/><g filter="url(#bb)"><path d="M27.7 37.3 L27.55 38.46 L27.1 39.57 L26.53 40.65 L25.94 41.74 L25.17 42.83 L23.97 43.66 L22.4 44.02 L20.75 43.98 L19.26 43.85 L17.9 43.91 L16.47 44.19 L14.85 44.45 L13.14 44.41 L11.56 43.94 L10.28 43.1 L9.41 41.99 L8.97 40.76 L8.95 39.51 L9.16 38.35 L9.3 37.3 L9.17 36.25 L8.91 35.08 L8.88 33.8 L9.43 32.62 L10.56 31.72 L11.98 31.1 L13.41 30.59 L14.84 30.14 L16.35 29.87 L17.9 29.91 L19.38 30.21 L20.76 30.61 L22.13 30.98 L23.55 31.38 L24.89 31.98 L25.92 32.87 L26.63 33.92 L27.14 35.01 L27.53 36.14Z" fill="#7812ff" stroke="none" stroke-width="1" /><path d="M27.08 37.3 L26.85 38.38 L26.19 39.35 L25.47 40.23 L24.92 41.18 L24.36 42.22 L23.38 43.04 L21.92 43.31 L20.37 43.1 L19.05 42.84 L17.9 42.93 L16.63 43.38 L15.1 43.85 L13.46 43.93 L11.99 43.49 L10.87 42.65 L10.15 41.58 L9.86 40.42 L10.01 39.25 L10.41 38.2 L10.65 37.3 L10.44 36.4 L9.95 35.33 L9.7 34.12 L10.18 33.03 L11.32 32.3 L12.67 31.82 L13.89 31.31 L15.1 30.73 L16.45 30.35 L17.9 30.43 L19.23 30.9 L20.38 31.49 L21.49 31.94 L22.7 32.27 L23.91 32.73 L24.89 33.43 L25.62 34.31 L26.26 35.23 L26.82 36.23Z" fill="#1626ff" stroke="none" stroke-width="1" /><path d="M55.66 38 L55.94 39.22 L56.27 40.58 L56.26 42.04 L55.57 43.37 L54.19 44.34 L52.5 44.95 L50.83 45.39 L49.21 45.79 L47.56 46 L45.9 45.92 L44.33 45.6 L42.83 45.23 L41.26 44.97 L39.52 44.72 L37.8 44.19 L36.47 43.24 L35.7 41.98 L35.33 40.63 L35.19 39.3 L35.26 38 L35.57 36.75 L36.1 35.56 L36.69 34.41 L37.26 33.2 L38 31.96 L39.2 30.95 L40.85 30.43 L42.65 30.36 L44.33 30.42 L45.9 30.32 L47.55 30.02 L49.38 29.81 L51.23 30 L52.82 30.72 L53.99 31.81 L54.78 33.07 L55.27 34.35 L55.5 35.62 L55.56 36.83Z" fill="#7812ff" stroke="none" stroke-width="1" /><path d="M54.76 38.8 L55.12 39.89 L55.57 41.15 L55.68 42.53 L55.02 43.76 L53.66 44.58 L52.05 45.06 L50.53 45.45 L49.1 45.86 L47.61 46.11 L46.1 46 L44.69 45.6 L43.4 45.16 L42.03 44.91 L40.43 44.77 L38.78 44.4 L37.48 43.59 L36.73 42.45 L36.37 41.22 L36.23 40 L36.32 38.8 L36.71 37.66 L37.34 36.62 L37.98 35.64 L38.48 34.56 L39.03 33.39 L40.02 32.4 L41.52 31.92 L43.18 31.92 L44.7 32.03 L46.1 31.9 L47.61 31.52 L49.32 31.22 L51.04 31.39 L52.45 32.11 L53.42 33.21 L54.03 34.39 L54.42 35.56 L54.6 36.69 L54.64 37.77Z" fill="#1626ff" stroke="none" stroke-width="1" /><path d="M50.55 39.6 L50.78 40.14 L51.09 40.79 L51.19 41.51 L50.85 42.13 L50.12 42.52 L49.26 42.72 L48.5 42.91 L47.81 43.14 L47.07 43.29 L46.3 43.22 L45.6 42.96 L44.99 42.69 L44.33 42.56 L43.51 42.53 L42.64 42.4 L41.94 42.02 L41.54 41.46 L41.35 40.83 L41.27 40.21 L41.33 39.6 L41.58 39.03 L41.97 38.52 L42.35 38.06 L42.58 37.53 L42.8 36.92 L43.25 36.39 L44 36.14 L44.84 36.17 L45.61 36.25 L46.3 36.17 L47.06 35.92 L47.95 35.72 L48.83 35.8 L49.52 36.21 L49.96 36.8 L50.22 37.42 L50.38 38.01 L50.46 38.57 L50.48 39.09Z" fill="#00b8ff" stroke="none" stroke-width="1" /></g></svg></g><g transform="translate(123.5 385.9)"><svg x="0" y="0" width="66.4" height="75.4" overflow="hidden"><use href="#cbg"/><use href="#mside" transform="translate(17 0) rotate(-2 0 40)"/><use href="#mside" transform="translate(50 0) rotate(2 0 40)"/><g filter="url(#bb)"><path d="M16.98 36.57 L16.9 37.23 L16.96 37.86 L17.14 38.54 L17.2 39.3 L16.95 40.05 L16.35 40.69 L15.58 41.16 L14.76 41.54 L13.95 41.86 L13.13 42.11 L12.29 42.25 L11.45 42.28 L10.62 42.24 L9.8 42.15 L9.01 41.94 L8.35 41.55 L7.86 41.03 L7.45 40.47 L7.02 39.93 L6.55 39.36 L6.19 38.7 L6.16 37.95 L6.5 37.22 L7.04 36.57 L7.58 35.98 L8.08 35.39 L8.64 34.83 L9.32 34.37 L10.1 34.05 L10.9 33.8 L11.72 33.55 L12.57 33.35 L13.46 33.29 L14.31 33.43 L15.09 33.73 L15.79 34.11 L16.41 34.57 L16.86 35.15 L17.03 35.85Z" fill="#7812ff" stroke="none" stroke-width="1" /><path d="M54.45 37.6 L55.13 38.42 L55.84 39.33 L56.3 40.43 L56.25 41.66 L55.69 42.86 L54.88 43.94 L54.07 44.95 L53.27 45.94 L52.32 46.84 L51.16 47.49 L49.92 47.87 L48.7 48.09 L47.51 48.34 L46.28 48.65 L44.98 48.85 L43.7 48.73 L42.57 48.28 L41.61 47.6 L40.82 46.77 L40.25 45.8 L39.95 44.71 L39.94 43.57 L40.05 42.45 L40.11 41.36 L40.15 40.21 L40.44 39.03 L41.16 37.96 L42.21 37.11 L43.32 36.43 L44.36 35.72 L45.39 34.88 L46.58 34.1 L47.91 33.67 L49.25 33.69 L50.45 34.07 L51.51 34.6 L52.45 35.22 L53.24 35.95 L53.87 36.77Z" fill="#7812ff" stroke="none" stroke-width="1" /><path d="M51.46 39.17 L52.2 39.8 L53.08 40.53 L53.69 41.51 L53.65 42.65 L52.96 43.74 L52.06 44.66 L51.31 45.54 L50.68 46.48 L49.89 47.35 L48.82 47.91 L47.64 48.08 L46.54 48.08 L45.54 48.23 L44.48 48.63 L43.29 49.01 L42.08 49.05 L41 48.71 L40.09 48.13 L39.33 47.38 L38.82 46.47 L38.69 45.41 L38.93 44.3 L39.24 43.3 L39.29 42.38 L39.14 41.38 L39.21 40.29 L39.82 39.32 L40.84 38.62 L41.89 38.09 L42.77 37.43 L43.62 36.52 L44.66 35.63 L45.9 35.18 L47.12 35.32 L48.16 35.86 L49.03 36.48 L49.79 37.09 L50.43 37.76 L50.94 38.48Z" fill="#1626ff" stroke="none" stroke-width="1" /></g></svg></g><g transform="translate(194.1 385.9)"><svg x="0" y="0" width="66.4" height="75.4" overflow="hidden"><use href="#cbg"/><use href="#mtop" transform="translate(16.2 0) scale(1.06 1)"/><use href="#mtop" transform="translate(49 0) scale(1.06 1)"/><g filter="url(#bb)"><ellipse cx="26" cy="40" rx="1.4" ry="14" fill="#7812ff" stroke="none" stroke-width="1" /><path d="M28.96 40.7 L28.78 42.08 L28.42 43.45 L27.95 44.84 L27.25 46.25 L26.05 47.47 L24.26 48.26 L22.19 48.56 L20.22 48.68 L18.42 48.95 L16.6 49.44 L14.57 49.9 L12.41 49.95 L10.39 49.44 L8.69 48.5 L7.3 47.36 L6.17 46.13 L5.37 44.8 L5.01 43.4 L4.96 42.02 L4.96 40.7 L4.82 39.36 L4.69 37.93 L4.92 36.44 L5.71 35.03 L7 33.82 L8.61 32.82 L10.45 32.06 L12.51 31.67 L14.63 31.77 L16.6 32.24 L18.36 32.72 L20.12 32.94 L22.12 32.94 L24.34 33.06 L26.35 33.71 L27.71 34.92 L28.4 36.39 L28.74 37.87 L28.93 39.3Z" fill="#7812ff" stroke="none" stroke-width="1" /><path d="M27.94 40.7 L27.75 41.97 L27.39 43.21 L26.93 44.47 L26.3 45.75 L25.22 46.88 L23.57 47.57 L21.66 47.82 L19.87 47.9 L18.25 48.18 L16.6 48.7 L14.72 49.19 L12.72 49.25 L10.88 48.75 L9.37 47.83 L8.15 46.76 L7.13 45.63 L6.39 44.43 L6.06 43.15 L6.03 41.9 L6.03 40.7 L5.87 39.48 L5.72 38.17 L5.91 36.8 L6.64 35.52 L7.83 34.41 L9.29 33.48 L10.95 32.75 L12.83 32.38 L14.79 32.5 L16.6 33 L18.19 33.51 L19.76 33.73 L21.59 33.69 L23.66 33.74 L25.53 34.3 L26.79 35.4 L27.41 36.75 L27.72 38.11 L27.91 39.42Z" fill="#1626ff" stroke="none" stroke-width="1" /><path d="M27.25 40.7 L27.05 41.89 L26.68 43.05 L26.24 44.22 L25.66 45.42 L24.65 46.47 L23.09 47.11 L21.29 47.3 L19.62 47.36 L18.14 47.65 L16.6 48.2 L14.83 48.72 L12.93 48.8 L11.2 48.29 L9.83 47.38 L8.73 46.34 L7.79 45.29 L7.09 44.17 L6.78 42.99 L6.76 41.82 L6.77 40.7 L6.6 39.56 L6.42 38.33 L6.59 37.04 L7.27 35.84 L8.39 34.82 L9.74 33.93 L11.28 33.22 L13.04 32.85 L14.9 32.99 L16.6 33.52 L18.07 34.06 L19.51 34.29 L21.22 34.21 L23.19 34.2 L24.99 34.69 L26.17 35.72 L26.75 37 L27.03 38.27 L27.22 39.49Z" fill="#00b8ff" stroke="none" stroke-width="1" /><path d="M26.55 40.7 L26.35 41.81 L25.97 42.88 L25.55 43.97 L25.01 45.08 L24.08 46.06 L22.62 46.64 L20.93 46.79 L19.38 46.83 L18.02 47.12 L16.6 47.7 L14.93 48.24 L13.14 48.33 L11.53 47.83 L10.29 46.92 L9.3 45.93 L8.44 44.95 L7.79 43.92 L7.5 42.82 L7.49 41.73 L7.49 40.7 L7.32 39.65 L7.13 38.49 L7.26 37.29 L7.91 36.17 L8.95 35.22 L10.19 34.38 L11.61 33.69 L13.26 33.33 L15.01 33.48 L16.6 34.04 L17.95 34.6 L19.26 34.83 L20.85 34.72 L22.72 34.67 L24.43 35.09 L25.55 36.04 L26.08 37.24 L26.34 38.43 L26.53 39.57Z" fill="#22f05a" stroke="none" stroke-width="1" /><path d="M25.85 40.7 L25.65 41.73 L25.27 42.72 L24.86 43.72 L24.37 44.75 L23.51 45.65 L22.15 46.18 L20.57 46.29 L19.15 46.31 L17.9 46.6 L16.6 47.19 L15.04 47.75 L13.36 47.85 L11.87 47.35 L10.75 46.47 L9.88 45.52 L9.09 44.61 L8.48 43.66 L8.21 42.65 L8.21 41.65 L8.22 40.7 L8.03 39.73 L7.83 38.66 L7.94 37.54 L8.54 36.5 L9.51 35.62 L10.65 34.84 L11.95 34.16 L13.48 33.82 L15.12 33.98 L16.6 34.55 L17.83 35.13 L19.02 35.35 L20.49 35.23 L22.25 35.13 L23.87 35.49 L24.92 36.37 L25.4 37.49 L25.65 38.59 L25.83 39.65Z" fill="#f2f200" stroke="none" stroke-width="1" /><path d="M25.14 40.7 L24.94 41.65 L24.56 42.55 L24.17 43.47 L23.73 44.41 L22.95 45.25 L21.69 45.72 L20.22 45.8 L18.91 45.8 L17.79 46.09 L16.6 46.68 L15.15 47.25 L13.58 47.35 L12.22 46.87 L11.22 46.01 L10.44 45.11 L9.73 44.28 L9.17 43.41 L8.92 42.49 L8.93 41.57 L8.93 40.7 L8.75 39.81 L8.53 38.82 L8.62 37.79 L9.18 36.84 L10.08 36.03 L11.12 35.29 L12.3 34.65 L13.71 34.32 L15.23 34.49 L16.6 35.06 L17.72 35.64 L18.79 35.87 L20.14 35.72 L21.79 35.59 L23.31 35.89 L24.28 36.7 L24.72 37.73 L24.95 38.76 L25.12 39.73Z" fill="#ff0c00" stroke="none" stroke-width="1" /><ellipse cx="49" cy="8.3" rx="2.4" ry="2.8" fill="#7812ff" stroke="none" stroke-width="1" /><ellipse cx="39" cy="30" rx="1.4" ry="5" fill="#7812ff" stroke="none" stroke-width="1" /><ellipse cx="56.7" cy="30" rx="1.4" ry="5" fill="#7812ff" stroke="none" stroke-width="1" /><path d="M62.04 42.1 L61.75 43.8 L61.15 45.42 L60.4 46.99 L59.52 48.53 L58.32 49.94 L56.64 50.95 L54.67 51.47 L52.71 51.71 L50.88 52.07 L49 52.65 L46.91 53.21 L44.7 53.24 L42.68 52.53 L41.06 51.29 L39.76 49.87 L38.63 48.44 L37.7 46.94 L37.14 45.34 L36.92 43.71 L36.84 42.1 L36.71 40.46 L36.73 38.75 L37.22 37.05 L38.27 35.54 L39.67 34.25 L41.2 33.07 L42.86 31.97 L44.78 31.17 L46.91 31 L49 31.45 L50.87 32.15 L52.63 32.7 L54.49 33.03 L56.51 33.41 L58.4 34.19 L59.88 35.45 L60.88 37.01 L61.56 38.67 L61.97 40.37Z" fill="#7812ff" stroke="none" stroke-width="1" /><path d="M61.18 42.1 L60.88 43.68 L60.28 45.18 L59.56 46.63 L58.76 48.07 L57.66 49.38 L56.09 50.31 L54.24 50.75 L52.41 50.93 L50.73 51.28 L49 51.9 L47.04 52.51 L44.95 52.58 L43.07 51.89 L41.59 50.68 L40.43 49.31 L39.4 47.97 L38.55 46.58 L38.03 45.1 L37.84 43.59 L37.76 42.1 L37.61 40.58 L37.59 38.98 L38.02 37.39 L39.01 35.99 L40.33 34.81 L41.74 33.7 L43.26 32.63 L45.04 31.85 L47.04 31.7 L49 32.2 L50.73 32.94 L52.32 33.5 L54.04 33.77 L55.94 34.06 L57.75 34.74 L59.15 35.9 L60.09 37.35 L60.72 38.9 L61.12 40.49Z" fill="#1626ff" stroke="none" stroke-width="1" /><path d="M60.57 42.1 L60.26 43.6 L59.65 45.01 L58.95 46.37 L58.21 47.73 L57.18 48.98 L55.69 49.85 L53.92 50.22 L52.19 50.36 L50.62 50.69 L49 51.36 L47.13 52.02 L45.13 52.13 L43.34 51.45 L41.97 50.24 L40.91 48.91 L39.96 47.62 L39.16 46.32 L38.68 44.92 L38.52 43.5 L38.44 42.1 L38.27 40.67 L38.21 39.15 L38.6 37.64 L39.55 36.32 L40.81 35.21 L42.13 34.15 L43.54 33.09 L45.22 32.32 L47.13 32.19 L49 32.74 L50.61 33.52 L52.09 34.09 L53.71 34.33 L55.53 34.54 L57.28 35.13 L58.63 36.22 L59.52 37.59 L60.12 39.06 L60.51 40.57Z" fill="#00b8ff" stroke="none" stroke-width="1" /><path d="M59.96 42.1 L59.63 43.52 L59.02 44.84 L58.35 46.11 L57.66 47.39 L56.7 48.58 L55.29 49.39 L53.6 49.69 L51.97 49.79 L50.51 50.12 L49 50.81 L47.23 51.52 L45.31 51.66 L43.61 51 L42.35 49.8 L41.39 48.5 L40.52 47.28 L39.78 46.05 L39.33 44.74 L39.19 43.41 L39.12 42.1 L38.92 40.76 L38.83 39.32 L39.18 37.89 L40.08 36.65 L41.28 35.61 L42.52 34.6 L43.83 33.57 L45.41 32.8 L47.23 32.69 L49 33.28 L50.51 34.1 L51.87 34.67 L53.38 34.87 L55.12 35.01 L56.81 35.53 L58.1 36.54 L58.94 37.84 L59.52 39.22 L59.9 40.65Z" fill="#22f05a" stroke="none" stroke-width="1" /><path d="M59.33 42.1 L59 43.43 L58.39 44.67 L57.75 45.85 L57.11 47.06 L56.23 48.18 L54.89 48.92 L53.29 49.18 L51.75 49.23 L50.4 49.55 L49 50.27 L47.32 51.01 L45.49 51.18 L43.89 50.53 L42.74 49.35 L41.87 48.1 L41.08 46.94 L40.38 45.79 L39.97 44.57 L39.85 43.32 L39.78 42.1 L39.57 40.84 L39.45 39.49 L39.76 38.14 L40.62 36.98 L41.76 36.01 L42.91 35.05 L44.12 34.05 L45.6 33.29 L47.33 33.21 L49 33.82 L50.4 34.66 L51.65 35.24 L53.06 35.4 L54.72 35.48 L56.34 35.93 L57.57 36.86 L58.37 38.08 L58.92 39.39 L59.28 40.73Z" fill="#f2f200" stroke="none" stroke-width="1" /><path d="M58.7 42.1 L58.37 43.35 L57.77 44.5 L57.15 45.59 L56.56 46.72 L55.75 47.78 L54.5 48.47 L52.98 48.67 L51.54 48.69 L50.3 49 L49 49.72 L47.42 50.49 L45.68 50.68 L44.18 50.05 L43.12 48.91 L42.35 47.69 L41.63 46.6 L40.98 45.54 L40.6 44.39 L40.5 43.23 L40.44 42.1 L40.22 40.93 L40.07 39.66 L40.35 38.39 L41.16 37.31 L42.24 36.41 L43.31 35.51 L44.42 34.53 L45.79 33.8 L47.42 33.73 L49 34.36 L50.29 35.22 L51.44 35.8 L52.74 35.92 L54.31 35.95 L55.86 36.33 L57.03 37.19 L57.78 38.33 L58.3 39.56 L58.66 40.81Z" fill="#ff0c00" stroke="none" stroke-width="1" /><ellipse cx="41.3" cy="71" rx="1.4" ry="1.1" fill="#7812ff" stroke="none" stroke-width="1" /><ellipse cx="58" cy="70.8" rx="1.2" ry="1" fill="#7812ff" stroke="none" stroke-width="1" /></g></svg></g><g transform="translate(263.2 385.9)"><svg x="0" y="0" width="66.4" height="75.4" overflow="hidden"><use href="#cbg"/><use href="#mside" transform="translate(17.5 0)"/><use href="#mside" transform="translate(50 0) rotate(2 0 40)"/><g filter="url(#bb)"><path d="M29.2 37 L29.12 37.72 L28.95 38.38 L28.77 39 L28.58 39.61 L28.34 40.19 L28.05 40.69 L27.7 41.09 L27.33 41.42 L26.93 41.7 L26.5 41.84 L26.06 41.77 L25.66 41.46 L25.32 41.02 L24.99 40.6 L24.65 40.21 L24.32 39.74 L24.1 39.12 L24.01 38.4 L24.01 37.68 L24 37 L23.95 36.3 L23.92 35.55 L23.99 34.78 L24.19 34.1 L24.5 33.53 L24.86 33.1 L25.27 32.81 L25.69 32.7 L26.11 32.75 L26.5 32.84 L26.88 32.82 L27.3 32.74 L27.75 32.75 L28.17 33.01 L28.49 33.55 L28.71 34.23 L28.88 34.9 L29.05 35.57 L29.18 36.27Z" fill="#7812ff" stroke="none" stroke-width="1" /><path d="M32.6 44.6 L32.51 46.16 L32.34 47.59 L32.16 48.94 L31.97 50.28 L31.75 51.56 L31.45 52.67 L31.11 53.55 L30.73 54.28 L30.33 54.85 L29.9 55.12 L29.47 54.94 L29.07 54.25 L28.72 53.33 L28.39 52.45 L28.04 51.61 L27.72 50.58 L27.5 49.22 L27.42 47.64 L27.42 46.08 L27.4 44.6 L27.34 43.07 L27.3 41.42 L27.38 39.75 L27.59 38.27 L27.9 37.06 L28.27 36.14 L28.67 35.52 L29.1 35.29 L29.51 35.37 L29.9 35.52 L30.28 35.46 L30.7 35.26 L31.16 35.3 L31.57 35.92 L31.89 37.11 L32.1 38.57 L32.28 40.03 L32.45 41.47 L32.58 43Z" fill="#7812ff" stroke="none" stroke-width="1" /><path d="M31.94 44.6 L31.86 45.71 L31.72 46.71 L31.58 47.64 L31.45 48.58 L31.3 49.5 L31.1 50.3 L30.86 50.96 L30.6 51.52 L30.31 51.99 L30 52.23 L29.69 52.07 L29.41 51.5 L29.17 50.76 L28.94 50.11 L28.69 49.54 L28.45 48.85 L28.29 47.89 L28.24 46.76 L28.25 45.64 L28.24 44.6 L28.19 43.52 L28.14 42.32 L28.18 41.1 L28.33 40.03 L28.56 39.18 L28.83 38.54 L29.13 38.13 L29.43 38.01 L29.73 38.13 L30 38.28 L30.27 38.21 L30.57 37.99 L30.9 37.93 L31.21 38.34 L31.43 39.23 L31.57 40.31 L31.69 41.35 L31.82 42.37 L31.93 43.45Z" fill="#1626ff" stroke="none" stroke-width="1" /><path d="M31.49 44.6 L31.43 45.39 L31.31 46.09 L31.21 46.72 L31.12 47.38 L31.01 48.04 L30.88 48.62 L30.71 49.1 L30.53 49.54 L30.32 49.92 L30.1 50.11 L29.87 49.98 L29.68 49.52 L29.51 48.93 L29.36 48.45 L29.18 48.08 L29 47.62 L28.88 46.94 L28.85 46.13 L28.87 45.33 L28.87 44.6 L28.82 43.83 L28.77 42.97 L28.79 42.08 L28.9 41.31 L29.07 40.71 L29.27 40.27 L29.48 40 L29.7 39.94 L29.91 40.08 L30.1 40.21 L30.29 40.14 L30.5 39.93 L30.75 39.83 L30.97 40.1 L31.12 40.75 L31.21 41.55 L31.3 42.3 L31.4 43.01 L31.48 43.77Z" fill="#00b8ff" stroke="none" stroke-width="1" /><path d="M31.03 44.6 L30.99 45.07 L30.91 45.47 L30.84 45.84 L30.79 46.22 L30.73 46.61 L30.66 46.96 L30.56 47.26 L30.45 47.54 L30.33 47.79 L30.2 47.92 L30.06 47.83 L29.95 47.52 L29.86 47.14 L29.77 46.85 L29.66 46.64 L29.55 46.38 L29.48 45.99 L29.47 45.5 L29.48 45.03 L29.48 44.6 L29.44 44.15 L29.41 43.63 L29.41 43.09 L29.48 42.63 L29.58 42.28 L29.7 42.02 L29.83 41.87 L29.96 41.86 L30.09 41.97 L30.2 42.06 L30.31 42.01 L30.44 41.85 L30.58 41.75 L30.72 41.91 L30.81 42.3 L30.86 42.79 L30.91 43.24 L30.97 43.65 L31.03 44.11Z" fill="#22f05a" stroke="none" stroke-width="1" /><path d="M24.61 38.04 L24.81 39.1 L24.87 40.19 L24.89 41.31 L24.82 42.49 L24.43 43.69 L23.48 44.74 L22.13 45.47 L20.73 45.97 L19.51 46.47 L18.41 47.18 L17.22 48.03 L15.81 48.73 L14.28 49.04 L12.83 48.88 L11.56 48.39 L10.51 47.68 L9.7 46.82 L9.16 45.85 L8.8 44.86 L8.44 43.92 L7.95 43.01 L7.44 42.02 L7.17 40.89 L7.38 39.68 L8.02 38.52 L8.89 37.45 L9.89 36.45 L11.07 35.59 L12.45 35.02 L13.9 34.78 L15.26 34.71 L16.54 34.58 L17.85 34.26 L19.31 33.91 L20.8 33.87 L22.07 34.31 L23 35.11 L23.69 36.05 L24.23 37.02Z" fill="#7812ff" stroke="none" stroke-width="1" /><path d="M23.26 38.69 L23.42 39.64 L23.44 40.61 L23.44 41.6 L23.39 42.65 L23.06 43.72 L22.21 44.65 L20.99 45.28 L19.73 45.69 L18.67 46.13 L17.72 46.79 L16.67 47.6 L15.41 48.26 L14.04 48.53 L12.75 48.36 L11.64 47.88 L10.73 47.24 L10.02 46.47 L9.55 45.61 L9.25 44.73 L8.93 43.91 L8.48 43.11 L7.99 42.24 L7.73 41.23 L7.92 40.16 L8.51 39.13 L9.28 38.18 L10.14 37.28 L11.17 36.49 L12.4 35.98 L13.71 35.8 L14.94 35.79 L16.05 35.72 L17.21 35.43 L18.5 35.09 L19.84 35.02 L20.97 35.39 L21.81 36.09 L22.43 36.92 L22.92 37.78Z" fill="#1626ff" stroke="none" stroke-width="1" /><path d="M21.73 39.41 L21.85 40.22 L21.84 41.05 L21.82 41.89 L21.79 42.78 L21.52 43.7 L20.8 44.48 L19.74 45 L18.66 45.33 L17.76 45.7 L16.98 46.29 L16.09 47.02 L15.02 47.62 L13.84 47.85 L12.75 47.67 L11.82 47.24 L11.05 46.67 L10.46 46.02 L10.07 45.28 L9.82 44.53 L9.56 43.84 L9.15 43.17 L8.71 42.43 L8.48 41.58 L8.65 40.67 L9.16 39.8 L9.81 38.99 L10.52 38.2 L11.38 37.51 L12.44 37.07 L13.58 36.95 L14.62 36.99 L15.57 36.96 L16.53 36.72 L17.64 36.4 L18.78 36.3 L19.76 36.6 L20.48 37.2 L21.02 37.9 L21.44 38.63Z" fill="#00b8ff" stroke="none" stroke-width="1" /><path d="M20.19 40.13 L20.28 40.81 L20.25 41.5 L20.22 42.19 L20.2 42.92 L19.99 43.67 L19.39 44.32 L18.5 44.73 L17.6 44.98 L16.87 45.29 L16.24 45.8 L15.52 46.44 L14.63 46.96 L13.65 47.15 L12.75 46.98 L11.99 46.59 L11.37 46.11 L10.89 45.57 L10.58 44.96 L10.38 44.34 L10.17 43.78 L9.82 43.24 L9.43 42.63 L9.23 41.93 L9.38 41.17 L9.81 40.46 L10.34 39.79 L10.91 39.13 L11.61 38.55 L12.49 38.18 L13.44 38.1 L14.31 38.18 L15.08 38.18 L15.87 37.98 L16.77 37.69 L17.73 37.58 L18.55 37.82 L19.15 38.31 L19.59 38.88 L19.96 39.48Z" fill="#22f05a" stroke="none" stroke-width="1" /><path d="M18.64 40.85 L18.69 41.39 L18.65 41.94 L18.62 42.48 L18.61 43.05 L18.46 43.65 L17.99 44.15 L17.27 44.47 L16.55 44.65 L15.99 44.89 L15.51 45.31 L14.95 45.84 L14.24 46.27 L13.46 46.42 L12.76 46.27 L12.17 45.94 L11.69 45.56 L11.32 45.13 L11.08 44.65 L10.93 44.16 L10.76 43.72 L10.48 43.3 L10.15 42.83 L9.99 42.27 L10.11 41.68 L10.46 41.12 L10.87 40.6 L11.31 40.07 L11.85 39.59 L12.54 39.3 L13.3 39.26 L14 39.35 L14.59 39.37 L15.2 39.22 L15.92 38.97 L16.68 38.87 L17.33 39.04 L17.8 39.42 L18.16 39.87 L18.45 40.34Z" fill="#f2f200" stroke="none" stroke-width="1" /><path d="M17.07 41.58 L17.1 41.98 L17.06 42.38 L17.03 42.77 L17.03 43.19 L16.92 43.62 L16.58 43.99 L16.05 44.21 L15.52 44.33 L15.11 44.51 L14.77 44.82 L14.37 45.23 L13.85 45.56 L13.28 45.67 L12.77 45.54 L12.35 45.29 L12.01 45 L11.74 44.69 L11.57 44.34 L11.47 43.99 L11.34 43.67 L11.13 43.37 L10.88 43.03 L10.75 42.62 L10.84 42.19 L11.1 41.79 L11.41 41.4 L11.71 41.01 L12.1 40.66 L12.61 40.44 L13.17 40.42 L13.68 40.51 L14.11 40.55 L14.55 40.43 L15.07 40.24 L15.63 40.15 L16.11 40.27 L16.45 40.54 L16.72 40.87 L16.94 41.21Z" fill="#ff0c00" stroke="none" stroke-width="1" /><ellipse cx="42" cy="11.8" rx="2.2" ry="1.7" fill="#7812ff" stroke="none" stroke-width="1" transform="rotate(30 42 11.8)" /><path d="M56.47 37.36 L56.76 38.69 L56.72 40.08 L56.48 41.46 L56.08 42.83 L55.4 44.16 L54.39 45.36 L53.16 46.4 L51.91 47.38 L50.66 48.43 L49.25 49.47 L47.6 50.26 L45.82 50.5 L44.14 50.21 L42.63 49.71 L41.19 49.24 L39.75 48.77 L38.46 48.07 L37.53 47.04 L36.97 45.83 L36.55 44.61 L36.06 43.41 L35.61 42.13 L35.46 40.73 L35.76 39.27 L36.41 37.85 L37.33 36.49 L38.54 35.27 L40.08 34.37 L41.81 33.88 L43.5 33.69 L45.03 33.43 L46.53 32.92 L48.19 32.3 L49.99 31.95 L51.68 32.2 L53.03 32.98 L54.09 34 L55.02 35.05 L55.87 36.14Z" fill="#7812ff" stroke="none" stroke-width="1" /><path d="M55.6 37.68 L55.85 38.9 L55.78 40.17 L55.53 41.42 L55.16 42.67 L54.54 43.87 L53.61 44.95 L52.49 45.89 L51.37 46.79 L50.26 47.78 L49 48.8 L47.49 49.55 L45.85 49.75 L44.32 49.42 L42.97 48.9 L41.67 48.46 L40.36 48.05 L39.16 47.43 L38.32 46.51 L37.83 45.39 L37.46 44.28 L36.99 43.2 L36.55 42.04 L36.39 40.76 L36.65 39.43 L37.24 38.12 L38.08 36.87 L39.18 35.76 L40.59 34.94 L42.21 34.54 L43.77 34.42 L45.15 34.22 L46.49 33.74 L48.01 33.1 L49.67 32.73 L51.22 32.93 L52.45 33.67 L53.4 34.62 L54.25 35.58 L55.03 36.57Z" fill="#1626ff" stroke="none" stroke-width="1" /><path d="M55.03 37.89 L55.25 39.04 L55.15 40.23 L54.89 41.4 L54.53 42.56 L53.96 43.68 L53.08 44.68 L52.03 45.54 L51.01 46.39 L50 47.36 L48.84 48.36 L47.42 49.1 L45.87 49.27 L44.44 48.9 L43.19 48.35 L42 47.93 L40.76 47.57 L39.63 47.01 L38.84 46.15 L38.4 45.1 L38.07 44.06 L37.62 43.06 L37.17 41.98 L37 40.78 L37.23 39.53 L37.79 38.3 L38.56 37.12 L39.58 36.07 L40.93 35.31 L42.47 34.97 L43.95 34.92 L45.23 34.77 L46.47 34.3 L47.89 33.64 L49.46 33.23 L50.93 33.41 L52.07 34.12 L52.94 35.03 L53.74 35.93 L54.49 36.85Z" fill="#00b8ff" stroke="none" stroke-width="1" /><path d="M54.46 38.09 L54.65 39.17 L54.52 40.29 L54.26 41.38 L53.92 42.45 L53.38 43.49 L52.56 44.41 L51.58 45.2 L50.65 45.99 L49.74 46.93 L48.68 47.92 L47.35 48.64 L45.89 48.78 L44.55 48.38 L43.42 47.82 L42.32 47.4 L41.16 47.09 L40.1 46.59 L39.36 45.79 L38.97 44.81 L38.67 43.84 L38.24 42.91 L37.8 41.92 L37.61 40.8 L37.82 39.63 L38.33 38.48 L39.05 37.38 L40 36.38 L41.27 35.68 L42.74 35.4 L44.13 35.41 L45.31 35.31 L46.45 34.85 L47.76 34.18 L49.25 33.75 L50.63 33.9 L51.69 34.58 L52.48 35.45 L53.22 36.28 L53.94 37.13Z" fill="#22f05a" stroke="none" stroke-width="1" /><path d="M53.88 38.31 L54.04 39.31 L53.9 40.35 L53.63 41.36 L53.31 42.34 L52.81 43.3 L52.04 44.14 L51.14 44.86 L50.29 45.6 L49.48 46.5 L48.52 47.46 L47.28 48.17 L45.91 48.28 L44.67 47.85 L43.64 47.28 L42.64 46.89 L41.56 46.61 L40.56 46.18 L39.88 45.43 L39.54 44.52 L39.27 43.62 L38.86 42.77 L38.42 41.86 L38.22 40.82 L38.41 39.74 L38.89 38.67 L39.54 37.64 L40.42 36.71 L41.61 36.06 L43 35.84 L44.3 35.89 L45.39 35.83 L46.43 35.39 L47.64 34.72 L49.03 34.26 L50.33 34.39 L51.3 35.04 L52.02 35.86 L52.71 36.64 L53.39 37.41Z" fill="#f2f200" stroke="none" stroke-width="1" /><path d="M53.29 38.52 L53.43 39.45 L53.27 40.41 L53.01 41.34 L52.7 42.24 L52.24 43.11 L51.53 43.88 L50.71 44.53 L49.94 45.21 L49.22 46.07 L48.35 47 L47.21 47.68 L45.93 47.77 L44.79 47.33 L43.86 46.75 L42.95 46.38 L41.96 46.14 L41.02 45.76 L40.4 45.08 L40.1 44.23 L39.87 43.41 L39.48 42.63 L39.04 41.8 L38.84 40.84 L39.01 39.84 L39.45 38.85 L40.04 37.9 L40.85 37.03 L41.96 36.44 L43.26 36.27 L44.48 36.36 L45.47 36.33 L46.41 35.92 L47.52 35.25 L48.82 34.79 L50.02 34.89 L50.91 35.5 L51.56 36.28 L52.19 36.99 L52.83 37.7Z" fill="#ff0c00" stroke="none" stroke-width="1" /><ellipse cx="46.2" cy="65.2" rx="1.2" ry="1.2" fill="#7812ff" stroke="none" stroke-width="1" /><ellipse cx="46.2" cy="65.2" rx="0.84" ry="0.84" fill="#1626ff" stroke="none" stroke-width="1" /></g></svg></g><g transform="translate(333.6 385.9)"><svg x="0" y="0" width="66.4" height="75.4" overflow="hidden"><use href="#cbg"/><use href="#mtop" transform="translate(14.5 0) scale(1.06 1)"/><use href="#mtop" transform="translate(45.2 0) scale(1.06 1)"/><g filter="url(#bb)"><path d="M26.16 39 L25.98 40.22 L25.62 41.43 L25.15 42.66 L24.45 43.9 L23.26 44.99 L21.47 45.68 L19.39 45.95 L17.42 46.05 L15.62 46.29 L13.8 46.72 L11.77 47.12 L9.61 47.18 L7.58 46.73 L5.89 45.9 L4.5 44.89 L3.36 43.8 L2.57 42.62 L2.21 41.38 L2.17 40.17 L2.16 39 L2.02 37.82 L1.89 36.55 L2.12 35.23 L2.91 33.99 L4.21 32.92 L5.82 32.04 L7.66 31.36 L9.7 31.02 L11.83 31.11 L13.8 31.52 L15.56 31.95 L17.32 32.15 L19.32 32.14 L21.53 32.26 L23.54 32.83 L24.9 33.89 L25.6 35.19 L25.94 36.5 L26.14 37.76Z" fill="#7812ff" stroke="none" stroke-width="1" /><path d="M25 39 L24.81 40.1 L24.45 41.19 L24 42.29 L23.38 43.41 L22.31 44.39 L20.69 45 L18.8 45.21 L17.02 45.28 L15.43 45.52 L13.8 45.97 L11.95 46.4 L9.97 46.47 L8.15 46.03 L6.65 45.23 L5.45 44.29 L4.44 43.31 L3.72 42.25 L3.39 41.14 L3.37 40.05 L3.36 39 L3.21 37.94 L3.06 36.79 L3.25 35.59 L3.97 34.48 L5.14 33.52 L6.58 32.71 L8.22 32.07 L10.07 31.74 L12.01 31.84 L13.8 32.27 L15.37 32.72 L16.92 32.92 L18.72 32.88 L20.76 32.93 L22.61 33.42 L23.85 34.37 L24.48 35.56 L24.78 36.74 L24.97 37.88Z" fill="#1626ff" stroke="none" stroke-width="1" /><path d="M24.37 39 L24.18 40.04 L23.8 41.06 L23.37 42.09 L22.79 43.14 L21.79 44.06 L20.25 44.62 L18.46 44.79 L16.8 44.84 L15.32 45.09 L13.8 45.57 L12.04 46.03 L10.15 46.11 L8.44 45.67 L7.07 44.87 L5.98 43.95 L5.05 43.03 L4.36 42.04 L4.06 41.01 L4.04 39.98 L4.04 39 L3.87 38 L3.7 36.92 L3.86 35.79 L4.54 34.74 L5.65 33.84 L6.99 33.07 L8.52 32.44 L10.27 32.11 L12.11 32.23 L13.8 32.69 L15.26 33.17 L16.69 33.37 L18.38 33.31 L20.33 33.31 L22.12 33.73 L23.3 34.63 L23.87 35.75 L24.16 36.87 L24.35 37.94Z" fill="#00b8ff" stroke="none" stroke-width="1" /><path d="M23.74 39 L23.54 39.98 L23.16 40.93 L22.74 41.88 L22.2 42.87 L21.27 43.73 L19.82 44.25 L18.13 44.38 L16.58 44.41 L15.22 44.66 L13.8 45.17 L12.14 45.65 L10.34 45.74 L8.73 45.3 L7.49 44.5 L6.5 43.62 L5.65 42.75 L5 41.84 L4.71 40.87 L4.71 39.91 L4.71 39 L4.53 38.07 L4.34 37.05 L4.47 35.99 L5.12 35.01 L6.17 34.17 L7.41 33.43 L8.82 32.81 L10.46 32.49 L12.21 32.62 L13.8 33.11 L15.15 33.61 L16.46 33.82 L18.04 33.73 L19.9 33.68 L21.61 34.05 L22.73 34.89 L23.27 35.95 L23.54 37 L23.72 38.01Z" fill="#22f05a" stroke="none" stroke-width="1" /><path d="M23.11 39 L22.9 39.91 L22.52 40.79 L22.11 41.68 L21.62 42.6 L20.76 43.41 L19.39 43.87 L17.8 43.97 L16.36 43.99 L15.11 44.24 L13.8 44.76 L12.23 45.26 L10.54 45.36 L9.04 44.92 L7.91 44.14 L7.03 43.29 L6.24 42.48 L5.64 41.63 L5.37 40.74 L5.37 39.85 L5.37 39 L5.18 38.14 L4.98 37.18 L5.09 36.19 L5.7 35.27 L6.68 34.49 L7.83 33.79 L9.13 33.19 L10.66 32.88 L12.3 33.02 L13.8 33.53 L15.04 34.04 L16.24 34.25 L17.71 34.14 L19.47 34.05 L21.11 34.37 L22.16 35.15 L22.65 36.14 L22.91 37.13 L23.08 38.07Z" fill="#f2f200" stroke="none" stroke-width="1" /><path d="M22.47 39 L22.26 39.85 L21.87 40.66 L21.48 41.48 L21.03 42.33 L20.24 43.08 L18.96 43.5 L17.48 43.57 L16.15 43.57 L15.01 43.82 L13.8 44.35 L12.33 44.86 L10.74 44.96 L9.35 44.53 L8.33 43.77 L7.55 42.96 L6.83 42.21 L6.26 41.43 L6.01 40.6 L6.03 39.78 L6.03 39 L5.84 38.2 L5.62 37.32 L5.71 36.39 L6.28 35.54 L7.19 34.81 L8.25 34.16 L9.44 33.58 L10.86 33.28 L12.41 33.43 L13.8 33.94 L14.94 34.46 L16.02 34.67 L17.39 34.54 L19.05 34.42 L20.6 34.7 L21.59 35.42 L22.04 36.34 L22.27 37.26 L22.44 38.13Z" fill="#ff0c00" stroke="none" stroke-width="1" /><ellipse cx="28.4" cy="25.7" rx="1.8" ry="1" fill="#7812ff" stroke="none" stroke-width="1" transform="rotate(-30 28.4 25.7)" /><ellipse cx="7" cy="62" rx="0.7" ry="0.7" fill="#7812ff" stroke="none" stroke-width="1" /><path d="M41.89 28.5 L41.71 28.97 L41.56 29.42 L41.47 29.9 L41.38 30.42 L41.17 30.92 L40.82 31.32 L40.37 31.57 L39.88 31.72 L39.39 31.79 L38.9 31.79 L38.43 31.7 L37.98 31.53 L37.54 31.34 L37.11 31.13 L36.7 30.85 L36.38 30.45 L36.2 29.97 L36.12 29.46 L36.03 28.98 L35.89 28.5 L35.74 27.97 L35.74 27.41 L35.95 26.9 L36.32 26.5 L36.73 26.19 L37.14 25.92 L37.55 25.68 L37.99 25.51 L38.44 25.43 L38.9 25.39 L39.37 25.34 L39.87 25.33 L40.36 25.45 L40.79 25.73 L41.14 26.11 L41.44 26.53 L41.72 26.97 L41.93 27.45 L41.99 27.98Z" fill="#7812ff" stroke="none" stroke-width="1" /><ellipse cx="42.5" cy="27" rx="1.5" ry="1.5" fill="#7812ff" stroke="none" stroke-width="1" /><path d="M56.75 39.4 L57.08 40.65 L57.44 42.05 L57.39 43.54 L56.53 44.89 L54.92 45.88 L52.95 46.51 L51.01 47 L49.1 47.41 L47.15 47.61 L45.2 47.5 L43.36 47.15 L41.6 46.78 L39.74 46.55 L37.66 46.32 L35.61 45.79 L34.04 44.8 L33.15 43.49 L32.76 42.09 L32.64 40.73 L32.75 39.4 L33.11 38.12 L33.71 36.91 L34.36 35.72 L35 34.46 L35.87 33.18 L37.3 32.15 L39.27 31.64 L41.39 31.58 L43.35 31.63 L45.2 31.5 L47.15 31.17 L49.31 30.96 L51.47 31.19 L53.31 31.96 L54.66 33.09 L55.58 34.37 L56.18 35.67 L56.49 36.95 L56.61 38.2Z" fill="#7812ff" stroke="none" stroke-width="1" /><path d="M55.6 39.4 L55.95 40.54 L56.35 41.81 L56.34 43.18 L55.55 44.41 L54.03 45.29 L52.22 45.84 L50.45 46.27 L48.74 46.67 L46.98 46.88 L45.2 46.75 L43.54 46.39 L41.98 46.01 L40.31 45.8 L38.41 45.63 L36.5 45.2 L35.03 44.32 L34.2 43.14 L33.84 41.86 L33.74 40.61 L33.85 39.4 L34.23 38.24 L34.84 37.16 L35.47 36.1 L36.03 34.96 L36.77 33.78 L38.03 32.82 L39.82 32.36 L41.75 32.33 L43.54 32.39 L45.2 32.25 L46.98 31.91 L48.96 31.68 L50.94 31.89 L52.59 32.62 L53.76 33.69 L54.55 34.87 L55.07 36.05 L55.35 37.2 L55.46 38.32Z" fill="#1626ff" stroke="none" stroke-width="1" /><path d="M54.91 39.4 L55.29 40.47 L55.73 41.68 L55.77 42.99 L55.01 44.15 L53.53 44.95 L51.78 45.44 L50.13 45.85 L48.54 46.25 L46.88 46.46 L45.2 46.32 L43.65 45.94 L42.2 45.55 L40.66 45.34 L38.86 45.22 L37.01 44.86 L35.59 44.05 L34.79 42.94 L34.45 41.73 L34.35 40.55 L34.47 39.4 L34.88 38.31 L35.51 37.3 L36.15 36.33 L36.66 35.26 L37.3 34.13 L38.45 33.21 L40.13 32.77 L41.97 32.77 L43.64 32.84 L45.2 32.69 L46.88 32.33 L48.77 32.07 L50.65 32.27 L52.19 32.99 L53.24 34.04 L53.94 35.17 L54.41 36.27 L54.66 37.35 L54.76 38.39Z" fill="#00b8ff" stroke="none" stroke-width="1" /><path d="M54.24 39.4 L54.64 40.4 L55.11 41.55 L55.18 42.79 L54.46 43.88 L53.02 44.61 L51.35 45.05 L49.81 45.43 L48.33 45.82 L46.78 46.03 L45.2 45.9 L43.75 45.49 L42.43 45.09 L41 44.9 L39.3 44.82 L37.53 44.51 L36.15 43.78 L35.39 42.73 L35.06 41.6 L34.96 40.48 L35.1 39.4 L35.52 38.38 L36.18 37.45 L36.81 36.55 L37.28 35.56 L37.83 34.49 L38.88 33.6 L40.45 33.18 L42.18 33.2 L43.75 33.29 L45.2 33.14 L46.78 32.75 L48.58 32.47 L50.36 32.65 L51.78 33.37 L52.72 34.39 L53.33 35.46 L53.75 36.5 L53.98 37.5 L54.08 38.46Z" fill="#22f05a" stroke="none" stroke-width="1" /><path d="M53.57 39.4 L53.98 40.33 L54.47 41.41 L54.58 42.59 L53.89 43.61 L52.51 44.27 L50.93 44.65 L49.49 45.01 L48.12 45.39 L46.68 45.61 L45.2 45.46 L43.86 45.05 L42.65 44.64 L41.33 44.46 L39.73 44.42 L38.04 44.17 L36.73 43.5 L35.99 42.53 L35.68 41.46 L35.59 40.41 L35.73 39.4 L36.17 38.45 L36.84 37.59 L37.47 36.77 L37.89 35.86 L38.35 34.84 L39.3 33.98 L40.77 33.6 L42.39 33.64 L43.85 33.73 L45.2 33.57 L46.68 33.17 L48.38 32.88 L50.05 33.05 L51.36 33.75 L52.2 34.73 L52.73 35.75 L53.1 36.72 L53.32 37.64 L53.41 38.53Z" fill="#f2f200" stroke="none" stroke-width="1" /><path d="M52.91 39.4 L53.33 40.26 L53.84 41.27 L53.96 42.38 L53.32 43.33 L52 43.93 L50.5 44.26 L49.16 44.59 L47.91 44.97 L46.57 45.18 L45.2 45.03 L43.96 44.61 L42.86 44.2 L41.66 44.03 L40.16 44.02 L38.56 43.83 L37.3 43.23 L36.61 42.32 L36.32 41.32 L36.23 40.35 L36.38 39.4 L36.82 38.51 L37.49 37.73 L38.11 36.99 L38.48 36.15 L38.88 35.18 L39.72 34.37 L41.08 34.01 L42.6 34.07 L43.96 34.17 L45.2 34.01 L46.58 33.6 L48.17 33.3 L49.74 33.46 L50.94 34.13 L51.68 35.08 L52.14 36.04 L52.47 36.93 L52.66 37.78 L52.74 38.6Z" fill="#ff0c00" stroke="none" stroke-width="1" /><ellipse cx="36.5" cy="48.5" rx="1.4" ry="1.4" fill="#7812ff" stroke="none" stroke-width="1" /><ellipse cx="40.3" cy="65.2" rx="1.3" ry="1.1" fill="#7812ff" stroke="none" stroke-width="1" /><ellipse cx="47.6" cy="69.4" rx="1.1" ry="1.1" fill="#7812ff" stroke="none" stroke-width="1" /><ellipse cx="56" cy="62.5" rx="0.7" ry="0.7" fill="#7812ff" stroke="none" stroke-width="1" /></g></svg></g><g transform="translate(402.7 385.9)"><svg x="0" y="0" width="66.4" height="75.4" overflow="hidden"><use href="#cbg"/><use href="#mside" transform="translate(16.5 0)"/><use href="#mside" transform="translate(50 0)"/><g filter="url(#bb)"><ellipse cx="25" cy="39.5" rx="2.3" ry="8.5" fill="#7812ff" stroke="none" stroke-width="1" /><path d="M20.55 34.33 L20.6 35.45 L20.91 36.5 L21.37 37.66 L21.58 38.97 L21.19 40.29 L20.2 41.43 L18.93 42.33 L17.62 43.09 L16.31 43.78 L14.96 44.34 L13.56 44.72 L12.14 44.89 L10.73 44.93 L9.33 44.87 L7.97 44.61 L6.79 44.06 L5.83 43.27 L5 42.41 L4.13 41.56 L3.26 40.63 L2.62 39.51 L2.56 38.22 L3.09 36.93 L3.9 35.75 L4.65 34.66 L5.34 33.56 L6.17 32.49 L7.27 31.6 L8.56 30.95 L9.9 30.43 L11.25 29.91 L12.67 29.43 L14.18 29.19 L15.65 29.29 L17.02 29.67 L18.27 30.23 L19.37 30.96 L20.16 31.94 L20.52 33.12Z" fill="#7812ff" stroke="none" stroke-width="1" /><path d="M19.45 34.66 L19.46 35.66 L19.75 36.59 L20.24 37.62 L20.5 38.81 L20.17 40.02 L19.27 41.04 L18.09 41.84 L16.89 42.51 L15.72 43.13 L14.51 43.64 L13.24 43.97 L11.96 44.1 L10.71 44.12 L9.45 44.07 L8.24 43.85 L7.18 43.35 L6.33 42.64 L5.58 41.88 L4.76 41.13 L3.91 40.32 L3.3 39.31 L3.26 38.14 L3.81 36.97 L4.61 35.92 L5.31 34.95 L5.91 33.97 L6.62 33 L7.59 32.18 L8.76 31.6 L9.96 31.14 L11.16 30.66 L12.45 30.21 L13.8 29.98 L15.14 30.07 L16.37 30.42 L17.49 30.92 L18.49 31.58 L19.2 32.46 L19.49 33.55Z" fill="#1626ff" stroke="none" stroke-width="1" /><path d="M18.68 34.87 L18.65 35.8 L18.93 36.65 L19.45 37.6 L19.77 38.71 L19.49 39.85 L18.62 40.81 L17.49 41.54 L16.37 42.15 L15.28 42.73 L14.15 43.21 L12.97 43.5 L11.78 43.6 L10.62 43.61 L9.46 43.57 L8.33 43.37 L7.34 42.91 L6.57 42.24 L5.87 41.54 L5.07 40.87 L4.23 40.13 L3.62 39.19 L3.6 38.09 L4.18 36.99 L4.99 36.03 L5.67 35.14 L6.2 34.23 L6.83 33.31 L7.72 32.55 L8.8 32.01 L9.92 31.58 L11.04 31.12 L12.23 30.69 L13.5 30.46 L14.74 30.54 L15.89 30.88 L16.94 31.35 L17.88 31.96 L18.53 32.78 L18.77 33.81Z" fill="#00b8ff" stroke="none" stroke-width="1" /><path d="M17.91 35.07 L17.85 35.93 L18.13 36.71 L18.67 37.57 L19.02 38.61 L18.79 39.68 L17.97 40.57 L16.9 41.23 L15.85 41.79 L14.84 42.33 L13.79 42.77 L12.69 43.04 L11.6 43.11 L10.53 43.11 L9.46 43.07 L8.41 42.89 L7.51 42.47 L6.8 41.85 L6.15 41.2 L5.38 40.61 L4.55 39.94 L3.95 39.07 L3.95 38.04 L4.55 37.01 L5.36 36.13 L6.01 35.33 L6.48 34.48 L7.04 33.63 L7.85 32.91 L8.85 32.41 L9.88 32.02 L10.91 31.59 L12.01 31.17 L13.19 30.94 L14.35 31.02 L15.41 31.34 L16.38 31.78 L17.26 32.34 L17.87 33.11 L18.05 34.08Z" fill="#22f05a" stroke="none" stroke-width="1" /><path d="M17.16 35.28 L17.07 36.06 L17.34 36.76 L17.89 37.55 L18.27 38.51 L18.08 39.51 L17.31 40.32 L16.3 40.92 L15.32 41.43 L14.4 41.93 L13.43 42.34 L12.42 42.57 L11.41 42.62 L10.44 42.61 L9.46 42.57 L8.5 42.42 L7.67 42.03 L7.03 41.46 L6.43 40.87 L5.7 40.34 L4.89 39.74 L4.3 38.95 L4.31 37.98 L4.92 37.03 L5.72 36.23 L6.34 35.51 L6.76 34.73 L7.24 33.94 L7.98 33.27 L8.89 32.82 L9.84 32.46 L10.78 32.06 L11.8 31.65 L12.89 31.43 L13.95 31.51 L14.92 31.81 L15.83 32.21 L16.64 32.72 L17.19 33.44 L17.33 34.35Z" fill="#f2f200" stroke="none" stroke-width="1" /><path d="M16.42 35.47 L16.3 36.19 L16.56 36.82 L17.12 37.53 L17.52 38.41 L17.36 39.33 L16.64 40.08 L15.7 40.62 L14.8 41.07 L13.95 41.52 L13.07 41.9 L12.15 42.11 L11.23 42.14 L10.35 42.11 L9.46 42.08 L8.59 41.95 L7.84 41.59 L7.26 41.07 L6.71 40.54 L6.01 40.08 L5.23 39.55 L4.67 38.82 L4.69 37.93 L5.29 37.06 L6.08 36.33 L6.66 35.68 L7.02 34.98 L7.44 34.25 L8.1 33.64 L8.94 33.22 L9.8 32.9 L10.66 32.52 L11.58 32.14 L12.58 31.93 L13.55 32 L14.44 32.28 L15.26 32.65 L16.01 33.11 L16.52 33.76 L16.62 34.61Z" fill="#ff0c00" stroke="none" stroke-width="1" /><path d="M55.83 36.23 L56.03 37.51 L55.89 38.82 L55.62 40.11 L55.35 41.39 L54.96 42.7 L54.16 43.92 L52.92 44.85 L51.47 45.48 L50.1 46.01 L48.84 46.69 L47.54 47.54 L46.03 48.26 L44.4 48.56 L42.84 48.36 L41.45 47.8 L40.26 47.04 L39.29 46.12 L38.61 45.04 L38.18 43.9 L37.79 42.8 L37.26 41.73 L36.73 40.57 L36.53 39.28 L36.87 37.94 L37.66 36.71 L38.61 35.58 L39.55 34.45 L40.62 33.35 L41.95 32.48 L43.51 32.03 L45.07 31.93 L46.54 31.99 L47.95 32 L49.39 31.97 L50.85 32.1 L52.2 32.52 L53.38 33.21 L54.41 34.06 L55.27 35.07Z" fill="#7812ff" stroke="none" stroke-width="1" /><path d="M54.63 36.7 L54.79 37.87 L54.61 39.07 L54.33 40.22 L54.1 41.38 L53.77 42.57 L53.06 43.68 L51.91 44.51 L50.58 45.04 L49.33 45.5 L48.22 46.13 L47.06 46.95 L45.7 47.66 L44.21 47.95 L42.78 47.75 L41.53 47.22 L40.47 46.51 L39.61 45.66 L39.02 44.67 L38.66 43.62 L38.32 42.63 L37.82 41.68 L37.29 40.65 L37.07 39.47 L37.39 38.27 L38.13 37.16 L39 36.14 L39.83 35.11 L40.77 34.08 L41.97 33.27 L43.4 32.88 L44.83 32.85 L46.16 32.95 L47.41 32.98 L48.71 32.94 L50.03 33.03 L51.27 33.39 L52.35 33.99 L53.3 34.75 L54.11 35.64Z" fill="#1626ff" stroke="none" stroke-width="1" /><path d="M53.6 37.1 L53.72 38.19 L53.52 39.3 L53.23 40.35 L53.02 41.41 L52.74 42.5 L52.11 43.52 L51.04 44.27 L49.79 44.73 L48.65 45.12 L47.65 45.71 L46.6 46.51 L45.35 47.21 L43.98 47.5 L42.67 47.3 L41.53 46.79 L40.56 46.12 L39.79 45.32 L39.28 44.4 L38.97 43.43 L38.68 42.53 L38.2 41.68 L37.67 40.74 L37.44 39.67 L37.73 38.56 L38.44 37.55 L39.24 36.62 L39.98 35.66 L40.81 34.69 L41.91 33.93 L43.24 33.58 L44.57 33.61 L45.78 33.76 L46.91 33.8 L48.09 33.75 L49.3 33.8 L50.44 34.11 L51.45 34.64 L52.34 35.32 L53.11 36.13Z" fill="#00b8ff" stroke="none" stroke-width="1" /><path d="M52.55 37.51 L52.65 38.51 L52.42 39.52 L52.13 40.48 L51.95 41.43 L51.72 42.43 L51.15 43.36 L50.16 44.03 L49.01 44.41 L47.97 44.75 L47.08 45.3 L46.15 46.07 L45.01 46.76 L43.75 47.03 L42.56 46.84 L41.53 46.35 L40.66 45.72 L39.97 44.98 L39.53 44.13 L39.28 43.25 L39.02 42.44 L38.57 41.68 L38.05 40.83 L37.81 39.86 L38.08 38.85 L38.74 37.94 L39.48 37.1 L40.14 36.22 L40.87 35.31 L41.86 34.6 L43.08 34.3 L44.3 34.37 L45.4 34.55 L46.41 34.61 L47.47 34.55 L48.58 34.57 L49.62 34.83 L50.55 35.3 L51.38 35.9 L52.1 36.62Z" fill="#22f05a" stroke="none" stroke-width="1" /><path d="M51.5 37.92 L51.56 38.83 L51.33 39.75 L51.04 40.61 L50.88 41.46 L50.69 42.36 L50.19 43.2 L49.29 43.79 L48.23 44.11 L47.3 44.39 L46.52 44.9 L45.7 45.63 L44.67 46.29 L43.53 46.55 L42.45 46.37 L41.53 45.9 L40.76 45.32 L40.16 44.65 L39.77 43.87 L39.57 43.07 L39.35 42.35 L38.93 41.67 L38.42 40.93 L38.18 40.05 L38.43 39.14 L39.05 38.33 L39.72 37.58 L40.29 36.78 L40.92 35.94 L41.82 35.28 L42.93 35.03 L44.04 35.13 L45.02 35.33 L45.92 35.4 L46.86 35.33 L47.86 35.33 L48.81 35.54 L49.65 35.96 L50.41 36.48 L51.08 37.13Z" fill="#f2f200" stroke="none" stroke-width="1" /><path d="M50.43 38.34 L50.47 39.16 L50.23 39.98 L49.95 40.74 L49.81 41.49 L49.67 42.29 L49.23 43.04 L48.42 43.55 L47.46 43.81 L46.63 44.05 L45.96 44.5 L45.24 45.19 L44.33 45.81 L43.31 46.06 L42.35 45.88 L41.54 45.45 L40.86 44.92 L40.34 44.31 L40.01 43.62 L39.86 42.9 L39.67 42.26 L39.28 41.67 L38.8 41.02 L38.56 40.24 L38.78 39.44 L39.35 38.72 L39.95 38.06 L40.45 37.34 L40.99 36.57 L41.78 35.97 L42.77 35.76 L43.77 35.88 L44.64 36.11 L45.43 36.18 L46.26 36.11 L47.14 36.09 L47.99 36.26 L48.74 36.61 L49.44 37.07 L50.05 37.63Z" fill="#ff0c00" stroke="none" stroke-width="1" /><ellipse cx="44.5" cy="68" rx="1.3" ry="1" fill="#7812ff" stroke="none" stroke-width="1" /><ellipse cx="35.7" cy="27.1" rx="1.3" ry="1" fill="#7812ff" stroke="none" stroke-width="1" /><ellipse cx="53" cy="71.5" rx="0.7" ry="0.7" fill="#7812ff" stroke="none" stroke-width="1" /></g></svg></g><text x="87" y="216.9" font-size="11.5" text-anchor="middle" fill="#111" >Top view</text><text x="153.9" y="216.9" font-size="11.5" text-anchor="middle" fill="#111" >Side view</text><text x="226.2" y="216.9" font-size="11.5" text-anchor="middle" fill="#111" >Top view</text><text x="293.2" y="216.9" font-size="11.5" text-anchor="middle" fill="#111" >Side view</text><text x="366.4" y="216.9" font-size="11.5" text-anchor="middle" fill="#111" >Top view</text><text x="433.3" y="216.9" font-size="11.5" text-anchor="middle" fill="#111" >Side view</text><text x="0" y="0" font-size="11.9" text-anchor="middle" fill="#111" transform="translate(51.1 261.8) rotate(-90)" >10Lipo</text><text x="0" y="0" font-size="11.9" text-anchor="middle" fill="#111" transform="translate(51.1 342.6) rotate(-90)" >20Lipo</text><text x="0" y="0" font-size="11.9" text-anchor="middle" fill="#111" transform="translate(51.1 423.4) rotate(-90)" >30Lipo</text><text x="128.9" y="476.2" font-size="11.45" text-anchor="middle" fill="#111" >L0315-10/20/30Lipo</text><text x="263.2" y="476.2" font-size="11.45" text-anchor="middle" fill="#111" >L221-10/20/30Lipo</text><text x="399.4" y="476.2" font-size="11.45" text-anchor="middle" fill="#111" >L242-10/20/30Lipo</text><rect x="473.6" y="250" width="5.3" height="183.8" fill="url(#rb)" stroke="none" stroke-width="1" rx="0" /><line x1="477.4" y1="268.38" x2="478.9" y2="268.38" stroke="#ffffff" stroke-width="0.5" opacity="0.7"/><line x1="477.4" y1="286.76" x2="478.9" y2="286.76" stroke="#ffffff" stroke-width="0.5" opacity="0.7"/><line x1="477.4" y1="305.14" x2="478.9" y2="305.14" stroke="#ffffff" stroke-width="0.5" opacity="0.7"/><line x1="477.4" y1="323.52" x2="478.9" y2="323.52" stroke="#ffffff" stroke-width="0.5" opacity="0.7"/><line x1="477.4" y1="341.9" x2="478.9" y2="341.9" stroke="#ffffff" stroke-width="0.5" opacity="0.7"/><line x1="477.4" y1="360.28" x2="478.9" y2="360.28" stroke="#ffffff" stroke-width="0.5" opacity="0.7"/><line x1="477.4" y1="378.66" x2="478.9" y2="378.66" stroke="#ffffff" stroke-width="0.5" opacity="0.7"/><line x1="477.4" y1="397.04" x2="478.9" y2="397.04" stroke="#ffffff" stroke-width="0.5" opacity="0.7"/><line x1="477.4" y1="415.42" x2="478.9" y2="415.42" stroke="#ffffff" stroke-width="0.5" opacity="0.7"/><line x1="478.9" y1="250.3" x2="481.5" y2="250.3" stroke="#333" stroke-width="0.7" /><line x1="478.9" y1="433.5" x2="481.5" y2="433.5" stroke="#333" stroke-width="0.7" /><text x="471.9" y="240.6" font-size="9.5" text-anchor="start" fill="#111" >Luminescence</text><text x="483" y="253.3" font-size="9.5" text-anchor="start" fill="#111" >1 ×10<tspan dy="-3.42" font-size="5.7">8</tspan></text><text x="483" y="432.3" font-size="9.5" text-anchor="start" fill="#111" >2.1 ×10<tspan dy="-3.42" font-size="5.7">6</tspan></text><text x="471.9" y="446.7" font-size="9.5" text-anchor="start" fill="#111" >Radiance</text><text x="471.9" y="458" font-size="9.5" text-anchor="start" fill="#111" >(p/sec/cm<tspan dy="-3.2" font-size="5.8">2</tspan><tspan dy="3.2">/sr)</tspan></text><text x="0" y="0" font-size="11.25" text-anchor="middle" fill="#111" transform="translate(529.9 347.6) rotate(-90)" >Luciferase intensity in spleen</text><text x="0" y="0" font-size="11.25" text-anchor="middle" fill="#111" transform="translate(543.5 347.6) rotate(-90)" >radiance (× 10<tspan dy="-4" font-size="6.8">7</tspan><tspan dy="4"> p/sec/cm</tspan><tspan dy="-4" font-size="6.8">2</tspan><tspan dy="4">/sr)</tspan></text><rect x="569.7" y="418.14" width="11.8" height="2.96" fill="#fff" stroke="#111" stroke-width="1" rx="0" /><rect x="588" y="402.76" width="11.8" height="18.34" fill="#fff" stroke="#111" stroke-width="1" rx="0" /><rect x="606.3" y="412.99" width="11.8" height="8.11" fill="#fff" stroke="#111" stroke-width="1" rx="0" /><rect x="630.7" y="406.28" width="11.8" height="14.82" fill="#d6d6d6" stroke="#111" stroke-width="1" rx="0" /><rect x="648.8" y="343.5" width="11.8" height="77.61" fill="#d6d6d6" stroke="#111" stroke-width="1" rx="0" /><rect x="666.9" y="363.25" width="11.8" height="57.85" fill="#d6d6d6" stroke="#111" stroke-width="1" rx="0" /><rect x="691.3" y="392.88" width="11.8" height="28.22" fill="#7f7f7f" stroke="#111" stroke-width="1" rx="0" /><rect x="709.5" y="335.38" width="11.8" height="85.72" fill="#7f7f7f" stroke="#111" stroke-width="1" rx="0" /><rect x="727.6" y="353.37" width="11.8" height="67.73" fill="#7f7f7f" stroke="#111" stroke-width="1" rx="0" /><line x1="575.6" y1="419.34" x2="575.6" y2="416.87" stroke="#111" stroke-width="0.9" /><line x1="573" y1="419.34" x2="578.2" y2="419.34" stroke="#111" stroke-width="0.9" /><line x1="573" y1="416.87" x2="578.2" y2="416.87" stroke="#111" stroke-width="0.9" /><line x1="593.9" y1="406.99" x2="593.9" y2="397.82" stroke="#111" stroke-width="0.9" /><line x1="591.3" y1="406.99" x2="596.5" y2="406.99" stroke="#111" stroke-width="0.9" /><line x1="591.3" y1="397.82" x2="596.5" y2="397.82" stroke="#111" stroke-width="0.9" /><line x1="612.2" y1="415.46" x2="612.2" y2="409.81" stroke="#111" stroke-width="0.9" /><line x1="609.6" y1="415.46" x2="614.8" y2="415.46" stroke="#111" stroke-width="0.9" /><line x1="609.6" y1="409.81" x2="614.8" y2="409.81" stroke="#111" stroke-width="0.9" /><line x1="636.6" y1="414.75" x2="636.6" y2="397.11" stroke="#111" stroke-width="0.9" /><line x1="634" y1="414.75" x2="639.2" y2="414.75" stroke="#111" stroke-width="0.9" /><line x1="634" y1="397.11" x2="639.2" y2="397.11" stroke="#111" stroke-width="0.9" /><line x1="654.7" y1="347.73" x2="654.7" y2="336.44" stroke="#111" stroke-width="0.9" /><line x1="652.1" y1="347.73" x2="657.3" y2="347.73" stroke="#111" stroke-width="0.9" /><line x1="652.1" y1="336.44" x2="657.3" y2="336.44" stroke="#111" stroke-width="0.9" /><line x1="672.8" y1="372.42" x2="672.8" y2="353.37" stroke="#111" stroke-width="0.9" /><line x1="670.2" y1="372.42" x2="675.4" y2="372.42" stroke="#111" stroke-width="0.9" /><line x1="670.2" y1="353.37" x2="675.4" y2="353.37" stroke="#111" stroke-width="0.9" /><line x1="697.2" y1="405.58" x2="697.2" y2="377.36" stroke="#111" stroke-width="0.9" /><line x1="694.6" y1="405.58" x2="699.8" y2="405.58" stroke="#111" stroke-width="0.9" /><line x1="694.6" y1="377.36" x2="699.8" y2="377.36" stroke="#111" stroke-width="0.9" /><line x1="715.4" y1="348.43" x2="715.4" y2="320.21" stroke="#111" stroke-width="0.9" /><line x1="712.8" y1="348.43" x2="718" y2="348.43" stroke="#111" stroke-width="0.9" /><line x1="712.8" y1="320.21" x2="718" y2="320.21" stroke="#111" stroke-width="0.9" /><line x1="733.5" y1="358.31" x2="733.5" y2="347.73" stroke="#111" stroke-width="0.9" /><line x1="730.9" y1="358.31" x2="736.1" y2="358.31" stroke="#111" stroke-width="0.9" /><line x1="730.9" y1="347.73" x2="736.1" y2="347.73" stroke="#111" stroke-width="0.9" /><circle cx="572.8" cy="418.84" r="2.7" fill="#000" stroke="#000" stroke-width="0.3" /><circle cx="576.2" cy="417.22" r="2.7" fill="#000" stroke="#000" stroke-width="0.3" /><circle cx="578.6" cy="418.42" r="2.7" fill="#000" stroke="#000" stroke-width="0.3" /><rect x="591.2" y="395.12" width="5.4" height="5.4" fill="#000" stroke="#000" stroke-width="0.3" rx="0" /><rect x="587.8" y="401.12" width="5.4" height="5.4" fill="#000" stroke="#000" stroke-width="0.3" rx="0" /><rect x="594.6" y="400.76" width="5.4" height="5.4" fill="#000" stroke="#000" stroke-width="0.3" rx="0" /><polygon points="612.2,406.35 615.17,411.75 609.23,411.75" fill="#000" stroke="#000" stroke-width="0.3" /><polygon points="608.8,410.94 611.77,416.34 605.83,416.34" fill="#000" stroke="#000" stroke-width="0.3" /><polygon points="615.4,410.59 618.37,415.99 612.43,415.99" fill="#000" stroke="#000" stroke-width="0.3" /><polygon points="636.6,399.87 639.57,394.47 633.63,394.47" fill="#000" stroke="#000" stroke-width="0.3" /><polygon points="636.6,408.33 639.57,402.93 633.63,402.93" fill="#000" stroke="#000" stroke-width="0.3" /><polygon points="636.6,418.21 639.57,412.81 633.63,412.81" fill="#000" stroke="#000" stroke-width="0.3" /><polygon points="654.7,333.06 657.67,336.44 654.7,339.81 651.73,336.44" fill="#000" stroke="#000" stroke-width="0.3" /><polygon points="652.1,342.24 655.07,345.61 652.1,348.99 649.13,345.61" fill="#000" stroke="#000" stroke-width="0.3" /><polygon points="657.3,342.24 660.27,345.61 657.3,348.99 654.33,345.61" fill="#000" stroke="#000" stroke-width="0.3" /><circle cx="672.8" cy="353.02" r="2.5" fill="none" stroke="#000" stroke-width="0.9" /><circle cx="672.8" cy="366.42" r="2.5" fill="none" stroke="#000" stroke-width="0.9" /><circle cx="672.8" cy="371.01" r="2.5" fill="none" stroke="#000" stroke-width="0.9" /><rect x="694.7" y="374.51" width="5" height="5" fill="none" stroke="#000" stroke-width="0.9" rx="0" /><rect x="694.7" y="394.26" width="5" height="5" fill="none" stroke="#000" stroke-width="0.9" rx="0" /><rect x="694.7" y="401.67" width="5" height="5" fill="none" stroke="#000" stroke-width="0.9" rx="0" /><polygon points="715.4,317.34 718.15,322.34 712.65,322.34" fill="none" stroke="#000" stroke-width="0.9" /><polygon points="712.4,340.62 715.15,345.62 709.65,345.62" fill="none" stroke="#000" stroke-width="0.9" /><polygon points="718.2,340.62 720.95,345.62 715.45,345.62" fill="none" stroke="#000" stroke-width="0.9" /><polygon points="733.5,352.01 736.25,347.01 730.75,347.01" fill="none" stroke="#000" stroke-width="0.9" /><polygon points="731.1,358.36 733.85,353.36 728.35,353.36" fill="none" stroke="#000" stroke-width="0.9" /><polygon points="735.9,358.36 738.65,353.36 733.15,353.36" fill="none" stroke="#000" stroke-width="0.9" /><line x1="563.6" y1="279.5" x2="563.6" y2="421.6" stroke="#111" stroke-width="1" /><line x1="563.1" y1="421.1" x2="756.5" y2="421.1" stroke="#111" stroke-width="1" /><line x1="560" y1="421.1" x2="563.6" y2="421.1" stroke="#111" stroke-width="1" /><text x="560.4" y="425" font-size="11.1" text-anchor="end" fill="#111" >0</text><line x1="560" y1="385.83" x2="563.6" y2="385.83" stroke="#111" stroke-width="1" /><text x="560.4" y="389.73" font-size="11.1" text-anchor="end" fill="#111" >5</text><line x1="560" y1="350.55" x2="563.6" y2="350.55" stroke="#111" stroke-width="1" /><text x="560.4" y="354.45" font-size="11.1" text-anchor="end" fill="#111" >10</text><line x1="560" y1="315.27" x2="563.6" y2="315.27" stroke="#111" stroke-width="1" /><text x="560.4" y="319.17" font-size="11.1" text-anchor="end" fill="#111" >15</text><line x1="560" y1="280" x2="563.6" y2="280" stroke="#111" stroke-width="1" /><text x="560.4" y="283.9" font-size="11.1" text-anchor="end" fill="#111" >20</text><line x1="575.6" y1="421.1" x2="575.6" y2="424.9" stroke="#111" stroke-width="1" /><line x1="593.9" y1="421.1" x2="593.9" y2="424.9" stroke="#111" stroke-width="1" /><line x1="612.2" y1="421.1" x2="612.2" y2="424.9" stroke="#111" stroke-width="1" /><line x1="636.6" y1="421.1" x2="636.6" y2="424.9" stroke="#111" stroke-width="1" /><line x1="654.7" y1="421.1" x2="654.7" y2="424.9" stroke="#111" stroke-width="1" /><line x1="672.8" y1="421.1" x2="672.8" y2="424.9" stroke="#111" stroke-width="1" /><line x1="697.2" y1="421.1" x2="697.2" y2="424.9" stroke="#111" stroke-width="1" /><line x1="715.4" y1="421.1" x2="715.4" y2="424.9" stroke="#111" stroke-width="1" /><line x1="733.5" y1="421.1" x2="733.5" y2="424.9" stroke="#111" stroke-width="1" /><text x="0" y="0" font-size="11.2" text-anchor="end" fill="#111" transform="translate(580.5 430.8) rotate(-45)" >L0315-10Lipo</text><text x="0" y="0" font-size="11.2" text-anchor="end" fill="#111" transform="translate(598.8 430.8) rotate(-45)" >L0315-20Lipo</text><text x="0" y="0" font-size="11.2" text-anchor="end" fill="#111" transform="translate(617.1 430.8) rotate(-45)" >L0315-30Lipo</text><text x="0" y="0" font-size="11.2" text-anchor="end" fill="#111" transform="translate(641.5 430.8) rotate(-45)" >L221-10Lipo</text><text x="0" y="0" font-size="11.2" text-anchor="end" fill="#111" transform="translate(659.6 430.8) rotate(-45)" >L221-20Lipo</text><text x="0" y="0" font-size="11.2" text-anchor="end" fill="#111" transform="translate(677.7 430.8) rotate(-45)" >L221-30Lipo</text><text x="0" y="0" font-size="11.2" text-anchor="end" fill="#111" transform="translate(702.1 430.8) rotate(-45)" >L242-10Lipo</text><text x="0" y="0" font-size="11.2" text-anchor="end" fill="#111" transform="translate(720.3 430.8) rotate(-45)" >L242-20Lipo</text><text x="0" y="0" font-size="11.2" text-anchor="end" fill="#111" transform="translate(738.4 430.8) rotate(-45)" >L242-30Lipo</text><path d="M593.9 262.3 L593.9 259.7 L715.5 259.7 L715.5 262.3" fill="none" stroke="#222" stroke-width="0.9" /><text x="658" y="258.6" font-size="10" text-anchor="middle" fill="#111" >**</text><path d="M655.2 283.9 L655.2 279.5 L715.5 279.5 L715.5 283.9" fill="none" stroke="#222" stroke-width="0.9" /><text x="685.3" y="276.5" font-size="11.2" text-anchor="middle" fill="#111" >ns</text><path d="M697.2 302.4 L697.2 299.8 L715.5 299.8 L715.5 302.4" fill="none" stroke="#222" stroke-width="0.9" /><text x="706.6" y="298.6" font-size="10" text-anchor="middle" fill="#111" >**</text><path d="M714.8 313.5 L714.8 310.9 L732.6 310.9 L732.6 313.5" fill="none" stroke="#222" stroke-width="0.9" /><text x="723.7" y="308.3" font-size="11.2" text-anchor="middle" fill="#111" >ns</text></g>
<g id="panel_d"><text x="0" y="0" font-size="24" text-anchor="start" fill="#111" transform="translate(757 211.4) scale(0.87 1)" >D</text><text x="782.4" y="220" font-size="11.5" text-anchor="start" fill="#111" >Liver</text><text x="817.7" y="220" font-size="11.5" text-anchor="start" fill="#111" >Spleen</text><text x="0" y="0" font-size="11.5" text-anchor="middle" fill="#111" transform="translate(773.8 263) rotate(-90)" >L0315-20Lipo</text><text x="0" y="0" font-size="11.5" text-anchor="middle" fill="#111" transform="translate(773.8 342.8) rotate(-90)" >L221-20Lipo</text><text x="0" y="0" font-size="11.5" text-anchor="middle" fill="#111" transform="translate(773.8 424.8) rotate(-90)" >L242-20Lipo</text><svg x="780.2" y="225.6" width="75.5" height="75.2" viewBox="0 0 75.5 75.2" overflow="hidden"><rect x="0" y="0" width="75.5" height="75.2" fill="url(#dbg1)" stroke="none" stroke-width="1" rx="0" /><rect x="0" y="0" width="75.5" height="75.2" fill="#888" stroke="none" stroke-width="1" rx="0" filter="url(#dn)" opacity="0.5"/><g filter="url(#db)"><path d="M17.8 43.4 C19.87 41.88 25.62 40.38 30 40 C34.38 39.62 41.57 39.58 44.1 41.1 C46.63 42.62 46.53 46.92 45.2 49.1 C43.87 51.28 39.07 53.52 36.1 54.2 C33.13 54.88 29.12 52.33 27.4 53.2 C25.68 54.07 26.6 57.95 25.8 59.4 C25 60.85 23.5 62.28 22.6 61.9 C21.7 61.52 20.52 58.85 20.4 57.1 C20.28 55.35 22.37 52.73 21.9 51.4 C21.43 50.07 18.28 50.43 17.6 49.1 C16.92 47.77 15.73 44.92 17.8 43.4Z" fill="#3c3c3c" stroke="none" stroke-width="1" /></g><clipPath id="hc1"><path d="M6.9 32 C7.03 28.57 8.58 23.48 10.6 21 C12.62 18.52 16.27 17.17 19 17.1 C21.73 17.03 25.07 19.28 27 20.6 C28.93 21.92 28.9 24.5 30.6 25 C32.3 25.5 35.13 23.07 37.2 23.6 C39.27 24.13 41.73 26.03 43 28.2 C44.27 30.37 45 34.03 44.8 36.6 C44.6 39.17 43.25 41.82 41.8 43.6 C40.35 45.38 38.15 47.23 36.1 47.3 C34.05 47.37 31.22 45.28 29.5 44 C27.78 42.72 27.02 39.63 25.8 39.6 C24.58 39.57 23.72 42.6 22.2 43.8 C20.68 45 18.77 47.17 16.7 46.8 C14.63 46.43 11.43 44.07 9.8 41.6 C8.17 39.13 6.77 35.43 6.9 32Z"/></clipPath><g filter="url(#db2)"><path d="M6.9 32 C7.03 28.57 8.58 23.48 10.6 21 C12.62 18.52 16.27 17.17 19 17.1 C21.73 17.03 25.07 19.28 27 20.6 C28.93 21.92 28.9 24.5 30.6 25 C32.3 25.5 35.13 23.07 37.2 23.6 C39.27 24.13 41.73 26.03 43 28.2 C44.27 30.37 45 34.03 44.8 36.6 C44.6 39.17 43.25 41.82 41.8 43.6 C40.35 45.38 38.15 47.23 36.1 47.3 C34.05 47.37 31.22 45.28 29.5 44 C27.78 42.72 27.02 39.63 25.8 39.6 C24.58 39.57 23.72 42.6 22.2 43.8 C20.68 45 18.77 47.17 16.7 46.8 C14.63 46.43 11.43 44.07 9.8 41.6 C8.17 39.13 6.77 35.43 6.9 32Z" fill="#d81400" stroke="#ffff30" stroke-width="0.5" /><g clip-path="url(#hc1)"><ellipse cx="15.5" cy="35.6" rx="3" ry="3.6" fill="#8c0000" stroke="none" stroke-width="1" filter="url(#db2)"/><ellipse cx="33.8" cy="39.8" rx="2.8" ry="3.4" fill="#5a0000" stroke="none" stroke-width="1" filter="url(#db2)"/><ellipse cx="17.8" cy="26.6" rx="2.4" ry="2" fill="#c00800" stroke="none" stroke-width="1" filter="url(#db2)"/><ellipse cx="37.2" cy="31" rx="2.2" ry="2.4" fill="#b80400" stroke="none" stroke-width="1" filter="url(#db2)"/><ellipse cx="26.5" cy="31.5" rx="3.2" ry="3" fill="#f64a00" stroke="none" stroke-width="1" filter="url(#db2)"/><ellipse cx="12.5" cy="30" rx="1.6" ry="2.2" fill="#b00000" stroke="none" stroke-width="1" filter="url(#db2)"/><path d="M6.9 32 C7.03 28.57 8.58 23.48 10.6 21 C12.62 18.52 16.27 17.17 19 17.1 C21.73 17.03 25.07 19.28 27 20.6 C28.93 21.92 28.9 24.5 30.6 25 C32.3 25.5 35.13 23.07 37.2 23.6 C39.27 24.13 41.73 26.03 43 28.2 C44.27 30.37 45 34.03 44.8 36.6 C44.6 39.17 43.25 41.82 41.8 43.6 C40.35 45.38 38.15 47.23 36.1 47.3 C34.05 47.37 31.22 45.28 29.5 44 C27.78 42.72 27.02 39.63 25.8 39.6 C24.58 39.57 23.72 42.6 22.2 43.8 C20.68 45 18.77 47.17 16.7 46.8 C14.63 46.43 11.43 44.07 9.8 41.6 C8.17 39.13 6.77 35.43 6.9 32Z" fill="none" stroke="#f02800" stroke-width="7.2" stroke-linejoin="round"/><path d="M6.9 32 C7.03 28.57 8.58 23.48 10.6 21 C12.62 18.52 16.27 17.17 19 17.1 C21.73 17.03 25.07 19.28 27 20.6 C28.93 21.92 28.9 24.5 30.6 25 C32.3 25.5 35.13 23.07 37.2 23.6 C39.27 24.13 41.73 26.03 43 28.2 C44.27 30.37 45 34.03 44.8 36.6 C44.6 39.17 43.25 41.82 41.8 43.6 C40.35 45.38 38.15 47.23 36.1 47.3 C34.05 47.37 31.22 45.28 29.5 44 C27.78 42.72 27.02 39.63 25.8 39.6 C24.58 39.57 23.72 42.6 22.2 43.8 C20.68 45 18.77 47.17 16.7 46.8 C14.63 46.43 11.43 44.07 9.8 41.6 C8.17 39.13 6.77 35.43 6.9 32Z" fill="none" stroke="#ff6400" stroke-width="5.6" stroke-linejoin="round"/><path d="M6.9 32 C7.03 28.57 8.58 23.48 10.6 21 C12.62 18.52 16.27 17.17 19 17.1 C21.73 17.03 25.07 19.28 27 20.6 C28.93 21.92 28.9 24.5 30.6 25 C32.3 25.5 35.13 23.07 37.2 23.6 C39.27 24.13 41.73 26.03 43 28.2 C44.27 30.37 45 34.03 44.8 36.6 C44.6 39.17 43.25 41.82 41.8 43.6 C40.35 45.38 38.15 47.23 36.1 47.3 C34.05 47.37 31.22 45.28 29.5 44 C27.78 42.72 27.02 39.63 25.8 39.6 C24.58 39.57 23.72 42.6 22.2 43.8 C20.68 45 18.77 47.17 16.7 46.8 C14.63 46.43 11.43 44.07 9.8 41.6 C8.17 39.13 6.77 35.43 6.9 32Z" fill="none" stroke="#ffa000" stroke-width="4" stroke-linejoin="round"/><path d="M6.9 32 C7.03 28.57 8.58 23.48 10.6 21 C12.62 18.52 16.27 17.17 19 17.1 C21.73 17.03 25.07 19.28 27 20.6 C28.93 21.92 28.9 24.5 30.6 25 C32.3 25.5 35.13 23.07 37.2 23.6 C39.27 24.13 41.73 26.03 43 28.2 C44.27 30.37 45 34.03 44.8 36.6 C44.6 39.17 43.25 41.82 41.8 43.6 C40.35 45.38 38.15 47.23 36.1 47.3 C34.05 47.37 31.22 45.28 29.5 44 C27.78 42.72 27.02 39.63 25.8 39.6 C24.58 39.57 23.72 42.6 22.2 43.8 C20.68 45 18.77 47.17 16.7 46.8 C14.63 46.43 11.43 44.07 9.8 41.6 C8.17 39.13 6.77 35.43 6.9 32Z" fill="none" stroke="#ffee10" stroke-width="2.5" stroke-linejoin="round"/></g></g><clipPath id="hc2"><path d="M68.3 29.4 C69.1 29.53 70.28 30.05 70.4 31.4 C70.52 32.75 69.98 34.98 69 37.5 C68.02 40.02 66.17 43.82 64.5 46.5 C62.83 49.18 60.52 52.32 59 53.6 C57.48 54.88 56.07 54.7 55.4 54.2 C54.73 53.7 54.43 52.47 55 50.6 C55.57 48.73 57.47 45.6 58.8 43 C60.13 40.4 61.87 37.07 63 35 C64.13 32.93 64.72 31.53 65.6 30.6 C66.48 29.67 67.5 29.27 68.3 29.4Z"/></clipPath><g filter="url(#db2)"><path d="M68.3 29.4 C69.1 29.53 70.28 30.05 70.4 31.4 C70.52 32.75 69.98 34.98 69 37.5 C68.02 40.02 66.17 43.82 64.5 46.5 C62.83 49.18 60.52 52.32 59 53.6 C57.48 54.88 56.07 54.7 55.4 54.2 C54.73 53.7 54.43 52.47 55 50.6 C55.57 48.73 57.47 45.6 58.8 43 C60.13 40.4 61.87 37.07 63 35 C64.13 32.93 64.72 31.53 65.6 30.6 C66.48 29.67 67.5 29.27 68.3 29.4Z" fill="#ffa200" stroke="#ffff30" stroke-width="0.5" /><g clip-path="url(#hc2)"><path d="M68.3 29.4 C69.1 29.53 70.28 30.05 70.4 31.4 C70.52 32.75 69.98 34.98 69 37.5 C68.02 40.02 66.17 43.82 64.5 46.5 C62.83 49.18 60.52 52.32 59 53.6 C57.48 54.88 56.07 54.7 55.4 54.2 C54.73 53.7 54.43 52.47 55 50.6 C55.57 48.73 57.47 45.6 58.8 43 C60.13 40.4 61.87 37.07 63 35 C64.13 32.93 64.72 31.53 65.6 30.6 C66.48 29.67 67.5 29.27 68.3 29.4Z" fill="none" stroke="#ffb400" stroke-width="4.2" stroke-linejoin="round"/><path d="M68.3 29.4 C69.1 29.53 70.28 30.05 70.4 31.4 C70.52 32.75 69.98 34.98 69 37.5 C68.02 40.02 66.17 43.82 64.5 46.5 C62.83 49.18 60.52 52.32 59 53.6 C57.48 54.88 56.07 54.7 55.4 54.2 C54.73 53.7 54.43 52.47 55 50.6 C55.57 48.73 57.47 45.6 58.8 43 C60.13 40.4 61.87 37.07 63 35 C64.13 32.93 64.72 31.53 65.6 30.6 C66.48 29.67 67.5 29.27 68.3 29.4Z" fill="none" stroke="#fff010" stroke-width="2.4" stroke-linejoin="round"/></g></g></svg><svg x="780.2" y="305.2" width="75.5" height="75.2" viewBox="0 0 75.5 75.2" overflow="hidden"><rect x="0" y="0" width="75.5" height="75.2" fill="url(#dbg2)" stroke="none" stroke-width="1" rx="0" /><rect x="0" y="0" width="75.5" height="75.2" fill="#888" stroke="none" stroke-width="1" rx="0" filter="url(#dn)" opacity="0.5"/><g filter="url(#db)"><path d="M4.1 49.8 C4.71 47.52 7.02 42.92 8.7 41.8 C10.38 40.68 14.73 40.47 16.7 41.4 C18.67 42.33 20.3 48.12 23.5 48.8 C26.7 49.48 37.62 46.06 40.7 46.5 C43.78 46.94 46.15 50.59 46.6 52.1 C47.05 53.61 46.41 56.59 44.1 57.8 C41.79 59.01 32.81 60.89 29.3 61.2 C25.79 61.51 20.24 59.77 17.8 60.1 C15.36 60.43 12.83 63.86 11 63.7 C9.17 63.54 5.02 60.75 4.1 58.9 C3.18 57.05 3.49 52.08 4.1 49.8Z" fill="#3d3d3d" stroke="none" stroke-width="1" /><ellipse cx="48.5" cy="61.3" rx="1.8" ry="0.8" fill="#444" stroke="none" stroke-width="1" /><ellipse cx="8.5" cy="60.5" rx="2.6" ry="1.6" fill="#777" stroke="none" stroke-width="1" /><ellipse cx="15" cy="57" rx="1.8" ry="1.2" fill="#6a6a6a" stroke="none" stroke-width="1" /></g><clipPath id="hc3"><path d="M12.1 27 C12.67 24.92 14.6 22.83 16.7 21.3 C18.8 19.77 22.23 17.72 24.7 17.8 C27.17 17.88 29.42 21.27 31.5 21.8 C33.58 22.33 35.1 20.87 37.2 21 C39.3 21.13 42.3 21.42 44.1 22.6 C45.9 23.78 47.73 25.67 48 28.1 C48.27 30.53 46.92 34.15 45.7 37.2 C44.48 40.25 42.87 44 40.7 46.4 C38.53 48.8 35.57 51.03 32.7 51.6 C29.83 52.17 26.17 51.43 23.5 49.8 C20.83 48.17 18.4 44.47 16.7 41.8 C15 39.13 14.07 36.27 13.3 33.8 C12.53 31.33 11.53 29.08 12.1 27Z"/></clipPath><g filter="url(#db2)"><path d="M12.1 27 C12.67 24.92 14.6 22.83 16.7 21.3 C18.8 19.77 22.23 17.72 24.7 17.8 C27.17 17.88 29.42 21.27 31.5 21.8 C33.58 22.33 35.1 20.87 37.2 21 C39.3 21.13 42.3 21.42 44.1 22.6 C45.9 23.78 47.73 25.67 48 28.1 C48.27 30.53 46.92 34.15 45.7 37.2 C44.48 40.25 42.87 44 40.7 46.4 C38.53 48.8 35.57 51.03 32.7 51.6 C29.83 52.17 26.17 51.43 23.5 49.8 C20.83 48.17 18.4 44.47 16.7 41.8 C15 39.13 14.07 36.27 13.3 33.8 C12.53 31.33 11.53 29.08 12.1 27Z" fill="#cc0c00" stroke="#ffff30" stroke-width="0.5" /><g clip-path="url(#hc3)"><ellipse cx="24.7" cy="27.2" rx="2.6" ry="2.2" fill="#5a0000" stroke="none" stroke-width="1" filter="url(#db2)"/><ellipse cx="29.5" cy="32.8" rx="2.2" ry="2" fill="#600000" stroke="none" stroke-width="1" filter="url(#db2)"/><ellipse cx="38.2" cy="31.4" rx="2.4" ry="2.2" fill="#6a0000" stroke="none" stroke-width="1" filter="url(#db2)"/><ellipse cx="31.5" cy="40.4" rx="3" ry="2.4" fill="#560000" stroke="none" stroke-width="1" filter="url(#db2)"/><ellipse cx="21.5" cy="33.6" rx="2" ry="2.2" fill="#8a0000" stroke="none" stroke-width="1" filter="url(#db2)"/><ellipse cx="35" cy="26" rx="2" ry="1.6" fill="#a00000" stroke="none" stroke-width="1" filter="url(#db2)"/><ellipse cx="26" cy="42" rx="2" ry="1.6" fill="#900000" stroke="none" stroke-width="1" filter="url(#db2)"/><ellipse cx="40" cy="38" rx="1.6" ry="1.8" fill="#980000" stroke="none" stroke-width="1" filter="url(#db2)"/><path d="M12.1 27 C12.67 24.92 14.6 22.83 16.7 21.3 C18.8 19.77 22.23 17.72 24.7 17.8 C27.17 17.88 29.42 21.27 31.5 21.8 C33.58 22.33 35.1 20.87 37.2 21 C39.3 21.13 42.3 21.42 44.1 22.6 C45.9 23.78 47.73 25.67 48 28.1 C48.27 30.53 46.92 34.15 45.7 37.2 C44.48 40.25 42.87 44 40.7 46.4 C38.53 48.8 35.57 51.03 32.7 51.6 C29.83 52.17 26.17 51.43 23.5 49.8 C20.83 48.17 18.4 44.47 16.7 41.8 C15 39.13 14.07 36.27 13.3 33.8 C12.53 31.33 11.53 29.08 12.1 27Z" fill="none" stroke="#f02800" stroke-width="7.2" stroke-linejoin="round"/><path d="M12.1 27 C12.67 24.92 14.6 22.83 16.7 21.3 C18.8 19.77 22.23 17.72 24.7 17.8 C27.17 17.88 29.42 21.27 31.5 21.8 C33.58 22.33 35.1 20.87 37.2 21 C39.3 21.13 42.3 21.42 44.1 22.6 C45.9 23.78 47.73 25.67 48 28.1 C48.27 30.53 46.92 34.15 45.7 37.2 C44.48 40.25 42.87 44 40.7 46.4 C38.53 48.8 35.57 51.03 32.7 51.6 C29.83 52.17 26.17 51.43 23.5 49.8 C20.83 48.17 18.4 44.47 16.7 41.8 C15 39.13 14.07 36.27 13.3 33.8 C12.53 31.33 11.53 29.08 12.1 27Z" fill="none" stroke="#ff6400" stroke-width="5.6" stroke-linejoin="round"/><path d="M12.1 27 C12.67 24.92 14.6 22.83 16.7 21.3 C18.8 19.77 22.23 17.72 24.7 17.8 C27.17 17.88 29.42 21.27 31.5 21.8 C33.58 22.33 35.1 20.87 37.2 21 C39.3 21.13 42.3 21.42 44.1 22.6 C45.9 23.78 47.73 25.67 48 28.1 C48.27 30.53 46.92 34.15 45.7 37.2 C44.48 40.25 42.87 44 40.7 46.4 C38.53 48.8 35.57 51.03 32.7 51.6 C29.83 52.17 26.17 51.43 23.5 49.8 C20.83 48.17 18.4 44.47 16.7 41.8 C15 39.13 14.07 36.27 13.3 33.8 C12.53 31.33 11.53 29.08 12.1 27Z" fill="none" stroke="#ffa000" stroke-width="4" stroke-linejoin="round"/><path d="M12.1 27 C12.67 24.92 14.6 22.83 16.7 21.3 C18.8 19.77 22.23 17.72 24.7 17.8 C27.17 17.88 29.42 21.27 31.5 21.8 C33.58 22.33 35.1 20.87 37.2 21 C39.3 21.13 42.3 21.42 44.1 22.6 C45.9 23.78 47.73 25.67 48 28.1 C48.27 30.53 46.92 34.15 45.7 37.2 C44.48 40.25 42.87 44 40.7 46.4 C38.53 48.8 35.57 51.03 32.7 51.6 C29.83 52.17 26.17 51.43 23.5 49.8 C20.83 48.17 18.4 44.47 16.7 41.8 C15 39.13 14.07 36.27 13.3 33.8 C12.53 31.33 11.53 29.08 12.1 27Z" fill="none" stroke="#ffee10" stroke-width="2.5" stroke-linejoin="round"/></g></g><clipPath id="hc4"><path d="M67.2 37.2 C68.23 36.55 69.8 37.22 70.6 38.6 C71.4 39.98 71.97 42.77 72 45.5 C72.03 48.23 71.63 51.83 70.8 55 C69.97 58.17 68.37 62.3 67 64.5 C65.63 66.7 63.87 67.95 62.6 68.2 C61.33 68.45 59.83 67.45 59.4 66 C58.97 64.55 59.4 62 60 59.5 C60.6 57 62.27 53.83 63 51 C63.73 48.17 63.7 44.8 64.4 42.5 C65.1 40.2 66.17 37.85 67.2 37.2Z"/></clipPath><g filter="url(#db2)"><path d="M67.2 37.2 C68.23 36.55 69.8 37.22 70.6 38.6 C71.4 39.98 71.97 42.77 72 45.5 C72.03 48.23 71.63 51.83 70.8 55 C69.97 58.17 68.37 62.3 67 64.5 C65.63 66.7 63.87 67.95 62.6 68.2 C61.33 68.45 59.83 67.45 59.4 66 C58.97 64.55 59.4 62 60 59.5 C60.6 57 62.27 53.83 63 51 C63.73 48.17 63.7 44.8 64.4 42.5 C65.1 40.2 66.17 37.85 67.2 37.2Z" fill="#ff9600" stroke="#ffff30" stroke-width="0.5" /><g clip-path="url(#hc4)"><path d="M67.2 37.2 C68.23 36.55 69.8 37.22 70.6 38.6 C71.4 39.98 71.97 42.77 72 45.5 C72.03 48.23 71.63 51.83 70.8 55 C69.97 58.17 68.37 62.3 67 64.5 C65.63 66.7 63.87 67.95 62.6 68.2 C61.33 68.45 59.83 67.45 59.4 66 C58.97 64.55 59.4 62 60 59.5 C60.6 57 62.27 53.83 63 51 C63.73 48.17 63.7 44.8 64.4 42.5 C65.1 40.2 66.17 37.85 67.2 37.2Z" fill="none" stroke="#ffb400" stroke-width="4.2" stroke-linejoin="round"/><path d="M67.2 37.2 C68.23 36.55 69.8 37.22 70.6 38.6 C71.4 39.98 71.97 42.77 72 45.5 C72.03 48.23 71.63 51.83 70.8 55 C69.97 58.17 68.37 62.3 67 64.5 C65.63 66.7 63.87 67.95 62.6 68.2 C61.33 68.45 59.83 67.45 59.4 66 C58.97 64.55 59.4 62 60 59.5 C60.6 57 62.27 53.83 63 51 C63.73 48.17 63.7 44.8 64.4 42.5 C65.1 40.2 66.17 37.85 67.2 37.2Z" fill="none" stroke="#fff010" stroke-width="2.4" stroke-linejoin="round"/></g></g></svg><svg x="780.2" y="385.8" width="75.5" height="75.2" viewBox="0 0 75.5 75.2" overflow="hidden"><rect x="0" y="0" width="75.5" height="75.2" fill="url(#dbg3)" stroke="none" stroke-width="1" rx="0" /><rect x="0" y="0" width="75.5" height="75.2" fill="#888" stroke="none" stroke-width="1" rx="0" filter="url(#dn)" opacity="0.55"/><g filter="url(#db)"><path d="M6.6 28.1 C7.02 26.65 7.35 25.03 8.5 24.3 C9.65 23.57 11.63 23.38 13.5 23.7 C15.37 24.02 17.83 26.82 19.7 26.2 C21.57 25.58 22.62 21.25 24.7 20 C26.78 18.75 30.53 19.85 32.2 18.7 C33.87 17.55 33.98 13 34.7 13.1 C35.42 13.2 34.85 18.27 36.5 19.3 C38.15 20.33 42.42 19.72 44.6 19.3 C46.78 18.88 47.93 16.48 49.6 16.8 C51.27 17.12 52.93 19.53 54.6 21.2 C56.27 22.87 58.67 24.83 59.6 26.8 C60.53 28.77 60.82 31.33 60.2 33 C59.58 34.67 57.45 36.38 55.9 36.8 C54.35 37.22 52.37 36.55 50.9 35.5 C49.43 34.45 48.57 32.15 47.1 30.5 C45.63 28.85 43.97 26.32 42.1 25.6 C40.23 24.88 37.97 25.78 35.9 26.2 C33.83 26.62 31.78 27.9 29.7 28.1 C27.62 28.3 25.07 27 23.4 27.4 C21.73 27.8 21.35 29.15 19.7 30.5 C18.05 31.85 15.37 34.45 13.5 35.5 C11.63 36.55 9.75 37.22 8.5 36.8 C7.25 36.38 6.32 34.45 6 33 C5.68 31.55 6.18 29.55 6.6 28.1Z" fill="#464646" stroke="none" stroke-width="1" /></g><g filter="url(#db2)"><ellipse cx="14" cy="29.5" rx="4.5" ry="3" fill="#5c5c5c" stroke="none" stroke-width="1" opacity="0.8"/><ellipse cx="30" cy="23" rx="4" ry="2.2" fill="#383838" stroke="none" stroke-width="1" opacity="0.9"/><ellipse cx="45" cy="23" rx="4.5" ry="2.4" fill="#5a5a5a" stroke="none" stroke-width="1" opacity="0.8"/><ellipse cx="55" cy="30" rx="3" ry="3.6" fill="#3a3a3a" stroke="none" stroke-width="1" opacity="0.9"/><ellipse cx="38.5" cy="21.5" rx="2.5" ry="1.6" fill="#606060" stroke="none" stroke-width="1" opacity="0.8"/></g><g filter="url(#db)"><path d="M22 36 C22.67 33.58 24.17 30.9 26 29.5 C27.83 28.1 30.67 27.75 33 27.6 C35.33 27.45 37.75 27.87 40 28.6 C42.25 29.33 44.67 30.43 46.5 32 C48.33 33.57 50.33 35.67 51 38 C51.67 40.33 51.33 43.58 50.5 46 C49.67 48.42 47.92 50.75 46 52.5 C44.08 54.25 41.5 56 39 56.5 C36.5 57 33.33 56.42 31 55.5 C28.67 54.58 26.5 52.92 25 51 C23.5 49.08 22.5 46.5 22 44 C21.5 41.5 21.33 38.42 22 36Z" fill="#a6a6a6" stroke="none" stroke-width="1" /><path d="M36 46 C 40 44, 46 46, 46 50 C 45 54, 38 55, 35 52 Z" fill="#8e8e8e" stroke="none" stroke-width="1" /><ellipse cx="29" cy="36" rx="3.2" ry="2.4" fill="#c4c4c4" stroke="none" stroke-width="1" /><ellipse cx="44" cy="40" rx="2.6" ry="3.2" fill="#bcbcbc" stroke="none" stroke-width="1" /></g><circle cx="34.71" cy="45.41" r="0.74" fill="#f6f6f6" stroke="none" stroke-width="1" opacity="0.53"/><circle cx="29.96" cy="40.57" r="0.38" fill="#f6f6f6" stroke="none" stroke-width="1" opacity="0.73"/><circle cx="43.85" cy="43.68" r="0.39" fill="#f6f6f6" stroke="none" stroke-width="1" opacity="0.54"/><circle cx="25.36" cy="47.44" r="0.42" fill="#f6f6f6" stroke="none" stroke-width="1" opacity="0.6"/><circle cx="26.72" cy="32.4" r="0.7" fill="#f6f6f6" stroke="none" stroke-width="1" opacity="0.68"/><circle cx="39.16" cy="41.62" r="0.87" fill="#f6f6f6" stroke="none" stroke-width="1" opacity="0.63"/><circle cx="38.71" cy="44.69" r="0.54" fill="#f6f6f6" stroke="none" stroke-width="1" opacity="0.87"/><circle cx="40.48" cy="50.14" r="0.73" fill="#f6f6f6" stroke="none" stroke-width="1" opacity="0.67"/><circle cx="33.74" cy="41.19" r="0.39" fill="#f6f6f6" stroke="none" stroke-width="1" opacity="0.59"/><circle cx="33.33" cy="35.54" r="0.54" fill="#f6f6f6" stroke="none" stroke-width="1" opacity="0.76"/><circle cx="30.88" cy="43.62" r="0.83" fill="#f6f6f6" stroke="none" stroke-width="1" opacity="0.81"/><circle cx="36.85" cy="50.89" r="0.67" fill="#f6f6f6" stroke="none" stroke-width="1" opacity="0.89"/><circle cx="35.76" cy="36.59" r="0.94" fill="#f6f6f6" stroke="none" stroke-width="1" opacity="0.55"/><circle cx="26.37" cy="47.45" r="0.44" fill="#f6f6f6" stroke="none" stroke-width="1" opacity="0.72"/><circle cx="46.7" cy="44.44" r="0.81" fill="#f6f6f6" stroke="none" stroke-width="1" opacity="0.76"/><circle cx="40.79" cy="37.94" r="0.77" fill="#f6f6f6" stroke="none" stroke-width="1" opacity="0.77"/><circle cx="29.62" cy="38.4" r="0.85" fill="#f6f6f6" stroke="none" stroke-width="1" opacity="0.93"/><circle cx="26.17" cy="43.62" r="0.39" fill="#f6f6f6" stroke="none" stroke-width="1" opacity="0.82"/><circle cx="27.7" cy="30.89" r="0.84" fill="#f6f6f6" stroke="none" stroke-width="1" opacity="0.63"/><circle cx="28.57" cy="48.59" r="0.36" fill="#f6f6f6" stroke="none" stroke-width="1" opacity="0.71"/><circle cx="38.26" cy="44.96" r="0.39" fill="#f6f6f6" stroke="none" stroke-width="1" opacity="0.85"/><circle cx="40.09" cy="45.61" r="0.58" fill="#f6f6f6" stroke="none" stroke-width="1" opacity="0.89"/><circle cx="43.29" cy="45.58" r="0.68" fill="#f6f6f6" stroke="none" stroke-width="1" opacity="0.9"/><circle cx="41.98" cy="30.79" r="0.52" fill="#f6f6f6" stroke="none" stroke-width="1" opacity="0.69"/><circle cx="28.14" cy="51.78" r="0.92" fill="#f6f6f6" stroke="none" stroke-width="1" opacity="0.57"/><circle cx="38.75" cy="46.28" r="0.49" fill="#f6f6f6" stroke="none" stroke-width="1" opacity="0.72"/><circle cx="31.92" cy="39.26" r="0.35" fill="#f6f6f6" stroke="none" stroke-width="1" opacity="0.69"/><circle cx="30.21" cy="48.44" r="0.92" fill="#f6f6f6" stroke="none" stroke-width="1" opacity="0.81"/><circle cx="26.67" cy="41.09" r="0.76" fill="#f6f6f6" stroke="none" stroke-width="1" opacity="0.52"/><circle cx="46.13" cy="35.3" r="0.87" fill="#f6f6f6" stroke="none" stroke-width="1" opacity="0.86"/><circle cx="30.94" cy="46.25" r="0.41" fill="#f6f6f6" stroke="none" stroke-width="1" opacity="0.79"/><circle cx="39.23" cy="43.07" r="0.48" fill="#f6f6f6" stroke="none" stroke-width="1" opacity="0.57"/><circle cx="35.02" cy="44.22" r="0.35" fill="#f6f6f6" stroke="none" stroke-width="1" opacity="0.57"/><circle cx="41.87" cy="45.79" r="0.37" fill="#f6f6f6" stroke="none" stroke-width="1" opacity="0.89"/><circle cx="33.51" cy="39.52" r="0.5" fill="#f6f6f6" stroke="none" stroke-width="1" opacity="0.66"/><circle cx="34.1" cy="44.62" r="0.86" fill="#f6f6f6" stroke="none" stroke-width="1" opacity="0.95"/><circle cx="28.49" cy="43.66" r="0.4" fill="#f6f6f6" stroke="none" stroke-width="1" opacity="0.55"/><circle cx="33.51" cy="46.32" r="0.85" fill="#f6f6f6" stroke="none" stroke-width="1" opacity="0.57"/><circle cx="50.43" cy="43.94" r="0.67" fill="#f6f6f6" stroke="none" stroke-width="1" opacity="0.57"/><circle cx="34.15" cy="41.38" r="0.67" fill="#f6f6f6" stroke="none" stroke-width="1" opacity="0.94"/><circle cx="43.6" cy="34.16" r="0.51" fill="#f6f6f6" stroke="none" stroke-width="1" opacity="0.67"/><circle cx="42.39" cy="51.77" r="0.67" fill="#f6f6f6" stroke="none" stroke-width="1" opacity="0.85"/><circle cx="34.14" cy="46.1" r="0.84" fill="#f6f6f6" stroke="none" stroke-width="1" opacity="0.94"/><circle cx="43.87" cy="32.67" r="0.84" fill="#f6f6f6" stroke="none" stroke-width="1" opacity="0.83"/><circle cx="37.76" cy="50.12" r="0.56" fill="#f6f6f6" stroke="none" stroke-width="1" opacity="0.51"/><circle cx="42.03" cy="42.93" r="0.51" fill="#f6f6f6" stroke="none" stroke-width="1" opacity="0.81"/><clipPath id="hc5"><path d="M18.8 30.8 C19.73 30.65 21.03 31.24 21.6 32.4 C22.17 33.55 22.33 36.53 22.6 38.5 C22.87 40.47 23.64 44.02 23.4 45.5 C23.16 46.98 22.48 47.93 21 48.4 C19.52 48.87 15.51 48.84 13.5 48.6 C11.49 48.36 8.52 47.58 7.6 46.8 C6.68 46.02 6.82 44.63 7.4 43.4 C7.99 42.17 10.3 40.1 11.5 38.6 C12.7 37.1 14.3 34.57 15.4 33.4 C16.5 32.23 17.87 30.95 18.8 30.8Z"/></clipPath><g filter="url(#db2)"><path d="M18.8 30.8 C19.73 30.65 21.03 31.24 21.6 32.4 C22.17 33.55 22.33 36.53 22.6 38.5 C22.87 40.47 23.64 44.02 23.4 45.5 C23.16 46.98 22.48 47.93 21 48.4 C19.52 48.87 15.51 48.84 13.5 48.6 C11.49 48.36 8.52 47.58 7.6 46.8 C6.68 46.02 6.82 44.63 7.4 43.4 C7.99 42.17 10.3 40.1 11.5 38.6 C12.7 37.1 14.3 34.57 15.4 33.4 C16.5 32.23 17.87 30.95 18.8 30.8Z" fill="#ff8c00" stroke="#ffff30" stroke-width="0.5" /><g clip-path="url(#hc5)"><ellipse cx="11.6" cy="43.8" rx="2.6" ry="2" fill="#f02400" stroke="none" stroke-width="1" filter="url(#db2)"/><ellipse cx="18.4" cy="37" rx="1.8" ry="2.2" fill="#fa5800" stroke="none" stroke-width="1" filter="url(#db2)"/><ellipse cx="18.6" cy="43.8" rx="1.8" ry="1.6" fill="#fa6400" stroke="none" stroke-width="1" filter="url(#db2)"/><path d="M18.8 30.8 C19.73 30.65 21.03 31.24 21.6 32.4 C22.17 33.55 22.33 36.53 22.6 38.5 C22.87 40.47 23.64 44.02 23.4 45.5 C23.16 46.98 22.48 47.93 21 48.4 C19.52 48.87 15.51 48.84 13.5 48.6 C11.49 48.36 8.52 47.58 7.6 46.8 C6.68 46.02 6.82 44.63 7.4 43.4 C7.99 42.17 10.3 40.1 11.5 38.6 C12.7 37.1 14.3 34.57 15.4 33.4 C16.5 32.23 17.87 30.95 18.8 30.8Z" fill="none" stroke="#ffb800" stroke-width="3.6" stroke-linejoin="round"/><path d="M18.8 30.8 C19.73 30.65 21.03 31.24 21.6 32.4 C22.17 33.55 22.33 36.53 22.6 38.5 C22.87 40.47 23.64 44.02 23.4 45.5 C23.16 46.98 22.48 47.93 21 48.4 C19.52 48.87 15.51 48.84 13.5 48.6 C11.49 48.36 8.52 47.58 7.6 46.8 C6.68 46.02 6.82 44.63 7.4 43.4 C7.99 42.17 10.3 40.1 11.5 38.6 C12.7 37.1 14.3 34.57 15.4 33.4 C16.5 32.23 17.87 30.95 18.8 30.8Z" fill="none" stroke="#fff010" stroke-width="1.9" stroke-linejoin="round"/></g></g><clipPath id="hc6"><path d="M32.4 31.8 C33.21 30.89 35.34 30.22 36.6 30.4 C37.86 30.58 40.08 31.95 40.8 33 C41.52 34.05 41.67 35.96 41.4 37.4 C41.13 38.84 39.72 41.19 39 42.6 C38.28 44.01 37.26 46.29 36.6 46.8 C35.94 47.31 35.08 46.8 34.6 46 C34.12 45.2 33.91 42.92 33.4 41.5 C32.89 40.08 31.35 37.95 31.2 36.5 C31.05 35.05 31.59 32.72 32.4 31.8Z"/></clipPath><g filter="url(#db2)"><path d="M32.4 31.8 C33.21 30.89 35.34 30.22 36.6 30.4 C37.86 30.58 40.08 31.95 40.8 33 C41.52 34.05 41.67 35.96 41.4 37.4 C41.13 38.84 39.72 41.19 39 42.6 C38.28 44.01 37.26 46.29 36.6 46.8 C35.94 47.31 35.08 46.8 34.6 46 C34.12 45.2 33.91 42.92 33.4 41.5 C32.89 40.08 31.35 37.95 31.2 36.5 C31.05 35.05 31.59 32.72 32.4 31.8Z" fill="#ff9800" stroke="#ffff30" stroke-width="0.5" /><g clip-path="url(#hc6)"><ellipse cx="36.4" cy="37.4" rx="2" ry="2.4" fill="#ff7c00" stroke="none" stroke-width="1" filter="url(#db2)"/><path d="M32.4 31.8 C33.21 30.89 35.34 30.22 36.6 30.4 C37.86 30.58 40.08 31.95 40.8 33 C41.52 34.05 41.67 35.96 41.4 37.4 C41.13 38.84 39.72 41.19 39 42.6 C38.28 44.01 37.26 46.29 36.6 46.8 C35.94 47.31 35.08 46.8 34.6 46 C34.12 45.2 33.91 42.92 33.4 41.5 C32.89 40.08 31.35 37.95 31.2 36.5 C31.05 35.05 31.59 32.72 32.4 31.8Z" fill="none" stroke="#ffbc00" stroke-width="3.6" stroke-linejoin="round"/><path d="M32.4 31.8 C33.21 30.89 35.34 30.22 36.6 30.4 C37.86 30.58 40.08 31.95 40.8 33 C41.52 34.05 41.67 35.96 41.4 37.4 C41.13 38.84 39.72 41.19 39 42.6 C38.28 44.01 37.26 46.29 36.6 46.8 C35.94 47.31 35.08 46.8 34.6 46 C34.12 45.2 33.91 42.92 33.4 41.5 C32.89 40.08 31.35 37.95 31.2 36.5 C31.05 35.05 31.59 32.72 32.4 31.8Z" fill="none" stroke="#fff010" stroke-width="1.9" stroke-linejoin="round"/></g></g><g filter="url(#db)"><path d="M66 24 C 70 22.5, 73 26, 73 31 C 73 38, 72.5 46, 71.5 51 C 70.5 55, 65.5 55, 64.5 51 C 63 45, 62.5 32, 63.5 27 Z" fill="#3c3c3c" stroke="none" stroke-width="1" /></g><clipPath id="hc7"><path d="M67.4 25 C68.24 24.94 70.03 25.55 70.6 26.6 C71.17 27.65 71.25 30.14 71.2 32 C71.16 33.86 70.38 36.83 70.3 39 C70.22 41.17 70.81 44.64 70.7 46.5 C70.59 48.36 70.16 50.48 69.6 51.4 C69.04 52.31 67.72 52.96 67 52.6 C66.28 52.24 65.17 50.74 64.8 49 C64.42 47.26 64.58 43.4 64.5 41 C64.42 38.6 64.22 35.1 64.3 33 C64.38 30.9 64.53 28.2 65 27 C65.47 25.8 66.56 25.06 67.4 25Z"/></clipPath><g filter="url(#db2)"><path d="M67.4 25 C68.24 24.94 70.03 25.55 70.6 26.6 C71.17 27.65 71.25 30.14 71.2 32 C71.16 33.86 70.38 36.83 70.3 39 C70.22 41.17 70.81 44.64 70.7 46.5 C70.59 48.36 70.16 50.48 69.6 51.4 C69.04 52.31 67.72 52.96 67 52.6 C66.28 52.24 65.17 50.74 64.8 49 C64.42 47.26 64.58 43.4 64.5 41 C64.42 38.6 64.22 35.1 64.3 33 C64.38 30.9 64.53 28.2 65 27 C65.47 25.8 66.56 25.06 67.4 25Z" fill="#ff9200" stroke="#ffff30" stroke-width="0.5" /><g clip-path="url(#hc7)"><ellipse cx="67.4" cy="44.5" rx="0.9" ry="3.6" fill="#f85000" stroke="none" stroke-width="1" filter="url(#db2)"/><ellipse cx="67.6" cy="33" rx="0.9" ry="3" fill="#fa7000" stroke="none" stroke-width="1" filter="url(#db2)"/><path d="M67.4 25 C68.24 24.94 70.03 25.55 70.6 26.6 C71.17 27.65 71.25 30.14 71.2 32 C71.16 33.86 70.38 36.83 70.3 39 C70.22 41.17 70.81 44.64 70.7 46.5 C70.59 48.36 70.16 50.48 69.6 51.4 C69.04 52.31 67.72 52.96 67 52.6 C66.28 52.24 65.17 50.74 64.8 49 C64.42 47.26 64.58 43.4 64.5 41 C64.42 38.6 64.22 35.1 64.3 33 C64.38 30.9 64.53 28.2 65 27 C65.47 25.8 66.56 25.06 67.4 25Z" fill="none" stroke="#ffb600" stroke-width="3.4" stroke-linejoin="round"/><path d="M67.4 25 C68.24 24.94 70.03 25.55 70.6 26.6 C71.17 27.65 71.25 30.14 71.2 32 C71.16 33.86 70.38 36.83 70.3 39 C70.22 41.17 70.81 44.64 70.7 46.5 C70.59 48.36 70.16 50.48 69.6 51.4 C69.04 52.31 67.72 52.96 67 52.6 C66.28 52.24 65.17 50.74 64.8 49 C64.42 47.26 64.58 43.4 64.5 41 C64.42 38.6 64.22 35.1 64.3 33 C64.38 30.9 64.53 28.2 65 27 C65.47 25.8 66.56 25.06 67.4 25Z" fill="none" stroke="#fff010" stroke-width="1.8" stroke-linejoin="round"/></g></g></svg><rect x="859.8" y="249.5" width="5.6" height="183.6" fill="url(#hot)" stroke="none" stroke-width="1" rx="0" /><line x1="865.4" y1="249.8" x2="868" y2="249.8" stroke="#333" stroke-width="0.7" /><line x1="865.4" y1="432.8" x2="868" y2="432.8" stroke="#333" stroke-width="0.7" /><text x="860.1" y="240" font-size="9.5" text-anchor="start" fill="#111" >Luminescence</text><text x="870.4" y="253.2" font-size="9.5" text-anchor="start" fill="#111" >1 ×10<tspan dy="-3.4" font-size="5.7">7</tspan></text><text x="870.4" y="432.5" font-size="9.5" text-anchor="start" fill="#111" >1 ×10<tspan dy="-3.4" font-size="5.7">6</tspan></text><text x="860.1" y="446.7" font-size="9.5" text-anchor="start" fill="#111" >Radiance</text><text x="860.1" y="458" font-size="9.5" text-anchor="start" fill="#111" >(p/sec/cm<tspan dy="-3.2" font-size="5.8">2</tspan><tspan dy="3.2">/sr)</tspan></text><text x="0" y="0" font-size="11.55" text-anchor="middle" fill="#111" transform="translate(903 347.8) rotate(-90)" >Ratio of randiance in</text><text x="0" y="0" font-size="11.4" text-anchor="middle" fill="#111" transform="translate(916.6 351) rotate(-90)" >spleen to liver</text><rect x="948.9" y="407.01" width="13.6" height="14.79" fill="#fff" stroke="#111" stroke-width="1" rx="0" /><rect x="971.4" y="409.82" width="13.6" height="11.98" fill="#fff" stroke="#111" stroke-width="1" rx="0" /><rect x="994.5" y="347.12" width="13.6" height="74.68" fill="#fff" stroke="#111" stroke-width="1" rx="0" /><line x1="955.7" y1="409.82" x2="955.7" y2="404.19" stroke="#111" stroke-width="0.9" /><line x1="953.1" y1="409.82" x2="958.3" y2="409.82" stroke="#111" stroke-width="0.9" /><line x1="953.1" y1="404.19" x2="958.3" y2="404.19" stroke="#111" stroke-width="0.9" /><line x1="978.2" y1="412.64" x2="978.2" y2="407.01" stroke="#111" stroke-width="0.9" /><line x1="975.6" y1="412.64" x2="980.8" y2="412.64" stroke="#111" stroke-width="0.9" /><line x1="975.6" y1="407.01" x2="980.8" y2="407.01" stroke="#111" stroke-width="0.9" /><line x1="1001.3" y1="373.19" x2="1001.3" y2="319.65" stroke="#111" stroke-width="0.9" /><line x1="997.9" y1="373.19" x2="1004.7" y2="373.19" stroke="#111" stroke-width="0.9" /><line x1="997.9" y1="319.65" x2="1004.7" y2="319.65" stroke="#111" stroke-width="0.9" /><circle cx="948.1" cy="407.9" r="3.1" fill="#8484ea" stroke="#111" stroke-width="0.8" /><circle cx="952.2" cy="403.6" r="3.1" fill="#8484ea" stroke="#111" stroke-width="0.8" /><circle cx="957.4" cy="407.9" r="3.1" fill="#8484ea" stroke="#111" stroke-width="0.8" /><circle cx="962" cy="405.3" r="3.1" fill="#8484ea" stroke="#111" stroke-width="0.8" /><rect x="969.65" y="405.25" width="5.5" height="5.5" fill="#b548c8" stroke="#111" stroke-width="0.8" rx="0" /><rect x="973.65" y="409.05" width="5.5" height="5.5" fill="#b548c8" stroke="#111" stroke-width="0.8" rx="0" /><rect x="978.65" y="409.85" width="5.5" height="5.5" fill="#b548c8" stroke="#111" stroke-width="0.8" rx="0" /><rect x="982.65" y="405.85" width="5.5" height="5.5" fill="#b548c8" stroke="#111" stroke-width="0.8" rx="0" /><polygon points="1001.3,310.75 1004.6,316.75 998,316.75" fill="#2b3be0" stroke="#111" stroke-width="0.8" /><polygon points="1001.3,335.95 1004.6,341.95 998,341.95" fill="#2b3be0" stroke="#111" stroke-width="0.8" /><polygon points="1001.3,351.65 1004.6,357.65 998,357.65" fill="#2b3be0" stroke="#111" stroke-width="0.8" /><polygon points="1001.3,375.55 1004.6,381.55 998,381.55" fill="#2b3be0" stroke="#111" stroke-width="0.8" /><line x1="940.6" y1="280.4" x2="940.6" y2="422.3" stroke="#111" stroke-width="1" /><line x1="940.1" y1="421.8" x2="1016.4" y2="421.8" stroke="#111" stroke-width="1" /><line x1="937" y1="421.8" x2="940.6" y2="421.8" stroke="#111" stroke-width="1" /><text x="937.4" y="425.7" font-size="11.1" text-anchor="end" fill="#111" >0.0</text><line x1="937" y1="393.62" x2="940.6" y2="393.62" stroke="#111" stroke-width="1" /><text x="937.4" y="397.52" font-size="11.1" text-anchor="end" fill="#111" >0.2</text><line x1="937" y1="365.44" x2="940.6" y2="365.44" stroke="#111" stroke-width="1" /><text x="937.4" y="369.34" font-size="11.1" text-anchor="end" fill="#111" >0.4</text><line x1="937" y1="337.26" x2="940.6" y2="337.26" stroke="#111" stroke-width="1" /><text x="937.4" y="341.16" font-size="11.1" text-anchor="end" fill="#111" >0.6</text><line x1="937" y1="309.08" x2="940.6" y2="309.08" stroke="#111" stroke-width="1" /><text x="937.4" y="312.98" font-size="11.1" text-anchor="end" fill="#111" >0.8</text><line x1="937" y1="280.9" x2="940.6" y2="280.9" stroke="#111" stroke-width="1" /><text x="937.4" y="284.8" font-size="11.1" text-anchor="end" fill="#111" >1.0</text><line x1="955.7" y1="421.8" x2="955.7" y2="425.6" stroke="#111" stroke-width="1" /><line x1="978.2" y1="421.8" x2="978.2" y2="425.6" stroke="#111" stroke-width="1" /><line x1="1001.3" y1="421.8" x2="1001.3" y2="425.6" stroke="#111" stroke-width="1" /><text x="0" y="0" font-size="11.6" text-anchor="end" fill="#111" transform="translate(960.6 429.8) rotate(-47)" >L0315-20Lipo</text><text x="0" y="0" font-size="11.6" text-anchor="end" fill="#111" transform="translate(983.1 429.8) rotate(-47)" >L221-20Lipo</text><text x="0" y="0" font-size="11.6" text-anchor="end" fill="#111" transform="translate(1006.2 429.8) rotate(-47)" >L242-20Lipo</text><path d="M952.1 271.8 L952.1 269.2 L1001 269.2 L1001 271.8" fill="none" stroke="#222" stroke-width="0.9" /><text x="976.4" y="268.4" font-size="10" text-anchor="middle" fill="#111" >***</text><path d="M976.4 286.8 L976.4 284.2 L1001 284.2 L1001 286.8" fill="none" stroke="#222" stroke-width="0.9" /><text x="988.6" y="283.4" font-size="10" text-anchor="middle" fill="#111" >***</text><path d="M952.1 302.4 L952.1 299.8 L976.4 299.8 L976.4 302.4" fill="none" stroke="#222" stroke-width="0.9" /><text x="964.2" y="297" font-size="11.2" text-anchor="middle" fill="#111" >ns</text></g>
<g id="panel_efg"><text x="0" y="0" font-size="24" text-anchor="start" fill="#111" transform="translate(37.1 519.8) scale(0.87 1)" >E</text><line x1="72" y1="525.6" x2="72" y2="651.8" stroke="#111" stroke-width="1" /><line x1="71.5" y1="651.3" x2="257.6" y2="651.3" stroke="#111" stroke-width="1" /><line x1="68.4" y1="526.1" x2="72" y2="526.1" stroke="#111" stroke-width="1" /><text x="66.4" y="530" font-size="11.3" text-anchor="end" fill="#111" >0</text><line x1="68.4" y1="557.4" x2="72" y2="557.4" stroke="#111" stroke-width="1" /><text x="66.4" y="561.3" font-size="11.3" text-anchor="end" fill="#111" >-1</text><line x1="68.4" y1="588.7" x2="72" y2="588.7" stroke="#111" stroke-width="1" /><text x="66.4" y="592.6" font-size="11.3" text-anchor="end" fill="#111" >-2</text><line x1="68.4" y1="620" x2="72" y2="620" stroke="#111" stroke-width="1" /><text x="66.4" y="623.9" font-size="11.3" text-anchor="end" fill="#111" >-3</text><line x1="68.4" y1="651.3" x2="72" y2="651.3" stroke="#111" stroke-width="1" /><text x="66.4" y="655.2" font-size="11.3" text-anchor="end" fill="#111" >-4</text><line x1="84.9" y1="651.3" x2="84.9" y2="655.1" stroke="#111" stroke-width="1" /><line x1="104.75" y1="651.3" x2="104.75" y2="655.1" stroke="#111" stroke-width="1" /><line x1="124.6" y1="651.3" x2="124.6" y2="655.1" stroke="#111" stroke-width="1" /><line x1="144.45" y1="651.3" x2="144.45" y2="655.1" stroke="#111" stroke-width="1" /><line x1="164.3" y1="651.3" x2="164.3" y2="655.1" stroke="#111" stroke-width="1" /><line x1="184.15" y1="651.3" x2="184.15" y2="655.1" stroke="#111" stroke-width="1" /><line x1="204" y1="651.3" x2="204" y2="655.1" stroke="#111" stroke-width="1" /><line x1="223.85" y1="651.3" x2="223.85" y2="655.1" stroke="#111" stroke-width="1" /><line x1="243.7" y1="651.3" x2="243.7" y2="655.1" stroke="#111" stroke-width="1" /><text x="0" y="0" font-size="11.5" text-anchor="end" fill="#111" transform="translate(89.5 658.9) rotate(-48.5)" >L0315-10Lipo</text><text x="0" y="0" font-size="11.5" text-anchor="end" fill="#111" transform="translate(107.95 658.9) rotate(-48.5)" >L0315-20Lipo</text><text x="0" y="0" font-size="11.5" text-anchor="end" fill="#111" transform="translate(126.4 658.9) rotate(-48.5)" >L0315-30Lipo</text><text x="0" y="0" font-size="11.5" text-anchor="end" fill="#111" transform="translate(150.05 658.9) rotate(-48.5)" >L221-10Lipo</text><text x="0" y="0" font-size="11.5" text-anchor="end" fill="#111" transform="translate(168.5 658.9) rotate(-48.5)" >L221-20Lipo</text><text x="0" y="0" font-size="11.5" text-anchor="end" fill="#111" transform="translate(186.05 658.9) rotate(-48.5)" >L221-30Lipo</text><text x="0" y="0" font-size="11.5" text-anchor="end" fill="#111" transform="translate(208.4 658.9) rotate(-48.5)" >L242-10Lipo</text><text x="0" y="0" font-size="11.5" text-anchor="end" fill="#111" transform="translate(226.75 658.9) rotate(-48.5)" >L242-20Lipo</text><text x="0" y="0" font-size="11.5" text-anchor="end" fill="#111" transform="translate(245.5 658.9) rotate(-48.5)" >L242-30Lipo</text><text x="0" y="0" font-size="11.5" text-anchor="middle" fill="#111" transform="translate(52.8 582.7) rotate(-90)" >pKa</text><line x1="84.8" y1="565.3" x2="84.8" y2="583.7" stroke="#111" stroke-width="0.85" /><line x1="82.2" y1="565.3" x2="87.4" y2="565.3" stroke="#111" stroke-width="0.85" /><line x1="82.2" y1="583.7" x2="87.4" y2="583.7" stroke="#111" stroke-width="0.85" /><line x1="79" y1="573.8" x2="90.6" y2="573.8" stroke="#111" stroke-width="0.9" /><circle cx="84.8" cy="565.3" r="2.65" fill="#000" stroke="#000" stroke-width="0.3" /><circle cx="84.8" cy="573.2" r="2.65" fill="#000" stroke="#000" stroke-width="0.3" /><circle cx="84.8" cy="583.7" r="2.65" fill="#000" stroke="#000" stroke-width="0.3" /><line x1="102.4" y1="591.8" x2="102.4" y2="614.2" stroke="#111" stroke-width="0.85" /><line x1="99.8" y1="591.8" x2="105" y2="591.8" stroke="#111" stroke-width="0.85" /><line x1="99.8" y1="614.2" x2="105" y2="614.2" stroke="#111" stroke-width="0.85" /><line x1="96.6" y1="602.7" x2="108.2" y2="602.7" stroke="#111" stroke-width="0.9" /><rect x="103.15" y="591.75" width="5.3" height="5.3" fill="#000" stroke="#000" stroke-width="0.3" rx="0" /><rect x="98.15" y="595.55" width="5.3" height="5.3" fill="#000" stroke="#000" stroke-width="0.3" rx="0" /><rect x="99.75" y="611.55" width="5.3" height="5.3" fill="#000" stroke="#000" stroke-width="0.3" rx="0" /><line x1="120" y1="605.6" x2="120" y2="628.5" stroke="#111" stroke-width="0.85" /><line x1="117.4" y1="605.6" x2="122.6" y2="605.6" stroke="#111" stroke-width="0.85" /><line x1="117.4" y1="628.5" x2="122.6" y2="628.5" stroke="#111" stroke-width="0.85" /><line x1="114.2" y1="617.4" x2="125.8" y2="617.4" stroke="#111" stroke-width="0.9" /><polygon points="120,602.55 122.92,607.85 117.08,607.85" fill="#000" stroke="#000" stroke-width="0.3" /><polygon points="120,616.95 122.92,622.25 117.08,622.25" fill="#000" stroke="#000" stroke-width="0.3" /><polygon points="120,624.55 122.92,629.85 117.08,629.85" fill="#000" stroke="#000" stroke-width="0.3" /><line x1="147.6" y1="571.8" x2="147.6" y2="578" stroke="#111" stroke-width="0.85" /><line x1="145" y1="571.8" x2="150.2" y2="571.8" stroke="#111" stroke-width="0.85" /><line x1="145" y1="578" x2="150.2" y2="578" stroke="#111" stroke-width="0.85" /><line x1="142.6" y1="575" x2="152.6" y2="575" stroke="#111" stroke-width="0.9" /><polygon points="148.3,575.45 151.21,570.15 145.38,570.15" fill="#000" stroke="#000" stroke-width="0.3" /><polygon points="144.2,580.65 147.11,575.35 141.28,575.35" fill="#000" stroke="#000" stroke-width="0.3" /><polygon points="151.1,577.55 154.01,572.25 148.19,572.25" fill="#000" stroke="#000" stroke-width="0.3" /><line x1="165.1" y1="582.6" x2="165.1" y2="606.2" stroke="#111" stroke-width="0.85" /><line x1="162.5" y1="582.6" x2="167.7" y2="582.6" stroke="#111" stroke-width="0.85" /><line x1="162.5" y1="606.2" x2="167.7" y2="606.2" stroke="#111" stroke-width="0.85" /><line x1="159.3" y1="593.4" x2="170.9" y2="593.4" stroke="#111" stroke-width="0.9" /><polygon points="162.5,582.29 165.41,585.6 162.5,588.91 159.59,585.6" fill="#000" stroke="#000" stroke-width="0.3" /><polygon points="165.9,583.89 168.81,587.2 165.9,590.51 162.99,587.2" fill="#000" stroke="#000" stroke-width="0.3" /><polygon points="165.9,602.89 168.81,606.2 165.9,609.51 162.99,606.2" fill="#000" stroke="#000" stroke-width="0.3" /><line x1="183.2" y1="615.4" x2="183.2" y2="629.8" stroke="#111" stroke-width="0.85" /><line x1="180.6" y1="615.4" x2="185.8" y2="615.4" stroke="#111" stroke-width="0.85" /><line x1="180.6" y1="629.8" x2="185.8" y2="629.8" stroke="#111" stroke-width="0.85" /><line x1="177.4" y1="622.6" x2="189" y2="622.6" stroke="#111" stroke-width="0.9" /><circle cx="187.7" cy="616.6" r="2.35" fill="none" stroke="#000" stroke-width="0.85" /><circle cx="183.6" cy="621.2" r="2.35" fill="none" stroke="#000" stroke-width="0.85" /><circle cx="183.2" cy="629.8" r="2.35" fill="none" stroke="#000" stroke-width="0.85" /><line x1="211" y1="574" x2="211" y2="585.4" stroke="#111" stroke-width="0.85" /><line x1="208.4" y1="574" x2="213.6" y2="574" stroke="#111" stroke-width="0.85" /><line x1="208.4" y1="585.4" x2="213.6" y2="585.4" stroke="#111" stroke-width="0.85" /><line x1="205.2" y1="579.6" x2="216.8" y2="579.6" stroke="#111" stroke-width="0.9" /><rect x="213.45" y="572.15" width="4.7" height="4.7" fill="none" stroke="#000" stroke-width="0.85" rx="0" /><rect x="209.25" y="575.25" width="4.7" height="4.7" fill="none" stroke="#000" stroke-width="0.85" rx="0" /><rect x="209.25" y="583.05" width="4.7" height="4.7" fill="none" stroke="#000" stroke-width="0.85" rx="0" /><line x1="228.3" y1="583" x2="228.3" y2="591" stroke="#111" stroke-width="0.85" /><line x1="225.7" y1="583" x2="230.9" y2="583" stroke="#111" stroke-width="0.85" /><line x1="225.7" y1="591" x2="230.9" y2="591" stroke="#111" stroke-width="0.85" /><line x1="222.5" y1="587.2" x2="234.1" y2="587.2" stroke="#111" stroke-width="0.9" /><polygon points="228.9,580.3 231.49,585 226.31,585" fill="none" stroke="#000" stroke-width="0.85" /><polygon points="226.1,587.3 228.69,592 223.52,592" fill="none" stroke="#000" stroke-width="0.85" /><polygon points="232.3,585.5 234.89,590.2 229.72,590.2" fill="none" stroke="#000" stroke-width="0.85" /><line x1="246" y1="612.5" x2="246" y2="630" stroke="#111" stroke-width="0.85" /><line x1="243.4" y1="612.5" x2="248.6" y2="612.5" stroke="#111" stroke-width="0.85" /><line x1="243.4" y1="630" x2="248.6" y2="630" stroke="#111" stroke-width="0.85" /><line x1="240.2" y1="622.2" x2="251.8" y2="622.2" stroke="#111" stroke-width="0.9" /><polygon points="246.6,617.1 249.19,612.4 244.01,612.4" fill="none" stroke="#000" stroke-width="0.85" /><polygon points="246.6,625.3 249.19,620.6 244.01,620.6" fill="none" stroke="#000" stroke-width="0.85" /><polygon points="246.6,631.5 249.19,626.8 244.01,626.8" fill="none" stroke="#000" stroke-width="0.85" /><text x="0" y="0" font-size="24" text-anchor="start" fill="#111" transform="translate(257.9 519.8) scale(0.87 1)" >F</text><line x1="299.8" y1="526.5" x2="299.8" y2="651.2" stroke="#111" stroke-width="1" /><line x1="299.3" y1="650.7" x2="484.9" y2="650.7" stroke="#111" stroke-width="1" /><line x1="296.2" y1="650.7" x2="299.8" y2="650.7" stroke="#111" stroke-width="1" /><text x="295.2" y="654.6" font-size="11.3" text-anchor="end" fill="#111" >100</text><line x1="296.2" y1="625.96" x2="299.8" y2="625.96" stroke="#111" stroke-width="1" /><text x="295.2" y="629.86" font-size="11.3" text-anchor="end" fill="#111" >110</text><line x1="296.2" y1="601.22" x2="299.8" y2="601.22" stroke="#111" stroke-width="1" /><text x="295.2" y="605.12" font-size="11.3" text-anchor="end" fill="#111" >120</text><line x1="296.2" y1="576.48" x2="299.8" y2="576.48" stroke="#111" stroke-width="1" /><text x="295.2" y="580.38" font-size="11.3" text-anchor="end" fill="#111" >130</text><line x1="296.2" y1="551.74" x2="299.8" y2="551.74" stroke="#111" stroke-width="1" /><text x="295.2" y="555.64" font-size="11.3" text-anchor="end" fill="#111" >140</text><line x1="296.2" y1="527" x2="299.8" y2="527" stroke="#111" stroke-width="1" /><text x="295.2" y="530.9" font-size="11.3" text-anchor="end" fill="#111" >150</text><line x1="312.6" y1="650.7" x2="312.6" y2="654.5" stroke="#111" stroke-width="1" /><line x1="332.5" y1="650.7" x2="332.5" y2="654.5" stroke="#111" stroke-width="1" /><line x1="352.4" y1="650.7" x2="352.4" y2="654.5" stroke="#111" stroke-width="1" /><line x1="371.8" y1="650.7" x2="371.8" y2="654.5" stroke="#111" stroke-width="1" /><line x1="391.7" y1="650.7" x2="391.7" y2="654.5" stroke="#111" stroke-width="1" /><line x1="411.3" y1="650.7" x2="411.3" y2="654.5" stroke="#111" stroke-width="1" /><line x1="431.2" y1="650.7" x2="431.2" y2="654.5" stroke="#111" stroke-width="1" /><line x1="450.8" y1="650.7" x2="450.8" y2="654.5" stroke="#111" stroke-width="1" /><line x1="470.7" y1="650.7" x2="470.7" y2="654.5" stroke="#111" stroke-width="1" /><text x="0" y="0" font-size="11.5" text-anchor="end" fill="#111" transform="translate(317.2 658.3) rotate(-48.5)" >L0315-10Lipo</text><text x="0" y="0" font-size="11.5" text-anchor="end" fill="#111" transform="translate(335.7 658.3) rotate(-48.5)" >L0315-20Lipo</text><text x="0" y="0" font-size="11.5" text-anchor="end" fill="#111" transform="translate(354.2 658.3) rotate(-48.5)" >L0315-30Lipo</text><text x="0" y="0" font-size="11.5" text-anchor="end" fill="#111" transform="translate(377.4 658.3) rotate(-48.5)" >L221-10Lipo</text><text x="0" y="0" font-size="11.5" text-anchor="end" fill="#111" transform="translate(395.9 658.3) rotate(-48.5)" >L221-20Lipo</text><text x="0" y="0" font-size="11.5" text-anchor="end" fill="#111" transform="translate(413.2 658.3) rotate(-48.5)" >L221-30Lipo</text><text x="0" y="0" font-size="11.5" text-anchor="end" fill="#111" transform="translate(435.6 658.3) rotate(-48.5)" >L242-10Lipo</text><text x="0" y="0" font-size="11.5" text-anchor="end" fill="#111" transform="translate(453.7 658.3) rotate(-48.5)" >L242-20Lipo</text><text x="0" y="0" font-size="11.5" text-anchor="end" fill="#111" transform="translate(472.5 658.3) rotate(-48.5)" >L242-30Lipo</text><text x="0" y="0" font-size="11.5" text-anchor="middle" fill="#111" transform="translate(272.8 582.85) rotate(-90)" >Size (nm)</text><line x1="312.6" y1="598.3" x2="312.6" y2="627.5" stroke="#111" stroke-width="0.85" /><line x1="310" y1="598.3" x2="315.2" y2="598.3" stroke="#111" stroke-width="0.85" /><line x1="310" y1="627.5" x2="315.2" y2="627.5" stroke="#111" stroke-width="0.85" /><line x1="306.8" y1="613.1" x2="318.4" y2="613.1" stroke="#111" stroke-width="0.9" /><circle cx="312.6" cy="598.3" r="2.65" fill="#000" stroke="#000" stroke-width="0.3" /><circle cx="312.6" cy="613.1" r="2.65" fill="#000" stroke="#000" stroke-width="0.3" /><circle cx="312.6" cy="627.5" r="2.65" fill="#000" stroke="#000" stroke-width="0.3" /><line x1="332.5" y1="557.5" x2="332.5" y2="601.8" stroke="#111" stroke-width="0.85" /><line x1="329.9" y1="557.5" x2="335.1" y2="557.5" stroke="#111" stroke-width="0.85" /><line x1="329.9" y1="601.8" x2="335.1" y2="601.8" stroke="#111" stroke-width="0.85" /><line x1="326.3" y1="577.8" x2="338.7" y2="577.8" stroke="#111" stroke-width="0.9" /><rect x="329.85" y="562.15" width="5.3" height="5.3" fill="#000" stroke="#000" stroke-width="0.3" rx="0" /><rect x="329.85" y="565.55" width="5.3" height="5.3" fill="#000" stroke="#000" stroke-width="0.3" rx="0" /><rect x="329.85" y="599.15" width="5.3" height="5.3" fill="#000" stroke="#000" stroke-width="0.3" rx="0" /><line x1="352.4" y1="553.6" x2="352.4" y2="568" stroke="#111" stroke-width="0.85" /><line x1="349.8" y1="553.6" x2="355" y2="553.6" stroke="#111" stroke-width="0.85" /><line x1="349.8" y1="568" x2="355" y2="568" stroke="#111" stroke-width="0.85" /><line x1="346.4" y1="560.8" x2="358.4" y2="560.8" stroke="#111" stroke-width="0.9" /><polygon points="352.4,550.75 355.31,556.05 349.48,556.05" fill="#000" stroke="#000" stroke-width="0.3" /><polygon points="348.6,562.55 351.51,567.85 345.68,567.85" fill="#000" stroke="#000" stroke-width="0.3" /><polygon points="356.3,561.55 359.21,566.85 353.38,566.85" fill="#000" stroke="#000" stroke-width="0.3" /><line x1="371.8" y1="590.4" x2="371.8" y2="621.6" stroke="#111" stroke-width="0.85" /><line x1="369.2" y1="590.4" x2="374.4" y2="590.4" stroke="#111" stroke-width="0.85" /><line x1="369.2" y1="621.6" x2="374.4" y2="621.6" stroke="#111" stroke-width="0.85" /><line x1="365.6" y1="606.4" x2="378" y2="606.4" stroke="#111" stroke-width="0.9" /><polygon points="371.8,594.45 374.72,589.15 368.88,589.15" fill="#000" stroke="#000" stroke-width="0.3" /><polygon points="371.8,606.25 374.72,600.95 368.88,600.95" fill="#000" stroke="#000" stroke-width="0.3" /><polygon points="371.8,624.05 374.72,618.75 368.88,618.75" fill="#000" stroke="#000" stroke-width="0.3" /><line x1="391.7" y1="566.5" x2="391.7" y2="602.5" stroke="#111" stroke-width="0.85" /><line x1="389.1" y1="566.5" x2="394.3" y2="566.5" stroke="#111" stroke-width="0.85" /><line x1="389.1" y1="602.5" x2="394.3" y2="602.5" stroke="#111" stroke-width="0.85" /><line x1="385.5" y1="584.2" x2="397.9" y2="584.2" stroke="#111" stroke-width="0.9" /><polygon points="391.7,567.09 394.62,570.4 391.7,573.71 388.78,570.4" fill="#000" stroke="#000" stroke-width="0.3" /><polygon points="391.7,574.09 394.62,577.4 391.7,580.71 388.78,577.4" fill="#000" stroke="#000" stroke-width="0.3" /><polygon points="391.7,601.89 394.62,605.2 391.7,608.51 388.78,605.2" fill="#000" stroke="#000" stroke-width="0.3" /><line x1="411.3" y1="572" x2="411.3" y2="584.8" stroke="#111" stroke-width="0.85" /><line x1="408.7" y1="572" x2="413.9" y2="572" stroke="#111" stroke-width="0.85" /><line x1="408.7" y1="584.8" x2="413.9" y2="584.8" stroke="#111" stroke-width="0.85" /><line x1="405.3" y1="576.8" x2="417.3" y2="576.8" stroke="#111" stroke-width="0.9" /><circle cx="407.7" cy="574.2" r="2.35" fill="none" stroke="#000" stroke-width="0.85" /><circle cx="415.1" cy="575.2" r="2.35" fill="none" stroke="#000" stroke-width="0.85" /><circle cx="411.3" cy="584.8" r="2.35" fill="none" stroke="#000" stroke-width="0.85" /><line x1="431.2" y1="576.2" x2="431.2" y2="608" stroke="#111" stroke-width="0.85" /><line x1="428.6" y1="576.2" x2="433.8" y2="576.2" stroke="#111" stroke-width="0.85" /><line x1="428.6" y1="608" x2="433.8" y2="608" stroke="#111" stroke-width="0.85" /><line x1="425" y1="591.3" x2="437.4" y2="591.3" stroke="#111" stroke-width="0.9" /><rect x="428.85" y="573.85" width="4.7" height="4.7" fill="none" stroke="#000" stroke-width="0.85" rx="0" /><rect x="428.85" y="587.95" width="4.7" height="4.7" fill="none" stroke="#000" stroke-width="0.85" rx="0" /><rect x="428.85" y="605.65" width="4.7" height="4.7" fill="none" stroke="#000" stroke-width="0.85" rx="0" /><line x1="450.8" y1="570.4" x2="450.8" y2="610.5" stroke="#111" stroke-width="0.85" /><line x1="448.2" y1="570.4" x2="453.4" y2="570.4" stroke="#111" stroke-width="0.85" /><line x1="448.2" y1="610.5" x2="453.4" y2="610.5" stroke="#111" stroke-width="0.85" /><line x1="444.6" y1="590.8" x2="457" y2="590.8" stroke="#111" stroke-width="0.9" /><polygon points="450.8,567.7 453.38,572.4 448.22,572.4" fill="none" stroke="#000" stroke-width="0.85" /><polygon points="450.8,596.7 453.38,601.4 448.22,601.4" fill="none" stroke="#000" stroke-width="0.85" /><polygon points="450.8,603.7 453.38,608.4 448.22,608.4" fill="none" stroke="#000" stroke-width="0.85" /><line x1="470.7" y1="572.6" x2="470.7" y2="583.8" stroke="#111" stroke-width="0.85" /><line x1="468.1" y1="572.6" x2="473.3" y2="572.6" stroke="#111" stroke-width="0.85" /><line x1="468.1" y1="583.8" x2="473.3" y2="583.8" stroke="#111" stroke-width="0.85" /><line x1="464.9" y1="578.4" x2="476.5" y2="578.4" stroke="#111" stroke-width="0.9" /><polygon points="470.7,575.5 473.28,570.8 468.12,570.8" fill="none" stroke="#000" stroke-width="0.85" /><polygon points="467.5,585.3 470.08,580.6 464.92,580.6" fill="none" stroke="#000" stroke-width="0.85" /><polygon points="474.5,581.1 477.08,576.4 471.92,576.4" fill="none" stroke="#000" stroke-width="0.85" /><text x="0" y="0" font-size="24" text-anchor="start" fill="#111" transform="translate(482.6 519.8) scale(0.87 1)" >G</text><line x1="529.8" y1="526.5" x2="529.8" y2="651.2" stroke="#111" stroke-width="1" /><line x1="529.3" y1="650.7" x2="714.9" y2="650.7" stroke="#111" stroke-width="1" /><line x1="526.2" y1="650.7" x2="529.8" y2="650.7" stroke="#111" stroke-width="1" /><text x="526" y="654.6" font-size="11.3" text-anchor="end" fill="#111" >0.00</text><line x1="526.2" y1="619.78" x2="529.8" y2="619.78" stroke="#111" stroke-width="1" /><text x="526" y="623.68" font-size="11.3" text-anchor="end" fill="#111" >0.05</text><line x1="526.2" y1="588.85" x2="529.8" y2="588.85" stroke="#111" stroke-width="1" /><text x="526" y="592.75" font-size="11.3" text-anchor="end" fill="#111" >0.10</text><line x1="526.2" y1="557.93" x2="529.8" y2="557.93" stroke="#111" stroke-width="1" /><text x="526" y="561.83" font-size="11.3" text-anchor="end" fill="#111" >0.15</text><line x1="526.2" y1="527" x2="529.8" y2="527" stroke="#111" stroke-width="1" /><text x="526" y="530.9" font-size="11.3" text-anchor="end" fill="#111" >0.20</text><line x1="542.6" y1="650.7" x2="542.6" y2="654.5" stroke="#111" stroke-width="1" /><line x1="562.5" y1="650.7" x2="562.5" y2="654.5" stroke="#111" stroke-width="1" /><line x1="582.4" y1="650.7" x2="582.4" y2="654.5" stroke="#111" stroke-width="1" /><line x1="601.8" y1="650.7" x2="601.8" y2="654.5" stroke="#111" stroke-width="1" /><line x1="621.7" y1="650.7" x2="621.7" y2="654.5" stroke="#111" stroke-width="1" /><line x1="641.3" y1="650.7" x2="641.3" y2="654.5" stroke="#111" stroke-width="1" /><line x1="661.2" y1="650.7" x2="661.2" y2="654.5" stroke="#111" stroke-width="1" /><line x1="680.8" y1="650.7" x2="680.8" y2="654.5" stroke="#111" stroke-width="1" /><line x1="700.7" y1="650.7" x2="700.7" y2="654.5" stroke="#111" stroke-width="1" /><text x="0" y="0" font-size="11.5" text-anchor="end" fill="#111" transform="translate(547.2 658.3) rotate(-48.5)" >L0315-10Lipo</text><text x="0" y="0" font-size="11.5" text-anchor="end" fill="#111" transform="translate(565.7 658.3) rotate(-48.5)" >L0315-20Lipo</text><text x="0" y="0" font-size="11.5" text-anchor="end" fill="#111" transform="translate(584.2 658.3) rotate(-48.5)" >L0315-30Lipo</text><text x="0" y="0" font-size="11.5" text-anchor="end" fill="#111" transform="translate(607.4 658.3) rotate(-48.5)" >L221-10Lipo</text><text x="0" y="0" font-size="11.5" text-anchor="end" fill="#111" transform="translate(625.9 658.3) rotate(-48.5)" >L221-20Lipo</text><text x="0" y="0" font-size="11.5" text-anchor="end" fill="#111" transform="translate(643.2 658.3) rotate(-48.5)" >L221-30Lipo</text><text x="0" y="0" font-size="11.5" text-anchor="end" fill="#111" transform="translate(665.6 658.3) rotate(-48.5)" >L242-10Lipo</text><text x="0" y="0" font-size="11.5" text-anchor="end" fill="#111" transform="translate(683.7 658.3) rotate(-48.5)" >L242-20Lipo</text><text x="0" y="0" font-size="11.5" text-anchor="end" fill="#111" transform="translate(702.5 658.3) rotate(-48.5)" >L242-30Lipo</text><text x="0" y="0" font-size="11.5" text-anchor="middle" fill="#111" transform="translate(499.6 582.85) rotate(-90)" >PDI</text><line x1="542.6" y1="579" x2="542.6" y2="593.4" stroke="#111" stroke-width="0.85" /><line x1="540" y1="579" x2="545.2" y2="579" stroke="#111" stroke-width="0.85" /><line x1="540" y1="593.4" x2="545.2" y2="593.4" stroke="#111" stroke-width="0.85" /><line x1="536.8" y1="586.4" x2="548.4" y2="586.4" stroke="#111" stroke-width="0.9" /><circle cx="543.2" cy="578.4" r="2.65" fill="#000" stroke="#000" stroke-width="0.3" /><circle cx="539" cy="592.2" r="2.65" fill="#000" stroke="#000" stroke-width="0.3" /><circle cx="547" cy="588.7" r="2.65" fill="#000" stroke="#000" stroke-width="0.3" /><line x1="562.5" y1="559.2" x2="562.5" y2="573" stroke="#111" stroke-width="0.85" /><line x1="559.9" y1="559.2" x2="565.1" y2="559.2" stroke="#111" stroke-width="0.85" /><line x1="559.9" y1="573" x2="565.1" y2="573" stroke="#111" stroke-width="0.85" /><line x1="556.5" y1="566.2" x2="568.5" y2="566.2" stroke="#111" stroke-width="0.9" /><rect x="559.85" y="556.55" width="5.3" height="5.3" fill="#000" stroke="#000" stroke-width="0.3" rx="0" /><rect x="559.85" y="562.95" width="5.3" height="5.3" fill="#000" stroke="#000" stroke-width="0.3" rx="0" /><rect x="559.85" y="566.95" width="5.3" height="5.3" fill="#000" stroke="#000" stroke-width="0.3" rx="0" /><rect x="559.85" y="570.35" width="5.3" height="5.3" fill="#000" stroke="#000" stroke-width="0.3" rx="0" /><line x1="582.4" y1="571" x2="582.4" y2="577.6" stroke="#111" stroke-width="0.85" /><line x1="579.8" y1="571" x2="585" y2="571" stroke="#111" stroke-width="0.85" /><line x1="579.8" y1="577.6" x2="585" y2="577.6" stroke="#111" stroke-width="0.85" /><line x1="576.4" y1="574.2" x2="588.4" y2="574.2" stroke="#111" stroke-width="0.9" /><polygon points="582.4,568.35 585.31,573.65 579.49,573.65" fill="#000" stroke="#000" stroke-width="0.3" /><polygon points="578.6,573.75 581.51,579.05 575.69,579.05" fill="#000" stroke="#000" stroke-width="0.3" /><polygon points="586.2,569.95 589.11,575.25 583.28,575.25" fill="#000" stroke="#000" stroke-width="0.3" /><line x1="601.8" y1="565.5" x2="601.8" y2="580" stroke="#111" stroke-width="0.85" /><line x1="599.2" y1="565.5" x2="604.4" y2="565.5" stroke="#111" stroke-width="0.85" /><line x1="599.2" y1="580" x2="604.4" y2="580" stroke="#111" stroke-width="0.85" /><line x1="596" y1="572.6" x2="607.6" y2="572.6" stroke="#111" stroke-width="0.9" /><polygon points="598.6,570.25 601.51,564.95 595.68,564.95" fill="#000" stroke="#000" stroke-width="0.3" /><polygon points="606.6,572.85 609.51,567.55 603.68,567.55" fill="#000" stroke="#000" stroke-width="0.3" /><polygon points="602.4,583.05 605.31,577.75 599.49,577.75" fill="#000" stroke="#000" stroke-width="0.3" /><line x1="621.7" y1="554.3" x2="621.7" y2="564" stroke="#111" stroke-width="0.85" /><line x1="619.1" y1="554.3" x2="624.3" y2="554.3" stroke="#111" stroke-width="0.85" /><line x1="619.1" y1="564" x2="624.3" y2="564" stroke="#111" stroke-width="0.85" /><line x1="615.7" y1="559.2" x2="627.7" y2="559.2" stroke="#111" stroke-width="0.9" /><polygon points="621.7,552.69 624.62,556 621.7,559.31 618.79,556" fill="#000" stroke="#000" stroke-width="0.3" /><polygon points="626.5,552.69 629.41,556 626.5,559.31 623.59,556" fill="#000" stroke="#000" stroke-width="0.3" /><polygon points="621.7,560.69 624.62,564 621.7,567.31 618.79,564" fill="#000" stroke="#000" stroke-width="0.3" /><line x1="641.3" y1="566.2" x2="641.3" y2="587" stroke="#111" stroke-width="0.85" /><line x1="638.7" y1="566.2" x2="643.9" y2="566.2" stroke="#111" stroke-width="0.85" /><line x1="638.7" y1="587" x2="643.9" y2="587" stroke="#111" stroke-width="0.85" /><line x1="635.3" y1="575.8" x2="647.3" y2="575.8" stroke="#111" stroke-width="0.9" /><circle cx="641.3" cy="566.2" r="2.35" fill="none" stroke="#000" stroke-width="0.85" /><circle cx="641.3" cy="575.2" r="2.35" fill="none" stroke="#000" stroke-width="0.85" /><circle cx="641.3" cy="587" r="2.35" fill="none" stroke="#000" stroke-width="0.85" /><line x1="661.2" y1="563.4" x2="661.2" y2="571" stroke="#111" stroke-width="0.85" /><line x1="658.6" y1="563.4" x2="663.8" y2="563.4" stroke="#111" stroke-width="0.85" /><line x1="658.6" y1="571" x2="663.8" y2="571" stroke="#111" stroke-width="0.85" /><line x1="655.2" y1="567.2" x2="667.2" y2="567.2" stroke="#111" stroke-width="0.9" /><rect x="663.05" y="561.65" width="4.7" height="4.7" fill="none" stroke="#000" stroke-width="0.85" rx="0" /><rect x="658.85" y="564.85" width="4.7" height="4.7" fill="none" stroke="#000" stroke-width="0.85" rx="0" /><rect x="658.85" y="568.65" width="4.7" height="4.7" fill="none" stroke="#000" stroke-width="0.85" rx="0" /><line x1="680.8" y1="556.6" x2="680.8" y2="571" stroke="#111" stroke-width="0.85" /><line x1="678.2" y1="556.6" x2="683.4" y2="556.6" stroke="#111" stroke-width="0.85" /><line x1="678.2" y1="571" x2="683.4" y2="571" stroke="#111" stroke-width="0.85" /><line x1="674.8" y1="563.4" x2="686.8" y2="563.4" stroke="#111" stroke-width="0.9" /><polygon points="680.8,553.9 683.38,558.6 678.21,558.6" fill="none" stroke="#000" stroke-width="0.85" /><polygon points="680.8,561.3 683.38,566 678.21,566" fill="none" stroke="#000" stroke-width="0.85" /><polygon points="680.8,568.3 683.38,573 678.21,573" fill="none" stroke="#000" stroke-width="0.85" /><line x1="700.7" y1="560.8" x2="700.7" y2="574.2" stroke="#111" stroke-width="0.85" /><line x1="698.1" y1="560.8" x2="703.3" y2="560.8" stroke="#111" stroke-width="0.85" /><line x1="698.1" y1="574.2" x2="703.3" y2="574.2" stroke="#111" stroke-width="0.85" /><line x1="694.7" y1="567.8" x2="706.7" y2="567.8" stroke="#111" stroke-width="0.9" /><polygon points="700.7,563.5 703.29,558.8 698.12,558.8" fill="none" stroke="#000" stroke-width="0.85" /><polygon points="700.7,570.9 703.29,566.2 698.12,566.2" fill="none" stroke="#000" stroke-width="0.85" /><polygon points="700.7,576.9 703.29,572.2 698.12,572.2" fill="none" stroke="#000" stroke-width="0.85" /></g>
<g id="panel_h"><text x="0" y="0" font-size="24" text-anchor="start" fill="#111" transform="translate(721.3 519.8) scale(0.93 1)" >H</text><text x="782.9" y="541.2" font-size="11.5" text-anchor="middle" fill="#111" >L0315-20Lipo</text><text x="876.7" y="541.2" font-size="11.5" text-anchor="middle" fill="#111" >L221-20Lipo</text><text x="970.3" y="541.2" font-size="11.5" text-anchor="middle" fill="#111" >L242-20Lipo</text><svg x="735.1" y="547" width="92.1" height="93" overflow="hidden"><g filter="url(#tn0)"><rect x="0" y="0" width="92.1" height="93" fill="#8b8b8b" stroke="none" stroke-width="1" rx="0" /><circle cx="41.5" cy="10.5" r="8.5" fill="none" stroke="#a6a6a6" stroke-width="1.4" opacity="0.85"/><circle cx="41.5" cy="10.5" r="7.3" fill="#858585" stroke="none" stroke-width="1" /><circle cx="41.5" cy="10.5" r="7.3" fill="none" stroke="#5e5e5e" stroke-width="0.95" opacity="0.75" stroke-dasharray="28.44 17.43" transform="rotate(0 41.5 10.5)"/><circle cx="41.5" cy="10.5" r="7.3" fill="none" stroke="#5e5e5e" stroke-width="0.7" opacity="0.35"/><circle cx="82.2" cy="7.6" r="7.7" fill="none" stroke="#a6a6a6" stroke-width="1.4" opacity="0.85"/><circle cx="82.2" cy="7.6" r="6.5" fill="#858585" stroke="none" stroke-width="1" /><circle cx="82.2" cy="7.6" r="6.5" fill="none" stroke="#5e5e5e" stroke-width="0.95" opacity="0.75" stroke-dasharray="25.32 15.52" transform="rotate(97 82.2 7.6)"/><circle cx="82.2" cy="7.6" r="6.5" fill="none" stroke="#5e5e5e" stroke-width="0.7" opacity="0.35"/><circle cx="12.4" cy="27.9" r="7.7" fill="none" stroke="#a6a6a6" stroke-width="1.4" opacity="0.85"/><circle cx="12.4" cy="27.9" r="6.5" fill="#858585" stroke="none" stroke-width="1" /><circle cx="12.4" cy="27.9" r="6.5" fill="none" stroke="#5e5e5e" stroke-width="0.95" opacity="0.75" stroke-dasharray="25.32 15.52" transform="rotate(194 12.4 27.9)"/><circle cx="12.4" cy="27.9" r="6.5" fill="none" stroke="#5e5e5e" stroke-width="0.7" opacity="0.35"/><circle cx="33" cy="29.4" r="10.2" fill="none" stroke="#a6a6a6" stroke-width="1.4" opacity="0.85"/><circle cx="33" cy="29.4" r="9" fill="#858585" stroke="none" stroke-width="1" /><circle cx="33" cy="29.4" r="9" fill="none" stroke="#5e5e5e" stroke-width="0.95" opacity="0.75" stroke-dasharray="35.06 21.49" transform="rotate(291 33 29.4)"/><circle cx="33" cy="29.4" r="9" fill="none" stroke="#5e5e5e" stroke-width="0.7" opacity="0.35"/><circle cx="56.7" cy="36.7" r="12.1" fill="none" stroke="#a6a6a6" stroke-width="1.4" opacity="0.85"/><circle cx="56.7" cy="36.7" r="10.9" fill="#858585" stroke="none" stroke-width="1" /><circle cx="56.7" cy="36.7" r="10.9" fill="none" stroke="#5e5e5e" stroke-width="0.95" opacity="0.75" stroke-dasharray="42.46 26.02" transform="rotate(28 56.7 36.7)"/><circle cx="56.7" cy="36.7" r="10.9" fill="none" stroke="#5e5e5e" stroke-width="0.7" opacity="0.35"/><circle cx="77.8" cy="26.5" r="9.2" fill="none" stroke="#a6a6a6" stroke-width="1.4" opacity="0.85"/><circle cx="77.8" cy="26.5" r="8" fill="#858585" stroke="none" stroke-width="1" /><circle cx="77.8" cy="26.5" r="8" fill="none" stroke="#5e5e5e" stroke-width="0.95" opacity="0.75" stroke-dasharray="31.16 19.1" transform="rotate(125 77.8 26.5)"/><circle cx="77.8" cy="26.5" r="8" fill="none" stroke="#5e5e5e" stroke-width="0.7" opacity="0.35"/><circle cx="13.1" cy="49.8" r="9.9" fill="none" stroke="#a6a6a6" stroke-width="1.4" opacity="0.85"/><circle cx="13.1" cy="49.8" r="8.7" fill="#858585" stroke="none" stroke-width="1" /><circle cx="13.1" cy="49.8" r="8.7" fill="none" stroke="#5e5e5e" stroke-width="0.95" opacity="0.75" stroke-dasharray="33.89 20.77" transform="rotate(222 13.1 49.8)"/><circle cx="13.1" cy="49.8" r="8.7" fill="none" stroke="#5e5e5e" stroke-width="0.7" opacity="0.35"/><circle cx="37.1" cy="51.9" r="9.6" fill="none" stroke="#a6a6a6" stroke-width="1.4" opacity="0.85"/><circle cx="37.1" cy="51.9" r="8.4" fill="#858585" stroke="none" stroke-width="1" /><circle cx="37.1" cy="51.9" r="8.4" fill="none" stroke="#5e5e5e" stroke-width="0.95" opacity="0.75" stroke-dasharray="32.72 20.06" transform="rotate(319 37.1 51.9)"/><circle cx="37.1" cy="51.9" r="8.4" fill="none" stroke="#5e5e5e" stroke-width="0.7" opacity="0.35"/><circle cx="76.4" cy="50.5" r="10.7" fill="none" stroke="#a6a6a6" stroke-width="1.4" opacity="0.85"/><circle cx="76.4" cy="50.5" r="9.5" fill="#858585" stroke="none" stroke-width="1" /><circle cx="76.4" cy="50.5" r="9.5" fill="none" stroke="#5e5e5e" stroke-width="0.95" opacity="0.75" stroke-dasharray="37.01 22.68" transform="rotate(56 76.4 50.5)"/><circle cx="76.4" cy="50.5" r="9.5" fill="none" stroke="#5e5e5e" stroke-width="0.7" opacity="0.35"/><circle cx="55.3" cy="65.8" r="11.4" fill="none" stroke="#a6a6a6" stroke-width="1.4" opacity="0.85"/><circle cx="55.3" cy="65.8" r="10.2" fill="#858585" stroke="none" stroke-width="1" /><circle cx="55.3" cy="65.8" r="10.2" fill="none" stroke="#5e5e5e" stroke-width="0.95" opacity="0.75" stroke-dasharray="39.73 24.35" transform="rotate(153 55.3 65.8)"/><circle cx="55.3" cy="65.8" r="10.2" fill="none" stroke="#5e5e5e" stroke-width="0.7" opacity="0.35"/><circle cx="78.6" cy="71.6" r="8.2" fill="none" stroke="#a6a6a6" stroke-width="1.4" opacity="0.85"/><circle cx="78.6" cy="71.6" r="7" fill="#858585" stroke="none" stroke-width="1" /><circle cx="78.6" cy="71.6" r="7" fill="none" stroke="#5e5e5e" stroke-width="0.95" opacity="0.75" stroke-dasharray="27.27 16.71" transform="rotate(250 78.6 71.6)"/><circle cx="78.6" cy="71.6" r="7" fill="none" stroke="#5e5e5e" stroke-width="0.7" opacity="0.35"/><circle cx="26.2" cy="73" r="9.2" fill="none" stroke="#a6a6a6" stroke-width="1.4" opacity="0.85"/><circle cx="26.2" cy="73" r="8" fill="#858585" stroke="none" stroke-width="1" /><circle cx="26.2" cy="73" r="8" fill="none" stroke="#5e5e5e" stroke-width="0.95" opacity="0.75" stroke-dasharray="31.16 19.1" transform="rotate(347 26.2 73)"/><circle cx="26.2" cy="73" r="8" fill="none" stroke="#5e5e5e" stroke-width="0.7" opacity="0.35"/><circle cx="6.5" cy="71.6" r="7.7" fill="none" stroke="#a6a6a6" stroke-width="1.4" opacity="0.85"/><circle cx="6.5" cy="71.6" r="6.5" fill="#858585" stroke="none" stroke-width="1" /><circle cx="6.5" cy="71.6" r="6.5" fill="none" stroke="#5e5e5e" stroke-width="0.95" opacity="0.75" stroke-dasharray="25.32 15.52" transform="rotate(84 6.5 71.6)"/><circle cx="6.5" cy="71.6" r="6.5" fill="none" stroke="#5e5e5e" stroke-width="0.7" opacity="0.35"/><circle cx="40" cy="87.6" r="9.2" fill="none" stroke="#a6a6a6" stroke-width="1.4" opacity="0.85"/><circle cx="40" cy="87.6" r="8" fill="#858585" stroke="none" stroke-width="1" /><circle cx="40" cy="87.6" r="8" fill="none" stroke="#5e5e5e" stroke-width="0.95" opacity="0.75" stroke-dasharray="31.16 19.1" transform="rotate(181 40 87.6)"/><circle cx="40" cy="87.6" r="8" fill="none" stroke="#5e5e5e" stroke-width="0.7" opacity="0.35"/><circle cx="64.7" cy="84.7" r="8.5" fill="none" stroke="#a6a6a6" stroke-width="1.4" opacity="0.85"/><circle cx="64.7" cy="84.7" r="7.3" fill="#858585" stroke="none" stroke-width="1" /><circle cx="64.7" cy="84.7" r="7.3" fill="none" stroke="#5e5e5e" stroke-width="0.95" opacity="0.75" stroke-dasharray="28.44 17.43" transform="rotate(278 64.7 84.7)"/><circle cx="64.7" cy="84.7" r="7.3" fill="none" stroke="#5e5e5e" stroke-width="0.7" opacity="0.35"/></g><text x="5.6" y="87.6" font-size="5" text-anchor="start" fill="#dcdcdc" opacity="0.9">50nm</text><line x1="20.4" y1="85.9" x2="33.4" y2="85.9" stroke="#f6f6f6" stroke-width="1.1" /></svg><svg x="829.9" y="546.8" width="92.4" height="93.4" overflow="hidden"><g filter="url(#tn1)"><rect x="0" y="0" width="92.4" height="93.4" fill="#888888" stroke="none" stroke-width="1" rx="0" /><circle cx="10.6" cy="18.3" r="12.7" fill="none" stroke="#a6a6a6" stroke-width="1.4" opacity="0.85"/><circle cx="10.6" cy="18.3" r="11.5" fill="#858585" stroke="none" stroke-width="1" /><circle cx="10.6" cy="18.3" r="11.5" fill="none" stroke="#565656" stroke-width="0.95" opacity="0.85" stroke-dasharray="44.8 27.46" transform="rotate(0 10.6 18.3)"/><circle cx="10.6" cy="18.3" r="11.5" fill="none" stroke="#565656" stroke-width="0.7" opacity="0.35"/><circle cx="40.5" cy="14.5" r="11.8" fill="none" stroke="#a6a6a6" stroke-width="1.4" opacity="0.85"/><circle cx="40.5" cy="14.5" r="10.6" fill="#858585" stroke="none" stroke-width="1" /><circle cx="40.5" cy="14.5" r="10.6" fill="none" stroke="#565656" stroke-width="0.95" opacity="0.85" stroke-dasharray="41.29 25.31" transform="rotate(97 40.5 14.5)"/><circle cx="40.5" cy="14.5" r="10.6" fill="none" stroke="#565656" stroke-width="0.7" opacity="0.35"/><circle cx="62.6" cy="7.7" r="9.9" fill="none" stroke="#a6a6a6" stroke-width="1.4" opacity="0.85"/><circle cx="62.6" cy="7.7" r="8.7" fill="#858585" stroke="none" stroke-width="1" /><circle cx="62.6" cy="7.7" r="8.7" fill="none" stroke="#565656" stroke-width="0.95" opacity="0.85" stroke-dasharray="33.89 20.77" transform="rotate(194 62.6 7.7)"/><circle cx="62.6" cy="7.7" r="8.7" fill="none" stroke="#565656" stroke-width="0.7" opacity="0.35"/><circle cx="30.8" cy="40.5" r="13.7" fill="none" stroke="#a6a6a6" stroke-width="1.4" opacity="0.85"/><circle cx="30.8" cy="40.5" r="12.5" fill="#858585" stroke="none" stroke-width="1" /><circle cx="30.8" cy="40.5" r="12.5" fill="none" stroke="#565656" stroke-width="0.95" opacity="0.85" stroke-dasharray="48.69 29.85" transform="rotate(291 30.8 40.5)"/><circle cx="30.8" cy="40.5" r="12.5" fill="none" stroke="#565656" stroke-width="0.7" opacity="0.35"/><circle cx="58.8" cy="33.7" r="13.7" fill="none" stroke="#a6a6a6" stroke-width="1.4" opacity="0.85"/><circle cx="58.8" cy="33.7" r="12.5" fill="#858585" stroke="none" stroke-width="1" /><circle cx="58.8" cy="33.7" r="12.5" fill="none" stroke="#565656" stroke-width="0.95" opacity="0.85" stroke-dasharray="48.69 29.85" transform="rotate(28 58.8 33.7)"/><circle cx="58.8" cy="33.7" r="12.5" fill="none" stroke="#565656" stroke-width="0.7" opacity="0.35"/><circle cx="82.9" cy="22.2" r="10.8" fill="none" stroke="#a6a6a6" stroke-width="1.4" opacity="0.85"/><circle cx="82.9" cy="22.2" r="9.6" fill="#858585" stroke="none" stroke-width="1" /><circle cx="82.9" cy="22.2" r="9.6" fill="none" stroke="#565656" stroke-width="0.95" opacity="0.85" stroke-dasharray="37.4 22.92" transform="rotate(125 82.9 22.2)"/><circle cx="82.9" cy="22.2" r="9.6" fill="none" stroke="#565656" stroke-width="0.7" opacity="0.35"/><circle cx="51" cy="55.9" r="10.8" fill="none" stroke="#a6a6a6" stroke-width="1.4" opacity="0.85"/><circle cx="51" cy="55.9" r="9.6" fill="#858585" stroke="none" stroke-width="1" /><circle cx="51" cy="55.9" r="9.6" fill="none" stroke="#565656" stroke-width="0.95" opacity="0.85" stroke-dasharray="37.4 22.92" transform="rotate(222 51 55.9)"/><circle cx="51" cy="55.9" r="9.6" fill="none" stroke="#565656" stroke-width="0.7" opacity="0.35"/><circle cx="69.4" cy="52" r="9.9" fill="none" stroke="#a6a6a6" stroke-width="1.4" opacity="0.85"/><circle cx="69.4" cy="52" r="8.7" fill="#858585" stroke="none" stroke-width="1" /><circle cx="69.4" cy="52" r="8.7" fill="none" stroke="#565656" stroke-width="0.95" opacity="0.85" stroke-dasharray="33.89 20.77" transform="rotate(319 69.4 52)"/><circle cx="69.4" cy="52" r="8.7" fill="none" stroke="#565656" stroke-width="0.7" opacity="0.35"/><circle cx="85.7" cy="43.4" r="8.9" fill="none" stroke="#a6a6a6" stroke-width="1.4" opacity="0.85"/><circle cx="85.7" cy="43.4" r="7.7" fill="#858585" stroke="none" stroke-width="1" /><circle cx="85.7" cy="43.4" r="7.7" fill="none" stroke="#565656" stroke-width="0.95" opacity="0.85" stroke-dasharray="30 18.38" transform="rotate(56 85.7 43.4)"/><circle cx="85.7" cy="43.4" r="7.7" fill="none" stroke="#565656" stroke-width="0.7" opacity="0.35"/><circle cx="7.7" cy="42.4" r="8.9" fill="none" stroke="#a6a6a6" stroke-width="1.4" opacity="0.85"/><circle cx="7.7" cy="42.4" r="7.7" fill="#858585" stroke="none" stroke-width="1" /><circle cx="7.7" cy="42.4" r="7.7" fill="none" stroke="#565656" stroke-width="0.95" opacity="0.85" stroke-dasharray="30 18.38" transform="rotate(153 7.7 42.4)"/><circle cx="7.7" cy="42.4" r="7.7" fill="none" stroke="#565656" stroke-width="0.7" opacity="0.35"/><circle cx="14.5" cy="78" r="13.7" fill="none" stroke="#a6a6a6" stroke-width="1.4" opacity="0.85"/><circle cx="14.5" cy="78" r="12.5" fill="#858585" stroke="none" stroke-width="1" /><circle cx="14.5" cy="78" r="12.5" fill="none" stroke="#565656" stroke-width="0.95" opacity="0.85" stroke-dasharray="48.69 29.85" transform="rotate(250 14.5 78)"/><circle cx="14.5" cy="78" r="12.5" fill="none" stroke="#565656" stroke-width="0.7" opacity="0.35"/><circle cx="40.5" cy="76.1" r="10.8" fill="none" stroke="#a6a6a6" stroke-width="1.4" opacity="0.85"/><circle cx="40.5" cy="76.1" r="9.6" fill="#858585" stroke="none" stroke-width="1" /><circle cx="40.5" cy="76.1" r="9.6" fill="none" stroke="#565656" stroke-width="0.95" opacity="0.85" stroke-dasharray="37.4 22.92" transform="rotate(347 40.5 76.1)"/><circle cx="40.5" cy="76.1" r="9.6" fill="none" stroke="#565656" stroke-width="0.7" opacity="0.35"/><circle cx="80" cy="76.1" r="13.7" fill="none" stroke="#a6a6a6" stroke-width="1.4" opacity="0.85"/><circle cx="80" cy="76.1" r="12.5" fill="#858585" stroke="none" stroke-width="1" /><circle cx="80" cy="76.1" r="12.5" fill="none" stroke="#565656" stroke-width="0.95" opacity="0.85" stroke-dasharray="48.69 29.85" transform="rotate(84 80 76.1)"/><circle cx="80" cy="76.1" r="12.5" fill="none" stroke="#565656" stroke-width="0.7" opacity="0.35"/><circle cx="-1" cy="58.8" r="7.9" fill="none" stroke="#a6a6a6" stroke-width="1.4" opacity="0.85"/><circle cx="-1" cy="58.8" r="6.7" fill="#858585" stroke="none" stroke-width="1" /><circle cx="-1" cy="58.8" r="6.7" fill="none" stroke="#565656" stroke-width="0.95" opacity="0.85" stroke-dasharray="26.1 16" transform="rotate(181 -1 58.8)"/><circle cx="-1" cy="58.8" r="6.7" fill="none" stroke="#565656" stroke-width="0.7" opacity="0.35"/><circle cx="60.7" cy="74.2" r="8.9" fill="none" stroke="#a6a6a6" stroke-width="1.4" opacity="0.85"/><circle cx="60.7" cy="74.2" r="7.7" fill="#858585" stroke="none" stroke-width="1" /><circle cx="60.7" cy="74.2" r="7.7" fill="none" stroke="#565656" stroke-width="0.95" opacity="0.85" stroke-dasharray="30 18.38" transform="rotate(278 60.7 74.2)"/><circle cx="60.7" cy="74.2" r="7.7" fill="none" stroke="#565656" stroke-width="0.7" opacity="0.35"/></g><text x="5.6" y="88" font-size="5" text-anchor="start" fill="#dcdcdc" opacity="0.9">50nm</text><line x1="20.4" y1="86.3" x2="33.4" y2="86.3" stroke="#f6f6f6" stroke-width="1.1" /></svg><svg x="924.6" y="546.8" width="92.7" height="93.4" overflow="hidden"><g filter="url(#tn2)"><rect x="0" y="0" width="92.7" height="93.4" fill="#909090" stroke="none" stroke-width="1" rx="0" /><circle cx="26.6" cy="9.6" r="8.5" fill="none" stroke="#a6a6a6" stroke-width="1.4" opacity="0.85"/><circle cx="26.6" cy="9.6" r="7.3" fill="#858585" stroke="none" stroke-width="1" /><circle cx="26.6" cy="9.6" r="7.3" fill="none" stroke="#666666" stroke-width="0.95" opacity="0.6" stroke-dasharray="28.44 17.43" transform="rotate(0 26.6 9.6)"/><circle cx="26.6" cy="9.6" r="7.3" fill="none" stroke="#666666" stroke-width="0.7" opacity="0.35"/><circle cx="45.9" cy="22.2" r="9.9" fill="none" stroke="#a6a6a6" stroke-width="1.4" opacity="0.85"/><circle cx="45.9" cy="22.2" r="8.7" fill="#858585" stroke="none" stroke-width="1" /><circle cx="45.9" cy="22.2" r="8.7" fill="none" stroke="#666666" stroke-width="0.95" opacity="0.6" stroke-dasharray="33.89 20.77" transform="rotate(97 45.9 22.2)"/><circle cx="45.9" cy="22.2" r="8.7" fill="none" stroke="#666666" stroke-width="0.7" opacity="0.35"/><circle cx="11.2" cy="22.2" r="9.9" fill="none" stroke="#a6a6a6" stroke-width="1.4" opacity="0.85"/><circle cx="11.2" cy="22.2" r="8.7" fill="#858585" stroke="none" stroke-width="1" /><circle cx="11.2" cy="22.2" r="8.7" fill="none" stroke="#666666" stroke-width="0.95" opacity="0.6" stroke-dasharray="33.89 20.77" transform="rotate(194 11.2 22.2)"/><circle cx="11.2" cy="22.2" r="8.7" fill="none" stroke="#666666" stroke-width="0.7" opacity="0.35"/><circle cx="26.6" cy="30.8" r="8.9" fill="none" stroke="#a6a6a6" stroke-width="1.4" opacity="0.85"/><circle cx="26.6" cy="30.8" r="7.7" fill="#858585" stroke="none" stroke-width="1" /><circle cx="26.6" cy="30.8" r="7.7" fill="none" stroke="#666666" stroke-width="0.95" opacity="0.6" stroke-dasharray="30 18.38" transform="rotate(291 26.6 30.8)"/><circle cx="26.6" cy="30.8" r="7.7" fill="none" stroke="#666666" stroke-width="0.7" opacity="0.35"/><circle cx="63.2" cy="33.7" r="9.9" fill="none" stroke="#a6a6a6" stroke-width="1.4" opacity="0.85"/><circle cx="63.2" cy="33.7" r="8.7" fill="#858585" stroke="none" stroke-width="1" /><circle cx="63.2" cy="33.7" r="8.7" fill="none" stroke="#666666" stroke-width="0.95" opacity="0.6" stroke-dasharray="33.89 20.77" transform="rotate(28 63.2 33.7)"/><circle cx="63.2" cy="33.7" r="8.7" fill="none" stroke="#666666" stroke-width="0.7" opacity="0.35"/><circle cx="42" cy="42.4" r="10.4" fill="none" stroke="#a6a6a6" stroke-width="1.4" opacity="0.85"/><circle cx="42" cy="42.4" r="9.2" fill="#858585" stroke="none" stroke-width="1" /><circle cx="42" cy="42.4" r="9.2" fill="none" stroke="#666666" stroke-width="0.95" opacity="0.6" stroke-dasharray="35.84 21.97" transform="rotate(125 42 42.4)"/><circle cx="42" cy="42.4" r="9.2" fill="none" stroke="#666666" stroke-width="0.7" opacity="0.35"/><circle cx="12.1" cy="42.4" r="9.9" fill="none" stroke="#a6a6a6" stroke-width="1.4" opacity="0.85"/><circle cx="12.1" cy="42.4" r="8.7" fill="#858585" stroke="none" stroke-width="1" /><circle cx="12.1" cy="42.4" r="8.7" fill="none" stroke="#666666" stroke-width="0.95" opacity="0.6" stroke-dasharray="33.89 20.77" transform="rotate(222 12.1 42.4)"/><circle cx="12.1" cy="42.4" r="8.7" fill="none" stroke="#666666" stroke-width="0.7" opacity="0.35"/><circle cx="61.3" cy="54.9" r="9.9" fill="none" stroke="#a6a6a6" stroke-width="1.4" opacity="0.85"/><circle cx="61.3" cy="54.9" r="8.7" fill="#858585" stroke="none" stroke-width="1" /><circle cx="61.3" cy="54.9" r="8.7" fill="none" stroke="#666666" stroke-width="0.95" opacity="0.6" stroke-dasharray="33.89 20.77" transform="rotate(319 61.3 54.9)"/><circle cx="61.3" cy="54.9" r="8.7" fill="none" stroke="#666666" stroke-width="0.7" opacity="0.35"/><circle cx="79.6" cy="43.4" r="7.9" fill="none" stroke="#a6a6a6" stroke-width="1.4" opacity="0.85"/><circle cx="79.6" cy="43.4" r="6.7" fill="#858585" stroke="none" stroke-width="1" /><circle cx="79.6" cy="43.4" r="6.7" fill="none" stroke="#666666" stroke-width="0.95" opacity="0.6" stroke-dasharray="26.1 16" transform="rotate(56 79.6 43.4)"/><circle cx="79.6" cy="43.4" r="6.7" fill="none" stroke="#666666" stroke-width="0.7" opacity="0.35"/><circle cx="42" cy="63.6" r="8.9" fill="none" stroke="#a6a6a6" stroke-width="1.4" opacity="0.85"/><circle cx="42" cy="63.6" r="7.7" fill="#858585" stroke="none" stroke-width="1" /><circle cx="42" cy="63.6" r="7.7" fill="none" stroke="#666666" stroke-width="0.95" opacity="0.6" stroke-dasharray="30 18.38" transform="rotate(153 42 63.6)"/><circle cx="42" cy="63.6" r="7.7" fill="none" stroke="#666666" stroke-width="0.7" opacity="0.35"/><circle cx="23.7" cy="56.8" r="8.9" fill="none" stroke="#a6a6a6" stroke-width="1.4" opacity="0.85"/><circle cx="23.7" cy="56.8" r="7.7" fill="#858585" stroke="none" stroke-width="1" /><circle cx="23.7" cy="56.8" r="7.7" fill="none" stroke="#666666" stroke-width="0.95" opacity="0.6" stroke-dasharray="30 18.38" transform="rotate(250 23.7 56.8)"/><circle cx="23.7" cy="56.8" r="7.7" fill="none" stroke="#666666" stroke-width="0.7" opacity="0.35"/><circle cx="46.8" cy="83.8" r="12.4" fill="none" stroke="#a6a6a6" stroke-width="1.4" opacity="0.85"/><circle cx="46.8" cy="83.8" r="11.2" fill="#858585" stroke="none" stroke-width="1" /><circle cx="46.8" cy="83.8" r="11.2" fill="none" stroke="#666666" stroke-width="0.95" opacity="0.6" stroke-dasharray="43.63 26.74" transform="rotate(347 46.8 83.8)"/><circle cx="46.8" cy="83.8" r="11.2" fill="none" stroke="#666666" stroke-width="0.7" opacity="0.35"/><circle cx="14.1" cy="70.3" r="9.9" fill="none" stroke="#a6a6a6" stroke-width="1.4" opacity="0.85"/><circle cx="14.1" cy="70.3" r="8.7" fill="#858585" stroke="none" stroke-width="1" /><circle cx="14.1" cy="70.3" r="8.7" fill="none" stroke="#666666" stroke-width="0.95" opacity="0.6" stroke-dasharray="33.89 20.77" transform="rotate(84 14.1 70.3)"/><circle cx="14.1" cy="70.3" r="8.7" fill="none" stroke="#666666" stroke-width="0.7" opacity="0.35"/><circle cx="79.6" cy="60.7" r="7.9" fill="none" stroke="#a6a6a6" stroke-width="1.4" opacity="0.85"/><circle cx="79.6" cy="60.7" r="6.7" fill="#858585" stroke="none" stroke-width="1" /><circle cx="79.6" cy="60.7" r="6.7" fill="none" stroke="#666666" stroke-width="0.95" opacity="0.6" stroke-dasharray="26.1 16" transform="rotate(181 79.6 60.7)"/><circle cx="79.6" cy="60.7" r="6.7" fill="none" stroke="#666666" stroke-width="0.7" opacity="0.35"/><circle cx="81.5" cy="20.2" r="8.9" fill="none" stroke="#a6a6a6" stroke-width="1.4" opacity="0.85"/><circle cx="81.5" cy="20.2" r="7.7" fill="#858585" stroke="none" stroke-width="1" /><circle cx="81.5" cy="20.2" r="7.7" fill="none" stroke="#666666" stroke-width="0.95" opacity="0.6" stroke-dasharray="30 18.38" transform="rotate(278 81.5 20.2)"/><circle cx="81.5" cy="20.2" r="7.7" fill="none" stroke="#666666" stroke-width="0.7" opacity="0.35"/><circle cx="68" cy="85.7" r="7.9" fill="none" stroke="#a6a6a6" stroke-width="1.4" opacity="0.85"/><circle cx="68" cy="85.7" r="6.7" fill="#858585" stroke="none" stroke-width="1" /><circle cx="68" cy="85.7" r="6.7" fill="none" stroke="#666666" stroke-width="0.95" opacity="0.6" stroke-dasharray="26.1 16" transform="rotate(15 68 85.7)"/><circle cx="68" cy="85.7" r="6.7" fill="none" stroke="#666666" stroke-width="0.7" opacity="0.35"/></g><text x="5.6" y="88" font-size="5" text-anchor="start" fill="#dcdcdc" opacity="0.9">50nm</text><line x1="20.4" y1="86.3" x2="33.4" y2="86.3" stroke="#f6f6f6" stroke-width="1.1" /></svg></g>

</svg>
</body></html>
